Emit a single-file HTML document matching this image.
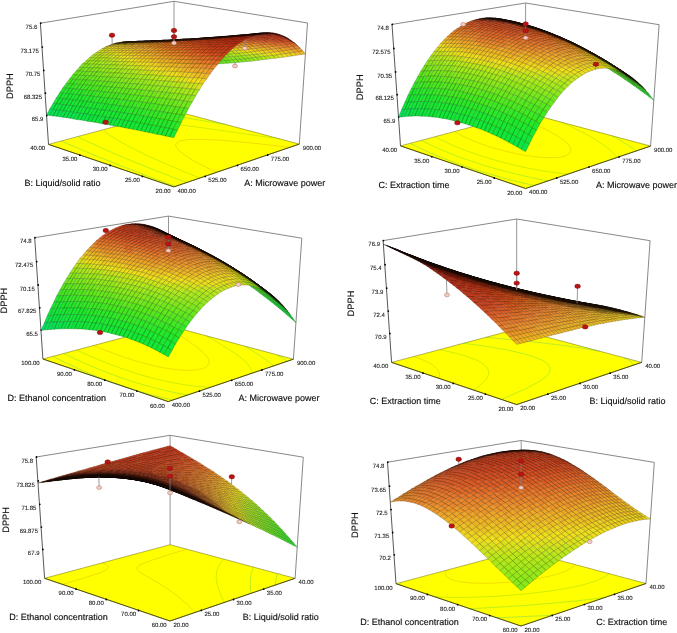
<!DOCTYPE html>
<html><head><meta charset="utf-8"><style>
html,body{margin:0;padding:0;background:#fff;width:677px;height:633px;overflow:hidden}
svg{display:block;filter:blur(0.3px)}
text{text-rendering:geometricPrecision}
.t{font:6px "Liberation Sans",sans-serif;fill:#1a1a1a;stroke:#1a1a1a;stroke-width:.1px}
.a{font:9px "Liberation Sans",sans-serif;fill:#111;stroke:#111;stroke-width:.15px}
.d{font:9.3px "Liberation Sans",sans-serif;fill:#111;stroke:#111;stroke-width:.15px}
.aa{fill:#26e82b;stroke:#116813}.ab{fill:#2de828;stroke:#146812}.ac{fill:#35e826;stroke:#176811}.ad{fill:#3de824;stroke:#1b6810}.ae{fill:#44e821;stroke:#1e680e}.af{fill:#4ce81f;stroke:#22680d}.ag{fill:#55e81e;stroke:#26680d}.ah{fill:#5fe81d;stroke:#2a680d}.ai{fill:#69e81d;stroke:#2f680d}.aj{fill:#73e81d;stroke:#33680d}.ak{fill:#7de81c;stroke:#38680c}.al{fill:#88e81c;stroke:#3d680c}.am{fill:#93e81c;stroke:#42680c}.an{fill:#9ee81c;stroke:#47680c}.ao{fill:#a9e81c;stroke:#4c680c}.ap{fill:#b8e71c;stroke:#52670c}.aq{fill:#cae41c;stroke:#5a660c}.ar{fill:#dce11c;stroke:#63650c}.as{fill:#eede1c;stroke:#6b630c}.at{fill:#eed01f;stroke:#6b5d0d}.au{fill:#eec122;stroke:#6b560f}.av{fill:#eeb325;stroke:#6b5010}.aw{fill:#eea528;stroke:#6b4a12}.ax{fill:#ec9629;stroke:#6a4312}.ay{fill:#e9872a;stroke:#683c12}.az{fill:#e67929;stroke:#673612}.aA{fill:#e26a26;stroke:#652f11}.aB{fill:#de5c24;stroke:#632910}.aC{fill:#d64f20;stroke:#60230e}.aD{fill:#cf441d;stroke:#5d1e0d}.aE{fill:#ca3d1a;stroke:#5a1b0b}.aF{fill:#c63818;stroke:#59190a}.aG{fill:#c23316;stroke:#571609}.aH{fill:#bd2f14;stroke:#551509}.aI{fill:#8fb415;stroke:#405109}.aJ{fill:#9db115;stroke:#464f09}.aK{fill:#abaf15;stroke:#4c4e09}.aL{fill:#b9ad15;stroke:#534d09}.aM{fill:#b9a218;stroke:#53480a}.aN{fill:#b9961a;stroke:#53430b}.aO{fill:#b98b1c;stroke:#533e0c}.aP{fill:#b92a12;stroke:#531208}.aQ{fill:#717f0f;stroke:#323906}.aR{fill:#7b7e0f;stroke:#373806}.aS{fill:#857c0f;stroke:#3b3706}.aT{fill:#857411;stroke:#3b3407}.aU{fill:#b9801f;stroke:#53390d}.aV{fill:#b8751f;stroke:#52340d}.aW{fill:#b56920;stroke:#512f0e}.aX{fill:#b35e1f;stroke:#502a0d}.aY{fill:#b0521d;stroke:#4f240d}.aZ{fill:#ad471c;stroke:#4d1f0c}.a0{fill:#a63d18;stroke:#4a1b0a}.a1{fill:#a13516;stroke:#481709}.a2{fill:#9d2f14;stroke:#461509}.a3{fill:#9a2b12;stroke:#451308}.a4{fill:#972711;stroke:#431107}.a5{fill:#93240f;stroke:#421006}.a6{fill:#90200e;stroke:#400e06}.a7{fill:#856c13;stroke:#3b3008}.a8{fill:#856414;stroke:#3b2d09}.a9{fill:#855c16;stroke:#3b2909}.ba{fill:#845416;stroke:#3b2509}.bb{fill:#824b17;stroke:#3a210a}.bc{fill:#804316;stroke:#391e09}.bd{fill:#7e3b15;stroke:#381a09}.be{fill:#7c3314;stroke:#371609}.bf{fill:#772c11;stroke:#351307}.bg{fill:#732610;stroke:#331107}.bh{fill:#71220e;stroke:#320f06}.bi{fill:#6e1f0d;stroke:#310d05}.bj{fill:#6c1c0c;stroke:#300c05}.bk{fill:#691a0b;stroke:#2f0b04}.bl{fill:#67170a;stroke:#2e0a04}.bm{fill:#631509;stroke:#2c0904}.bn{fill:#504b09;stroke:#242104}.bo{fill:#50460a;stroke:#241f04}.bp{fill:#50410b;stroke:#241d04}.bq{fill:#503c0c;stroke:#241b05}.br{fill:#50380d;stroke:#241905}.bs{fill:#50320d;stroke:#241605}.bt{fill:#4f2d0e;stroke:#231406}.bu{fill:#4e290d;stroke:#231205}.bv{fill:#4c240c;stroke:#221005}.bw{fill:#4b1f0c;stroke:#210d05}.bx{fill:#481a0a;stroke:#200b04}.by{fill:#461709;stroke:#1f0a04}.bz{fill:#441408;stroke:#1e0903}.bA{fill:#431308;stroke:#1e0803}.bB{fill:#411107;stroke:#1d0703}.bC{fill:#400f06;stroke:#1c0602}.bD{fill:#3e0e06;stroke:#1b0602}.bE{fill:#150402;stroke:#090100}.bF{fill:#1c1a03;stroke:#0c0b01}.bG{fill:#1c1803;stroke:#0c0a01}.bH{fill:#1c1704;stroke:#0c0a01}.bI{fill:#1c1504;stroke:#0c0901}.bJ{fill:#1c1304;stroke:#0c0801}.bK{fill:#1c1204;stroke:#0c0801}.bL{fill:#1b1005;stroke:#0c0702}.bM{fill:#1b0e04;stroke:#0c0601}.bN{fill:#1b0c04;stroke:#0c0501}.bO{fill:#1a0b04;stroke:#0b0401}.bP{fill:#190903;stroke:#0b0401}.bQ{fill:#180803;stroke:#0a0301}.bR{fill:#180703;stroke:#0a0301}.bS{fill:#170602;stroke:#0a0200}.bT{fill:#170602;stroke:#0a0200}.bU{fill:#160502;stroke:#090200}.bV{fill:#160502;stroke:#090200}.bW{fill:#3c0d05;stroke:#1b0502}.bX{fill:#3a0c05;stroke:#1a0502}.bY{fill:#8a1e0d;stroke:#3e0d05}.bZ{fill:#b22711;stroke:#501107}.b0{fill:#1ee82d;stroke:#0d6814}.b1{fill:#19e732;stroke:#0b6716}.b2{fill:#1be830;stroke:#0c6815}.b3{fill:#14e737;stroke:#096718}.b4{fill:#16e735;stroke:#096717}.b5{fill:#0de543;stroke:#05671e}.b6{fill:#0fe63c;stroke:#06671b}.b7{fill:#12e639;stroke:#086719}.b8{fill:#07e257;stroke:#036527}.b9{fill:#09e350;stroke:#046624}.ca{fill:#0be449;stroke:#046620}.cb{fill:#83b415;stroke:#3a5109}.cc{fill:#7bb415;stroke:#375109}.cd{fill:#72b415;stroke:#335109}.ce{fill:#6ab415;stroke:#2f5109}.cf{fill:#61b415;stroke:#2b5109}.cg{fill:#59b416;stroke:#285109}.ch{fill:#51b416;stroke:#245109}.ci{fill:#4ab416;stroke:#215109}.cj{fill:#42b417;stroke:#1d510a}.ck{fill:#3bb418;stroke:#1a510a}.cl{fill:#35b419;stroke:#17510b}.cm{fill:#2fb41c;stroke:#15510c}.cn{fill:#67810f;stroke:#2e3a06}.co{fill:#5e810f;stroke:#2a3a06}.cp{fill:#58810f;stroke:#273a06}.cq{fill:#52810f;stroke:#243a06}.cr{fill:#4c810f;stroke:#223a06}.cs{fill:#46810f;stroke:#1f3a06}.ct{fill:#408110;stroke:#1c3a07}.cu{fill:#3a8110;stroke:#1a3a07}.cv{fill:#358110;stroke:#173a07}.cw{fill:#2f8110;stroke:#153a07}.cx{fill:#2a8111;stroke:#123a07}.cy{fill:#4a4c09;stroke:#212204}.cz{fill:#444d09;stroke:#1e2204}.cA{fill:#3e4e09;stroke:#1b2304}.cB{fill:#394e09;stroke:#192304}.cC{fill:#354e09;stroke:#172304}.cD{fill:#314e09;stroke:#162304}.cE{fill:#2e4e09;stroke:#142304}.cF{fill:#2a4e09;stroke:#122304}.cG{fill:#274e09;stroke:#112304}.cH{fill:#234e09;stroke:#0f2304}.cI{fill:#1a1b03;stroke:#0b0c01}.cJ{fill:#181b03;stroke:#0a0c01}.cK{fill:#161b03;stroke:#090c01}.cL{fill:#141b03;stroke:#090c01}.cM{fill:#121b03;stroke:#080c01}.cN{fill:#111b03;stroke:#070c01}.cO{fill:#101b03;stroke:#070c01}.cP{fill:#0f1b03;stroke:#060c01}.cQ{fill:#29b41d;stroke:#12510d}.cR{fill:#23b41f;stroke:#0f510d}.cS{fill:#17b423;stroke:#0a510f}.cT{fill:#15b425;stroke:#095110}.cU{fill:#228114;stroke:#0f3a09}.cV{fill:#198116;stroke:#0b3a09}.cW{fill:#158118;stroke:#093a0a}.cX{fill:#268112;stroke:#113a08}.cY{fill:#1d8115;stroke:#0d3a09}.cZ{fill:#204e09;stroke:#0e2304}.c0{fill:#1c4e0a;stroke:#0c2304}.c1{fill:#194e0a;stroke:#0b2304}.c2{fill:#174e0b;stroke:#0a2304}.c3{fill:#0d1b03;stroke:#050c01}.c4{fill:#0c1b03;stroke:#050c01}.c5{fill:#0b1b03;stroke:#040c01}.c6{fill:#0a1b03;stroke:#040c01}.c7{fill:#03e064;stroke:#01642d}.c8{fill:#05e15d;stroke:#026529}.c9{fill:#5f1408;stroke:#2a0903}.da{fill:#140401;stroke:#090100}.db{fill:#5b1307;stroke:#280803}.dc{fill:#370b04;stroke:#180401}.dd{fill:#130401;stroke:#080100}.de{fill:#350a04;stroke:#170401}.df{fill:#120301;stroke:#080100}.dg{fill:#851c0c;stroke:#3b0c05}.dh{fill:#320904;stroke:#160401}.di{fill:#120301;stroke:#080100}.dj{fill:#571107;stroke:#270703}.dk{fill:#7f1a0a;stroke:#390b04}.dl{fill:#ab2510;stroke:#4c1007}.dm{fill:#300803;stroke:#150301}.dn{fill:#110301;stroke:#070100}.do{fill:#7a180a;stroke:#360a04}.dp{fill:#a4220e;stroke:#490f06}.dq{fill:#2e0803;stroke:#140301}.dr{fill:#100201;stroke:#070000}.ds{fill:#541006;stroke:#250702}.dt{fill:#9d200d;stroke:#460e05}
</style></head><body>
<svg width="677" height="633" viewBox="0 0 677 633">
<rect width="677" height="633" fill="#fff"/>
<path d="M40.4 23.2L174 1.3" stroke="#7a7a7a" stroke-width="0.9"/>
<path d="M174 1.3L307.5 23" stroke="#7a7a7a" stroke-width="0.9"/>
<path d="M174 1.3L174 110.7" stroke="#8a8a8a" stroke-width="0.9"/>
<path d="M307.5 23L299.3 144.1" stroke="#7a7a7a" stroke-width="0.9"/>
<path d="M40.4 23.2L48.5 144.4" stroke="#444" stroke-width="0.9"/>
<circle cx="40.7" cy="23.2" r="0.9"/>
<text x="37.3" y="28.8" text-anchor="end" class="t">75.6</text>
<circle cx="42.3" cy="47.1" r="0.9"/>
<text x="38.9" y="52.7" text-anchor="end" class="t">73.175</text>
<circle cx="43.8" cy="70.4" r="0.9"/>
<text x="40.4" y="76" text-anchor="end" class="t">70.75</text>
<circle cx="45.4" cy="93.2" r="0.9"/>
<text x="42" y="98.8" text-anchor="end" class="t">68.325</text>
<circle cx="46.8" cy="115.5" r="0.9"/>
<text x="43.4" y="121.1" text-anchor="end" class="t">65.9</text>
<path d="M48.5 144.4L173.9 186.9 299.3 144.1 174 110.7Z" fill="#ffff00" stroke="#6a6a00" stroke-width="0.5"/>
<g fill="none" stroke-width="0.55" stroke-opacity="0.5"><path d="M175.3 186.4 171.9 185.1 168.6 183.9 165.3 182.7 162 181.4 158.7 180.2 155.4 179 152.2 177.8 149 176.6 145.9 175.4 142.7 174.2 139.6 173 136.6 171.8 133.5 170.6 130.5 169.4 127.5 168.3 124.6 167.1 121.6 166 118.7 164.8 115.8 163.7 113 162.5 110.1 161.4 107.3 160.3 104.5 159.2 101.8 158.1 99 157 96.4 155.9 93.7 154.8 91 153.7 88.4 152.6 85.8 151.5 83.2 150.4 80.7 149.3 78.1 148.3 75.6 147.2 73.2 146.2 70.7 145.1 68.3 144.1 65.9 143 63.5 142 61.2 140.9" stroke="#00b6a2"/><path d="M186.6 182.5 183.3 181.3 180.1 180 176.8 178.8 173.6 177.6 170.5 176.3 167.3 175.1 164.2 173.9 161.1 172.7 158 171.5 155 170.3 152 169.1 149 167.9 146.1 166.7 143.2 165.5 140.3 164.3 137.9 163.4 134.6 162 131.8 160.9 129 159.7 126.3 158.6 123.5 157.4 120.9 156.3 118.2 155.2 115.5 154 112.9 152.9 110.4 151.8 107.8 150.7 105.3 149.6 102.8 148.5 100.3 147.4 97.9 146.3 95.5 145.2 93.1 144.1 90.8 143 88.5 142 86.2 140.9 83.9 139.8 79.5 137.7 77.3 136.6M225.6 124.5 219.7 123.5 216 122.9 212.3 122.3 208.6 121.7 204.9 121 201.3 120.4 197.7 119.8 194.6 119.3 190.5 118.6 186.9 118 183.3 117.4 179.8 116.8 176.3 116.2 172.7 115.6 169.2 115 165.8 114.4 162.3 113.8" stroke="#12c65f"/><path d="M199.8 178.1 196.6 176.8 193.5 175.5 190.4 174.3 187.3 173 184.3 171.7 181.3 170.5 178.4 169.2 175.5 168 172.6 166.8 169.7 165.6 166.9 164.3 164.1 163.1 161.4 161.9 158.7 160.7 156 159.5 153.3 158.3 150.7 157.1 148.1 155.9 145.6 154.7 143.1 153.5 140.6 152.3 138.2 151.1 135.8 150 133.5 148.8 131.2 147.6 128.9 146.4 126.6 145.3 122.4 142.9 118.3 140.6 114.4 138.2 112.1 136.8 109 134.6 105.9 132.2 103.9 130.5 103.1 129.7M279.9 139 274 138.1 269.8 137.5 266.4 137 261.4 136.3 257.2 135.7 253.1 135.1 248.9 134.5 244.8 133.9 240.7 133.3 236.6 132.7 232.5 132.1 228.4 131.5 224.4 130.9 220.3 130.3 216.3 129.8 212.2 129.2 208.2 128.6 204.2 128.1 200.2 127.5 196.1 126.9 192.2 126.4 188.1 125.9 184.1 125.3 180.1 124.8 176.1 124.3 172 123.8 168.3 123.3 163.9 122.8 159.9 122.3 155.7 121.8 151.6 121.4 148.8 121.1 143.1 120.5 140.1 120.2 138.8 120.1" stroke="#5abe00"/><path d="M216.5 172.4 213.7 171 210.9 169.7 208.1 168.3 205.5 167 202.8 165.6 200.2 164.3 197.7 163 195.3 161.6 192.9 160.3 190.6 158.9 188.4 157.5 186.2 156.1 182.3 153.3 178.9 150.4 176.3 147.3 175.6 144.7 178.1 141.8 180.9 140.7 184.5 140 189.1 139.5 194.4 139.3 200.6 139.3 207.4 139.5 213.5 139.8 218.6 140.1 223.1 140.4 228.6 140.8 231.9 141.1 238.2 141.7 241.2 142 247.7 142.6 251 143 257.1 143.6 261.2 144 266.5 144.7 271.2 145.2 275.8 145.7 280.5 146.3 285.2 146.8 289.8 147.4" stroke="#c88c00"/></g>
<path d="M48.5 144.4L173.9 186.9 299.3 144.1" fill="none" stroke="#3a3a00" stroke-width="0.8"/>
<text x="45.2" y="150.4" text-anchor="end" class="t">40.00</text>
<circle cx="79.9" cy="155.2" r="0.9"/>
<text x="77.4" y="161" text-anchor="end" class="t">35.00</text>
<circle cx="110.2" cy="165.5" r="0.9"/>
<text x="107.7" y="171.3" text-anchor="end" class="t">30.00</text>
<circle cx="142.4" cy="176.4" r="0.9"/>
<text x="139.9" y="182.2" text-anchor="end" class="t">25.00</text>
<text x="170.6" y="192.9" text-anchor="end" class="t">20.00</text>
<text x="177.4" y="192.7" class="t">400.00</text>
<circle cx="205.2" cy="176.4" r="0.9"/>
<text x="208.3" y="182.2" class="t">525.00</text>
<circle cx="237.5" cy="165.4" r="0.9"/>
<text x="240.6" y="171.2" class="t">650.00</text>
<circle cx="267.7" cy="155" r="0.9"/>
<text x="270.8" y="160.8" class="t">775.00</text>
<text x="302.8" y="149.9" class="t">900.00</text>
<text x="62.4" y="186" class="a" text-anchor="middle">B: Liquid/solid ratio</text>
<text x="284.7" y="186" class="a" text-anchor="middle">A: Microwave power</text>
<text transform="translate(13.1 99) rotate(-90)" class="d">DPPH</text>
<g transform="scale(.25)" stroke-width="1.2"><path class=aa d="M698 250l12 12 -14 0 -11-11z"/><path class=ab d="M712 250l11 12 -13 0 -12-12zm13 0l12 12 -14 0 -11-12z"/><path class=ac d="M739 250l12 11 -14 1 -12-12zm14-1l12 12 -14 0 -12-11z"/><path class=ad d="M767 249l12 12 -14 0 -12-12zm15-1l11 12 -14 1 -12-12z"/><path class=ae d="M796 247l11 12 -14 1 -11-12zm14 0l12 12 -15 0 -11-12z"/><path class=af d="M825 246l11 12 -14 1 -12-12zm14-1l12 12 -15 1 -11-12z"/><path class=ag d="M854 244l11 12 -14 1 -12-12zm15-1l11 12 -15 1 -11-12z"/><path class=ah d="M884 242l11 12 -15 1 -11-12z"/><path class=ai d="M899 241l11 12 -15 1 -11-12zm15-1l11 12 -15 1 -11-12z"/><path class=aj d="M930 238l11 13 -16 1 -11-12z"/><path class=ak d="M945 237l11 12 -15 2 -11-13zm16-1l11 12 -16 1 -11-12z"/><path class=al d="M976 234l11 12 -15 2 -11-12zm16-2l11 13 -16 1 -11-12z"/><path class=am d="M1008 231l11 12 -16 2 -11-13z"/><path class=an d="M1024 229l11 12 -16 2 -11-12zm16-2l11 12 -16 2 -11-12z"/><path class=ao d="M1057 225l11 12 -17 2 -11-12z"/><path class=ap d="M1073 223l11 12 -16 2 -11-12z"/><path class=aq d="M1090 221l11 12 -17 2 -11-12zm17-2l11 12 -17 2 -11-12z"/><path class=ar d="M1124 216l11 13 -17 2 -11-12z"/><path class=as d="M1141 214l11 12 -17 3 -11-13z"/><path class=at d="M1158 211l11 13 -17 2 -11-12zm18-2l10 12 -17 3 -11-13z"/><path class=au d="M1193 206l11 12 -18 3 -10-12z"/><path class=av d="M1211 203l11 13 -18 2 -11-12z"/><path class=ac d="M686 239l12 11 -13 1 -12-11z"/><path class=ad d="M700 239l12 11 -14 0 -12-11zm14 0l11 11 -13 0 -12-11z"/><path class=ae d="M728 238l11 12 -14 0 -11-11zm14 0l11 11 -14 1 -11-12z"/><path class=af d="M756 237l11 12 -14 0 -11-11zm14 0l12 11 -15 1 -11-12z"/><path class=ag d="M784 236l12 11 -14 1 -12-11zm15-1l11 12 -14 0 -12-11z"/><path class=ah d="M813 235l12 11 -15 1 -11-12zm15-1l11 11 -14 1 -12-11z"/><path class=ai d="M843 233l11 11 -15 1 -11-11z"/><path class=aj d="M858 232l11 11 -15 1 -11-11zm15-1l11 11 -15 1 -11-11z"/><path class=ak d="M888 230l11 11 -15 1 -11-11zm15-2l11 12 -15 1 -11-11z"/><path class=al d="M918 227l12 11 -16 2 -11-12z"/><path class=am d="M934 226l11 11 -15 1 -12-11zm15-2l12 12 -16 1 -11-11z"/><path class=an d="M965 223l11 11 -15 2 -12-12zm16-2l11 11 -16 2 -11-11z"/><path class=ao d="M997 219l11 12 -16 1 -11-11z"/><path class=ap d="M1013 218l11 11 -16 2 -11-12zm16-2l11 11 -16 2 -11-11z"/><path class=aq d="M1046 214l11 11 -17 2 -11-11z"/><path class=ar d="M1062 212l11 11 -16 2 -11-11z"/><path class=as d="M1079 210l11 11 -17 2 -11-11zm17-3l11 12 -17 2 -11-11z"/><path class=at d="M1113 205l11 11 -17 3 -11-12z"/><path class=au d="M1130 203l11 11 -17 2 -11-11zm17-3l11 11 -17 3 -11-11z"/><path class=av d="M1165 198l11 11 -18 2 -11-11z"/><path class=aw d="M1183 195l10 11 -17 3 -11-11z"/><path class=ax d="M1200 192l11 11 -18 3 -10-11z"/><path class=ae d="M675 229l11 10 -13 1 -12-11z"/><path class=af d="M688 229l12 10 -14 0 -11-10zm14-1l12 11 -14 0 -12-10z"/><path class=ag d="M716 228l12 10 -14 1 -12-11zm14-1l12 11 -14 0 -12-10z"/><path class=ah d="M744 227l12 10 -14 1 -12-11zm14-1l12 11 -14 0 -12-10z"/><path class=ai d="M773 226l11 10 -14 1 -12-11zm14-1l12 10 -15 1 -11-10z"/><path class=aj d="M802 224l11 11 -14 0 -12-10zm14-1l12 11 -15 1 -11-11z"/><path class=ak d="M831 222l12 11 -15 1 -12-11zm15-1l12 11 -15 1 -12-11z"/><path class=al d="M861 220l12 11 -15 1 -12-11z"/><path class=am d="M876 219l12 11 -15 1 -12-11zm16-1l11 10 -15 2 -12-11z"/><path class=an d="M907 216l11 11 -15 1 -11-10zm15-1l12 11 -16 1 -11-11z"/><path class=ao d="M938 213l11 11 -15 2 -12-11z"/><path class=ap d="M954 212l11 11 -16 1 -11-11zm16-2l11 11 -16 2 -11-11z"/><path class=aq d="M986 209l11 10 -16 2 -11-11z"/><path class=ar d="M1002 207l11 11 -16 1 -11-10zm16-2l11 11 -16 2 -11-11z"/><path class=as d="M1035 203l11 11 -17 2 -11-11z"/><path class=at d="M1051 201l11 11 -16 2 -11-11zm17-2l11 11 -17 2 -11-11z"/><path class=au d="M1085 197l11 10 -17 3 -11-11z"/><path class=av d="M1102 194l11 11 -17 2 -11-10z"/><path class=aw d="M1119 192l11 11 -17 2 -11-11zm17-2l11 10 -17 3 -11-11z"/><path class=ax d="M1154 187l11 11 -18 2 -11-10z"/><path class=ay d="M1172 184l11 11 -18 3 -11-11zm17-2l11 10 -17 3 -11-11z"/><path class=ag d="M663 219l12 10 -14 0 -12-9z"/><path class=ah d="M677 219l11 10 -13 0 -12-10zm13 0l12 9 -14 1 -11-10zm14-1l12 10 -14 0 -12-9z"/><path class=ai d="M718 218l12 9 -14 1 -12-10zm15-1l11 10 -14 0 -12-9z"/><path class=aj d="M747 216l11 10 -14 1 -11-10z"/><path class=ak d="M761 216l12 10 -15 0 -11-10zm15-1l11 10 -14 1 -12-10z"/><path class=al d="M790 214l12 10 -15 1 -11-10zm15-1l11 10 -14 1 -12-10z"/><path class=am d="M820 212l11 10 -15 1 -11-10zm15-1l11 10 -15 1 -11-10z"/><path class=an d="M850 210l11 10 -15 1 -11-10zm15-1l11 10 -15 1 -11-10z"/><path class=ao d="M880 208l12 10 -16 1 -11-10z"/><path class=ap d="M895 206l12 10 -15 2 -12-10zm16-1l11 10 -15 1 -12-10z"/><path class=aq d="M927 204l11 9 -16 2 -11-10zm15-2l12 10 -16 1 -11-9z"/><path class=ar d="M958 200l12 10 -16 2 -12-10z"/><path class=as d="M974 199l12 10 -16 1 -12-10zm17-2l11 10 -16 2 -12-10z"/><path class=at d="M1007 195l11 10 -16 2 -11-10z"/><path class=au d="M1023 193l12 10 -17 2 -11-10zm17-2l11 10 -16 2 -12-10z"/><path class=av d="M1057 189l11 10 -17 2 -11-10z"/><path class=aw d="M1074 187l11 10 -17 2 -11-10zm17-2l11 9 -17 3 -11-10z"/><path class=ax d="M1108 182l11 10 -17 2 -11-9z"/><path class=ay d="M1125 180l11 10 -17 2 -11-10z"/><path class=az d="M1143 177l11 10 -18 3 -11-10zm18-2l11 9 -18 3 -11-10z"/><path class=aA d="M1178 172l11 10 -17 2 -11-9z"/><path class=ai d="M651 210l12 9 -14 1 -12-9zm14 0l12 9 -14 0 -12-9z"/><path class=aj d="M679 210l11 9 -13 0 -12-9zm14-1l11 9 -14 1 -11-9z"/><path class=ak d="M707 209l11 9 -14 0 -11-9zm14-1l12 9 -15 1 -11-9z"/><path class=al d="M735 207l12 9 -14 1 -12-9zm14 0l12 9 -14 0 -12-9z"/><path class=am d="M764 206l12 9 -15 1 -12-9zm14-1l12 9 -14 1 -12-9z"/><path class=an d="M793 204l12 9 -15 1 -12-9zm15-1l12 9 -15 1 -12-9z"/><path class=ao d="M823 202l12 9 -15 1 -12-9z"/><path class=ap d="M838 201l12 9 -15 1 -12-9zm15-1l12 9 -15 1 -12-9z"/><path class=aq d="M868 199l12 9 -15 1 -12-9zm16-2l11 9 -15 2 -12-9z"/><path class=ar d="M899 196l12 9 -16 1 -11-9zm16-1l12 9 -16 1 -12-9z"/><path class=as d="M931 193l11 9 -15 2 -12-9z"/><path class=at d="M947 191l11 9 -16 2 -11-9zm16-1l11 9 -16 1 -11-9z"/><path class=au d="M979 188l12 9 -17 2 -11-9z"/><path class=av d="M995 186l12 9 -16 2 -12-9zm17-2l11 9 -16 2 -12-9z"/><path class=aw d="M1029 182l11 9 -17 2 -11-9z"/><path class=ax d="M1045 180l12 9 -17 2 -11-9zm17-2l12 9 -17 2 -12-9z"/><path class=ay d="M1079 176l12 9 -17 2 -12-9z"/><path class=az d="M1097 174l11 8 -17 3 -12-9zm17-3l11 9 -17 2 -11-8z"/><path class=aA d="M1132 169l11 8 -18 3 -11-9z"/><path class=aB d="M1149 166l12 9 -18 2 -11-8z"/><path class=aC d="M1167 164l11 8 -17 3 -12-9z"/><path class=aj d="M639 202l12 8 -14 1 -12-8z"/><path class=ak d="M653 202l12 8 -14 0 -12-8zm14-1l12 9 -14 0 -12-8z"/><path class=al d="M681 201l12 8 -14 1 -12-9zm14-1l12 9 -14 0 -12-8z"/><path class=am d="M709 200l12 8 -14 1 -12-9zm14-1l12 8 -14 1 -12-8z"/><path class=an d="M737 198l12 9 -14 0 -12-8zm15 0l12 8 -15 1 -12-9z"/><path class=ao d="M767 197l11 8 -14 1 -12-8zm14-1l12 8 -15 1 -11-8z"/><path class=ap d="M796 195l12 8 -15 1 -12-8zm15-1l12 8 -15 1 -12-8z"/><path class=aq d="M826 193l12 8 -15 1 -12-8z"/><path class=ar d="M841 192l12 8 -15 1 -12-8zm16-2l11 9 -15 1 -12-8z"/><path class=as d="M872 189l12 8 -16 2 -11-9zm16-1l11 8 -15 1 -12-8z"/><path class=at d="M903 186l12 9 -16 1 -11-8z"/><path class=au d="M919 185l12 8 -16 2 -12-9zm16-2l12 8 -16 2 -12-8z"/><path class=av d="M951 182l12 8 -16 1 -12-8zm16-2l12 8 -16 2 -12-8z"/><path class=aw d="M984 178l11 8 -16 2 -12-8z"/><path class=ax d="M1000 176l12 8 -17 2 -11-8zm17-2l12 8 -17 2 -12-8z"/><path class=ay d="M1034 172l11 8 -16 2 -12-8z"/><path class=az d="M1051 170l11 8 -17 2 -11-8zm17-2l11 8 -17 2 -11-8z"/><path class=aA d="M1085 166l12 8 -18 2 -11-8z"/><path class=aB d="M1103 163l11 8 -17 3 -12-8z"/><path class=aC d="M1120 161l12 8 -18 2 -11-8zm18-2l11 7 -17 3 -12-8z"/><path class=aD d="M1156 156l11 8 -18 2 -11-7z"/><path class=al d="M627 195l12 7 -14 1 -12-8zm14 0l12 7 -14 0 -12-7z"/><path class=am d="M655 194l12 7 -14 1 -12-7zm14 0l12 7 -14 0 -12-7z"/><path class=an d="M683 193l12 7 -14 1 -12-7zm14-1l12 8 -14 0 -12-7z"/><path class=ao d="M711 192l12 7 -14 1 -12-8zm14-1l12 7 -14 1 -12-7z"/><path class=ap d="M740 190l12 8 -15 0 -12-7zm15-1l12 8 -15 1 -12-8z"/><path class=aq d="M769 188l12 8 -14 1 -12-8zm15 0l12 7 -15 1 -12-8z"/><path class=ar d="M799 186l12 8 -15 1 -12-7zm15-1l12 8 -15 1 -12-8z"/><path class=as d="M829 184l12 8 -15 1 -12-8z"/><path class=at d="M845 183l12 7 -16 2 -12-8zm15-1l12 7 -15 1 -12-7z"/><path class=au d="M876 180l12 8 -16 1 -12-7zm15-1l12 7 -15 2 -12-8z"/><path class=av d="M907 178l12 7 -16 1 -12-7z"/><path class=aw d="M923 176l12 7 -16 2 -12-7zm16-2l12 8 -16 1 -12-7z"/><path class=ax d="M956 173l11 7 -16 2 -12-8zm16-2l12 7 -17 2 -11-7z"/><path class=ay d="M989 169l11 7 -16 2 -12-7z"/><path class=az d="M1005 167l12 7 -17 2 -11-7zm17-2l12 7 -17 2 -12-7z"/><path class=aA d="M1039 163l12 7 -17 2 -12-7z"/><path class=aB d="M1056 161l12 7 -17 2 -12-7zm18-2l11 7 -17 2 -12-7z"/><path class=aC d="M1091 157l12 6 -18 3 -11-7z"/><path class=aD d="M1109 154l11 7 -17 2 -12-6zm17-2l12 7 -18 2 -11-7z"/><path class=aE d="M1144 149l12 7 -18 3 -12-7z"/><path class=am d="M615 188l12 7 -14 0 -12-6z"/><path class=an d="M629 188l12 7 -14 0 -12-7zm13 0l13 6 -14 1 -12-7z"/><path class=ao d="M656 187l13 7 -14 0 -13-6zm14-1l13 7 -14 1 -13-7z"/><path class=ap d="M685 186l12 6 -14 1 -13-7zm14-1l12 7 -14 0 -12-6z"/><path class=aq d="M713 184l12 7 -14 1 -12-7zm15 0l12 6 -15 1 -12-7z"/><path class=ar d="M742 183l13 6 -15 1 -12-6zm15-1l12 6 -14 1 -13-6z"/><path class=as d="M772 181l12 7 -15 0 -12-6zm15-1l12 6 -15 2 -12-7z"/><path class=at d="M802 179l12 6 -15 1 -12-6zm15-1l12 6 -15 1 -12-6z"/><path class=au d="M833 177l12 6 -16 1 -12-6zm15-2l12 7 -15 1 -12-6z"/><path class=av d="M864 174l12 6 -16 2 -12-7z"/><path class=aw d="M879 173l12 6 -15 1 -12-6zm16-2l12 7 -16 1 -12-6z"/><path class=ax d="M911 170l12 6 -16 2 -12-7zm16-2l12 6 -16 2 -12-6z"/><path class=ay d="M944 166l12 7 -17 1 -12-6z"/><path class=az d="M960 165l12 6 -16 2 -12-7zm17-2l12 6 -17 2 -12-6z"/><path class=aA d="M993 161l12 6 -16 2 -12-6z"/><path class=aB d="M1010 159l12 6 -17 2 -12-6zm17-2l12 6 -17 2 -12-6z"/><path class=aC d="M1044 155l12 6 -17 2 -12-6z"/><path class=aD d="M1062 153l12 6 -18 2 -12-6zm17-2l12 6 -17 2 -12-6z"/><path class=aE d="M1097 148l12 6 -18 3 -12-6z"/><path class=aF d="M1115 146l11 6 -17 2 -12-6zm18-2l11 5 -18 3 -11-6z"/><path class=an d="M602 183l13 5 -14 1 -12-6z"/><path class=ao d="M616 182l13 6 -14 0 -13-5zm14 0l12 6 -13 0 -13-6z"/><path class=ap d="M644 181l12 6 -14 1 -12-6zm14 0l12 5 -14 1 -12-6z"/><path class=aq d="M672 180l13 6 -15 0 -12-5zm15-1l12 6 -14 1 -13-6z"/><path class=ar d="M701 179l12 5 -14 1 -12-6zm15-1l12 6 -15 0 -12-5z"/><path class=as d="M730 177l12 6 -14 1 -12-6zm15-1l12 6 -15 1 -12-6z"/><path class=at d="M760 175l12 6 -15 1 -12-6zm15-1l12 6 -15 1 -12-6z"/><path class=au d="M790 173l12 6 -15 1 -12-6zm15-1l12 6 -15 1 -12-6z"/><path class=av d="M821 171l12 6 -16 1 -12-6z"/><path class=aw d="M836 170l12 5 -15 2 -12-6zm16-2l12 6 -16 1 -12-5z"/><path class=ax d="M867 167l12 6 -15 1 -12-6zm16-1l12 5 -16 2 -12-6z"/><path class=ay d="M899 164l12 6 -16 1 -12-5z"/><path class=az d="M915 163l12 5 -16 2 -12-6zm17-2l12 5 -17 2 -12-5z"/><path class=aA d="M948 159l12 6 -16 1 -12-5zm17-1l12 5 -17 2 -12-6z"/><path class=aB d="M981 156l12 5 -16 2 -12-5z"/><path class=aC d="M998 154l12 5 -17 2 -12-5zm17-2l12 5 -17 2 -12-5z"/><path class=aD d="M1032 150l12 5 -17 2 -12-5z"/><path class=aE d="M1050 148l12 5 -18 2 -12-5zm17-2l12 5 -17 2 -12-5z"/><path class=aF d="M1085 144l12 4 -18 3 -12-5z"/><path class=aG d="M1103 141l12 5 -18 2 -12-4zm18-2l12 5 -18 2 -12-5z"/><path class=ao d="M590 178l12 5 -13 0 -13-5z"/><path class=ap d="M604 177l12 5 -14 1 -12-5zm14 0l12 5 -14 0 -12-5z"/><path class=aq d="M632 176l12 5 -14 1 -12-5zm14 0l12 5 -14 0 -12-5z"/><path class=ar d="M660 175l12 5 -14 1 -12-5zm14-1l13 5 -15 1 -12-5z"/><path class=as d="M689 174l12 5 -14 0 -13-5zm14-1l13 5 -15 1 -12-5z"/><path class=at d="M718 172l12 5 -14 1 -13-5zm15-1l12 5 -15 1 -12-5z"/><path class=au d="M748 170l12 5 -15 1 -12-5zm15-1l12 5 -15 1 -12-5z"/><path class=av d="M778 168l12 5 -15 1 -12-5z"/><path class=aw d="M793 167l12 5 -15 1 -12-5zm15-1l13 5 -16 1 -12-5z"/><path class=ax d="M824 165l12 5 -15 1 -13-5zm15-1l13 4 -16 2 -12-5z"/><path class=ay d="M855 162l12 5 -15 1 -13-4zm16-1l12 5 -16 1 -12-5z"/><path class=az d="M887 160l12 4 -16 2 -12-5z"/><path class=aA d="M903 158l12 5 -16 1 -12-4zm17-1l12 4 -17 2 -12-5z"/><path class=aB d="M936 155l12 4 -16 2 -12-4zm17-2l12 5 -17 1 -12-4z"/><path class=aC d="M969 152l12 4 -16 2 -12-5z"/><path class=aD d="M986 150l12 4 -17 2 -12-4zm17-2l12 4 -17 2 -12-4z"/><path class=aE d="M1020 146l12 4 -17 2 -12-4zm18-2l12 4 -18 2 -12-4z"/><path class=aF d="M1055 142l12 4 -17 2 -12-4z"/><path class=aG d="M1073 140l12 4 -18 2 -12-4zm18-3l12 4 -18 3 -12-4z"/><path class=aH d="M1109 135l12 4 -18 2 -12-4z"/><path class=aI d="M578 174l12 4 -14 0 -12-4z"/><path class=aJ d="M591 173l13 4 -14 1 -12-4zm14 0l13 4 -14 0 -13-4z"/><path class=aK d="M619 172l13 4 -14 1 -13-4zm14 0l13 4 -14 0 -13-4z"/><path class=aL d="M648 171l12 4 -14 1 -13-4zm14-1l12 4 -14 1 -12-4z"/><path class=aM d="M676 170l13 4 -15 0 -12-4zm15-1l12 4 -14 1 -13-4z"/><path class=aN d="M706 168l12 4 -15 1 -12-4zm14-1l13 4 -15 1 -12-4z"/><path class=aO d="M735 166l13 4 -15 1 -13-4zm15-1l13 4 -15 1 -13-4z"/><path class=aw d="M765 164l13 4 -15 1 -13-4zm16-1l12 4 -15 1 -13-4z"/><path class=ax d="M796 162l12 4 -15 1 -12-4z"/><path class=ay d="M811 161l13 4 -16 1 -12-4zm16-1l12 4 -15 1 -13-4z"/><path class=az d="M843 159l12 3 -16 2 -12-4zm16-2l12 4 -16 1 -12-3z"/><path class=aA d="M875 156l12 4 -16 1 -12-4zm16-1l12 3 -16 2 -12-4z"/><path class=aB d="M907 153l13 4 -17 1 -12-3z"/><path class=aC d="M924 152l12 3 -16 2 -13-4zm16-2l13 3 -17 2 -12-3z"/><path class=aD d="M957 148l12 4 -16 1 -13-3zm17-1l12 3 -17 2 -12-4z"/><path class=aE d="M991 145l12 3 -17 2 -12-3z"/><path class=aF d="M1008 143l12 3 -17 2 -12-3zm17-2l13 3 -18 2 -12-3z"/><path class=aG d="M1043 139l12 3 -17 2 -13-3z"/><path class=aH d="M1061 137l12 3 -18 2 -12-3zm17-2l13 2 -18 3 -12-3z"/><path class=aP d="M1096 132l13 3 -18 2 -13-2z"/><path class=aQ d="M565 170l13 4 -14 0 -13-3z"/><path class=aR d="M579 170l12 3 -13 1 -13-4zm14 0l12 3 -14 0 -12-3z"/><path class=aS d="M607 169l12 3 -14 1 -12-3zm14-1l12 4 -14 0 -12-3z"/><path class=aT d="M635 168l13 3 -15 1 -12-4zm14-1l13 3 -14 1 -13-3z"/><path class=aN d="M664 167l12 3 -14 0 -13-3zm14-1l13 3 -15 1 -12-3z"/><path class=aO d="M693 165l13 3 -15 1 -13-3zm15-1l12 3 -14 1 -13-3z"/><path class=aU d="M723 163l12 3 -15 1 -12-3zm15-1l12 3 -15 1 -12-3z"/><path class=aV d="M753 162l12 2 -15 1 -12-3zm15-1l13 2 -16 1 -12-2z"/><path class=aW d="M784 159l12 3 -15 1 -13-2zm15-1l12 3 -15 1 -12-3z"/><path class=aX d="M815 157l12 3 -16 1 -12-3zm15-1l13 3 -16 1 -12-3z"/><path class=aY d="M846 155l13 2 -16 2 -13-3z"/><path class=aZ d="M862 153l13 3 -16 1 -13-2zm17-1l12 3 -16 1 -13-3z"/><path class=a0 d="M895 151l12 2 -16 2 -12-3zm16-2l13 3 -17 1 -12-2z"/><path class=a1 d="M928 148l12 2 -16 2 -13-3zm17-2l12 2 -17 2 -12-2z"/><path class=a2 d="M962 144l12 3 -17 1 -12-2z"/><path class=a3 d="M979 143l12 2 -17 2 -12-3zm17-2l12 2 -17 2 -12-2z"/><path class=a4 d="M1013 139l12 2 -17 2 -12-2z"/><path class=a5 d="M1031 137l12 2 -18 2 -12-2zm17-2l13 2 -18 2 -12-2z"/><path class=a6 d="M1066 133l12 2 -17 2 -13-2zm18-2l12 1 -18 3 -12-2z"/><path class=aR d="M553 168l12 2 -14 1 -12-3z"/><path class=aS d="M566 168l13 2 -14 0 -12-2zm14-1l13 3 -14 0 -13-2zm14 0l13 2 -14 1 -13-3z"/><path class=aT d="M608 166l13 2 -14 1 -13-2zm15 0l12 2 -14 0 -13-2z"/><path class=a7 d="M637 165l12 2 -14 1 -12-2zm14-1l13 3 -15 0 -12-2z"/><path class=a8 d="M666 164l12 2 -14 1 -13-3zm14-1l13 2 -15 1 -12-2z"/><path class=a9 d="M695 162l13 2 -15 1 -13-2zm15-1l13 2 -15 1 -13-2z"/><path class=ba d="M725 160l13 2 -15 1 -13-2zm15-1l13 3 -15 0 -13-2z"/><path class=bb d="M756 159l12 2 -15 1 -13-3zm15-2l13 2 -16 2 -12-2z"/><path class=bc d="M786 156l13 2 -15 1 -13-2z"/><path class=bd d="M802 155l13 2 -16 1 -13-2zm16-1l12 2 -15 1 -13-2z"/><path class=be d="M834 153l12 2 -16 1 -12-2zm16-1l12 1 -16 2 -12-2z"/><path class=bf d="M866 150l13 2 -17 1 -12-1zm16-1l13 2 -16 1 -13-2z"/><path class=bg d="M899 148l12 1 -16 2 -13-2zm16-2l13 2 -17 1 -12-1z"/><path class=bh d="M932 145l13 1 -17 2 -13-2z"/><path class=bi d="M949 143l13 1 -17 2 -13-1zm17-2l13 2 -17 1 -13-1z"/><path class=bj d="M983 140l13 1 -17 2 -13-2zm18-2l12 1 -17 2 -13-1z"/><path class=bk d="M1018 136l13 1 -18 2 -12-1z"/><path class=bl d="M1036 134l12 1 -17 2 -13-1zm18-2l12 1 -18 2 -12-1z"/><path class=bm d="M1072 130l12 1 -18 2 -12-1z"/><path class=bn d="M540 167l13 1 -14 0 -13-1zm14-1l12 2 -13 0 -13-1z"/><path class=bo d="M568 166l12 1 -14 1 -12-2zm14-1l12 2 -14 0 -12-1z"/><path class=bp d="M596 165l12 1 -14 1 -12-2zm14-1l13 2 -15 0 -12-1zm14 0l13 1 -14 1 -13-2z"/><path class=bq d="M639 163l12 1 -14 1 -13-1zm14-1l13 2 -15 0 -12-1z"/><path class=br d="M668 162l12 1 -14 1 -13-2zm15-1l12 1 -15 1 -12-1z"/><path class=bs d="M697 160l13 1 -15 1 -12-1zm15-1l13 1 -15 1 -13-1z"/><path class=bt d="M728 158l12 1 -15 1 -13-1zm15-1l13 2 -16 0 -12-1z"/><path class=bu d="M758 157l13 0 -15 2 -13-2z"/><path class=bv d="M774 155l12 1 -15 1 -13 0zm15-1l13 1 -16 1 -12-1z"/><path class=bw d="M805 153l13 1 -16 1 -13-1zm16-1l13 1 -16 1 -13-1z"/><path class=bx d="M837 151l13 1 -16 1 -13-1zm16-1l13 0 -16 2 -13-1z"/><path class=by d="M870 148l12 1 -16 1 -13 0zm16-1l13 1 -17 1 -12-1z"/><path class=bz d="M903 146l12 0 -16 2 -13-1zm17-2l12 1 -17 1 -12 0z"/><path class=bA d="M936 143l13 0 -17 2 -12-1z"/><path class=bB d="M953 141l13 0 -17 2 -13 0zm18-1l12 0 -17 1 -13 0z"/><path class=bC d="M988 138l13 0 -18 2 -12 0zm18-2l12 0 -17 2 -13 0z"/><path class=bD d="M1023 135l13-1 -18 2 -12 0z"/><path class=bE d="M1041 133l13-1 -18 2 -13 1zm18-2l13-1 -18 2 -13 1z"/><path class=bF d="M527 166l13 1 -14 0 -13-1z"/><path class=bG d="M541 166l13 0 -14 1 -13-1zm14-1l13 1 -14 0 -13 0z"/><path class=bH d="M569 165l13 0 -14 1 -13-1zm14-1l13 1 -14 0 -13 0zm14 0l13 0 -14 1 -13-1z"/><path class=bI d="M611 163l13 1 -14 0 -13 0zm15 0l13 0 -15 1 -13-1z"/><path class=bJ d="M640 162l13 0 -14 1 -13 0zm15-1l13 1 -15 0 -13 0z"/><path class=bK d="M670 161l13 0 -15 1 -13-1zm15-1l12 0 -14 1 -13 0z"/><path class=bL d="M700 159l12 0 -15 1 -12 0zm15-1l13 0 -16 1 -12 0z"/><path class=bM d="M730 157l13 0 -15 1 -13 0zm16-1l12 1 -15 0 -13 0z"/><path class=bN d="M761 156l13-1 -16 2 -12-1zm16-1l12-1 -15 1 -13 1z"/><path class=bO d="M792 154l13-1 -16 1 -12 1z"/><path class=bP d="M808 152l13 0 -16 1 -13 1zm16-1l13 0 -16 1 -13 0z"/><path class=bQ d="M841 150l12 0 -16 1 -13 0zm16-1l13-1 -17 2 -12 0z"/><path class=bR d="M873 148l13-1 -16 1 -13 1zm17-2l13 0 -17 1 -13 1z"/><path class=bS d="M907 145l13-1 -17 2 -13 0zm17-1l12-1 -16 1 -13 1z"/><path class=bT d="M941 142l12-1 -17 2 -12 1z"/><path class=bU d="M958 141l13-1 -18 1 -12 1zm17-2l13-1 -17 2 -13 1z"/><path class=bV d="M993 138l13-2 -18 2 -13 1zm17-2l13-1 -17 1 -13 2z"/><path class=bE d="M1028 134l13-1 -18 2 -13 1zm18-2l13-1 -18 2 -13 1z"/><path class=bG d="M514 166l13 0 -14 0 -12 1zm14 0l13 0 -14 0 -13 0zm14 0l13-1 -14 1 -13 0z"/><path class=bH d="M556 165l13 0 -14 0 -13 1zm14 0l13-1 -14 1 -13 0z"/><path class=bI d="M584 164l13 0 -14 0 -13 1zm15 0l12-1 -14 1 -13 0z"/><path class=bJ d="M613 163l13 0 -15 0 -12 1zm15 0l12-1 -14 1 -13 0z"/><path class=bK d="M642 162l13-1 -15 1 -12 1zm15-1l13 0 -15 0 -13 1z"/><path class=bL d="M672 161l13-1 -15 1 -13 0zm15-1l13-1 -15 1 -13 1z"/><path class=bM d="M702 159l13-1 -15 1 -13 1zm15-1l13-1 -15 1 -13 1z"/><path class=bN d="M733 157l13-1 -16 1 -13 1zm15 0l13-1 -15 0 -13 1z"/><path class=bO d="M764 156l13-1 -16 1 -13 1zm16-1l12-1 -15 1 -13 1z"/><path class=bP d="M796 154l12-2 -16 2 -12 1zm16-1l12-2 -16 1 -12 2z"/><path class=bQ d="M828 152l13-2 -17 1 -12 2zm16-2l13-1 -16 1 -13 2z"/><path class=bR d="M861 149l12-1 -16 1 -13 1zm16-1l13-2 -17 2 -12 1z"/><path class=bS d="M894 147l13-2 -17 1 -13 2z"/><path class=bT d="M911 146l13-2 -17 1 -13 2zm17-2l13-2 -17 2 -13 2z"/><path class=bU d="M945 143l13-2 -17 1 -13 2zm17-2l13-2 -17 2 -13 2z"/><path class=bD d="M980 140l13-2 -18 1 -13 2zm18-2l12-2 -17 2 -13 2z"/><path class=bW d="M1015 137l13-3 -18 2 -12 2z"/><path class=bX d="M1033 135l13-3 -18 2 -13 3z"/><path class=bG d="M501 167l13-1 -13 1 -13 1zm14 0l13-1 -14 0 -13 1z"/><path class=bH d="M529 167l13-1 -14 0 -13 1zm14-1l13-1 -14 1 -13 1z"/><path class=bI d="M557 166l13-1 -14 0 -13 1zm14 0l13-2 -14 1 -13 1zm15-1l13-1 -15 0 -13 2z"/><path class=bJ d="M600 165l13-2 -14 1 -13 1zm15-1l13-1 -15 0 -13 2z"/><path class=bK d="M629 163l13-1 -14 1 -13 1zm15 0l13-2 -15 1 -13 1z"/><path class=bL d="M659 162l13-1 -15 0 -13 2zm15 0l13-2 -15 1 -13 1z"/><path class=bM d="M689 161l13-2 -15 1 -13 2zm15-1l13-2 -15 1 -13 2z"/><path class=bv d="M720 159l13-2 -16 1 -13 2zm15 0l13-2 -15 0 -13 2z"/><path class=bw d="M751 158l13-2 -16 1 -13 2zm16-1l13-2 -16 1 -13 2z"/><path class=bx d="M783 156l13-2 -16 1 -13 2zm16-1l13-2 -16 1 -13 2z"/><path class=by d="M815 154l13-2 -16 1 -13 2zm16-1l13-3 -16 2 -13 2z"/><path class=bz d="M848 152l13-3 -17 1 -13 3zm16-1l13-3 -16 1 -13 3z"/><path class=bA d="M881 150l13-3 -17 1 -13 3z"/><path class=bB d="M898 149l13-3 -17 1 -13 3zm17-2l13-3 -17 2 -13 3z"/><path class=bk d="M932 146l13-3 -17 1 -13 3zm17-1l13-4 -17 2 -13 3z"/><path class=bl d="M967 143l13-3 -18 1 -13 4zm18-1l13-4 -18 2 -13 3z"/><path class=bm d="M1002 141l13-4 -17 1 -13 4zm18-2l13-4 -18 2 -13 4z"/><path class=bo d="M489 170l12-3 -13 1 -13 2zm13-1l13-2 -14 0 -12 3z"/><path class=bp d="M516 169l13-2 -14 0 -13 2zm14 0l13-3 -14 1 -13 2z"/><path class=bq d="M544 168l13-2 -14 0 -13 3zm14 0l13-2 -14 0 -13 2z"/><path class=br d="M573 167l13-2 -15 1 -13 2zm14 0l13-2 -14 0 -13 2z"/><path class=bs d="M602 166l13-2 -15 1 -13 2zm14 0l13-3 -14 1 -13 2zm15-1l13-2 -15 0 -13 3z"/><path class=bt d="M646 165l13-3 -15 1 -13 2zm15-1l13-2 -15 0 -13 3z"/><path class=bu d="M676 164l13-3 -15 1 -13 2zm15-1l13-3 -15 1 -13 3z"/><path class=bv d="M707 162l13-3 -16 1 -13 3z"/><path class=bd d="M722 162l13-3 -15 0 -13 3z"/><path class=be d="M738 161l13-3 -16 1 -13 3zm16-1l13-3 -16 1 -13 3z"/><path class=bf d="M770 159l13-3 -16 1 -13 3zm16-1l13-3 -16 1 -13 3z"/><path class=bg d="M802 158l13-4 -16 1 -13 3zm16-1l13-4 -16 1 -13 4z"/><path class=bh d="M834 156l14-4 -17 1 -13 4zm17-1l13-4 -16 1 -14 4z"/><path class=bi d="M868 154l13-4 -17 1 -13 4zm17-1l13-4 -17 1 -13 4z"/><path class=a4 d="M902 151l13-4 -17 2 -13 4z"/><path class=a5 d="M919 150l13-4 -17 1 -13 4zm17-1l13-4 -17 1 -13 4z"/><path class=a6 d="M954 148l13-5 -18 2 -13 4zm17-1l14-5 -18 1 -13 5z"/><path class=bY d="M989 145l13-4 -17 1 -14 5zm18-1l13-5 -18 2 -13 4z"/><path class=aT d="M476 173l13-3 -14 0 -13 3zm13-1l13-3 -13 1 -13 3z"/><path class=a7 d="M503 172l13-3 -14 0 -13 3zm14 0l13-3 -14 0 -13 3z"/><path class=a8 d="M531 171l13-3 -14 1 -13 3zm14 0l13-3 -14 0 -13 3z"/><path class=a9 d="M560 171l13-4 -15 1 -13 3zm14-1l13-3 -14 0 -13 4zm15 0l13-4 -15 1 -13 3z"/><path class=ba d="M603 169l13-3 -14 0 -13 4zm15 0l13-4 -15 1 -13 3z"/><path class=bb d="M633 169l13-4 -15 0 -13 4zm15-1l13-4 -15 1 -13 4z"/><path class=bc d="M663 167l13-3 -15 0 -13 4zm15 0l13-4 -15 1 -13 3z"/><path class=bd d="M694 166l13-4 -16 1 -13 4zm15 0l13-4 -15 0 -13 4z"/><path class=aZ d="M725 165l13-4 -16 1 -13 4zm15-1l14-4 -16 1 -13 4z"/><path class=a0 d="M756 164l14-5 -16 1 -14 4zm16-1l14-5 -16 1 -14 5z"/><path class=a1 d="M789 162l13-4 -16 0 -14 5zm16-1l13-4 -16 1 -13 4z"/><path class=a2 d="M821 160l13-4 -16 1 -13 4zm17 0l13-5 -17 1 -13 4z"/><path class=a3 d="M855 159l13-5 -17 1 -13 5z"/><path class=aF d="M871 158l14-5 -17 1 -13 5z"/><path class=aG d="M889 157l13-6 -17 2 -14 5zm17-1l13-6 -17 1 -13 6z"/><path class=aH d="M923 155l13-6 -17 1 -13 6zm18-1l13-6 -18 1 -13 6z"/><path class=aP d="M958 152l13-5 -17 1 -13 6zm18-1l13-6 -18 2 -13 5z"/><path class=bZ d="M994 150l13-6 -18 1 -13 6z"/><path class=aT d="M463 177l13-4 -14 0 -13 4zm13-1l13-4 -13 1 -13 4z"/><path class=a7 d="M490 176l13-4 -14 0 -13 4zm14 0l13-4 -14 0 -13 4z"/><path class=aN d="M518 176l13-5 -14 1 -13 4z"/><path class=aO d="M532 175l13-4 -14 0 -13 5zm15 0l13-4 -15 0 -13 4z"/><path class=aU d="M561 175l13-5 -14 1 -13 4zm15-1l13-4 -15 0 -13 5z"/><path class=aV d="M590 174l13-5 -14 1 -13 4zm15 0l13-5 -15 0 -13 5z"/><path class=aW d="M620 173l13-4 -15 0 -13 5zm15 0l13-5 -15 1 -13 4z"/><path class=aX d="M650 172l13-5 -15 1 -13 5zm15 0l13-5 -15 0 -13 5z"/><path class=aY d="M680 171l14-5 -16 1 -13 5zm16 0l13-5 -15 0 -14 5z"/><path class=aA d="M712 170l13-5 -16 1 -13 5z"/><path class=aB d="M727 170l13-6 -15 1 -13 5zm16-1l13-5 -16 0 -13 6z"/><path class=aC d="M759 168l13-5 -16 1 -13 5zm16 0l14-6 -17 1 -13 5z"/><path class=aD d="M792 167l13-6 -16 1 -14 6zm16-1l13-6 -16 1 -13 6z"/><path class=aE d="M825 165l13-5 -17 0 -13 6zm16 0l14-6 -17 1 -13 5z"/><path class=aF d="M858 164l13-6 -16 1 -14 6zm17-1l14-6 -18 1 -13 6z"/><path class=aG d="M892 162l14-6 -17 1 -14 6zm18-1l13-6 -17 1 -14 6z"/><path class=aH d="M927 160l14-6 -18 1 -13 6zm18-1l13-7 -17 2 -14 6z"/><path class=aP d="M963 158l13-7 -18 1 -13 7z"/><path class=bZ d="M981 157l13-7 -18 1 -13 7z"/><path class=aL d="M450 182l13-5 -14 0 -13 5z"/><path class=aM d="M463 181l13-5 -13 1 -13 5zm14 0l13-5 -14 0 -13 5z"/><path class=aN d="M491 181l13-5 -14 0 -13 5zm14 0l13-5 -14 0 -13 5z"/><path class=aO d="M519 181l13-6 -14 1 -13 5zm14-1l14-5 -15 0 -13 6z"/><path class=aw d="M548 180l13-5 -14 0 -14 5zm14 0l14-6 -15 1 -13 5zm15-1l13-5 -14 0 -14 6z"/><path class=ax d="M592 179l13-5 -15 0 -13 5zm15 0l13-6 -15 1 -13 5z"/><path class=ay d="M622 178l13-5 -15 0 -13 6zm15 0l13-6 -15 1 -13 5z"/><path class=az d="M652 178l13-6 -15 0 -13 6zm15-1l13-6 -15 1 -13 6z"/><path class=aA d="M683 177l13-6 -16 0 -13 6zm15-1l14-6 -16 1 -13 6z"/><path class=aB d="M714 176l13-6 -15 0 -14 6zm16-1l13-6 -16 1 -13 6z"/><path class=aC d="M746 175l13-7 -16 1 -13 6zm16-1l13-6 -16 0 -13 7zm16 0l14-7 -17 1 -13 6z"/><path class=aD d="M795 173l13-7 -16 1 -14 7zm16 0l14-8 -17 1 -13 7z"/><path class=aE d="M828 172l13-7 -16 0 -14 8zm17-1l13-7 -17 1 -13 7z"/><path class=aF d="M862 171l13-8 -17 1 -13 7zm17-1l13-8 -17 1 -13 8z"/><path class=aG d="M896 169l14-8 -18 1 -13 8zm18-1l13-8 -17 1 -14 8z"/><path class=aH d="M931 167l14-8 -18 1 -13 8zm18 0l14-9 -18 1 -14 8z"/><path class=aP d="M967 166l14-9 -18 1 -14 9z"/><path class=as d="M436 187l14-5 -14 0 -13 6z"/><path class=at d="M450 187l13-6 -13 1 -14 5zm14 0l13-6 -14 0 -13 6zm14 0l13-6 -14 0 -13 6z"/><path class=au d="M492 187l13-6 -14 0 -13 6zm14 0l13-6 -14 0 -13 6z"/><path class=av d="M520 187l13-7 -14 1 -13 6zm15-1l13-6 -15 0 -13 7z"/><path class=aw d="M549 186l13-6 -14 0 -13 6zm15 0l13-7 -15 1 -13 6zm14 0l14-7 -15 0 -13 7z"/><path class=ax d="M593 186l14-7 -15 0 -14 7zm15-1l14-7 -15 1 -14 7z"/><path class=ay d="M623 185l14-7 -15 0 -14 7zm16 0l13-7 -15 0 -14 7z"/><path class=az d="M654 184l13-7 -15 1 -13 7zm15 0l14-7 -16 0 -13 7z"/><path class=aA d="M685 184l13-8 -15 1 -14 7zm16-1l13-7 -16 0 -13 8z"/><path class=aB d="M716 183l14-8 -16 1 -13 7zm16 0l14-8 -16 0 -14 8zm17-1l13-8 -16 1 -14 8z"/><path class=aC d="M765 182l13-8 -16 0 -13 8zm16-1l14-8 -17 1 -13 8z"/><path class=aD d="M798 181l13-8 -16 0 -14 8zm16-1l14-8 -17 1 -13 8z"/><path class=aE d="M831 180l14-9 -17 1 -14 8zm17-1l14-8 -17 0 -14 9z"/><path class=aF d="M865 179l14-9 -17 1 -14 8zm18-1l13-9 -17 1 -14 9z"/><path class=aG d="M900 177l14-9 -18 1 -13 9zm18 0l13-10 -17 1 -14 9z"/><path class=aH d="M935 176l14-9 -18 0 -13 10zm18-1l14-9 -18 1 -14 9z"/><path class=as d="M423 194l13-7 -13 1 -13 6zm14 0l13-7 -14 0 -13 7zm14 0l13-7 -14 0 -13 7z"/><path class=at d="M465 194l13-7 -14 0 -13 7zm14 0l13-7 -14 0 -13 7z"/><path class=au d="M493 194l13-7 -14 0 -13 7zm14 0l13-7 -14 0 -13 7z"/><path class=av d="M521 194l14-8 -15 1 -13 7zm15 0l13-8 -14 0 -14 8zm14-1l14-7 -15 0 -13 8z"/><path class=aw d="M565 193l13-7 -14 0 -14 7zm15 0l13-7 -15 0 -13 7z"/><path class=ax d="M595 193l13-8 -15 1 -13 7zm15 0l13-8 -15 0 -13 8z"/><path class=ay d="M625 193l14-8 -16 0 -13 8zm15-1l14-8 -15 1 -14 8z"/><path class=az d="M656 192l13-8 -15 0 -14 8zm15 0l14-8 -16 0 -13 8zm16 0l14-9 -16 1 -14 8z"/><path class=aA d="M703 191l13-8 -15 0 -14 9zm16 0l13-8 -16 0 -13 8z"/><path class=aB d="M735 191l14-9 -17 1 -13 8zm16 0l14-9 -16 0 -14 9z"/><path class=aC d="M768 190l13-9 -16 1 -14 9zm16 0l14-9 -17 0 -13 9z"/><path class=aD d="M801 190l13-10 -16 1 -14 9zm17-1l13-9 -17 0 -13 10z"/><path class=aE d="M835 189l13-10 -17 1 -13 9zm17-1l13-9 -17 0 -13 10zm17 0l14-10 -18 1 -13 9z"/><path class=aF d="M886 188l14-11 -17 1 -14 10zm18-1l14-10 -18 0 -14 11z"/><path class=aG d="M922 187l13-11 -17 1 -14 10zm18-1l13-11 -18 1 -13 11z"/><path class=ar d="M410 202l13-8 -13 0 -13 8zm14 0l13-8 -14 0 -13 8z"/><path class=as d="M438 202l13-8 -14 0 -13 8zm13 0l14-8 -14 0 -13 8z"/><path class=at d="M465 202l14-8 -14 0 -14 8zm15 0l13-8 -14 0 -14 8zm14 0l13-8 -14 0 -13 8z"/><path class=au d="M508 202l13-8 -14 0 -13 8zm15 0l13-8 -15 0 -13 8z"/><path class=av d="M537 202l13-9 -14 1 -13 8zm15 0l13-9 -15 0 -13 9z"/><path class=aw d="M567 202l13-9 -15 0 -13 9zm15 0l13-9 -15 0 -13 9zm15 0l13-9 -15 0 -13 9z"/><path class=ax d="M612 202l13-9 -15 0 -13 9zm15 0l13-10 -15 1 -13 9z"/><path class=ay d="M642 202l14-10 -16 0 -13 10zm16-1l13-9 -15 0 -14 10z"/><path class=az d="M674 201l13-9 -16 0 -13 9zm15 0l14-10 -16 1 -13 9z"/><path class=aA d="M705 201l14-10 -16 0 -14 10zm17 0l13-10 -16 0 -14 10zm16 0l13-10 -16 0 -13 10z"/><path class=aB d="M754 201l14-11 -17 1 -13 10zm17-1l13-10 -16 0 -14 11z"/><path class=aC d="M787 200l14-10 -17 0 -13 10zm17 0l14-11 -17 1 -14 10z"/><path class=aD d="M821 200l14-11 -17 0 -14 11zm17-1l14-11 -17 1 -14 11z"/><path class=aE d="M855 199l14-11 -17 0 -14 11zm18 0l13-11 -17 0 -14 11zm17 0l14-12 -18 1 -13 11z"/><path class=aF d="M908 198l14-11 -18 0 -14 12zm18 0l14-12 -18 1 -14 11z"/><path class=aq d="M397 211l13-9 -13 0 -14 9z"/><path class=ar d="M411 211l13-9 -14 0 -13 9zm13 0l14-9 -14 0 -13 9zm14 0l13-9 -13 0 -14 9z"/><path class=as d="M452 211l13-9 -14 0 -13 9zm14 0l14-9 -15 0 -13 9z"/><path class=at d="M480 211l14-9 -14 0 -14 9zm15 0l13-9 -14 0 -14 9zm14 1l14-10 -15 0 -13 9z"/><path class=au d="M524 212l13-10 -14 0 -14 10zm14 0l14-10 -15 0 -13 10z"/><path class=av d="M553 212l14-10 -15 0 -14 10zm15 0l14-10 -15 0 -14 10z"/><path class=aw d="M583 212l14-10 -15 0 -14 10zm15 0l14-10 -15 0 -14 10zm16 0l13-10 -15 0 -14 10z"/><path class=ax d="M629 212l13-10 -15 0 -13 10zm15 0l14-11 -16 1 -13 10z"/><path class=ay d="M660 212l14-11 -16 0 -14 11zm16 0l13-11 -15 0 -14 11z"/><path class=az d="M692 212l13-11 -16 0 -13 11zm16 0l14-11 -17 0 -13 11zm16 0l14-11 -16 0 -14 11z"/><path class=aA d="M740 212l14-11 -16 0 -14 11zm17 0l14-12 -17 1 -14 11z"/><path class=aB d="M774 212l13-12 -16 0 -14 12zm16 0l14-12 -17 0 -13 12z"/><path class=aC d="M807 212l14-12 -17 0 -14 12zm17 0l14-13 -17 1 -14 12z"/><path class=aD d="M841 212l14-13 -17 0 -14 13zm18-1l14-12 -18 0 -14 13zm17 0l14-12 -17 0 -14 12z"/><path class=aE d="M894 211l14-13 -18 1 -14 12zm18 0l14-13 -18 0 -14 13z"/><path class=ap d="M384 221l13-10 -14 0 -13 9z"/><path class=aq d="M397 221l14-10 -14 0 -13 10zm14 0l13-10 -13 0 -14 10z"/><path class=ar d="M425 221l13-10 -14 0 -13 10zm14 0l13-10 -14 0 -13 10zm14 0l13-10 -14 0 -13 10z"/><path class=as d="M467 222l13-11 -14 0 -13 10zm14 0l14-11 -15 0 -13 11z"/><path class=at d="M496 222l13-10 -14-1 -14 11zm14 0l14-10 -15 0 -13 10zm15 0l13-10 -14 0 -14 10z"/><path class=au d="M540 222l13-10 -15 0 -13 10zm15 1l13-11 -15 0 -13 10z"/><path class=av d="M570 223l13-11 -15 0 -13 11zm15 0l13-11 -15 0 -13 11zm15 0l14-11 -16 0 -13 11z"/><path class=aw d="M615 223l14-11 -15 0 -14 11zm16 0l13-11 -15 0 -14 11z"/><path class=ax d="M646 224l14-12 -16 0 -13 11zm16 0l14-12 -16 0 -14 12z"/><path class=ay d="M678 224l14-12 -16 0 -14 12zm16 0l14-12 -16 0 -14 12zm16 0l14-12 -16 0 -14 12z"/><path class=az d="M727 224l13-12 -16 0 -14 12zm16 0l14-12 -17 0 -13 12z"/><path class=aA d="M760 225l14-13 -17 0 -14 12zm16 0l14-13 -16 0 -14 13zm17 0l14-13 -17 0 -14 13z"/><path class=aB d="M810 225l14-13 -17 0 -14 13zm18 0l13-13 -17 0 -14 13z"/><path class=aC d="M845 225l14-14 -18 1 -13 13zm17 0l14-14 -17 0 -14 14z"/><path class=aD d="M880 225l14-14 -18 0 -14 14zm18 0l14-14 -18 0 -14 14z"/><path class=ao d="M370 231l14-10 -14-1 -13 11z"/><path class=ap d="M384 232l13-11 -13 0 -14 10zm14 0l13-11 -14 0 -13 11zm14 0l13-11 -14 0 -13 11z"/><path class=aq d="M426 232l13-11 -14 0 -13 11zm14 1l13-12 -14 0 -13 11z"/><path class=ar d="M454 233l13-11 -14-1 -13 12zm14 0l13-11 -14 0 -13 11zm14 1l14-12 -15 0 -13 11z"/><path class=as d="M497 234l13-12 -14 0 -14 12zm14 0l14-12 -15 0 -13 12z"/><path class=at d="M526 234l14-12 -15 0 -14 12zm15 1l14-12 -15-1 -14 12z"/><path class=au d="M556 235l14-12 -15 0 -14 12zm15 0l14-12 -15 0 -14 12zm15 1l14-13 -15 0 -14 12z"/><path class=av d="M602 236l13-13 -15 0 -14 13zm15 0l14-13 -16 0 -13 13z"/><path class=aw d="M633 236l13-12 -15-1 -14 13zm16 1l13-13 -16 0 -13 12zm15 0l14-13 -16 0 -13 13z"/><path class=ax d="M680 237l14-13 -16 0 -14 13zm17 1l13-14 -16 0 -14 13z"/><path class=ay d="M713 238l14-14 -17 0 -13 14zm16 0l14-14 -16 0 -14 14zm17 1l14-14 -17-1 -14 14z"/><path class=az d="M763 239l13-14 -16 0 -14 14zm16 0l14-14 -17 0 -13 14z"/><path class=aA d="M796 239l14-14 -17 0 -14 14zm18 1l14-15 -18 0 -14 14zm17 0l14-15 -17 0 -14 15z"/><path class=aB d="M848 240l14-15 -17 0 -14 15zm18 1l14-16 -18 0 -14 15z"/><path class=aC d="M884 241l14-16 -18 0 -14 16z"/><path class=an d="M357 243l13-12 -13 0 -13 12z"/><path class=ao d="M371 243l13-11 -14-1 -13 12zm13 1l14-12 -14 0 -13 11zm14 0l14-12 -14 0 -14 12z"/><path class=ap d="M412 245l14-13 -14 0 -14 12zm14 0l14-12 -14-1 -14 13zm14 0l14-12 -14 0 -14 12z"/><path class=aq d="M455 246l13-13 -14 0 -14 12zm14 0l13-12 -14-1 -13 13z"/><path class=ar d="M483 246l14-12 -15 0 -13 12zm15 1l13-13 -14 0 -14 12zm15 0l13-13 -15 0 -13 13z"/><path class=as d="M528 248l13-13 -15-1 -13 13zm14 0l14-13 -15 0 -13 13z"/><path class=at d="M558 249l13-14 -15 0 -14 13zm15 0l13-13 -15-1 -13 14zm15 0l14-13 -16 0 -13 13z"/><path class=au d="M604 250l13-14 -15 0 -14 13zm15 0l14-14 -16 0 -13 14z"/><path class=av d="M635 251l14-14 -16-1 -14 14zm16 0l13-14 -15 0 -14 14zm16 1l13-15 -16 0 -13 14z"/><path class=aw d="M683 252l14-14 -17-1 -13 15zm16 1l14-15 -16 0 -14 14z"/><path class=ax d="M715 253l14-15 -16 0 -14 15zm17 1l14-15 -17-1 -14 15zm17 0l14-15 -17 0 -14 15z"/><path class=ay d="M765 255l14-16 -16 0 -14 15zm17 0l14-16 -17 0 -14 16z"/><path class=az d="M800 256l14-16 -18-1 -14 16zm17 0l14-16 -17 0 -14 16zm17 1l14-17 -17 0 -14 16z"/><path class=aA d="M852 257l14-16 -18-1 -14 17zm18 1l14-17 -18 0 -14 16z"/><path class=am d="M344 256l13-13 -13 0 -14 12zm13 0l14-13 -14 0 -13 13z"/><path class=an d="M371 257l13-13 -13-1 -14 13zm14 0l13-13 -14 0 -13 13zm14 1l13-13 -14-1 -13 13z"/><path class=ao d="M413 258l13-13 -14 0 -13 13zm14 1l13-14 -14 0 -13 13z"/><path class=ap d="M441 259l14-13 -15-1 -13 14zm14 1l14-14 -14 0 -14 13zm15 0l13-14 -14 0 -14 14z"/><path class=aq d="M484 261l14-14 -15-1 -13 14zm15 0l14-14 -15 0 -14 14zm15 1l14-14 -15-1 -14 14z"/><path class=ar d="M529 262l13-14 -14 0 -14 14zm15 1l14-14 -16-1 -13 14z"/><path class=as d="M559 263l14-14 -15 0 -14 14zm15 1l14-15 -15 0 -14 14zm16 1l14-15 -16-1 -14 15z"/><path class=at d="M605 265l14-15 -15 0 -14 15zm16 1l14-15 -16-1 -14 15z"/><path class=au d="M637 267l14-16 -16 0 -14 15zm16 0l14-15 -16-1 -14 16zm16 1l14-16 -16 0 -14 15z"/><path class=av d="M685 268l14-15 -16-1 -14 16zm17 1l13-16 -16 0 -14 15zm16 1l14-16 -17-1 -13 16z"/><path class=aw d="M735 270l14-16 -17 0 -14 16zm16 1l14-16 -16-1 -14 16z"/><path class=ax d="M768 272l14-17 -17 0 -14 16zm17 1l15-17 -18-1 -14 17zm18 0l14-17 -17 0 -15 17z"/><path class=ay d="M820 274l14-17 -17-1 -14 17zm18 1l14-18 -18 0 -14 17zm17 1l15-18 -18-1 -14 18z"/><path class=ak d="M331 270l13-14 -14-1 -13 14z"/><path class=al d="M344 270l13-14 -13 0 -13 14zm14 1l13-14 -14-1 -13 14z"/><path class=am d="M372 271l13-14 -14 0 -13 14zm13 1l14-14 -14-1 -13 14zm14 0l14-14 -14 0 -14 14z"/><path class=an d="M413 273l14-14 -14-1 -14 14zm15 1l13-15 -14 0 -14 14zm14 0l13-14 -14-1 -13 15z"/><path class=ao d="M456 275l14-15 -15 0 -13 14zm15 1l13-15 -14-1 -14 15z"/><path class=ap d="M486 276l13-15 -15 0 -13 15zm14 1l14-15 -15-1 -13 15zm15 1l14-16 -15 0 -14 15z"/><path class=aq d="M530 278l14-15 -15-1 -14 16zm15 1l14-16 -15 0 -14 15zm16 1l13-16 -15-1 -14 16z"/><path class=ar d="M576 281l14-16 -16-1 -13 16zm16 0l13-16 -15 0 -14 16z"/><path class=as d="M607 282l14-16 -16-1 -13 16zm16 1l14-16 -16-1 -14 16zm16 1l14-17 -16 0 -14 16z"/><path class=at d="M655 285l14-17 -16-1 -14 17zm16 0l14-17 -16 0 -14 17zm17 1l14-17 -17-1 -14 17z"/><path class=au d="M704 287l14-17 -16-1 -14 17zm17 1l14-18 -17 0 -14 17z"/><path class=av d="M737 289l14-18 -16-1 -14 18zm17 1l14-18 -17-1 -14 18zm17 1l14-18 -17-1 -14 18z"/><path class=aw d="M789 292l14-19 -18 0 -14 18zm17 1l14-19 -17-1 -14 19zm17 1l15-19 -18-1 -14 19z"/><path class=ax d="M841 295l14-19 -17-1 -15 19z"/><path class=aj d="M317 284l14-14 -14-1 -13 15zm14 1l13-15 -13 0 -14 14z"/><path class=ak d="M345 286l13-15 -14-1 -13 15zm13 0l14-15 -14 0 -13 15zm14 1l13-15 -13-1 -14 15z"/><path class=al d="M386 288l13-16 -14 0 -13 15zm14 0l13-15 -14-1 -13 16z"/><path class=am d="M414 289l14-15 -15-1 -13 15zm14 1l14-16 -14 0 -14 15zm15 1l13-16 -14-1 -14 16z"/><path class=an d="M457 292l14-16 -15-1 -13 16zm15 0l14-16 -15 0 -14 16zm15 1l13-16 -14-1 -14 16z"/><path class=ao d="M502 294l13-16 -15-1 -13 16zm15 1l13-17 -15 0 -13 16zm15 1l13-17 -15-1 -13 17z"/><path class=ap d="M547 297l14-17 -16-1 -13 17zm15 1l14-17 -15-1 -14 17z"/><path class=aq d="M578 299l14-18 -16 0 -14 17zm15 1l14-18 -15-1 -14 18zm16 0l14-17 -16-1 -14 18z"/><path class=ar d="M625 301l14-17 -16-1 -14 17zm16 2l14-18 -16-1 -14 17zm16 1l14-19 -16 0 -14 18z"/><path class=as d="M674 305l14-19 -17-1 -14 19zm16 1l14-19 -16-1 -14 19zm17 1l14-19 -17-1 -14 19z"/><path class=at d="M723 308l14-19 -16-1 -14 19zm17 1l14-19 -17-1 -14 19zm17 1l14-19 -17-1 -14 19z"/><path class=au d="M774 311l15-19 -18-1 -14 19zm18 1l14-19 -17-1 -15 19zm17 2l14-20 -17-1 -14 19z"/><path class=av d="M827 315l14-20 -18-1 -14 20z"/><path class=ah d="M304 300l13-16 -13 0 -13 15z"/><path class=ai d="M318 301l13-16 -14-1 -13 16zm13 1l14-16 -14-1 -13 16zm14 0l13-16 -13 0 -14 16z"/><path class=aj d="M359 303l13-16 -14-1 -13 16zm14 1l13-16 -14-1 -13 16zm14 1l13-17 -14 0 -13 16z"/><path class=ak d="M401 306l13-17 -14-1 -13 17zm14 1l13-17 -14-1 -13 17z"/><path class=al d="M429 308l14-17 -15-1 -13 17zm15 1l13-17 -14-1 -14 17zm14 0l14-17 -15 0 -13 17z"/><path class=am d="M473 310l14-17 -15-1 -14 17zm15 1l14-17 -15-1 -14 17zm15 2l14-18 -15-1 -14 17z"/><path class=an d="M518 314l14-18 -15-1 -14 18zm15 1l14-18 -15-1 -14 18zm15 1l14-18 -15-1 -14 18z"/><path class=ao d="M564 317l14-18 -16-1 -14 18zm16 1l13-18 -15-1 -14 18zm15 1l14-19 -16 0 -13 18z"/><path class=ap d="M611 320l14-19 -16-1 -14 19zm16 2l14-19 -16-2 -14 19zm16 1l14-19 -16-1 -14 19z"/><path class=aq d="M659 324l15-19 -17-1 -14 19zm17 1l14-19 -16-1 -15 19zm16 2l15-20 -17-1 -14 19z"/><path class=ar d="M709 328l14-20 -16-1 -15 20zm17 1l14-20 -17-1 -14 20zm17 2l14-21 -17-1 -14 20z"/><path class=as d="M760 332l14-21 -17-1 -14 21zm17 1l15-21 -18-1 -14 21zm18 2l14-21 -17-2 -15 21z"/><path class=at d="M812 336l15-21 -18-1 -14 21z"/><path class=af d="M291 317l13-17 -13-1 -13 17z"/><path class=ag d="M304 318l14-17 -14-1 -13 17zm14 1l13-17 -13-1 -14 17z"/><path class=ah d="M332 319l13-17 -14 0 -13 17zm13 1l14-17 -14-1 -13 17zm14 1l14-17 -14-1 -14 17z"/><path class=ai d="M373 322l14-17 -14-1 -14 17zm14 1l14-17 -14-1 -14 17zm14 1l14-17 -14-1 -14 17z"/><path class=aj d="M416 325l13-17 -14-1 -14 17zm14 2l14-18 -15-1 -13 17zm15 1l13-19 -14 0 -14 18z"/><path class=ak d="M459 329l14-19 -15-1 -13 19zm15 1l14-19 -15-1 -14 19zm15 1l14-18 -15-2 -14 19z"/><path class=al d="M504 332l14-18 -15-1 -14 18zm15 2l14-19 -15-1 -14 18zm16 1l13-19 -15-1 -14 19z"/><path class=am d="M550 336l14-19 -16-1 -13 19zm16 2l14-20 -16-1 -14 19zm15 1l14-20 -15-1 -14 20z"/><path class=an d="M597 340l14-20 -16-1 -14 20zm16 2l14-20 -16-2 -14 20zm16 1l14-20 -16-1 -14 20z"/><path class=ao d="M645 345l14-21 -16-1 -14 20zm17 1l14-21 -17-1 -14 21zm16 2l14-21 -16-2 -14 21z"/><path class=ap d="M695 349l14-21 -17-1 -14 21zm17 2l14-22 -17-1 -14 21zm17 1l14-21 -17-2 -14 22z"/><path class=aq d="M746 354l14-22 -17-1 -14 21zm17 2l14-23 -17-1 -14 22zm17 1l15-22 -18-2 -14 23z"/><path class=ar d="M798 359l14-23 -17-1 -15 22z"/><path class=ae d="M278 335l13-18 -13-1 -14 18zm13 1l13-18 -13-1 -13 18zm14 1l13-18 -14-1 -13 18z"/><path class=af d="M318 338l14-19 -14 0 -13 18zm14 1l13-19 -13-1 -14 19zm14 1l13-19 -14-1 -13 19z"/><path class=ag d="M360 341l13-19 -14-1 -13 19zm14 1l13-19 -14-1 -13 19zm14 1l13-19 -14-1 -13 19z"/><path class=ah d="M402 344l14-19 -15-1 -13 19zm15 2l13-19 -14-2 -14 19zm14 1l14-19 -15-1 -13 19z"/><path class=ai d="M446 348l13-19 -14-1 -14 19zm15 2l13-20 -15-1 -13 19zm14 1l14-20 -15-1 -13 20z"/><path class=aj d="M490 352l14-20 -15-1 -14 20zm16 2l13-20 -15-2 -14 20zm15 1l14-20 -16-1 -13 20z"/><path class=ak d="M536 357l14-21 -15-1 -14 20zm16 1l14-20 -16-2 -14 21zm15 2l14-21 -15-1 -14 20z"/><path class=al d="M583 361l14-21 -16-1 -14 21zm16 2l14-21 -16-2 -14 21zm16 2l14-22 -16-1 -14 21z"/><path class=am d="M631 366l14-21 -16-2 -14 22zm17 2l14-22 -17-1 -14 21zm16 2l14-22 -16-2 -14 22zm17 2l14-23 -17-1 -14 22z"/><path class=an d="M697 373l15-22 -17-2 -14 23zm17 2l15-23 -17-1 -15 22zm17 2l15-23 -17-2 -15 23z"/><path class=ao d="M748 379l15-23 -17-2 -15 23zm18 2l14-24 -17-1 -15 23zm17 2l15-24 -18-2 -14 24z"/><path class=ab d="M265 353l13-18 -14-1 -13 18z"/><path class=ac d="M278 354l13-18 -13-1 -13 18zm13 1l14-18 -14-1 -13 18z"/><path class=ad d="M305 357l13-19 -13-1 -14 18zm14 1l13-19 -14-1 -13 19zm13 1l14-19 -14-1 -13 19z"/><path class=ae d="M346 360l14-19 -14-1 -14 19zm14 2l14-20 -14-1 -14 19zm15 1l13-20 -14-1 -14 20z"/><path class=af d="M389 364l13-20 -14-1 -13 20zm14 2l14-20 -15-2 -13 20zm15 1l13-20 -14-1 -14 20z"/><path class=ag d="M432 369l14-21 -15-1 -13 20zm15 1l14-20 -15-2 -14 21zm15 2l13-21 -14-1 -14 20z"/><path class=ah d="M477 373l13-21 -15-1 -13 21zm15 2l14-21 -16-2 -13 21zm15 2l14-22 -15-1 -14 21zm15 1l14-21 -15-2 -14 22z"/><path class=ai d="M538 380l14-22 -16-1 -14 21zm15 2l14-22 -15-2 -14 22zm16 2l14-23 -16-1 -14 22z"/><path class=aj d="M585 385l14-22 -16-2 -14 23zm16 2l14-22 -16-2 -14 22zm16 2l14-23 -16-1 -14 22z"/><path class=ak d="M633 391l15-23 -17-2 -14 23zm17 2l14-23 -16-2 -15 23zm16 2l15-23 -17-2 -14 23zm17 2l14-24 -16-1 -15 23z"/><path class=al d="M700 399l14-24 -17-2 -14 24zm17 2l14-24 -17-2 -14 24zm17 3l14-25 -17-2 -14 24zm17 2l15-25 -18-2 -14 25z"/><path class=am d="M769 408l14-25 -17-2 -15 25z"/><path class=b0 d="M251 373l14-20 -14-1 -13 20z"/><path class=aa d="M265 374l13-20 -13-1 -14 20zm13 1l13-20 -13-1 -13 20zm14 2l13-20 -14-2 -13 20z"/><path class=ab d="M305 378l14-20 -14-1 -13 20zm14 2l13-21 -13-1 -14 20zm14 1l13-21 -14-1 -13 21z"/><path class=ac d="M347 382l13-20 -14-2 -13 21zm14 2l14-21 -15-1 -13 20zm14 1l14-21 -14-1 -14 21z"/><path class=ad d="M390 387l13-21 -14-2 -14 21zm14 2l14-22 -15-1 -13 21zm15 1l13-21 -14-2 -14 22z"/><path class=ae d="M433 392l14-22 -15-1 -13 21zm15 2l14-22 -15-2 -14 22zm15 1l14-22 -15-1 -14 22zm15 2l14-22 -15-2 -14 22z"/><path class=af d="M493 399l14-22 -15-2 -14 22zm15 2l14-23 -15-1 -14 22zm16 2l14-23 -16-2 -14 23z"/><path class=ag d="M539 405l14-23 -15-2 -14 23zm16 2l14-23 -16-2 -14 23zm16 2l14-24 -16-1 -14 23z"/><path class=ah d="M587 411l14-24 -16-2 -14 24zm16 2l14-24 -16-2 -14 24zm16 2l14-24 -16-2 -14 24zm17 3l14-25 -17-2 -14 24z"/><path class=ai d="M652 420l14-25 -16-2 -14 25zm17 2l14-25 -17-2 -14 25zm16 2l15-25 -17-2 -14 25zm17 3l15-26 -17-2 -15 25z"/><path class=aj d="M719 429l15-25 -17-3 -15 26zm18 3l14-26 -17-2 -15 25zm17 2l15-26 -18-2 -14 26z"/><path class=b1 d="M238 394l13-21 -13-1 -13 20zm14 1l13-21 -14-1 -13 21z"/><path class=b2 d="M265 396l13-21 -13-1 -13 21zm13 2l14-21 -14-2 -13 21zm14 1l13-21 -13-1 -14 21z"/><path class=b0 d="M306 401l13-21 -14-2 -13 21zm14 2l13-22 -14-1 -13 21zm14 1l13-22 -14-1 -13 22z"/><path class=aa d="M348 406l13-22 -14-2 -13 22zm14 2l13-23 -14-1 -13 22zm14 1l14-22 -15-2 -13 23z"/><path class=ab d="M390 411l14-22 -14-2 -14 22zm15 2l14-23 -15-1 -14 22zm15 2l13-23 -14-2 -14 23zm14 2l14-23 -15-2 -13 23z"/><path class=ac d="M449 419l14-24 -15-1 -14 23zm15 2l14-24 -15-2 -14 24zm15 2l14-24 -15-2 -14 24z"/><path class=ad d="M495 425l13-24 -15-2 -14 24zm15 2l14-24 -16-2 -13 24zm16 2l13-24 -15-2 -14 24zm15 2l14-24 -16-2 -13 24z"/><path class=ae d="M557 434l14-25 -16-2 -14 24zm16 2l14-25 -16-2 -14 25zm16 2l14-25 -16-2 -14 25zm16 3l14-26 -16-2 -14 25z"/><path class=af d="M621 443l15-25 -17-3 -14 26zm17 3l14-26 -16-2 -15 25zm16 2l15-26 -17-2 -14 26zm17 3l14-27 -16-2 -15 26z"/><path class=ag d="M688 453l14-26 -17-3 -14 27zm17 3l14-27 -17-2 -14 26zm17 3l15-27 -18-3 -14 27zm17 3l15-28 -17-2 -15 27z"/><path class=b3 d="M225 415l13-21 -13-2 -13 22zm13 2l14-22 -14-1 -13 21zm14 1l13-22 -13-1 -14 22z"/><path class=b4 d="M265 420l13-22 -13-2 -13 22zm14 2l13-23 -14-1 -13 22zm13 1l14-22 -14-2 -13 23z"/><path class=b1 d="M306 425l14-22 -14-2 -14 22zm14 2l14-23 -14-1 -14 22zm14 2l14-23 -14-2 -14 23zm14 2l14-23 -14-2 -14 23z"/><path class=b2 d="M363 433l13-24 -14-1 -14 23zm14 2l13-24 -14-2 -13 24zm14 2l14-24 -15-2 -13 24z"/><path class=b0 d="M406 439l14-24 -15-2 -14 24zm15 2l13-24 -14-2 -14 24zm15 2l13-24 -15-2 -13 24zm15 2l13-24 -15-2 -13 24z"/><path class=aa d="M466 447l13-24 -15-2 -13 24zm15 3l14-25 -16-2 -13 24zm15 2l14-25 -15-2 -14 25zm16 2l14-25 -16-2 -14 25z"/><path class=ab d="M527 457l14-26 -15-2 -14 25zm16 2l14-25 -16-3 -14 26zm16 3l14-26 -16-2 -14 25zm16 2l14-26 -16-2 -14 26z"/><path class=ac d="M591 467l14-26 -16-3 -14 26zm16 3l14-27 -16-2 -14 26zm16 3l15-27 -17-3 -14 27zm17 2l14-27 -16-2 -15 27z"/><path class=ad d="M657 478l14-27 -17-3 -14 27zm16 3l15-28 -17-2 -14 27zm17 3l15-28 -17-3 -15 28zm18 3l14-28 -17-3 -15 28z"/><path class=ae d="M725 490l14-28 -17-3 -14 28z"/><path class=b5 d="M212 438l13-23 -13-1 -13 22zm13 2l13-23 -13-2 -13 23z"/><path class=b6 d="M239 441l13-23 -14-1 -13 23zm13 2l13-23 -13-2 -13 23zm14 2l13-23 -14-2 -13 23z"/><path class=b7 d="M279 447l13-24 -13-1 -13 23zm14 2l13-24 -14-2 -13 24zm14 2l13-24 -14-2 -13 24zm14 2l13-24 -14-2 -13 24z"/><path class=b3 d="M335 455l13-24 -14-2 -13 24zm14 2l14-24 -15-2 -13 24zm14 2l14-24 -14-2 -14 24z"/><path class=b4 d="M378 461l13-24 -14-2 -14 24zm14 3l14-25 -15-2 -13 24zm15 2l14-25 -15-2 -14 25zm15 2l14-25 -15-2 -14 25z"/><path class=b1 d="M437 471l14-26 -15-2 -14 25zm15 2l14-26 -15-2 -14 26zm15 3l14-26 -15-3 -14 26zm15 2l14-26 -15-2 -14 26z"/><path class=b2 d="M498 481l14-27 -16-2 -14 26zm15 2l14-26 -15-3 -14 27zm16 3l14-27 -16-2 -14 26zm16 3l14-27 -16-3 -14 27z"/><path class=b0 d="M561 492l14-28 -16-2 -14 27zm16 3l14-28 -16-3 -14 28zm16 3l14-28 -16-3 -14 28zm16 3l14-28 -16-3 -14 28z"/><path class=aa d="M626 504l14-29 -17-2 -14 28zm16 3l15-29 -17-3 -14 29zm17 3l14-29 -16-3 -15 29zm17 3l14-29 -17-3 -14 29zm17 4l15-30 -18-3 -14 29z"/><path class=ab d="M710 520l15-30 -17-3 -15 30z"/><path class=b8 d="M199 462l13-24 -13-2 -13 24z"/><path class=b9 d="M212 464l13-24 -13-2 -13 24zm14 1l13-24 -14-1 -13 24zm13 2l13-24 -13-2 -13 24z"/><path class=ca d="M252 469l14-24 -14-2 -13 24zm14 2l13-24 -13-2 -14 24zm14 2l13-24 -14-2 -13 24zm14 3l13-25 -14-2 -13 24z"/><path class=b5 d="M307 478l14-25 -14-2 -13 25zm15 2l13-25 -14-2 -14 25zm14 2l13-25 -14-2 -13 25z"/><path class=b6 d="M350 485l13-26 -14-2 -13 25zm14 2l14-26 -15-2 -13 26zm15 2l13-25 -14-3 -14 26zm14 3l14-26 -15-2 -13 25z"/><path class=b7 d="M408 495l14-27 -15-2 -14 26zm15 2l14-26 -15-3 -14 27zm15 3l14-27 -15-2 -14 26zm15 3l14-27 -15-3 -14 27z"/><path class=b3 d="M468 505l14-27 -15-2 -14 27zm16 3l14-27 -16-3 -14 27zm15 3l14-28 -15-2 -14 27zm16 3l14-28 -16-3 -14 28zm16 3l14-28 -16-3 -14 28z"/><path class=b4 d="M546 520l15-28 -16-3 -14 28zm16 3l15-28 -16-3 -15 28zm17 4l14-29 -16-3 -15 28zm16 3l14-29 -16-3 -14 29zm16 3l15-29 -17-3 -14 29z"/><path class=b1 d="M628 537l14-30 -16-3 -15 29zm17 3l14-30 -17-3 -14 30zm16 4l15-31 -17-3 -14 30zm17 3l15-30 -17-4 -15 31zm17 4l15-31 -17-3 -15 30z"/></g>
<path d="M100 49.8 101 49.2 102 48.6 103 48.3 104 47.7 105 47.2 106 46.6 107 46.1 108 45.7 109 45.4 110 45 111 44.6 112 44.2 113 43.9 114 43.5 115 43.2 116 43.1 117 42.8 118 42.6 119 42.4 120 42.2 121 42 122 41.9 123 41.8 124 41.7 125 41.7 126 41.6 127 41.6 128 41.6 129 41.5 130 41.5 131 41.5 132 41.5 133 41.4 134 41.4 135 41.4 136 41.3 137 41.3 138 41.3 139 41.2 140 41.2 141 41.2 142 41.1 143 41.1 144 41.1 145 41 146 41 147 41 148 40.9 149 40.9 150 40.9 151 40.8 152 40.8 153 40.8 154 40.7 155 40.7 156 40.6 157 40.6 158 40.5 159 40.5 160 40.4 161 40.4 162 40.4 163 40.3 164 40.3 165 40.2 166 40.2 167 40.1 168 40.1 169 40 170 40 171 39.9 172 39.9 173 39.8 174 39.8 175 39.7 176 39.7 177 39.6 178 39.6 179 39.5 180 39.4 181 39.4 182 39.4 183 39.3 184 39.2 185 39.2 186 39.1 187 39.1 188 39 189 38.9 190 38.9 191 38.8 192 38.7 193 38.7 194 38.6 195 38.6 196 38.5 197 38.4 198 38.4 199 38.3 200 38.2 201 38.2 202 38.1 203 38 204 38 205 37.9 206 37.8 207 37.8 208 37.7 209 37.6 210 37.5 211 37.5 212 37.4 213 37.3 214 37.3 215 37.2 216 37.1 217 37 218 36.9 219 36.9 220 36.8 221 36.7 222 36.6 223 36.5 224 36.4 225 36.4 226 36.3 227 36.2 228 36.1 229 36 230 35.9 231 35.9 232 35.8 233 35.7 234 35.6 235 35.5 236 35.4 237 35.4 238 35.3 239 35.2 240 35.1 241 35 242 34.9 243 34.8 244 34.7 245 34.6 246 34.5 247 34.4 248 34.3 249 34.3 250 34.1 251 34.1 252 34 253 33.9 254 33.8 255 33.7 256 33.6 257 33.5 258 33.4 259 33.3 260 33.2 261 33.1 262 32.9 263 32.8 264 32.8 265 32.7 266 32.6 267 32.6 268 32.6 269 32.6 270 32.6 271 32.7 272 32.8 273 32.9 274 33 275 33.2 276 33.4 277 33.7 278 33.9 279 34.2 280 34.5 281 34.9 282 35.3 283 35.7 284 36.1 285 36.6 286 37.1 287 37.6 288 38.1 289 39 290 39.6 291 40.2 292 40.9 293 41.6 294 42.3 295 43 296 43.8 297 45 298 45.8 299 46.7 300 47.6 301 48.5 302 49.9 302 49.9 301 48.6 300 47.8 299 47 298 46.3 297 45.5 296 44.4 295 43.8 294 43.1 293 42.5 292 42 291 41.4 290 40.9 289 40.4 288 39.6 287 39.2 286 38.7 285 38.2 284 37.7 283 37.3 282 36.9 281 36.5 280 36.1 279 35.8 278 35.5 277 35.3 276 35 275 34.8 274 34.6 273 34.5 272 34.4 271 34.3 270 34.2 269 34.2 268 34.2 267 34.2 266 34.2 265 34.3 264 34.4 263 34.4 262 34.5 261 34.7 260 34.8 259 34.9 258 35 257 35.1 256 35.2 255 35.3 254 35.4 253 35.5 252 35.6 251 35.7 250 35.7 249 35.9 248 35.9 247 36 246 36.1 245 36.2 244 36.3 243 36.4 242 36.5 241 36.6 240 36.7 239 36.8 238 36.9 237 37 236 37 235 37.1 234 37.2 233 37.3 232 37.4 231 37.5 230 37.5 229 37.6 228 37.7 227 37.8 226 37.9 225 38 224 38 223 38.1 222 38.2 221 38.3 220 38.4 219 38.5 218 38.5 217 38.6 216 38.7 215 38.8 214 38.9 213 38.9 212 39 211 39.1 210 39.1 209 39.2 208 39.3 207 39.4 206 39.4 205 39.5 204 39.6 203 39.6 202 39.7 201 39.8 200 39.8 199 39.9 198 40 197 40 196 40.1 195 40.2 194 40.2 193 40.3 192 40.3 191 40.4 190 40.5 189 40.5 188 40.6 187 40.7 186 40.7 185 40.8 184 40.8 183 40.9 182 41 181 41 180 41 179 41.1 178 41.2 177 41.2 176 41.3 175 41.3 174 41.4 173 41.4 172 41.5 171 41.5 170 41.6 169 41.6 168 41.7 167 41.7 166 41.8 165 41.8 164 41.9 163 41.9 162 42 161 42 160 42 159 42.1 158 42.1 157 42.2 156 42.2 155 42.3 154 42.3 153 42.4 152 42.4 151 42.4 150 42.5 149 42.5 148 42.5 147 42.6 146 42.6 145 42.6 144 42.7 143 42.7 142 42.7 141 42.8 140 42.8 139 42.8 138 42.9 137 42.9 136 42.9 135 43 134 43 133 43 132 43.1 131 43.1 130 43.1 129 43.1 128 43.1 127 43 126 43 125 43 124 43 123 43.1 122 43.1 121 43.1 120 43.2 119 43.4 118 43.5 117 43.7 116 43.9 115 44 114 44.3 113 44.5 112 44.8 111 45.2 110 45.5 109 45.9 108 46.1 107 46.5 106 46.9 105 47.4 104 47.9 103 48.4 102 48.7 101 49.3 100 49.8Z" fill="#140804" fill-opacity="0.7"/>
<path d="M105.7 122.3L105.8 124.3" stroke="#808080" stroke-width="0.8"/><ellipse cx="105.7" cy="122.3" rx="2.8" ry="2.2" fill="#b81414" stroke="#801010" stroke-width="0.4"/><path d="M235 66L235.2 62.7" stroke="#808080" stroke-width="0.8"/><ellipse cx="235" cy="66" rx="2.5" ry="1.9" fill="#f0cfc6" stroke="#b06858" stroke-width="0.5"/><path d="M244.8 48.3L245.1 39.3" stroke="#808080" stroke-width="0.8"/><ellipse cx="244.8" cy="48.3" rx="2.5" ry="1.9" fill="#f0cfc6" stroke="#b06858" stroke-width="0.5"/><path d="M112 35.2L112.2 44.2" stroke="#808080" stroke-width="0.8"/><ellipse cx="112" cy="35.2" rx="2.8" ry="2.2" fill="#b81414" stroke="#801010" stroke-width="0.4"/><path d="M174 30.5L174 42.7" stroke="#808080" stroke-width="0.8"/><ellipse cx="174" cy="30.5" rx="2.8" ry="2.2" fill="#b81414" stroke="#801010" stroke-width="0.4"/><path d="M174 36.7L174 42.7" stroke="#808080" stroke-width="0.8"/><ellipse cx="174" cy="36.7" rx="2.8" ry="2.2" fill="#b81414" stroke="#801010" stroke-width="0.4"/><path d="M174 43L174 42.7" stroke="#808080" stroke-width="0.8"/><ellipse cx="174" cy="43" rx="2.5" ry="1.9" fill="#f0cfc6" stroke="#b06858" stroke-width="0.5"/>
<path d="M392 24.4L525.6 3" stroke="#7a7a7a" stroke-width="0.9"/>
<path d="M525.6 3L659.1 24.7" stroke="#7a7a7a" stroke-width="0.9"/>
<path d="M525.6 3L525.6 112.6" stroke="#8a8a8a" stroke-width="0.9"/>
<path d="M659.1 24.7L650.6 146.1" stroke="#7a7a7a" stroke-width="0.9"/>
<path d="M392 24.4L400.5 145.9" stroke="#444" stroke-width="0.9"/>
<circle cx="392.3" cy="24.4" r="0.9"/>
<text x="388.9" y="30" text-anchor="end" class="t">74.8</text>
<circle cx="393.9" cy="48.4" r="0.9"/>
<text x="390.5" y="54" text-anchor="end" class="t">72.575</text>
<circle cx="395.6" cy="71.9" r="0.9"/>
<text x="392.2" y="77.5" text-anchor="end" class="t">70.35</text>
<circle cx="397.2" cy="94.7" r="0.9"/>
<text x="393.8" y="100.3" text-anchor="end" class="t">68.125</text>
<circle cx="398.7" cy="117" r="0.9"/>
<text x="395.3" y="122.6" text-anchor="end" class="t">65.9</text>
<path d="M400.5 145.9L525.6 188.5 650.6 146.1 525.6 112.6Z" fill="#ffff00" stroke="#6a6a00" stroke-width="0.5"/>
<g fill="none" stroke-width="0.55" stroke-opacity="0.5"><path d="M534.3 185.6 530 184.6 525.9 183.6 521.8 182.7 517.8 181.7 513.9 180.7 510 179.7 506.2 178.7 502.4 177.6 498.7 176.6 495 175.6 491.5 174.6 487.9 173.5 484.5 172.5 481.1 171.4 477.7 170.4 474.4 169.3 471.2 168.2 468 167.2 464.8 166.1 461.7 165 458.7 164 455.7 162.9 452.8 161.8 449.9 160.7 447 159.7 444.5 158.7 441.5 157.5 438.8 156.4 436.2 155.3 433.6 154.2 431.1 153.1 428.6 152.1 426.1 151 423.7 149.9 421.3 148.8 419 147.7 416.8 146.6 412.4 144.4 410.3 143.3M650 146.3 649 145.7" stroke="#00b6a2"/><path d="M547.9 180.9 543.4 180.1 539 179.2 534.8 178.3 530.6 177.4 526.5 176.5 522.4 175.6 518.4 174.7 514.6 173.7 510.7 172.8 507 171.8 503.3 170.8 499.7 169.8 496.1 168.8 492.6 167.8 489.2 166.8 485.8 165.8 482.5 164.8 479.2 163.8 476 162.7 472.9 161.7 469.8 160.7 466.8 159.6 463.8 158.6 460.9 157.5 458.1 156.5 455.3 155.4 452.5 154.4 449.8 153.3 447.2 152.2 444.6 151.2 442 150.1 439.5 149 437.1 147.9 434.7 146.9 432.3 145.8 430.1 144.7 425.6 142.5 422.2 140.8 421.4 140.3M636.7 150.8 634.6 149.4 632.5 147.9 630.3 146.6 628.2 145.2 626 143.9 623.8 142.6 621.6 141.3 619.4 140 617.2 138.7 614.9 137.5 612.7 136.3 611.4 135.6" stroke="#12c55f"/><path d="M567.9 174.1 563.9 173.8 557.6 173 552.9 172.4 548 171.7 543.4 171 539.6 170.3 534.6 169.4 530.4 168.6 526.3 167.8 522.3 166.9 518.4 166.1 514.5 165.2 510.8 164.3 507.1 163.3 503.5 162.4 500 161.5 496.6 160.5 493.2 159.6 489.9 158.6 486.7 157.6 483.5 156.6 480.4 155.6 477.4 154.6 474.4 153.6 471.5 152.6 468.6 151.6 465.9 150.5 463.1 149.5 460.5 148.5 457.9 147.4 455.3 146.4 452.8 145.3 450.4 144.2 448 143.2 445.7 142.1 441.3 140 437.1 137.8 435 136.7M616.9 157.5 614.2 154.1 611 150.9 607.7 148 605.6 146.5 601.7 143.7 597.7 141 595.1 139.4 591.4 137.3 587.1 134.8 583.7 133 580.6 131.4 577 129.6 573.9 128.1 569.4 125.9 567.1 124.9 562.6 122.8 560.8 122.1" stroke="#59be00"/><path d="M512.1 116.2 514.7 117 517.3 117.9 519.8 118.7 522.3 119.6 524.8 120.5 527.2 121.4 529.6 122.3 532 123.3 534.4 124.3 536.7 125.2 541.2 127.3 544.1 128.6 547.8 130.5 551.2 132.3 554.1 133.9 556.9 135.5 560 137.6 563.6 140.2 566.8 143 569.4 146 570.6 148.2 570.8 151.5 568.8 154.2 565.3 156 561.9 156.9 557.4 157.5 551.8 157.7 545.2 157.6 539.9 157.2 536 156.9 530.4 156.1 526.1 155.5 521.9 154.8 518 154 514.2 153.2 510.4 152.4 506.9 151.6 503.4 150.7 500 149.8 496.8 148.9 493.6 148 490.6 147.1 487.6 146.1 484.7 145.1 481.9 144.2 479.2 143.2 476.5 142.2 474 141.1 471.5 140.1 469.1 139.1 466.8 138 463.5 136.5 460.3 134.8 456.4 132.6 454.6 131.5" stroke="#c78c00"/></g>
<path d="M400.5 145.9L525.6 188.5 650.6 146.1" fill="none" stroke="#3a3a00" stroke-width="0.8"/>
<text x="397.2" y="151.9" text-anchor="end" class="t">40.00</text>
<circle cx="431.8" cy="156.8" r="0.9"/>
<text x="429.3" y="162.6" text-anchor="end" class="t">35.00</text>
<circle cx="462" cy="167.1" r="0.9"/>
<text x="459.5" y="172.9" text-anchor="end" class="t">30.00</text>
<circle cx="494.2" cy="178" r="0.9"/>
<text x="491.7" y="183.8" text-anchor="end" class="t">25.00</text>
<text x="522.3" y="194.5" text-anchor="end" class="t">20.00</text>
<text x="529.1" y="194.3" class="t">400.00</text>
<circle cx="556.8" cy="178" r="0.9"/>
<text x="559.9" y="183.8" class="t">525.00</text>
<circle cx="589" cy="167.1" r="0.9"/>
<text x="592.1" y="172.9" class="t">650.00</text>
<circle cx="619.1" cy="156.9" r="0.9"/>
<text x="622.2" y="162.7" class="t">775.00</text>
<text x="654.1" y="151.9" class="t">900.00</text>
<text x="414.1" y="187.6" class="a" text-anchor="middle">C: Extraction time</text>
<text x="636.4" y="187.6" class="a" text-anchor="middle">A: Microwave power</text>
<text transform="translate(362.8 100.2) rotate(-90)" class="d">DPPH</text>
<g transform="scale(.25)" stroke-width="1.2"><path class=aL d="M2104 119l12 8 -14-4 -11-8zm14 4l12 9 -14-5 -12-8zm14 5l12 8 -14-4 -12-9z"/><path class=aK d="M2146 132l12 9 -14-5 -12-8zm14 5l12 9 -14-5 -12-9zm15 6l11 9 -14-6 -12-9zm14 5l11 9 -14-5 -11-9z"/><path class=aJ d="M2203 154l12 9 -15-6 -11-9zm15 5l11 10 -14-6 -12-9z"/><path class=aI d="M2232 165l12 10 -15-6 -11-10zm15 7l11 10 -14-7 -12-10z"/><path class=ao d="M2262 178l11 11 -15-7 -11-10zm14 7l12 11 -15-7 -11-11z"/><path class=an d="M2291 192l12 11 -15-7 -12-11zm15 8l11 10 -14-7 -12-11z"/><path class=am d="M2321 207l11 11 -15-8 -11-10zm15 8l12 11 -16-8 -11-11z"/><path class=al d="M2352 223l11 11 -15-8 -12-11z"/><path class=ak d="M2367 232l11 11 -15-9 -11-11zm15 8l11 12 -15-9 -11-11z"/><path class=aj d="M2398 249l11 12 -16-9 -11-12z"/><path class=ai d="M2413 258l11 12 -15-9 -11-12zm16 10l11 11 -16-9 -11-12z"/><path class=ah d="M2444 277l11 12 -15-10 -11-11z"/><path class=ag d="M2460 287l11 12 -16-10 -11-12z"/><path class=af d="M2476 297l11 12 -16-10 -11-12z"/><path class=ae d="M2492 308l10 12 -15-11 -11-12z"/><path class=ad d="M2508 318l10 13 -16-11 -10-12z"/><path class=ac d="M2524 329l10 13 -16-11 -10-13zm16 11l10 13 -16-11 -10-13z"/><path class=ab d="M2556 352l10 13 -16-12 -10-13z"/><path class=aa d="M2572 364l11 13 -17-12 -10-13z"/><path class=b0 d="M2589 375l10 14 -16-12 -11-13z"/><path class=b2 d="M2605 388l10 13 -16-12 -10-14z"/><path class=aM d="M2093 112l11 7 -13-4 -12-7zm13 4l12 7 -14-4 -11-7zm14 4l12 8 -14-5 -12-7zm15 4l11 8 -14-4 -12-8zm14 5l11 8 -14-5 -11-8z"/><path class=aL d="M2163 134l12 9 -15-6 -11-8zm14 5l12 9 -14-5 -12-9zm15 6l11 9 -14-6 -12-9z"/><path class=aK d="M2206 150l12 9 -15-5 -11-9zm15 6l11 9 -14-6 -12-9z"/><path class=aJ d="M2235 162l12 10 -15-7 -11-9zm15 7l12 9 -15-6 -12-10zm15 7l11 9 -14-7 -12-9z"/><path class=aI d="M2280 182l11 10 -15-7 -11-9zm15 8l11 10 -15-8 -11-10z"/><path class=cb d="M2310 197l11 10 -15-7 -11-10z"/><path class=cc d="M2325 205l11 10 -15-8 -11-10zm15 8l12 10 -16-8 -11-10z"/><path class=cd d="M2356 221l11 11 -15-9 -12-10z"/><path class=al d="M2371 229l11 11 -15-8 -11-11zm16 9l11 11 -16-9 -11-11z"/><path class=ak d="M2402 247l11 11 -15-9 -11-11z"/><path class=aj d="M2418 256l11 12 -16-10 -11-11zm15 10l11 11 -15-9 -11-12z"/><path class=ai d="M2449 275l11 12 -16-10 -11-11z"/><path class=ah d="M2465 285l11 12 -16-10 -11-12z"/><path class=ag d="M2481 296l11 12 -16-11 -11-12z"/><path class=af d="M2497 306l11 12 -16-10 -11-12z"/><path class=ae d="M2513 317l11 12 -16-11 -11-12z"/><path class=ad d="M2529 328l11 12 -16-11 -11-12zm17 11l10 13 -16-12 -11-12z"/><path class=ac d="M2562 351l10 13 -16-12 -10-13z"/><path class=ab d="M2578 363l11 12 -17-11 -10-13z"/><path class=aa d="M2595 375l10 13 -16-13 -11-12z"/><path class=a8 d="M2081 105l12 7 -14-4 -12-7z"/><path class=a7 d="M2095 109l11 7 -13-4 -12-7zm14 4l11 7 -14-4 -11-7zm14 4l12 7 -15-4 -11-7zm14 4l12 8 -14-5 -12-7z"/><path class=aN d="M2151 126l12 8 -14-5 -12-8z"/><path class=aM d="M2165 131l12 8 -14-5 -12-8zm15 5l12 9 -15-6 -12-8zm14 6l12 8 -14-5 -12-9z"/><path class=aL d="M2209 148l12 8 -15-6 -12-8zm15 6l11 8 -14-6 -12-8z"/><path class=aK d="M2239 160l11 9 -15-7 -11-8zm14 6l12 10 -15-7 -11-9zm15 7l12 9 -15-6 -12-10z"/><path class=aJ d="M2283 180l12 10 -15-8 -12-9zm16 7l11 10 -15-7 -12-10z"/><path class=aI d="M2314 195l11 10 -15-8 -11-10z"/><path class=cb d="M2329 203l11 10 -15-8 -11-10zm15 8l12 10 -16-8 -11-10z"/><path class=cc d="M2360 219l11 10 -15-8 -12-10z"/><path class=cd d="M2375 227l12 11 -16-9 -11-10zm16 9l11 11 -15-9 -12-11z"/><path class=ce d="M2407 245l11 11 -16-9 -11-11z"/><path class=cf d="M2422 255l11 11 -15-10 -11-11zm16 9l11 11 -16-9 -11-11z"/><path class=cg d="M2454 274l11 11 -16-10 -11-11z"/><path class=ch d="M2470 284l11 12 -16-11 -11-11z"/><path class=ci d="M2486 295l11 11 -16-10 -11-12z"/><path class=cj d="M2502 305l11 12 -16-11 -11-11z"/><path class=ck d="M2519 316l10 12 -16-11 -11-12z"/><path class=cl d="M2535 328l11 11 -17-11 -10-12z"/><path class=ad d="M2551 339l11 12 -16-12 -11-11z"/><path class=ac d="M2568 351l10 12 -16-12 -11-12z"/><path class=ab d="M2584 363l11 12 -17-12 -10-12z"/><path class=a9 d="M2069 99l12 6 -14-4 -12-6zm14 3l12 7 -14-4 -12-6z"/><path class=a8 d="M2097 106l12 7 -14-4 -12-7zm14 4l12 7 -14-4 -12-7zm14 4l12 7 -14-4 -12-7zm14 5l12 7 -14-5 -12-7zm15 5l11 7 -14-5 -12-7z"/><path class=a7 d="M2168 129l12 7 -15-5 -11-7zm15 5l11 8 -14-6 -12-7zm14 6l12 8 -15-6 -11-8z"/><path class=aT d="M2212 145l12 9 -15-6 -12-8zm15 6l12 9 -15-6 -12-9z"/><path class=aS d="M2242 158l11 8 -14-6 -12-9zm15 6l11 9 -15-7 -11-8z"/><path class=aR d="M2272 171l11 9 -15-7 -11-9z"/><path class=aK d="M2287 178l12 9 -16-7 -11-9z"/><path class=aJ d="M2302 186l12 9 -15-8 -12-9zm16 7l11 10 -15-8 -12-9z"/><path class=aI d="M2333 201l11 10 -15-8 -11-10zm15 8l12 10 -16-8 -11-10z"/><path class=cb d="M2364 218l11 9 -15-8 -12-10z"/><path class=cc d="M2380 226l11 10 -16-9 -11-9zm15 9l12 10 -16-9 -11-10z"/><path class=cd d="M2411 244l11 11 -15-10 -12-10z"/><path class=ce d="M2427 254l11 10 -16-9 -11-11z"/><path class=cf d="M2443 264l11 10 -16-10 -11-10zm16 10l11 10 -16-10 -11-10z"/><path class=cg d="M2475 284l11 11 -16-11 -11-10z"/><path class=ch d="M2491 294l11 11 -16-10 -11-11z"/><path class=ci d="M2508 305l11 11 -17-11 -11-11z"/><path class=cj d="M2524 316l11 12 -16-12 -11-11z"/><path class=ck d="M2541 328l10 11 -16-11 -11-12z"/><path class=cl d="M2557 339l11 12 -17-12 -10-11z"/><path class=cm d="M2574 351l10 12 -16-12 -11-12z"/><path class=ba d="M2057 93l12 6 -14-4 -12-5zm14 3l12 6 -14-3 -12-6zm14 4l12 6 -14-4 -12-6z"/><path class=a9 d="M2099 104l12 6 -14-4 -12-6zm14 4l12 6 -14-4 -12-6zm14 4l12 7 -14-5 -12-6zm15 5l12 7 -15-5 -12-7zm14 5l12 7 -14-5 -12-7z"/><path class=a8 d="M2171 127l12 7 -15-5 -12-7zm14 5l12 8 -14-6 -12-7zm15 6l12 7 -15-5 -12-8z"/><path class=a7 d="M2215 144l12 7 -15-6 -12-7zm15 6l12 8 -15-7 -12-7z"/><path class=aT d="M2245 156l12 8 -15-6 -12-8zm15 7l12 8 -15-7 -12-8z"/><path class=aS d="M2275 170l12 8 -15-7 -12-8zm16 7l11 9 -15-8 -12-8z"/><path class=aR d="M2306 184l12 9 -16-7 -11-9zm15 8l12 9 -15-8 -12-9z"/><path class=aQ d="M2337 200l11 9 -15-8 -12-9zm16 8l11 10 -16-9 -11-9z"/><path class=cn d="M2368 217l12 9 -16-8 -11-10z"/><path class=co d="M2384 226l11 9 -15-9 -12-9z"/><path class=cp d="M2400 235l11 9 -16-9 -11-9zm16 9l11 10 -16-10 -11-9z"/><path class=cq d="M2432 254l11 10 -16-10 -11-10z"/><path class=cr d="M2448 263l11 11 -16-10 -11-10z"/><path class=cs d="M2464 274l11 10 -16-10 -11-11zm16 10l11 10 -16-10 -11-10z"/><path class=ct d="M2497 295l11 10 -17-11 -11-10z"/><path class=cu d="M2513 306l11 10 -16-11 -11-10z"/><path class=cv d="M2530 317l11 11 -17-12 -11-10z"/><path class=cw d="M2546 329l11 10 -16-11 -11-11z"/><path class=cx d="M2563 341l11 10 -17-12 -11-10z"/><path class=bt d="M2044 88l13 5 -14-3 -12-5zm14 3l13 5 -14-3 -13-5zm15 4l12 5 -14-4 -13-5z"/><path class=bs d="M2087 98l12 6 -14-4 -12-5zm14 4l12 6 -14-4 -12-6zm14 4l12 6 -14-4 -12-6zm15 5l12 6 -15-5 -12-6zm14 4l12 7 -14-5 -12-6z"/><path class=br d="M2159 120l12 7 -15-5 -12-7zm14 5l12 7 -14-5 -12-7zm15 6l12 7 -15-6 -12-7z"/><path class=bq d="M2203 136l12 8 -15-6 -12-7z"/><path class=a8 d="M2218 142l12 8 -15-6 -12-8zm15 7l12 7 -15-6 -12-8z"/><path class=a7 d="M2248 155l12 8 -15-7 -12-7zm15 7l12 8 -15-7 -12-8z"/><path class=aT d="M2279 169l12 8 -16-7 -12-8zm15 7l12 8 -15-7 -12-8z"/><path class=aS d="M2310 184l11 8 -15-8 -12-8zm15 8l12 8 -16-8 -11-8z"/><path class=aR d="M2341 200l12 8 -16-8 -12-8z"/><path class=aQ d="M2357 208l11 9 -15-9 -12-8zm16 9l11 9 -16-9 -11-9z"/><path class=cn d="M2388 226l12 9 -16-9 -11-9z"/><path class=co d="M2404 235l12 9 -16-9 -12-9z"/><path class=cp d="M2420 244l12 10 -16-10 -12-9zm17 10l11 9 -16-9 -12-10z"/><path class=cq d="M2453 264l11 10 -16-11 -11-9z"/><path class=cr d="M2469 274l11 10 -16-10 -11-10z"/><path class=cs d="M2486 285l11 10 -17-11 -11-10z"/><path class=ct d="M2502 296l11 10 -16-11 -11-10z"/><path class=cu d="M2519 307l11 10 -17-11 -11-10zm16 12l11 10 -16-12 -11-10z"/><path class=cv d="M2552 330l11 11 -17-12 -11-10z"/><path class=bu d="M2032 84l12 4 -13-3 -13-4zm14 3l12 4 -14-3 -12-4z"/><path class=bt d="M2060 90l13 5 -15-4 -12-4zm14 3l13 5 -14-3 -13-5zm15 4l12 5 -14-4 -13-5zm14 4l12 5 -14-4 -12-5zm14 4l13 6 -15-5 -12-5zm15 5l12 5 -14-4 -13-6z"/><path class=bs d="M2147 114l12 6 -15-5 -12-5zm14 5l12 6 -14-5 -12-6zm15 6l12 6 -15-6 -12-6z"/><path class=br d="M2191 130l12 6 -15-5 -12-6zm15 6l12 6 -15-6 -12-6zm15 6l12 7 -15-7 -12-6z"/><path class=bq d="M2236 148l12 7 -15-6 -12-7zm16 7l11 7 -15-7 -12-7z"/><path class=bp d="M2267 162l12 7 -16-7 -11-7zm15 7l12 7 -15-7 -12-7z"/><path class=bo d="M2298 176l12 8 -16-8 -12-7zm15 8l12 8 -15-8 -12-8z"/><path class=bn d="M2329 192l12 8 -16-8 -12-8zm16 8l12 8 -16-8 -12-8z"/><path class=cy d="M2361 208l12 9 -16-9 -12-8z"/><path class=cz d="M2377 217l11 9 -15-9 -12-9zm16 9l11 9 -16-9 -11-9z"/><path class=cA d="M2409 236l11 8 -16-9 -11-9z"/><path class=cB d="M2425 245l12 9 -17-10 -11-8z"/><path class=cC d="M2441 255l12 9 -16-10 -12-9zm17 10l11 9 -16-10 -12-9z"/><path class=cD d="M2474 276l12 9 -17-11 -11-9z"/><path class=cE d="M2491 287l11 9 -16-11 -12-9z"/><path class=cF d="M2507 298l12 9 -17-11 -11-9z"/><path class=cG d="M2524 309l11 10 -16-12 -12-9z"/><path class=cH d="M2541 321l11 9 -17-11 -11-10z"/><path class=bM d="M2020 80l12 4 -14-3 -12-3zm14 3l12 4 -14-3 -12-4zm14 3l12 4 -14-3 -12-4zm14 3l12 4 -14-3 -12-4zm14 3l13 5 -15-4 -12-4zm15 4l12 5 -14-4 -13-5zm14 4l12 5 -14-4 -12-5zm15 5l12 5 -15-5 -12-5z"/><path class=bL d="M2134 109l13 5 -15-4 -12-5zm15 5l12 5 -14-5 -13-5z"/><path class=bt d="M2164 119l12 6 -15-6 -12-5zm15 5l12 6 -15-5 -12-6z"/><path class=bs d="M2194 130l12 6 -15-6 -12-6zm15 6l12 6 -15-6 -12-6z"/><path class=br d="M2224 142l12 6 -15-6 -12-6zm16 6l12 7 -16-7 -12-6zm15 7l12 7 -15-7 -12-7z"/><path class=bI d="M2270 162l12 7 -15-7 -12-7zm16 7l12 7 -16-7 -12-7z"/><path class=bH d="M2302 177l11 7 -15-8 -12-7z"/><path class=bG d="M2317 185l12 7 -16-8 -11-7zm16 8l12 7 -16-8 -12-7z"/><path class=bF d="M2349 201l12 7 -16-8 -12-7zm16 9l12 7 -16-9 -12-7z"/><path class=cI d="M2381 219l12 7 -16-9 -12-7z"/><path class=cJ d="M2397 228l12 8 -16-10 -12-7z"/><path class=cK d="M2414 237l11 8 -16-9 -12-8zm16 10l11 8 -16-10 -11-8z"/><path class=cL d="M2446 257l12 8 -17-10 -11-8z"/><path class=cM d="M2463 268l11 8 -16-11 -12-8z"/><path class=cN d="M2479 278l12 9 -17-11 -11-8z"/><path class=cO d="M2496 289l11 9 -16-11 -12-9zm17 12l11 8 -17-11 -11-9z"/><path class=cP d="M2530 312l11 9 -17-12 -11-8z"/><path class=bN d="M2008 77l12 3 -14-2 -12-3zm13 3l13 3 -14-3 -12-3zm15 2l12 4 -14-3 -13-3zm14 3l12 4 -14-3 -12-4zm14 4l12 3 -14-3 -12-4zm14 3l13 4 -15-4 -12-3zm15 4l12 4 -14-4 -13-4z"/><path class=bM d="M2107 100l13 5 -15-5 -12-4zm15 5l12 4 -14-4 -13-5zm15 4l12 5 -15-5 -12-4zm15 5l12 5 -15-5 -12-5z"/><path class=bL d="M2167 119l12 5 -15-5 -12-5zm15 6l12 5 -15-6 -12-5zm15 5l12 6 -15-6 -12-5z"/><path class=bK d="M2212 136l12 6 -15-6 -12-6zm15 7l13 5 -16-6 -12-6zm16 6l12 6 -15-7 -13-5z"/><path class=bJ d="M2258 156l12 6 -15-7 -12-6zm16 7l12 6 -16-7 -12-6z"/><path class=bI d="M2290 170l12 7 -16-8 -12-6zm15 8l12 7 -15-8 -12-7z"/><path class=bH d="M2321 186l12 7 -16-8 -12-7z"/><path class=bG d="M2337 194l12 7 -16-8 -12-7zm16 9l12 7 -16-9 -12-7z"/><path class=bF d="M2369 212l12 7 -16-9 -12-7z"/><path class=cI d="M2386 221l11 7 -16-9 -12-7zm16 9l12 7 -17-9 -11-7z"/><path class=cJ d="M2418 240l12 7 -16-10 -12-7z"/><path class=cK d="M2435 250l11 7 -16-10 -12-7z"/><path class=cL d="M2451 260l12 8 -17-11 -11-7zm17 11l11 7 -16-10 -12-8z"/><path class=cM d="M2485 282l11 7 -17-11 -11-7z"/><path class=cN d="M2501 293l12 8 -17-12 -11-7z"/><path class=cO d="M2518 304l12 8 -17-11 -12-8z"/><path class=bO d="M1995 75l13 2 -14-2 -13-2zm14 2l12 3 -13-3 -13-2zm14 3l13 2 -15-2 -12-3zm14 3l13 2 -14-3 -13-2zm15 3l12 3 -14-4 -13-2z"/><path class=bN d="M2066 89l12 3 -14-3 -12-3zm14 4l13 3 -15-4 -12-3zm15 4l12 3 -14-4 -13-3zm15 4l12 4 -15-5 -12-3zm14 4l13 4 -15-4 -12-4zm15 5l13 4 -15-5 -13-4z"/><path class=bM d="M2154 115l13 4 -15-5 -13-4zm15 5l13 5 -15-6 -13-4zm15 6l13 4 -15-5 -13-5z"/><path class=bL d="M2200 132l12 4 -15-6 -13-4zm15 6l12 5 -15-7 -12-4zm16 6l12 5 -16-6 -12-5z"/><path class=bK d="M2246 151l12 5 -15-7 -12-5zm16 7l12 5 -16-7 -12-5z"/><path class=bJ d="M2277 165l13 5 -16-7 -12-5zm16 7l12 6 -15-8 -13-5z"/><path class=bI d="M2309 180l12 6 -16-8 -12-6z"/><path class=bH d="M2325 188l12 6 -16-8 -12-6zm16 9l12 6 -16-9 -12-6z"/><path class=bG d="M2357 205l12 7 -16-9 -12-6zm17 9l12 7 -17-9 -12-7z"/><path class=bF d="M2390 224l12 6 -16-9 -12-7z"/><path class=cI d="M2406 233l12 7 -16-10 -12-6z"/><path class=cJ d="M2423 243l12 7 -17-10 -12-7zm16 10l12 7 -16-10 -12-7z"/><path class=cK d="M2456 264l12 7 -17-11 -12-7z"/><path class=cL d="M2473 275l12 7 -17-11 -12-7z"/><path class=cM d="M2490 286l11 7 -16-11 -12-7z"/><path class=cN d="M2507 297l11 7 -17-11 -11-7z"/><path class=bO d="M1982 73l13 2 -14-2 -12-1zm14 3l13 1 -14-2 -13-2zm15 2l12 2 -14-3 -13-1zm14 3l12 2 -14-3 -12-2zm14 3l13 2 -15-3 -12-2zm14 3l13 2 -14-3 -13-2zm15 3l12 3 -14-4 -13-2zm14 4l13 3 -15-4 -12-3zm15 4l13 3 -15-4 -13-3z"/><path class=bN d="M2112 102l12 3 -14-4 -13-3zm15 5l12 3 -15-5 -12-3zm15 5l12 3 -15-5 -12-3zm15 5l12 3 -15-5 -12-3z"/><path class=bM d="M2172 122l12 4 -15-6 -12-3zm15 6l13 4 -16-6 -12-4zm16 6l12 4 -15-6 -13-4z"/><path class=bL d="M2218 140l13 4 -16-6 -12-4zm16 6l12 5 -15-7 -13-4z"/><path class=bK d="M2249 153l13 5 -16-7 -12-5zm16 7l12 5 -15-7 -13-5zm16 8l12 4 -16-7 -12-5z"/><path class=bJ d="M2297 175l12 5 -16-8 -12-4z"/><path class=bI d="M2313 183l12 5 -16-8 -12-5zm16 9l12 5 -16-9 -12-5z"/><path class=bp d="M2345 200l12 5 -16-8 -12-5zm17 9l12 5 -17-9 -12-5z"/><path class=bo d="M2378 218l12 6 -16-10 -12-5z"/><path class=bn d="M2394 228l12 5 -16-9 -12-6z"/><path class=cy d="M2411 237l12 6 -17-10 -12-5zm17 10l11 6 -16-10 -12-6z"/><path class=cz d="M2444 258l12 6 -17-11 -11-6z"/><path class=cA d="M2461 268l12 7 -17-11 -12-6z"/><path class=cB d="M2478 279l12 7 -17-11 -12-7z"/><path class=cC d="M2495 291l12 6 -17-11 -12-7z"/><path class=bO d="M1970 73l12 0 -13-1 -13-1z"/><path class=bP d="M1984 75l12 1 -14-3 -12 0zm14 2l13 1 -15-2 -12-1zm14 2l13 2 -14-3 -13-1zm14 3l13 2 -14-3 -13-2zm15 3l12 2 -14-3 -13-2z"/><path class=bO d="M2055 88l13 2 -15-3 -12-2z"/><path class=bw d="M2070 92l12 2 -14-4 -13-2zm15 4l12 2 -15-4 -12-2zm14 4l13 2 -15-4 -12-2zm15 4l13 3 -15-5 -13-2zm15 5l13 3 -15-5 -13-3z"/><path class=bv d="M2144 114l13 3 -15-5 -13-3zm16 5l12 3 -15-5 -13-3zm15 6l12 3 -15-6 -12-3z"/><path class=bu d="M2190 130l13 4 -16-6 -12-3zm16 6l12 4 -15-6 -13-4zm15 7l13 3 -16-6 -12-4z"/><path class=bt d="M2237 149l12 4 -15-7 -13-3zm16 7l12 4 -16-7 -12-4z"/><path class=bs d="M2269 164l12 4 -16-8 -12-4zm16 7l12 4 -16-7 -12-4z"/><path class=br d="M2301 179l12 4 -16-8 -12-4zm16 8l12 5 -16-9 -12-4z"/><path class=bq d="M2333 196l12 4 -16-8 -12-5z"/><path class=bp d="M2349 204l13 5 -17-9 -12-4zm17 9l12 5 -16-9 -13-5z"/><path class=bo d="M2382 223l12 5 -16-10 -12-5z"/><path class=aS d="M2399 232l12 5 -17-9 -12-5zm17 10l12 5 -17-10 -12-5z"/><path class=aR d="M2432 253l12 5 -16-11 -12-5z"/><path class=aQ d="M2449 263l12 5 -17-10 -12-5z"/><path class=cn d="M2466 274l12 5 -17-11 -12-5z"/><path class=co d="M2483 285l12 6 -17-12 -12-5z"/><path class=bx d="M1957 73l13 0 -14-2 -13 0zm14 2l13 0 -14-2 -13 0zm14 2l13 0 -14-2 -13 0zm14 2l13 0 -14-2 -13 0zm15 3l12 0 -14-3 -13 0zm14 2l13 1 -15-3 -12 0zm15 4l12 0 -14-3 -13-1zm14 3l13 1 -15-4 -12 0zm15 4l13 1 -15-4 -13-1zm15 3l12 2 -14-4 -13-1z"/><path class=bw d="M2102 103l12 1 -15-4 -12-2zm15 4l12 2 -15-5 -12-1zm15 5l12 2 -15-5 -12-2zm15 5l13 2 -16-5 -12-2z"/><path class=bv d="M2162 122l13 3 -15-6 -13-2z"/><path class=bd d="M2178 128l12 2 -15-5 -13-3zm15 6l13 2 -16-6 -12-2z"/><path class=bc d="M2209 140l12 3 -15-7 -13-2zm15 7l13 2 -16-6 -12-3zm16 6l13 3 -16-7 -13-2z"/><path class=bb d="M2256 161l13 3 -16-8 -13-3zm16 7l13 3 -16-7 -13-3z"/><path class=ba d="M2288 176l13 3 -16-8 -13-3z"/><path class=a9 d="M2304 184l13 3 -16-8 -13-3zm17 8l12 4 -16-9 -13-3z"/><path class=a8 d="M2337 201l12 3 -16-8 -12-4zm16 9l13 3 -17-9 -12-3z"/><path class=a7 d="M2370 219l12 4 -16-10 -13-3z"/><path class=aT d="M2387 228l12 4 -17-9 -12-4z"/><path class=aS d="M2403 238l13 4 -17-10 -12-4zm17 10l12 5 -16-11 -13-4z"/><path class=aK d="M2437 259l12 4 -17-10 -12-5z"/><path class=aJ d="M2454 270l12 4 -17-11 -12-4z"/><path class=aI d="M2471 281l12 4 -17-11 -12-4z"/><path class=bx d="M1944 74l13-1 -14-2 -13 2zm14 2l13-1 -14-2 -13 1zm14 1l13 0 -14-2 -13 1z"/><path class=bf d="M1987 79l12 0 -14-2 -13 0zm14 3l13 0 -15-3 -12 0zm14 3l13-1 -14-2 -13 0zm15 2l13 1 -15-4 -13 1zm14 4l13 0 -14-3 -13-1zm15 3l13 1 -15-4 -13 0zm15 4l13 0 -15-3 -13-1zm15 4l13 1 -15-5 -13 0zm15 4l13 1 -15-4 -13-1z"/><path class=be d="M2119 111l13 1 -15-5 -13-1zm15 5l13 1 -15-5 -13-1zm15 5l13 1 -15-5 -13-1zm16 5l13 2 -16-6 -13-1z"/><path class=bd d="M2180 132l13 2 -15-6 -13-2zm16 6l13 2 -16-6 -13-2zm16 7l12 2 -15-7 -13-2z"/><path class=bc d="M2228 151l12 2 -16-6 -12-2z"/><path class=aX d="M2244 158l12 3 -16-8 -12-2z"/><path class=aW d="M2260 166l12 2 -16-7 -12-3zm16 7l12 3 -16-8 -12-2z"/><path class=aV d="M2292 181l12 3 -16-8 -12-3zm16 8l13 3 -17-8 -12-3z"/><path class=aU d="M2325 198l12 3 -16-9 -13-3z"/><path class=aO d="M2341 207l12 3 -16-9 -12-3zm17 9l12 3 -17-9 -12-3z"/><path class=aN d="M2374 225l13 3 -17-9 -12-3z"/><path class=aM d="M2391 235l12 3 -16-10 -13-3z"/><path class=aL d="M2408 245l12 3 -17-10 -12-3zm17 10l12 4 -17-11 -12-3z"/><path class=ar d="M2442 266l12 4 -17-11 -12-4z"/><path class=aq d="M2459 277l12 4 -17-11 -12-4z"/><path class=bf d="M1931 76l13-2 -14-1 -12 2zm14 1l13-1 -14-2 -13 2zm15 2l12-2 -14-1 -13 1zm14 2l13-2 -15-2 -12 2zm14 2l13-1 -14-3 -13 2zm14 3l13-1 -14-3 -13 1zm15 2l13-1 -15-2 -13 1zm15 3l12 0 -14-4 -13 1zm14 4l13-1 -15-3 -12 0zm15 3l13 0 -15-4 -13 1z"/><path class=a0 d="M2076 102l13 0 -15-4 -13 0zm15 4l13 0 -15-4 -13 0zm15 5l13 0 -15-5 -13 0zm15 5l13 0 -15-5 -13 0z"/><path class=aZ d="M2137 121l12 0 -15-5 -13 0zm15 5l13 0 -16-5 -12 0zm16 6l12 0 -15-6 -13 0z"/><path class=aY d="M2183 137l13 1 -16-6 -12 0zm16 7l13 1 -16-7 -13-1zm16 6l13 1 -16-6 -13-1z"/><path class=aX d="M2231 157l13 1 -16-7 -13-1zm16 7l13 2 -16-8 -13-1z"/><path class=ay d="M2263 172l13 1 -16-7 -13-2zm16 7l13 2 -16-8 -13-1z"/><path class=ax d="M2296 188l12 1 -16-8 -13-2zm16 8l13 2 -17-9 -12-1z"/><path class=aw d="M2328 205l13 2 -16-9 -13-2z"/><path class=av d="M2345 214l13 2 -17-9 -13-2zm17 9l12 2 -16-9 -13-2z"/><path class=au d="M2379 233l12 2 -17-10 -12-2z"/><path class=at d="M2395 243l13 2 -17-10 -12-2z"/><path class=as d="M2412 253l13 2 -17-10 -13-2zm17 11l13 2 -17-11 -13-2z"/><path class=ar d="M2447 274l12 3 -17-11 -13-2z"/><path class=bf d="M1919 79l12-3 -13-1 -13 3z"/><path class=a0 d="M1933 80l12-3 -14-1 -12 3zm14 1l13-2 -15-2 -12 3zm14 2l13-2 -14-2 -13 2zm14 2l13-2 -14-2 -13 2z"/><path class=a1 d="M1989 87l13-1 -14-3 -13 2zm15 3l13-2 -15-2 -13 1zm15 3l13-2 -15-3 -13 2z"/><path class=a0 d="M2033 96l13-1 -14-4 -13 2zm15 3l13-1 -15-3 -13 1zm15 4l13-1 -15-4 -13 1zm15 4l13-1 -15-4 -13 1zm15 5l13-1 -15-5 -13 1z"/><path class=aC d="M2108 116l13 0 -15-5 -13 1zm16 5l13 0 -16-5 -13 0z"/><path class=aB d="M2139 126l13 0 -15-5 -13 0zm16 6l13 0 -16-6 -13 0zm15 6l13-1 -15-5 -13 0z"/><path class=aA d="M2186 144l13 0 -16-7 -13 1zm16 6l13 0 -16-6 -13 0zm16 7l13 0 -16-7 -13 0z"/><path class=az d="M2234 164l13 0 -16-7 -13 0zm16 7l13 1 -16-8 -13 0z"/><path class=ay d="M2266 179l13 0 -16-7 -13-1zm17 8l13 1 -17-9 -13 0z"/><path class=ax d="M2299 195l13 1 -16-8 -13-1z"/><path class=aw d="M2316 204l12 1 -16-9 -13-1zm16 9l13 1 -17-9 -12-1z"/><path class=av d="M2349 222l13 1 -17-9 -13-1z"/><path class=au d="M2366 231l13 2 -17-10 -13-1zm17 10l12 2 -16-10 -13-2z"/><path class=at d="M2400 251l12 2 -17-10 -12-2z"/><path class=as d="M2417 262l12 2 -17-11 -12-2z"/><path class=ar d="M2434 273l13 1 -18-10 -12-2z"/><path class=a0 d="M1906 82l13-3 -14-1 -13 4zm14 1l13-3 -14-1 -13 3zm14 2l13-4 -14-1 -13 3zm14 1l13-3 -14-2 -13 4zm14 2l13-3 -14-2 -13 3z"/><path class=a1 d="M1976 90l13-3 -14-2 -13 3z"/><path class=aD d="M1991 93l13-3 -15-3 -13 3zm15 2l13-2 -15-3 -13 3zm14 3l13-2 -14-3 -13 2z"/><path class=aC d="M2035 102l13-3 -15-3 -13 2zm15 3l13-2 -15-4 -13 3zm15 4l13-2 -15-4 -13 2zm15 4l13-1 -15-5 -13 2zm15 5l13-2 -15-4 -13 1zm16 5l13-2 -16-5 -13 2z"/><path class=aB d="M2126 128l13-2 -15-5 -13 2zm16 5l13-1 -16-6 -13 2zm15 6l13-1 -15-6 -13 1zm16 6l13-1 -16-6 -13 1z"/><path class=aA d="M2189 151l13-1 -16-6 -13 1zm16 6l13 0 -16-7 -13 1z"/><path class=az d="M2221 164l13 0 -16-7 -13 0zm16 8l13-1 -16-7 -13 0z"/><path class=ay d="M2254 179l12 0 -16-8 -13 1zm16 8l13 0 -17-8 -12 0z"/><path class=ax d="M2286 195l13 0 -16-8 -13 0zm17 9l13 0 -17-9 -13 0z"/><path class=aw d="M2320 212l12 1 -16-9 -13 0z"/><path class=av d="M2336 222l13 0 -17-9 -12-1zm17 9l13 0 -17-9 -13 0z"/><path class=au d="M2370 241l13 0 -17-10 -13 0z"/><path class=at d="M2387 251l13 0 -17-10 -13 0zm17 10l13 1 -17-11 -13 0z"/><path class=as d="M2422 272l12 1 -17-11 -13-1z"/><path class=aC d="M1893 87l13-5 -14 0 -13 4zm14 1l13-5 -14-1 -13 5zm14 1l13-4 -14-2 -13 5zm14 1l13-4 -14-1 -13 4zm14 2l13-4 -14-2 -13 4zm14 2l13-4 -14-2 -13 4zm15 2l13-3 -15-3 -13 4zm15 3l13-4 -15-2 -13 3zm14 3l13-4 -14-3 -13 4zm15 3l13-3 -15-4 -13 4zm15 3l13-3 -15-3 -13 3zm15 4l13-3 -15-4 -13 3zm15 4l13-3 -15-4 -13 3zm15 4l13-2 -15-5 -13 3zm16 5l13-2 -16-5 -13 2zm15 5l13-2 -15-5 -13 2z"/><path class=aB d="M2129 135l13-2 -16-5 -13 2zm15 6l13-2 -15-6 -13 2zm16 6l13-2 -16-6 -13 2z"/><path class=aA d="M2176 153l13-2 -16-6 -13 2zm16 6l13-2 -16-6 -13 2zm16 7l13-2 -16-7 -13 2z"/><path class=az d="M2224 173l13-1 -16-8 -13 2zm17 8l13-2 -17-7 -13 1z"/><path class=ay d="M2257 188l13-1 -16-8 -13 2zm16 8l13-1 -16-8 -13 1z"/><path class=ax d="M2290 205l13-1 -17-9 -13 1z"/><path class=aw d="M2307 213l13-1 -17-8 -13 1zm17 10l12-1 -16-10 -13 1z"/><path class=av d="M2340 232l13-1 -17-9 -12 1z"/><path class=au d="M2357 242l13-1 -17-10 -13 1zm17 10l13-1 -17-10 -13 1z"/><path class=at d="M2392 262l12-1 -17-10 -13 1z"/><path class=as d="M2409 273l13-1 -18-11 -12 1z"/><path class=aB d="M1880 93l13-6 -14-1 -13 6zm14 0l13-5 -14-1 -13 6z"/><path class=aC d="M1908 94l13-5 -14-1 -13 5zm14 2l13-6 -14-1 -13 5zm14 1l13-5 -14-2 -13 6zm14 2l13-5 -14-2 -13 5zm15 2l13-5 -15-2 -13 5zm14 2l14-4 -15-3 -13 5zm15 3l13-4 -14-3 -14 4zm15 3l13-4 -15-3 -13 4zm15 3l13-4 -15-3 -13 4zm15 4l13-4 -15-4 -13 4zm15 4l13-4 -15-4 -13 4zm15 4l13-4 -15-4 -13 4zm16 5l13-4 -16-5 -13 4z"/><path class=aB d="M2100 133l13-3 -15-5 -13 4zm16 5l13-3 -16-5 -13 3zm15 6l13-3 -15-6 -13 3zm16 6l13-3 -16-6 -13 3z"/><path class=aA d="M2163 156l13-3 -16-6 -13 3zm16 6l13-3 -16-6 -13 3zm16 7l13-3 -16-7 -13 3z"/><path class=az d="M2211 176l13-3 -16-7 -13 3zm16 7l14-2 -17-8 -13 3z"/><path class=ay d="M2244 191l13-3 -16-7 -14 2zm16 8l13-3 -16-8 -13 3z"/><path class=ax d="M2277 207l13-2 -17-9 -13 3zm17 9l13-3 -17-8 -13 2z"/><path class=aw d="M2311 224l13-1 -17-10 -13 3z"/><path class=av d="M2327 234l13-2 -16-9 -13 1zm17 9l13-1 -17-10 -13 2z"/><path class=au d="M2361 253l13-1 -17-10 -13 1z"/><path class=at d="M2379 264l13-2 -18-10 -13 1z"/><path class=as d="M2396 274l13-1 -17-11 -13 2z"/><path class=aB d="M1867 99l13-6 -14-1 -13 7zm13 1l14-7 -14 0 -13 6zm14 1l14-7 -14-1 -14 7zm15 1l13-6 -14-2 -14 7z"/><path class=aC d="M1923 103l13-6 -14-1 -13 6zm14 2l13-6 -14-2 -13 6zm15 2l13-6 -15-2 -13 6zm14 2l13-6 -14-2 -13 6zm15 2l13-5 -15-3 -13 6zm15 3l13-5 -15-3 -13 5zm15 3l13-5 -15-3 -13 5zm15 4l13-5 -15-4 -13 5zm15 4l13-5 -15-4 -13 5zm15 4l13-5 -15-4 -13 5zm15 4l14-4 -16-5 -13 5z"/><path class=aB d="M2087 138l13-5 -15-4 -14 4zm15 5l14-5 -16-5 -13 5zm16 5l13-4 -15-6 -14 5zm16 6l13-4 -16-6 -13 4z"/><path class=aA d="M2150 160l13-4 -16-6 -13 4zm16 6l13-4 -16-6 -13 4zm16 6l13-3 -16-7 -13 4z"/><path class=az d="M2198 179l13-3 -16-7 -13 3zm16 7l13-3 -16-7 -13 3z"/><path class=ay d="M2231 194l13-3 -17-8 -13 3zm16 8l13-3 -16-8 -13 3z"/><path class=ax d="M2264 210l13-3 -17-8 -13 3zm17 9l13-3 -17-9 -13 3z"/><path class=aw d="M2297 228l14-4 -17-8 -13 3z"/><path class=av d="M2314 237l13-3 -16-10 -14 4zm17 9l13-3 -17-9 -13 3z"/><path class=au d="M2348 256l13-3 -17-10 -13 3z"/><path class=at d="M2366 266l13-2 -18-11 -13 3z"/><path class=as d="M2383 277l13-3 -17-10 -13 2z"/><path class=aA d="M1853 107l14-8 -14 0 -13 8zm14 0l13-7 -13-1 -14 8z"/><path class=aB d="M1881 108l13-7 -14-1 -13 7zm14 1l14-7 -15-1 -13 7zm15 1l13-7 -14-1 -14 7zm14 2l13-7 -14-2 -13 7zm14 1l14-6 -15-2 -13 7zm15 3l13-7 -14-2 -14 6z"/><path class=aC d="M1968 118l13-7 -15-2 -13 7zm14 3l14-7 -15-3 -13 7zm15 3l14-7 -15-3 -14 7zm15 3l14-6 -15-4 -14 7z"/><path class=aB d="M2027 131l14-6 -15-4 -14 6zm16 3l13-5 -15-4 -14 6zm15 5l13-6 -15-4 -13 5zm15 4l14-5 -16-5 -13 6zm16 5l13-5 -15-5 -14 5zm16 5l13-5 -16-5 -13 5z"/><path class=aA d="M2120 159l14-5 -16-6 -13 5zm16 6l14-5 -16-6 -14 5zm16 6l14-5 -16-6 -14 5z"/><path class=az d="M2168 177l14-5 -16-6 -14 5zm17 7l13-5 -16-7 -14 5zm16 7l13-5 -16-7 -13 5z"/><path class=ay d="M2217 199l14-5 -17-8 -13 5zm17 7l13-4 -16-8 -14 5z"/><path class=ax d="M2251 215l13-5 -17-8 -13 4z"/><path class=aw d="M2267 223l14-4 -17-9 -13 5zm17 9l13-4 -16-9 -14 4z"/><path class=av d="M2301 241l13-4 -17-9 -13 4zm17 9l13-4 -17-9 -13 4z"/><path class=au d="M2335 260l13-4 -17-10 -13 4z"/><path class=at d="M2352 270l14-4 -18-10 -13 4z"/><path class=as d="M2370 281l13-4 -17-11 -14 4z"/><path class=az d="M1840 115l13-8 -13 0 -13 8z"/><path class=aA d="M1854 116l13-9 -14 0 -13 8zm14 0l13-8 -14-1 -13 9zm14 1l13-8 -14-1 -13 8zm14 1l14-8 -15-1 -13 8z"/><path class=aB d="M1911 119l13-7 -14-2 -14 8zm14 2l13-8 -14-1 -13 7zm15 2l13-7 -15-3 -13 8zm14 2l14-7 -15-2 -13 7zm15 3l13-7 -14-3 -14 7zm15 3l13-7 -15-3 -13 7zm15 3l13-7 -15-3 -13 7zm15 4l13-7 -15-4 -13 7zm15 3l14-7 -16-3 -13 7zm16 4l13-6 -15-5 -14 7zm15 5l13-7 -15-4 -13 6z"/><path class=aA d="M2076 155l13-7 -16-5 -13 7zm15 5l14-7 -16-5 -13 7zm16 5l13-6 -15-6 -14 7zm16 6l13-6 -16-6 -13 6z"/><path class=az d="M2139 177l13-6 -16-6 -13 6zm16 6l13-6 -16-6 -13 6zm16 7l14-6 -17-7 -13 6z"/><path class=ay d="M2188 197l13-6 -16-7 -14 6zm16 7l13-5 -16-8 -13 6z"/><path class=ax d="M2221 212l13-6 -17-7 -13 5zm16 8l14-5 -17-9 -13 6z"/><path class=aw d="M2254 228l13-5 -16-8 -14 5zm17 9l13-5 -17-9 -13 5z"/><path class=av d="M2288 246l13-5 -17-9 -13 5z"/><path class=au d="M2305 256l13-6 -17-9 -13 5zm17 9l13-5 -17-10 -13 6z"/><path class=at d="M2339 275l13-5 -17-10 -13 5z"/><path class=as d="M2357 286l13-5 -18-11 -13 5z"/><path class=az d="M1827 125l13-10 -13 0 -14 10zm14 0l13-9 -14-1 -13 10zm14 1l13-10 -14 0 -13 9zm14 0l13-9 -14-1 -13 10z"/><path class=aA d="M1883 127l13-9 -14-1 -13 9zm14 1l14-9 -15-1 -13 9zm15 2l13-9 -14-2 -14 9zm14 2l14-9 -15-2 -13 9zm15 2l13-9 -14-2 -14 9zm15 2l13-8 -15-3 -13 9zm15 3l13-8 -15-3 -13 8zm15 3l13-8 -15-3 -13 8zm15 4l13-8 -15-4 -13 8zm15 3l13-8 -15-3 -13 8zm15 4l14-8 -16-4 -13 8zm16 5l13-8 -15-5 -14 8zm15 4l14-7 -16-5 -13 8zm16 5l13-7 -15-5 -14 7z"/><path class=az d="M2094 173l13-8 -16-5 -13 7zm16 5l13-7 -16-6 -13 8zm16 6l13-7 -16-6 -13 7zm16 6l13-7 -16-6 -13 7z"/><path class=ay d="M2158 197l13-7 -16-7 -13 7zm16 7l14-7 -17-7 -13 7z"/><path class=ax d="M2191 211l13-7 -16-7 -14 7zm16 8l14-7 -17-8 -13 7z"/><path class=aw d="M2224 227l13-7 -16-8 -14 7zm16 8l14-7 -17-8 -13 7z"/><path class=av d="M2257 244l14-7 -17-9 -14 7zm17 9l14-7 -17-9 -14 7z"/><path class=au d="M2291 262l14-6 -17-10 -14 7z"/><path class=at d="M2309 272l13-7 -17-9 -14 6zm17 10l13-7 -17-10 -13 7z"/><path class=as d="M2343 292l14-6 -18-11 -13 7z"/><path class=ay d="M1814 136l13-11 -14 0 -13 11zm14 0l13-11 -14 0 -13 11zm14 0l13-10 -14-1 -13 11z"/><path class=az d="M1856 137l13-11 -14 0 -13 10zm14 0l13-10 -14-1 -13 11zm14 2l13-11 -14-1 -13 10zm14 1l14-10 -15-2 -13 11zm15 2l13-10 -14-2 -14 10z"/><path class=aA d="M1928 144l13-10 -15-2 -13 10zm14 2l14-10 -15-2 -13 10zm15 3l14-10 -15-3 -14 10zm15 3l14-10 -15-3 -14 10zm15 3l14-9 -15-4 -14 10zm15 3l14-9 -15-3 -14 9zm16 4l13-9 -15-4 -14 9z"/><path class=az d="M2033 167l14-9 -16-5 -13 9zm16 4l13-9 -15-4 -14 9zm15 5l14-9 -16-5 -13 9zm16 5l14-8 -16-6 -14 9zm16 6l14-9 -16-5 -14 8z"/><path class=ay d="M2112 193l14-9 -16-6 -14 9zm16 6l14-9 -16-6 -14 9zm16 6l14-8 -16-7 -14 9z"/><path class=ax d="M2161 212l13-8 -16-7 -14 8zm16 7l14-8 -17-7 -13 8z"/><path class=aw d="M2194 227l13-8 -16-8 -14 8zm16 8l14-8 -17-8 -13 8z"/><path class=av d="M2227 243l13-8 -16-8 -14 8zm17 9l13-8 -17-9 -13 8z"/><path class=au d="M2261 260l13-7 -17-9 -13 8zm17 10l13-8 -17-9 -13 7z"/><path class=at d="M2295 279l14-7 -18-10 -13 8z"/><path class=as d="M2312 289l14-7 -17-10 -14 7zm18 11l13-8 -17-10 -14 7z"/><path class=ax d="M1801 148l13-12 -14 0 -13 12zm14 0l13-12 -14 0 -13 12zm13 0l14-12 -14 0 -13 12z"/><path class=ay d="M1842 148l14-11 -14-1 -14 12zm15 1l13-12 -14 0 -14 11zm14 1l13-11 -14-2 -13 12zm14 1l13-11 -14-1 -13 11zm15 2l13-11 -15-2 -13 11z"/><path class=az d="M1914 155l14-11 -15-2 -13 11zm15 2l13-11 -14-2 -14 11zm15 2l13-10 -15-3 -13 11zm15 3l13-10 -15-3 -13 10zm15 3l13-10 -15-3 -13 10zm15 4l13-11 -15-3 -13 10zm15 4l14-11 -16-4 -13 11zm16 4l13-10 -15-5 -14 11z"/><path class=ay d="M2035 181l14-10 -16-4 -13 10zm16 5l13-10 -15-5 -14 10zm15 5l14-10 -16-5 -13 10zm16 5l14-9 -16-6 -14 10zm16 6l14-9 -16-6 -14 9z"/><path class=ax d="M2114 208l14-9 -16-6 -14 9zm17 7l13-10 -16-6 -14 9zm16 6l14-9 -17-7 -13 10z"/><path class=aw d="M2163 229l14-10 -16-7 -14 9zm17 7l14-9 -17-8 -14 10z"/><path class=av d="M2197 244l13-9 -16-8 -14 9zm16 8l14-9 -17-8 -13 9z"/><path class=au d="M2230 261l14-9 -17-9 -14 9zm17 8l14-9 -17-8 -14 9z"/><path class=at d="M2264 279l14-9 -17-10 -14 9z"/><path class=as d="M2281 288l14-9 -17-9 -14 9zm18 10l13-9 -17-10 -14 9z"/><path class=ar d="M2316 309l14-9 -18-11 -13 9z"/><path class=av d="M1788 161l13-13 -14 0 -13 13z"/><path class=aw d="M1801 160l14-12 -14 0 -13 13zm14 0l13-12 -13 0 -14 12zm14 1l13-13 -14 0 -13 12z"/><path class=ax d="M1843 161l14-12 -15-1 -13 13zm14 1l14-12 -14-1 -14 12zm15 1l13-12 -14-1 -14 12zm14 2l14-12 -15-2 -13 12z"/><path class=ay d="M1901 167l13-12 -14-2 -14 12zm14 2l14-12 -15-2 -13 12zm15 2l14-12 -15-2 -14 12zm15 3l14-12 -15-3 -14 12zm15 3l14-12 -15-3 -14 12zm15 3l14-11 -15-4 -14 12zm16 4l13-11 -15-4 -14 11zm15 4l14-11 -16-4 -13 11zm15 4l14-11 -15-4 -14 11z"/><path class=ax d="M2037 197l14-11 -16-5 -14 11zm16 5l13-11 -15-5 -14 11zm16 5l13-11 -16-5 -13 11zm16 6l13-11 -16-6 -13 11z"/><path class=aw d="M2101 219l13-11 -16-6 -13 11zm16 6l14-10 -17-7 -13 11zm16 7l14-11 -16-6 -14 10z"/><path class=av d="M2150 239l13-10 -16-8 -14 11zm16 8l14-11 -17-7 -13 10zm17 7l14-10 -17-8 -14 11z"/><path class=au d="M2200 262l13-10 -16-8 -14 10zm16 9l14-10 -17-9 -13 10z"/><path class=at d="M2233 280l14-11 -17-8 -14 10z"/><path class=as d="M2250 289l14-10 -17-10 -14 11zm18 9l13-10 -17-9 -14 10z"/><path class=ar d="M2285 308l14-10 -18-10 -13 10z"/><path class=aq d="M2302 319l14-10 -17-11 -14 10z"/><path class=au d="M1774 175l14-14 -14 0 -13 14zm14-1l13-14 -13 1 -14 14z"/><path class=av d="M1802 174l13-14 -14 0 -13 14zm14 0l13-13 -14-1 -13 14zm14 1l13-14 -14 0 -13 13z"/><path class=aw d="M1844 176l13-14 -14-1 -13 14zm14 1l14-14 -15-1 -13 14zm15 1l13-13 -14-2 -14 14zm14 2l14-13 -15-2 -13 13zm15 2l13-13 -14-2 -14 13z"/><path class=ax d="M1917 184l13-13 -15-2 -13 13zm15 3l13-13 -15-3 -13 13zm15 3l13-13 -15-3 -13 13zm15 3l13-13 -15-3 -13 13zm15 4l14-13 -16-4 -13 13zm15 4l14-13 -15-4 -14 13z"/><path class=aw d="M2008 205l13-13 -15-4 -14 13zm15 4l14-12 -16-5 -13 13zm16 5l14-12 -16-5 -14 12zm16 6l14-13 -16-5 -14 12zm16 5l14-12 -16-6 -14 13z"/><path class=av d="M2087 231l14-12 -16-6 -14 12zm16 6l14-12 -16-6 -14 12zm16 7l14-12 -16-7 -14 12z"/><path class=au d="M2136 251l14-12 -17-7 -14 12zm16 7l14-11 -16-8 -14 12zm17 8l14-12 -17-7 -14 11z"/><path class=at d="M2186 274l14-12 -17-8 -14 12zm17 9l13-12 -16-9 -14 12z"/><path class=as d="M2220 291l13-11 -17-9 -13 12zm17 9l13-11 -17-9 -13 11z"/><path class=ar d="M2254 310l14-12 -18-9 -13 11z"/><path class=aq d="M2271 320l14-12 -17-10 -14 12zm17 10l14-11 -17-11 -14 12z"/><path class=as d="M1761 190l13-15 -13 0 -13 16z"/><path class=at d="M1775 190l13-16 -14 1 -13 15zm14-1l13-15 -14 0 -13 16z"/><path class=au d="M1803 189l13-15 -14 0 -13 15zm14 1l13-15 -14-1 -13 15zm14 0l13-14 -14-1 -13 15z"/><path class=av d="M1845 191l13-14 -14-1 -13 14zm14 2l14-15 -15-1 -13 14zm15 1l13-14 -14-2 -14 15zm14 2l14-14 -15-2 -13 14zm15 2l14-14 -15-2 -14 14zm15 3l14-14 -15-3 -14 14zm15 3l14-14 -15-3 -14 14zm15 3l14-14 -15-3 -14 14zm15 4l14-14 -15-4 -14 14zm16 3l13-13 -15-4 -14 14zm15 5l14-14 -16-4 -13 13zm16 4l13-14 -15-4 -14 14zm15 5l14-14 -16-5 -13 14zm16 5l14-13 -16-6 -14 14zm16 6l14-14 -16-5 -14 13z"/><path class=au d="M2073 244l14-13 -16-6 -14 14zm16 7l14-14 -16-6 -14 13zm17 6l13-13 -16-7 -14 14z"/><path class=at d="M2122 264l14-13 -17-7 -13 13zm17 7l13-13 -16-7 -14 13zm16 8l14-13 -17-8 -13 13z"/><path class=as d="M2172 287l14-13 -17-8 -14 13zm17 8l14-12 -17-9 -14 13z"/><path class=ar d="M2206 304l14-13 -17-8 -14 12zm17 9l14-13 -17-9 -14 13z"/><path class=aq d="M2240 323l14-13 -17-10 -14 13z"/><path class=ap d="M2257 333l14-13 -17-10 -14 13zm17 10l14-13 -17-10 -14 13z"/><path class=ar d="M1748 206l13-16 -13 1 -13 16zm14 0l13-16 -14 0 -13 16z"/><path class=as d="M1775 206l14-17 -14 1 -13 16zm14 0l14-17 -14 0 -14 17zm14 0l14-16 -14-1 -14 17z"/><path class=at d="M1817 206l14-16 -14 0 -14 16zm15 1l13-16 -14-1 -14 16zm14 1l13-15 -14-2 -13 16z"/><path class=au d="M1860 210l14-16 -15-1 -13 15zm15 2l13-16 -14-2 -14 16zm15 2l13-16 -15-2 -13 16zm14 2l14-15 -15-3 -13 16zm15 3l14-15 -15-3 -14 15zm15 3l14-15 -15-3 -14 15zm16 4l13-15 -15-4 -14 15zm15 3l14-15 -16-3 -13 15zm15 5l14-15 -15-5 -14 15zm16 4l14-15 -16-4 -14 15zm16 5l13-15 -15-5 -14 15zm15 5l14-15 -16-5 -13 15z"/><path class=at d="M2043 253l14-14 -16-6 -14 15zm16 6l14-15 -16-5 -14 14zm16 6l14-14 -16-7 -14 15zm17 7l14-15 -17-6 -14 14z"/><path class=as d="M2108 279l14-15 -16-7 -14 15zm17 7l14-15 -17-7 -14 15z"/><path class=ar d="M2141 293l14-14 -16-8 -14 15zm17 8l14-14 -17-8 -14 14z"/><path class=aq d="M2175 310l14-15 -17-8 -14 14zm17 8l14-14 -17-9 -14 15z"/><path class=ap d="M2209 327l14-14 -17-9 -14 14zm17 10l14-14 -17-10 -14 14z"/><path class=ao d="M2243 347l14-14 -17-10 -14 14zm17 10l14-14 -17-10 -14 14z"/><path class=ap d="M1735 224l13-18 -13 1 -13 18z"/><path class=aq d="M1749 223l13-17 -14 0 -13 18zm13 0l13-17 -13 0 -13 17zm14 0l13-17 -14 0 -13 17z"/><path class=ar d="M1790 223l13-17 -14 0 -13 17zm14 1l13-18 -14 0 -13 17zm14 0l14-17 -15-1 -13 18z"/><path class=as d="M1832 225l14-17 -14-1 -14 17zm15 2l13-17 -14-2 -14 17zm14 2l14-17 -15-2 -13 17zm15 2l14-17 -15-2 -14 17zm15 2l13-17 -14-2 -14 17zm15 3l13-17 -15-3 -13 17z"/><path class=at d="M1921 239l13-17 -15-3 -13 17zm15 3l14-16 -16-4 -13 17zm15 4l14-17 -15-3 -14 16zm16 4l13-16 -15-5 -14 17z"/><path class=as d="M1982 254l14-16 -16-4 -13 16zm16 5l14-16 -16-5 -14 16zm16 5l13-16 -15-5 -14 16zm15 5l14-16 -16-5 -13 16zm16 6l14-16 -16-6 -14 16z"/><path class=ar d="M2062 281l13-16 -16-6 -14 16zm16 7l14-16 -17-7 -13 16zm16 6l14-15 -16-7 -14 16z"/><path class=aq d="M2111 302l14-16 -17-7 -14 15zm16 7l14-16 -16-7 -14 16zm17 8l14-16 -17-8 -14 16z"/><path class=ap d="M2161 325l14-15 -17-9 -14 16zm17 9l14-16 -17-8 -14 15z"/><path class=ao d="M2195 343l14-16 -17-9 -14 16zm17 9l14-15 -17-10 -14 16z"/><path class=an d="M2229 362l14-15 -17-10 -14 15z"/><path class=am d="M2246 372l14-15 -17-10 -14 15z"/><path class=an d="M1722 243l13-19 -13 1 -13 19z"/><path class=ao d="M1735 242l14-19 -14 1 -13 19zm14 0l13-19 -13 0 -14 19z"/><path class=ap d="M1763 241l13-18 -14 0 -13 19zm14 0l13-18 -14 0 -13 18zm14 1l13-18 -14-1 -13 18z"/><path class=aq d="M1805 243l13-19 -14 0 -13 18zm14 1l13-19 -14-1 -13 19zm14 1l14-18 -15-2 -13 19zm15 2l13-18 -14-2 -14 18z"/><path class=ar d="M1863 249l13-18 -15-2 -13 18zm14 2l14-18 -15-2 -13 18zm15 3l14-18 -15-3 -14 18zm15 3l14-18 -15-3 -14 18zm15 3l14-18 -15-3 -14 18zm16 3l13-17 -15-4 -14 18zm15 4l14-17 -16-4 -13 17zm15 5l14-18 -15-4 -14 17zm16 4l14-17 -16-5 -14 18zm16 5l14-17 -16-5 -14 17z"/><path class=aq d="M2016 287l13-18 -15-5 -14 17zm16 5l13-17 -16-6 -13 18zm16 6l14-17 -17-6 -13 17zm16 7l14-17 -16-7 -14 17z"/><path class=ap d="M2080 312l14-18 -16-6 -14 17zm17 7l14-17 -17-8 -14 18zm16 7l14-17 -16-7 -14 17z"/><path class=ao d="M2130 334l14-17 -17-8 -14 17zm17 8l14-17 -17-8 -14 17z"/><path class=an d="M2163 351l15-17 -17-9 -14 17zm17 9l15-17 -17-9 -15 17z"/><path class=am d="M2198 369l14-17 -17-9 -15 17zm17 10l14-17 -17-10 -14 17z"/><path class=al d="M2232 389l14-17 -17-10 -14 17zm-523-126l13-20 -13 1 -13 20z"/><path class=am d="M1722 262l13-20 -13 1 -13 20zm14-1l13-19 -14 0 -13 20z"/><path class=an d="M1750 261l13-20 -14 1 -13 19zm13 0l14-20 -14 0 -13 20zm14 1l14-20 -14-1 -14 20z"/><path class=ao d="M1791 262l14-19 -14-1 -14 20zm15 1l13-19 -14-1 -14 19zm14 1l13-19 -14-1 -13 19z"/><path class=ap d="M1834 266l14-19 -15-2 -13 19zm15 2l14-19 -15-2 -14 19zm15 2l13-19 -14-2 -14 19zm15 3l13-19 -15-3 -13 19zm14 3l14-19 -15-3 -13 19zm16 3l13-19 -15-3 -14 19zm15 3l14-19 -16-3 -13 19zm15 4l14-19 -15-4 -14 19zm16 5l13-19 -15-5 -14 19zm15 4l14-19 -16-4 -13 19zm16 5l14-19 -16-5 -14 19zm16 5l14-18 -16-6 -14 19z"/><path class=ao d="M2018 311l14-19 -16-5 -14 18zm16 6l14-19 -16-6 -14 19zm16 6l14-18 -16-7 -14 19zm16 7l14-18 -16-7 -14 18z"/><path class=an d="M2083 337l14-18 -17-7 -14 18zm16 8l14-19 -16-7 -14 18zm17 8l14-19 -17-8 -14 19z"/><path class=am d="M2132 361l15-19 -17-8 -14 19zm17 8l14-18 -16-9 -15 19z"/><path class=al d="M2166 378l14-18 -17-9 -14 18zm17 10l15-19 -18-9 -14 18z"/><path class=ak d="M2201 397l14-18 -17-10 -15 19z"/><path class=aj d="M2218 408l14-19 -17-10 -14 18zm-522-124l13-21 -13 1 -13 21zm13-1l13-21 -13 1 -13 21z"/><path class=ak d="M1723 283l13-22 -14 1 -13 21zm13-1l14-21 -14 0 -13 22z"/><path class=al d="M1750 282l13-21 -13 0 -14 21zm14 0l13-20 -14-1 -13 21z"/><path class=am d="M1778 283l13-21 -14 0 -13 20zm14 1l14-21 -15-1 -13 21zm15 1l13-21 -14-1 -14 21z"/><path class=an d="M1821 287l13-21 -14-2 -13 21zm14 1l14-20 -15-2 -13 21zm15 3l14-21 -15-2 -14 20zm15 2l14-20 -15-3 -14 21zm15 3l13-20 -14-3 -14 20zm15 3l14-20 -16-3 -13 20zm15 4l14-21 -15-3 -14 20zm15 4l14-21 -15-4 -14 21zm16 4l14-20 -16-5 -14 21zm15 4l14-20 -15-4 -14 20zm16 5l14-20 -16-5 -14 20zm16 5l14-20 -16-5 -14 20zm16 6l14-20 -16-6 -14 20z"/><path class=am d="M2020 337l14-20 -16-6 -14 20zm16 6l14-20 -16-6 -14 20zm16 7l14-20 -16-7 -14 20zm16 7l15-20 -17-7 -14 20z"/><path class=al d="M2085 365l14-20 -16-8 -15 20zm17 7l14-19 -17-8 -14 20z"/><path class=ak d="M2118 381l14-20 -16-8 -14 19zm17 8l14-20 -17-8 -14 20z"/><path class=aj d="M2152 398l14-20 -17-9 -14 20zm17 10l14-20 -17-10 -14 20z"/><path class=ai d="M2186 417l15-20 -18-9 -14 20zm18 10l14-19 -17-11 -15 20z"/><path class=ah d="M1683 307l13-23 -13 1 -13 23zm13-1l13-23 -13 1 -13 23z"/><path class=ai d="M1710 305l13-22 -14 0 -13 23zm13-1l13-22 -13 1 -13 22z"/><path class=aj d="M1737 304l13-22 -14 0 -13 22zm14 1l13-23 -14 0 -13 22zm14 0l13-22 -14-1 -13 23z"/><path class=ak d="M1779 306l13-22 -14-1 -13 22zm14 1l14-22 -15-1 -13 22zm14 2l14-22 -14-2 -14 22z"/><path class=al d="M1822 310l13-22 -14-1 -14 22zm15 2l13-21 -15-3 -13 22zm14 3l14-22 -15-2 -13 21zm15 3l14-22 -15-3 -14 22zm15 3l14-22 -15-3 -14 22zm15 3l14-21 -15-4 -14 22zm16 4l13-21 -15-4 -14 21zm15 4l14-21 -16-4 -13 21zm15 5l14-22 -15-4 -14 21zm16 5l14-22 -16-5 -14 22zm16 5l14-22 -16-5 -14 22zm16 6l14-22 -16-6 -14 22z"/><path class=ak d="M2006 358l14-21 -16-6 -14 22zm16 7l14-22 -16-6 -14 21zm16 6l14-21 -16-7 -14 22zm16 8l14-22 -16-7 -14 21z"/><path class=aj d="M2071 386l14-21 -17-8 -14 22zm16 8l15-22 -17-7 -14 21z"/><path class=ai d="M2104 402l14-21 -16-9 -15 22zm17 9l14-22 -17-8 -14 21z"/><path class=ah d="M2138 419l14-21 -17-9 -14 22zm17 10l14-21 -17-10 -14 21z"/><path class=ag d="M2172 439l14-22 -17-9 -14 21zm17 10l15-22 -18-10 -14 22z"/><path class=ae d="M1670 330l13-23 -13 1 -13 24z"/><path class=af d="M1683 329l13-23 -13 1 -13 23zm14-1l13-23 -14 1 -13 23z"/><path class=ag d="M1710 328l13-24 -13 1 -13 23zm14 0l13-24 -14 0 -13 24z"/><path class=ah d="M1738 328l13-23 -14-1 -13 24zm14 0l13-23 -14 0 -13 23zm14 1l13-23 -14-1 -13 23z"/><path class=ai d="M1780 330l13-23 -14-1 -13 23zm14 2l13-23 -14-2 -13 23zm15 2l13-24 -15-1 -13 23zm14 2l14-24 -15-2 -13 24z"/><path class=aj d="M1838 338l13-23 -14-3 -14 24zm15 3l13-23 -15-3 -13 23zm15 3l13-23 -15-3 -13 23zm15 3l13-23 -15-3 -13 23zm15 4l14-23 -16-4 -13 23zm15 4l14-23 -15-4 -14 23zm16 5l13-23 -15-5 -14 23zm15 5l14-23 -16-5 -13 23zm16 5l14-23 -16-5 -14 23zm16 5l14-22 -16-6 -14 23z"/><path class=ai d="M1992 381l14-23 -16-5 -14 22zm16 7l14-23 -16-7 -14 23zm16 6l14-23 -16-6 -14 23zm16 7l14-22 -16-8 -14 23z"/><path class=ah d="M2057 409l14-23 -17-7 -14 22zm16 7l14-22 -16-8 -14 23z"/><path class=ag d="M2090 425l14-23 -17-8 -14 22zm17 8l14-22 -17-9 -14 23z"/><path class=af d="M2123 442l15-23 -17-8 -14 22zm17 9l15-22 -17-10 -15 23z"/><path class=ae d="M2158 461l14-22 -17-10 -15 22zm17 10l14-22 -17-10 -14 22z"/><path class=ab d="M1657 355l13-25 -13 2 -13 25z"/><path class=ac d="M1670 354l13-25 -13 1 -13 25z"/><path class=ad d="M1684 353l13-25 -14 1 -13 25zm13 0l13-25 -13 0 -13 25z"/><path class=ae d="M1711 353l13-25 -14 0 -13 25zm13 0l14-25 -14 0 -13 25z"/><path class=af d="M1738 353l14-25 -14 0 -14 25zm14 1l14-25 -14-1 -14 25zm14 1l14-25 -14-1 -14 25z"/><path class=ag d="M1781 356l13-24 -14-2 -14 25zm14 2l14-24 -15-2 -13 24zm15 2l13-24 -14-2 -14 24zm14 2l14-24 -15-2 -13 24zm15 3l14-24 -15-3 -14 24zm15 3l14-24 -15-3 -14 24z"/><path class=ah d="M1869 372l14-25 -15-3 -14 24zm15 3l14-24 -15-4 -14 25zm15 5l14-25 -15-4 -14 24zm16 4l14-24 -16-5 -14 25z"/><path class=ag d="M1930 389l14-24 -15-5 -14 24zm16 5l14-24 -16-5 -14 24zm16 6l14-25 -16-5 -14 24zm16 5l14-24 -16-6 -14 25zm16 7l14-24 -16-7 -14 24zm16 6l14-24 -16-6 -14 24z"/><path class=af d="M2026 425l14-24 -16-7 -14 24zm16 8l15-24 -17-8 -14 24zm17 8l14-25 -16-7 -15 24z"/><path class=ae d="M2076 449l14-24 -17-9 -14 25zm16 8l15-24 -17-8 -14 24z"/><path class=ad d="M2109 466l14-24 -16-9 -15 24zm17 10l14-25 -17-9 -14 24z"/><path class=ac d="M2143 485l15-24 -18-10 -14 25zm17 10l15-24 -17-10 -15 24z"/><path class=b0 d="M1644 381l13-26 -13 2 -13 26zm14-1l12-26 -13 1 -13 26z"/><path class=aa d="M1671 379l13-26 -14 1 -12 26zm13 0l13-26 -13 0 -13 26z"/><path class=ab d="M1698 379l13-26 -14 0 -13 26zm13 0l13-26 -13 0 -13 26z"/><path class=ac d="M1725 379l13-26 -14 0 -13 26zm14 1l13-26 -14-1 -13 26z"/><path class=ad d="M1753 381l13-26 -14-1 -13 26zm14 1l14-26 -15-1 -13 26zm15 2l13-26 -14-2 -14 26zm14 2l14-26 -15-2 -13 26z"/><path class=ae d="M1811 388l13-26 -14-2 -14 26zm14 3l14-26 -15-3 -13 26zm15 3l14-26 -15-3 -14 26zm15 3l14-25 -15-4 -14 26zm15 4l14-26 -15-3 -14 25zm16 4l13-25 -15-5 -14 26zm15 5l14-26 -16-4 -13 25zm15 4l14-25 -15-5 -14 26zm16 6l14-26 -16-5 -14 25zm16 5l14-25 -16-6 -14 26zm16 6l14-26 -16-5 -14 25z"/><path class=ad d="M1980 437l14-25 -16-7 -14 26zm16 7l14-26 -16-6 -14 25zm16 7l14-26 -16-7 -14 26zm16 7l14-25 -16-8 -14 26z"/><path class=ac d="M2045 466l14-25 -17-8 -14 25zm16 8l15-25 -17-8 -14 25z"/><path class=ab d="M2078 483l14-26 -16-8 -15 25zm17 9l14-26 -17-9 -14 26z"/><path class=aa d="M2112 501l14-25 -17-10 -14 26zm17 10l14-26 -17-9 -14 25z"/><path class=b0 d="M2146 521l14-26 -17-10 -14 26z"/><path class=b4 d="M1632 409l12-28 -13 2 -12 27zm13-1l13-28 -14 1 -12 28z"/><path class=b1 d="M1658 407l13-28 -13 1 -13 28z"/><path class=b2 d="M1671 406l13-27 -13 0 -13 28zm14 0l13-27 -14 0 -13 27z"/><path class=b0 d="M1698 406l13-27 -13 0 -13 27zm14 0l13-27 -14 0 -13 27zm14 1l13-27 -14-1 -13 27z"/><path class=aa d="M1740 408l13-27 -14-1 -13 27zm14 1l13-27 -14-1 -13 27zm14 2l14-27 -15-2 -13 27z"/><path class=ab d="M1783 413l13-27 -14-2 -14 27zm14 2l14-27 -15-2 -13 27zm15 3l13-27 -14-3 -14 27zm15 3l13-27 -15-3 -13 27zm15 3l13-27 -15-3 -13 27zm15 4l13-27 -15-4 -13 27zm15 4l14-27 -16-4 -13 27zm15 5l14-27 -15-5 -14 27zm16 5l13-28 -15-4 -14 27zm15 5l14-27 -16-6 -13 28zm16 5l14-27 -16-5 -14 27zm16 6l14-27 -16-6 -14 27zm16 6l14-27 -16-6 -14 27zm16 7l14-27 -16-7 -14 27z"/><path class=aa d="M1998 478l14-27 -16-7 -14 27zm16 8l14-28 -16-7 -14 27zm16 7l15-27 -17-8 -14 28z"/><path class=b0 d="M2047 501l14-27 -16-8 -15 27zm17 9l14-27 -17-9 -14 27z"/><path class=b2 d="M2080 519l15-27 -17-9 -14 27zm17 9l15-27 -17-9 -15 27z"/><path class=b1 d="M2114 538l15-27 -17-10 -15 27zm17 10l15-27 -17-10 -15 27z"/><path class=b6 d="M1619 438l13-29 -13 1 -13 29zm13-2l13-28 -13 1 -13 29z"/><path class=b7 d="M1645 435l13-28 -13 1 -13 28z"/><path class=b3 d="M1659 435l12-29 -13 1 -13 28zm13 0l13-29 -14 0 -12 29z"/><path class=b4 d="M1685 435l13-29 -13 0 -13 29zm14 0l13-29 -14 0 -13 29zm14 1l13-29 -14-1 -13 29z"/><path class=b1 d="M1727 437l13-29 -14-1 -13 29zm14 1l13-29 -14-1 -13 29z"/><path class=b2 d="M1755 440l13-29 -14-2 -13 29zm14 2l14-29 -15-2 -13 29zm15 2l13-29 -14-2 -14 29zm15 3l13-29 -15-3 -13 29zm14 3l14-29 -15-3 -13 29zm15 3l14-29 -15-3 -14 29z"/><path class=b0 d="M1843 457l14-29 -15-4 -14 29zm15 4l14-29 -15-4 -14 29zm15 4l14-28 -15-5 -14 29zm16 5l14-28 -16-5 -14 28z"/><path class=b2 d="M1904 475l14-28 -15-5 -14 28zm16 6l14-29 -16-5 -14 28zm16 6l14-29 -16-6 -14 29zm15 6l15-29 -16-6 -14 29zm16 7l15-29 -16-7 -15 29zm17 7l14-29 -16-7 -15 29z"/><path class=b1 d="M2000 514l14-28 -16-8 -14 29zm16 8l14-29 -16-7 -14 28zm17 8l14-29 -17-8 -14 29z"/><path class=b4 d="M2049 539l15-29 -17-9 -14 29zm17 9l14-29 -16-9 -15 29z"/><path class=b3 d="M2083 557l14-29 -17-9 -14 29zm17 10l14-29 -17-10 -14 29z"/><path class=b7 d="M2117 577l14-29 -17-10 -14 29z"/><path class=b8 d="M1607 468l12-30 -13 1 -12 30z"/><path class=b9 d="M1620 466l12-30 -13 2 -12 30z"/><path class=ca d="M1633 465l12-30 -13 1 -12 30zm13 0l13-30 -14 0 -12 30z"/><path class=b5 d="M1659 464l13-29 -13 0 -13 30zm14 0l12-29 -13 0 -13 29z"/><path class=b6 d="M1686 465l13-30 -14 0 -12 29zm14 0l13-29 -14-1 -13 30z"/><path class=b7 d="M1714 466l13-29 -14-1 -13 29zm14 2l13-30 -14-1 -13 29zm14 1l13-29 -14-2 -13 30z"/><path class=b3 d="M1756 471l13-29 -14-2 -13 29zm15 3l13-30 -15-2 -13 29zm14 2l14-29 -15-3 -13 30zm15 3l13-29 -14-3 -14 29zm15 4l13-30 -15-3 -13 29z"/><path class=b4 d="M1829 487l14-30 -15-4 -13 30zm16 4l13-30 -15-4 -14 30zm15 4l13-30 -15-4 -13 30zm15 5l14-30 -16-5 -13 30zm15 5l14-30 -15-5 -14 30z"/><path class=b3 d="M1906 511l14-30 -16-6 -14 30zm16 5l14-29 -16-6 -14 30zm16 7l13-30 -15-6 -14 29zm15 6l14-29 -16-7 -13 30zm17 8l14-30 -17-7 -14 29z"/><path class=b7 d="M1986 544l14-30 -16-7 -14 30zm16 8l14-30 -16-8 -14 30zm16 8l15-30 -17-8 -14 30z"/><path class=b6 d="M2035 569l14-30 -16-9 -15 30zm17 9l14-30 -17-9 -14 30z"/><path class=b5 d="M2068 587l15-30 -17-9 -14 30zm17 10l15-30 -17-10 -15 30z"/><path class=ca d="M2102 607l15-30 -17-10 -15 30z"/></g>
<path d="M470 21.4 471 21 472 20.6 473 20.2 474 20 475 19.7 476 19.4 477 19.1 478 18.9 479 18.7 480 18.5 481 18.4 482 18.2 483 18.1 484 18 485 17.9 486 17.8 487 17.8 488 17.8 489 17.8 490 17.8 491 17.8 492 17.8 493 17.9 494 18 495 18.1 496 18.3 497 18.4 498 18.6 499 18.7 500 18.9 501 19 502 19.2 503 19.4 504 19.6 505 19.7 506 19.9 507 20.1 508 20.3 509 20.5 510 20.7 511 21 512 21.2 513 21.4 514 21.6 515 21.9 516 22.1 517 22.4 518 22.6 519 22.9 520 23.1 521 23.4 522 23.7 523 23.9 524 24.1 525 24.4 526 24.7 527 25 528 25.3 529 25.6 530 25.9 531 26.2 532 26.5 533 26.9 534 27.2 535 27.4 536 27.7 537 28.1 538 28.4 539 28.8 540 29.1 541 29.5 542 29.9 543 30.2 544 30.5 545 30.8 546 31.2 547 31.6 548 32 549 32.4 550 32.8 551 33.1 552 33.5 553 33.9 554 34.3 555 34.8 556 35.2 557 35.5 558 35.9 559 36.4 560 36.8 561 37.3 562 37.7 563 38.1 564 38.5 565 39 566 39.5 567 40 568 40.4 569 40.8 570 41.3 571 41.8 572 42.3 573 42.7 574 43.2 575 43.6 576 44.2 577 44.7 578 45.2 579 45.6 580 46.1 581 46.7 582 47.2 583 47.7 584 48.2 585 48.7 586 49.3 587 49.8 588 50.3 589 50.9 590 51.4 591 52 592 52.5 593 53 594 53.6 595 54.1 596 54.7 597 55.3 598 55.9 599 56.4 600 57 601 57.6 602 58.2 603 58.8 604 59.3 605 60 606 60.6 607 61.1 608 61.8 609 62.4 610 63 611 63.6 612 64.2 613 64.9 614 65.5 615 66.1 616 66.8 617 67.4 618 68 619 68.7 620 69.3 621 70 622 70.7 623 71.3 624 72 625 72.6 626 73.3 627 74 628 74.6 629 75.4 630 76 631 76.7 632 77.5 633 78.3 634 79 635 79.8 636 80.6 637 81.4 638 82.2 639 83.4 640 84.3 641 85.1 642 86 643 86.9 644 88.3 645 89.3 646 90.2 647 91.7 648 92.7 649 93.8 650 94.8 650 94.8 649 93.9 648 93 647 92.1 646 90.8 645 89.9 644 89.1 643 87.9 642 87.1 641 86.3 640 85.6 639 84.9 638 83.8 637 83.1 636 82.4 635 81.8 634 81 633 80.3 632 79.5 631 78.7 630 78 629 77.4 628 76.6 627 76 626 75.3 625 74.6 624 74 623 73.3 622 72.7 621 72 620 71.3 619 70.7 618 70 617 69.4 616 68.8 615 68.1 614 67.5 613 66.9 612 66.2 611 65.6 610 65 609 64.4 608 63.8 607 63.1 606 62.6 605 62 604 61.3 603 60.8 602 60.2 601 59.6 600 59 599 58.4 598 57.9 597 57.3 596 56.7 595 56.1 594 55.6 593 55 592 54.5 591 54 590 53.4 589 52.9 588 52.3 587 51.8 586 51.3 585 50.7 584 50.2 583 49.7 582 49.2 581 48.7 580 48.1 579 47.6 578 47.2 577 46.7 576 46.2 575 45.6 574 45.2 573 44.7 572 44.3 571 43.8 570 43.3 569 42.8 568 42.4 567 42 566 41.5 565 41 564 40.5 563 40.1 562 39.7 561 39.3 560 38.8 559 38.4 558 37.9 557 37.5 556 37.2 555 36.8 554 36.3 553 35.9 552 35.5 551 35.1 550 34.8 549 34.4 548 34 547 33.6 546 33.2 545 32.8 544 32.5 543 32.2 542 31.9 541 31.5 540 31.1 539 30.8 538 30.4 537 30.1 536 29.7 535 29.4 534 29.2 533 28.9 532 28.5 531 28.2 530 27.9 529 27.6 528 27.3 527 27 526 26.7 525 26.4 524 26.1 523 25.9 522 25.7 521 25.4 520 25.1 519 24.9 518 24.6 517 24.4 516 24.1 515 23.9 514 23.6 513 23.4 512 23.2 511 23 510 22.7 509 22.5 508 22.3 507 22.1 506 21.9 505 21.7 504 21.6 503 21.4 502 21.2 501 21 500 20.9 499 20.7 498 20.6 497 20.4 496 20.3 495 20.1 494 20 493 19.9 492 19.8 491 19.8 490 19.8 489 19.7 488 19.6 487 19.5 486 19.4 485 19.4 484 19.4 483 19.4 482 19.4 481 19.5 480 19.5 479 19.6 478 19.7 477 19.8 476 20 475 20.2 474 20.4 473 20.5 472 20.8 471 21.1 470 21.4Z" fill="#140804" fill-opacity="0.8"/>
<path d="M457.4 122.8L457.4 122.8" stroke="#808080" stroke-width="0.8"/><ellipse cx="457.4" cy="122.8" rx="2.8" ry="2.2" fill="#b81414" stroke="#801010" stroke-width="0.4"/><path d="M595.9 64.2L595.7 69.3" stroke="#808080" stroke-width="0.8"/><ellipse cx="595.9" cy="64.2" rx="2.8" ry="2.2" fill="#b81414" stroke="#801010" stroke-width="0.4"/><path d="M463.2 24.4L463.2 24.4" stroke="#808080" stroke-width="0.8"/><ellipse cx="463.2" cy="24.4" rx="2.5" ry="1.9" fill="#f0cfc6" stroke="#b06858" stroke-width="0.5"/><path d="M525.6 23.9L525.6 35.7" stroke="#808080" stroke-width="0.8"/><ellipse cx="525.6" cy="23.9" rx="2.8" ry="2.2" fill="#b81414" stroke="#801010" stroke-width="0.4"/><path d="M525.6 30.8L525.6 35.7" stroke="#808080" stroke-width="0.8"/><ellipse cx="525.6" cy="30.8" rx="2.8" ry="2.2" fill="#b81414" stroke="#801010" stroke-width="0.4"/><path d="M525.6 37.8L525.6 35.7" stroke="#808080" stroke-width="0.8"/><ellipse cx="525.6" cy="37.8" rx="2.5" ry="1.9" fill="#f0cfc6" stroke="#b06858" stroke-width="0.5"/>
<path d="M34.7 237.7L168.5 216.1" stroke="#7a7a7a" stroke-width="0.9"/>
<path d="M168.5 216.1L301.8 238.2" stroke="#7a7a7a" stroke-width="0.9"/>
<path d="M168.5 216.1L168.4 325.6" stroke="#8a8a8a" stroke-width="0.9"/>
<path d="M301.8 238.2L293.4 359.2" stroke="#7a7a7a" stroke-width="0.9"/>
<path d="M34.7 237.7L42.9 359" stroke="#444" stroke-width="0.9"/>
<circle cx="35" cy="237.7" r="0.9"/>
<text x="31.6" y="243.3" text-anchor="end" class="t">74.8</text>
<circle cx="36.7" cy="261.7" r="0.9"/>
<text x="33.3" y="267.3" text-anchor="end" class="t">72.475</text>
<circle cx="38.2" cy="285" r="0.9"/>
<text x="34.8" y="290.6" text-anchor="end" class="t">70.15</text>
<circle cx="39.8" cy="307.8" r="0.9"/>
<text x="36.4" y="313.4" text-anchor="end" class="t">67.825</text>
<circle cx="41.3" cy="330.1" r="0.9"/>
<text x="37.9" y="335.7" text-anchor="end" class="t">65.5</text>
<path d="M42.9 359L168.2 401.6 293.4 359.2 168.4 325.6Z" fill="#ffff00" stroke="#6a6a00" stroke-width="0.5"/>
<g fill="none" stroke-width="0.55" stroke-opacity="0.5"><path d="M172.9 400 168.6 399.1 164.4 398.1 160.4 397.1 156.4 396.1 152.5 395.1 148.7 394.1 144.9 393 141.3 392 137.7 390.9 134.2 389.8 130.7 388.7 127.3 387.6 124 386.5 120.8 385.4 117.6 384.3 114.4 383.2 111.3 382.1 108.3 381 105.4 379.9 102.4 378.7 99.6 377.6 96.8 376.5 94 375.3 91.3 374.2 88.6 373.1 86 371.9 83.4 370.8 80.8 369.7 78.3 368.6 75.8 367.4 73.4 366.3 71 365.2 68.6 364.1 66.2 363 63.9 361.9 61.6 360.8 59.4 359.7 55 357.5 52.8 356.4M287.1 361.3 285 359.9 282.9 358.5 280.8 357.2 278.7 355.8 277 354.8" stroke="#00b6a2"/><path d="M187.8 395 183.2 394.2 178.7 393.4 174.4 392.5 170.1 391.6 166 390.7 162 389.7 158.1 388.8 154.3 387.8 150.5 386.8 146.9 385.8 143.3 384.8 139.8 383.7 136.4 382.7 133 381.7 129.7 380.6 126.5 379.5 123.3 378.5 120.2 377.4 117.2 376.3 114.2 375.2 111.3 374.1 108.4 373 105.6 371.9 102.8 370.9 100.1 369.8 97.4 368.7 94.7 367.6 92.2 366.5 89.6 365.4 87.1 364.3 84.6 363.2 82.1 362.1 79.7 361 77.3 359.9 75 358.8 72.7 357.7 70.4 356.7 68.1 355.6 63.8 353.5 63.7 353.5M273.7 365.9 270.6 363.3 268.2 361.3 264.3 358.5 260.3 355.7 256.2 353.1 252 350.5 249.6 349 245.7 346.8 244.3 346" stroke="#12c65f"/><path d="M210.6 387.3 207.3 387.1 204.7 386.9 199.1 386.5 194 386 189 385.4 184.3 384.7 179.8 383.9 175.4 383.2 171.2 382.4 167.1 381.5 163.2 380.6 159.3 379.7 155.5 378.8 151.9 377.9 148.3 376.9 144.8 376 141.4 375 138.1 374 134.9 373 131.7 372 128.6 370.9 125.5 369.9 122.5 368.9 119.6 367.8 116.7 366.8 113.9 365.7 111.2 364.7 108.4 363.6 105.8 362.6 103.2 361.5 100.6 360.5 98 359.4 95.5 358.4 93 357.3 90.6 356.3 88.2 355.2 85.8 354.2 83.5 353.1 81.2 352.1 78.9 351.1 76.6 350M252.3 373.1 251.6 370.5 250 367.4 247.4 364 244.8 361.3 242.7 359.4 239.2 356.5 235.5 353.8 231.7 351.2 227.8 348.6 223.8 346.1 221.3 344.6 217.8 342.6 213.8 340.3 211 338.6 207.9 336.9 205.8 335.7" stroke="#5abe00"/><path d="M166.3 326.2 169.4 328.4 172.6 330.6 176 332.8 178.7 334.6 181.2 336.2 184.7 338.5 187.1 340.1 189.9 342 193.4 344.5 196.8 347 200.1 349.6 203.2 352.4 205.9 355.3 207.8 357.9 208.8 360.2 208.9 363.7 206.6 366.7 204.3 368 201.3 369 197.4 369.8 192.5 370.2 189.3 370.3 186.2 370.3 183.2 370.2 178.2 369.8 173.2 369.2 168.7 368.6 164.5 367.9 160.6 367.2 156.7 366.4 153.1 365.6 149.5 364.7 146.2 363.9 142.7 362.9 139.5 362 136.3 361.1 133.2 360.2 130.2 359.2 127.3 358.3 124.4 357.3 121.6 356.3 118.8 355.3 116.1 354.4 113.5 353.4 110.9 352.4 108.3 351.4 105.7 350.4 103.2 349.4 100.7 348.5 98.3 347.5 95.8 346.5 93.4 345.6" stroke="#c88c00"/></g>
<path d="M42.9 359L168.2 401.6 293.4 359.2" fill="none" stroke="#3a3a00" stroke-width="0.8"/>
<text x="39.6" y="365" text-anchor="end" class="t">100.00</text>
<circle cx="74.4" cy="369.9" r="0.9"/>
<text x="71.9" y="375.7" text-anchor="end" class="t">90.00</text>
<circle cx="104.7" cy="380.2" r="0.9"/>
<text x="102.2" y="386" text-anchor="end" class="t">80.00</text>
<circle cx="136.9" cy="391.1" r="0.9"/>
<text x="134.4" y="396.9" text-anchor="end" class="t">70.00</text>
<text x="164.9" y="407.6" text-anchor="end" class="t">60.00</text>
<text x="171.7" y="407.4" class="t">400.00</text>
<circle cx="199.5" cy="391.2" r="0.9"/>
<text x="202.6" y="397" class="t">525.00</text>
<circle cx="231.7" cy="380.3" r="0.9"/>
<text x="234.8" y="386.1" class="t">650.00</text>
<circle cx="261.9" cy="370" r="0.9"/>
<text x="265" y="375.8" class="t">775.00</text>
<text x="296.9" y="365" class="t">900.00</text>
<text x="56.7" y="400.7" class="a" text-anchor="middle">D: Ethanol concentration</text>
<text x="279" y="400.7" class="a" text-anchor="middle">A: Microwave power</text>
<text transform="translate(7.4 313.5) rotate(-90)" class="d">DPPH</text>
<g transform="scale(.25)" stroke-width="1.2"><path class=br d="M676 941l12 8 -14-8 -12-8z"/><path class=bq d="M690 948l12 9 -14-8 -12-8zm14 8l12 9 -14-8 -12-9z"/><path class=bp d="M718 964l12 9 -14-8 -12-9z"/><path class=bo d="M732 972l12 9 -14-8 -12-9z"/><path class=aS d="M746 980l12 9 -14-8 -12-9zm15 8l11 10 -14-9 -12-9z"/><path class=aR d="M775 996l12 10 -15-8 -11-10z"/><path class=aQ d="M790 1004l11 11 -14-9 -12-10z"/><path class=cn d="M804 1013l12 10 -15-8 -11-11z"/><path class=aI d="M819 1021l11 11 -14-9 -12-10z"/><path class=cb d="M833 1030l12 11 -15-9 -11-11z"/><path class=cc d="M848 1039l11 11 -14-9 -12-11z"/><path class=cd d="M863 1048l11 11 -15-9 -11-11z"/><path class=ce d="M878 1057l11 12 -15-10 -11-11zm15 9l11 12 -15-9 -11-12z"/><path class=ak d="M908 1076l11 12 -15-10 -11-12z"/><path class=aj d="M923 1086l11 12 -15-10 -11-12z"/><path class=ai d="M938 1096l11 12 -15-10 -11-12z"/><path class=ah d="M953 1106l11 12 -15-10 -11-12z"/><path class=ag d="M969 1116l11 13 -16-11 -11-12z"/><path class=af d="M984 1127l11 13 -15-11 -11-13z"/><path class=ae d="M1000 1138l10 13 -15-11 -11-13z"/><path class=ad d="M1015 1149l11 13 -16-11 -10-13z"/><path class=ac d="M1031 1160l10 14 -15-12 -11-13z"/><path class=ab d="M1046 1172l11 14 -16-12 -10-14z"/><path class=aa d="M1062 1184l11 14 -16-12 -11-14z"/><path class=b0 d="M1078 1196l10 14 -15-12 -11-14z"/><path class=b2 d="M1094 1208l10 15 -16-13 -10-14z"/><path class=b4 d="M1110 1221l10 15 -16-13 -10-15z"/><path class=b3 d="M1126 1235l10 14 -16-13 -10-15z"/><path class=b7 d="M1142 1248l10 15 -16-14 -10-14z"/><path class=b6 d="M1158 1262l10 15 -16-14 -10-15z"/><path class=ca d="M1174 1276l10 15 -16-14 -10-15z"/><path class=bK d="M664 933l12 8 -14-8 -12-7zm14 8l12 7 -14-7 -12-8z"/><path class=br d="M692 948l12 8 -14-8 -12-7z"/><path class=bq d="M706 956l12 8 -14-8 -12-8zm14 7l12 9 -14-8 -12-8z"/><path class=bp d="M735 971l11 9 -14-8 -12-9z"/><path class=bo d="M749 979l12 9 -15-8 -11-9z"/><path class=aT d="M763 987l12 9 -14-8 -12-9z"/><path class=aS d="M778 995l12 9 -15-8 -12-9z"/><path class=aR d="M792 1003l12 10 -14-9 -12-9z"/><path class=aQ d="M807 1011l12 10 -15-8 -12-10zm15 9l11 10 -14-9 -12-10z"/><path class=aI d="M837 1028l11 11 -15-9 -11-10z"/><path class=cb d="M852 1037l11 11 -15-9 -11-11z"/><path class=cc d="M866 1046l12 11 -15-9 -11-11z"/><path class=cd d="M881 1055l12 11 -15-9 -12-11zm16 9l11 12 -15-10 -12-11z"/><path class=ce d="M912 1074l11 12 -15-10 -11-12z"/><path class=cf d="M927 1084l11 12 -15-10 -11-12z"/><path class=aj d="M942 1094l11 12 -15-10 -11-12z"/><path class=ai d="M958 1104l11 12 -16-10 -11-12z"/><path class=ah d="M973 1114l11 13 -15-11 -11-12z"/><path class=ag d="M989 1125l11 13 -16-11 -11-13z"/><path class=af d="M1004 1136l11 13 -15-11 -11-13z"/><path class=ae d="M1020 1147l11 13 -16-11 -11-13z"/><path class=ad d="M1036 1158l10 14 -15-12 -11-13z"/><path class=ac d="M1051 1170l11 14 -16-12 -10-14z"/><path class=ab d="M1067 1182l11 14 -16-12 -11-14z"/><path class=aa d="M1083 1195l11 13 -16-12 -11-14z"/><path class=b0 d="M1099 1208l11 13 -16-13 -11-13z"/><path class=b2 d="M1115 1221l11 14 -16-14 -11-13z"/><path class=b4 d="M1131 1234l11 14 -16-13 -11-14z"/><path class=b3 d="M1148 1248l10 14 -16-14 -11-14z"/><path class=b7 d="M1164 1262l10 14 -16-14 -10-14z"/><path class=bM d="M652 926l12 7 -14-7 -12-7z"/><path class=bL d="M666 934l12 7 -14-8 -12-7z"/><path class=bK d="M680 941l12 7 -14-7 -12-7zm14 7l12 8 -14-8 -12-7z"/><path class=br d="M709 955l11 8 -14-7 -12-8z"/><path class=bq d="M723 963l12 8 -15-8 -11-8zm14 7l12 9 -14-8 -12-8z"/><path class=bp d="M752 978l11 9 -14-8 -12-9z"/><path class=bo d="M766 986l12 9 -15-8 -11-9z"/><path class=aT d="M781 994l11 9 -14-8 -12-9z"/><path class=aS d="M795 1002l12 9 -15-8 -11-9z"/><path class=aR d="M810 1010l12 10 -15-9 -12-9z"/><path class=aQ d="M825 1018l12 10 -15-8 -12-10zm15 9l12 10 -15-9 -12-10z"/><path class=cn d="M855 1036l11 10 -14-9 -12-10z"/><path class=cb d="M870 1045l11 10 -15-9 -11-10z"/><path class=cc d="M885 1054l12 10 -16-9 -11-10zm15 9l12 11 -15-10 -12-10z"/><path class=cd d="M916 1072l11 12 -15-10 -12-11z"/><path class=ce d="M931 1082l11 12 -15-10 -11-12z"/><path class=cf d="M947 1092l11 12 -16-10 -11-12z"/><path class=cg d="M962 1102l11 12 -15-10 -11-12z"/><path class=ch d="M978 1113l11 12 -16-11 -11-12z"/><path class=ci d="M993 1124l11 12 -15-11 -11-12z"/><path class=cj d="M1009 1135l11 12 -16-11 -11-12z"/><path class=af d="M1025 1146l11 12 -16-11 -11-12z"/><path class=ae d="M1041 1158l10 12 -15-12 -11-12z"/><path class=ad d="M1057 1169l10 13 -16-12 -10-12z"/><path class=ac d="M1073 1182l10 13 -16-13 -10-13z"/><path class=ab d="M1089 1194l10 14 -16-13 -10-13z"/><path class=aa d="M1105 1207l10 14 -16-13 -10-14z"/><path class=b2 d="M1121 1220l10 14 -16-13 -10-14z"/><path class=b1 d="M1137 1234l11 14 -17-14 -10-14z"/><path class=b4 d="M1153 1248l11 14 -16-14 -11-14z"/><path class=bN d="M640 920l12 6 -14-7 -12-6z"/><path class=bM d="M654 927l12 7 -14-8 -12-6z"/><path class=bL d="M668 934l12 7 -14-7 -12-7zm14 7l12 7 -14-7 -12-7z"/><path class=bK d="M697 948l12 7 -15-7 -12-7zm14 7l12 8 -14-8 -12-7z"/><path class=br d="M725 963l12 7 -14-7 -12-8z"/><path class=bq d="M740 970l12 8 -15-8 -12-7zm14 8l12 8 -14-8 -12-8z"/><path class=bp d="M769 985l12 9 -15-8 -12-8z"/><path class=bo d="M784 993l11 9 -14-8 -12-9zm15 8l11 9 -15-8 -11-9z"/><path class=aS d="M813 1009l12 9 -15-8 -11-9z"/><path class=aR d="M828 1018l12 9 -15-9 -12-9zm15 8l12 10 -15-9 -12-9z"/><path class=aQ d="M858 1035l12 10 -15-9 -12-10z"/><path class=cn d="M874 1044l11 10 -15-9 -12-10z"/><path class=co d="M889 1053l11 10 -15-9 -11-10zm15 9l12 10 -16-9 -11-10z"/><path class=cc d="M920 1071l11 11 -15-10 -12-10z"/><path class=cd d="M935 1081l12 11 -16-10 -11-11z"/><path class=ce d="M951 1091l11 11 -15-10 -12-11z"/><path class=cf d="M966 1102l12 11 -16-11 -11-11z"/><path class=cg d="M982 1112l11 12 -15-11 -12-11z"/><path class=ch d="M998 1123l11 12 -16-11 -11-12z"/><path class=ci d="M1014 1134l11 12 -16-11 -11-12z"/><path class=cj d="M1030 1146l11 12 -16-12 -11-12z"/><path class=ck d="M1046 1157l11 12 -16-11 -11-12z"/><path class=cl d="M1062 1169l11 13 -16-13 -11-12z"/><path class=cm d="M1078 1182l11 12 -16-12 -11-13z"/><path class=cQ d="M1094 1195l11 12 -16-13 -11-12z"/><path class=cR d="M1110 1208l11 12 -16-13 -11-12z"/><path class=cS d="M1127 1221l10 13 -16-14 -11-12z"/><path class=cT d="M1143 1235l10 13 -16-14 -10-13z"/><path class=bO d="M628 915l12 5 -14-7 -12-5z"/><path class=bN d="M642 922l12 5 -14-7 -12-5zm14 6l12 6 -14-7 -12-5z"/><path class=bM d="M670 935l12 6 -14-7 -12-6z"/><path class=bL d="M685 942l12 6 -15-7 -12-6zm14 7l12 6 -14-7 -12-6z"/><path class=bK d="M713 956l12 7 -14-8 -12-6zm15 7l12 7 -15-7 -12-7z"/><path class=br d="M742 970l12 8 -14-8 -12-7z"/><path class=bq d="M757 978l12 7 -15-7 -12-8zm15 7l12 8 -15-8 -12-7z"/><path class=bp d="M787 993l12 8 -15-8 -12-8zm15 8l11 8 -14-8 -12-8z"/><path class=bo d="M817 1009l11 9 -15-9 -11-8z"/><path class=bn d="M832 1017l11 9 -15-8 -11-9z"/><path class=aR d="M847 1026l11 9 -15-9 -11-9zm15 8l12 10 -16-9 -11-9z"/><path class=aQ d="M877 1043l12 10 -15-9 -12-10z"/><path class=cn d="M893 1052l11 10 -15-9 -12-10z"/><path class=co d="M908 1061l12 10 -16-9 -11-10zm16 10l11 10 -15-10 -12-10z"/><path class=cp d="M939 1081l12 10 -16-10 -11-10z"/><path class=cq d="M955 1091l11 11 -15-11 -12-10z"/><path class=cr d="M971 1101l11 11 -16-10 -11-11z"/><path class=cs d="M987 1112l11 11 -16-11 -11-11z"/><path class=ct d="M1003 1123l11 11 -16-11 -11-11z"/><path class=cu d="M1019 1134l11 12 -16-12 -11-11z"/><path class=cv d="M1035 1146l11 11 -16-11 -11-12z"/><path class=cw d="M1051 1158l11 11 -16-12 -11-11z"/><path class=cx d="M1067 1170l11 12 -16-13 -11-11z"/><path class=cl d="M1083 1183l11 12 -16-13 -11-12z"/><path class=cU d="M1099 1196l11 12 -16-13 -11-12z"/><path class=cV d="M1116 1209l11 12 -17-13 -11-12z"/><path class=cW d="M1132 1223l11 12 -16-14 -11-12z"/><path class=bP d="M616 910l12 5 -14-7 -12-4z"/><path class=bO d="M630 917l12 5 -14-7 -12-5zm14 6l12 5 -14-6 -12-5z"/><path class=bN d="M658 930l12 5 -14-7 -12-5zm14 6l13 6 -15-7 -12-5z"/><path class=bM d="M687 943l12 6 -14-7 -13-6z"/><path class=bL d="M701 950l12 6 -14-7 -12-6zm15 7l12 6 -15-7 -12-6z"/><path class=bK d="M730 964l12 6 -14-7 -12-6zm15 7l12 7 -15-8 -12-6z"/><path class=bJ d="M760 978l12 7 -15-7 -12-7z"/><path class=bI d="M775 985l12 8 -15-8 -12-7z"/><path class=bq d="M790 993l12 8 -15-8 -12-8z"/><path class=bp d="M805 1001l12 8 -15-8 -12-8zm15 8l12 8 -15-8 -12-8z"/><path class=bo d="M835 1017l12 9 -15-9 -12-8z"/><path class=bn d="M850 1026l12 8 -15-8 -12-9z"/><path class=cy d="M866 1034l11 9 -15-9 -12-8zm15 9l12 9 -16-9 -11-9z"/><path class=cz d="M897 1052l11 9 -15-9 -12-9z"/><path class=cA d="M912 1062l12 9 -16-10 -11-9z"/><path class=co d="M928 1071l11 10 -15-10 -12-9z"/><path class=cp d="M944 1081l11 10 -16-10 -11-10zm15 10l12 10 -16-10 -11-10z"/><path class=cq d="M975 1102l12 10 -16-11 -12-10z"/><path class=cr d="M991 1113l12 10 -16-11 -12-10z"/><path class=cs d="M1007 1124l12 10 -16-11 -12-10z"/><path class=ct d="M1023 1135l12 11 -16-12 -12-10z"/><path class=cu d="M1040 1147l11 11 -16-12 -12-11z"/><path class=cv d="M1056 1159l11 11 -16-12 -11-11z"/><path class=cw d="M1072 1171l11 12 -16-13 -11-11z"/><path class=cX d="M1088 1184l11 12 -16-13 -11-12z"/><path class=cU d="M1105 1198l11 11 -17-13 -11-12z"/><path class=cY d="M1121 1211l11 12 -16-14 -11-11z"/><path class=bx d="M603 907l13 3 -14-6 -13-3zm15 6l12 4 -14-7 -13-3z"/><path class=bO d="M632 919l12 4 -14-6 -12-4zm14 6l12 5 -14-7 -12-4z"/><path class=bN d="M660 931l12 5 -14-6 -12-5zm15 7l12 5 -15-7 -12-5z"/><path class=bM d="M689 944l12 6 -14-7 -12-5zm15 7l12 6 -15-7 -12-6z"/><path class=bL d="M718 958l12 6 -14-7 -12-6zm15 7l12 6 -15-7 -12-6z"/><path class=bK d="M748 972l12 6 -15-7 -12-6zm15 7l12 6 -15-7 -12-6z"/><path class=bJ d="M778 986l12 7 -15-8 -12-6z"/><path class=bI d="M793 994l12 7 -15-8 -12-7zm15 8l12 7 -15-8 -12-7z"/><path class=bH d="M823 1010l12 7 -15-8 -12-7z"/><path class=bp d="M838 1018l12 8 -15-9 -12-7z"/><path class=bo d="M854 1026l12 8 -16-8 -12-8z"/><path class=bn d="M869 1035l12 8 -15-9 -12-8z"/><path class=cy d="M885 1044l12 8 -16-9 -12-8zm15 9l12 9 -15-10 -12-8z"/><path class=cz d="M916 1062l12 9 -16-9 -12-9z"/><path class=cA d="M932 1072l12 9 -16-10 -12-9z"/><path class=cB d="M948 1082l11 9 -15-10 -12-9z"/><path class=cC d="M964 1092l11 10 -16-11 -11-9z"/><path class=cD d="M980 1103l11 10 -16-11 -11-10z"/><path class=cE d="M996 1114l11 10 -16-11 -11-10z"/><path class=cF d="M1012 1125l11 10 -16-11 -11-10z"/><path class=cG d="M1028 1137l12 10 -17-12 -11-10z"/><path class=cH d="M1045 1149l11 10 -16-12 -12-10z"/><path class=cZ d="M1061 1161l11 10 -16-12 -11-10z"/><path class=c0 d="M1077 1174l11 10 -16-13 -11-10z"/><path class=c1 d="M1094 1187l11 11 -17-14 -11-10z"/><path class=c2 d="M1110 1200l11 11 -16-13 -11-11z"/><path class=by d="M591 904l12 3 -14-6 -12-3zm14 5l13 4 -15-6 -12-3z"/><path class=bx d="M619 915l13 4 -14-6 -13-4zm15 6l12 4 -14-6 -13-4z"/><path class=bw d="M648 927l12 4 -14-6 -12-4z"/><path class=bO d="M662 933l13 5 -15-7 -12-4z"/><path class=bN d="M677 940l12 4 -14-6 -13-5zm14 6l13 5 -15-7 -12-4z"/><path class=bM d="M706 952l12 6 -14-7 -13-5zm15 7l12 6 -15-7 -12-6z"/><path class=bL d="M736 966l12 6 -15-7 -12-6zm14 7l13 6 -15-7 -12-6z"/><path class=bK d="M765 980l13 6 -15-7 -13-6zm16 7l12 7 -15-8 -13-6z"/><path class=bJ d="M796 995l12 7 -15-8 -12-7z"/><path class=bI d="M811 1003l12 7 -15-8 -12-7zm15 8l12 7 -15-8 -12-7z"/><path class=bH d="M842 1019l12 7 -16-8 -12-7z"/><path class=bG d="M857 1027l12 8 -15-9 -12-7zm16 9l12 8 -16-9 -12-8z"/><path class=bF d="M889 1045l11 8 -15-9 -12-8z"/><path class=cI d="M904 1054l12 8 -16-9 -11-8z"/><path class=cJ d="M920 1064l12 8 -16-10 -12-8zm16 10l12 8 -16-10 -12-8z"/><path class=cK d="M952 1084l12 8 -16-10 -12-8z"/><path class=cL d="M968 1094l12 9 -16-11 -12-8z"/><path class=cM d="M984 1105l12 9 -16-11 -12-9z"/><path class=cN d="M1001 1116l11 9 -16-11 -12-9z"/><path class=cO d="M1017 1128l11 9 -16-12 -11-9z"/><path class=cP d="M1033 1139l12 10 -17-12 -11-9z"/><path class=c3 d="M1050 1152l11 9 -16-12 -12-10z"/><path class=c4 d="M1066 1164l11 10 -16-13 -11-9z"/><path class=c5 d="M1083 1177l11 10 -17-13 -11-10z"/><path class=c6 d="M1099 1190l11 10 -16-13 -11-10z"/><path class=bh d="M579 901l12 3 -14-6 -12-2z"/><path class=bg d="M593 907l12 2 -14-5 -12-3z"/><path class=by d="M607 912l12 3 -14-6 -12-2z"/><path class=bx d="M621 918l13 3 -15-6 -12-3zm14 6l13 3 -14-6 -13-3zm15 6l12 3 -14-6 -13-3z"/><path class=bw d="M664 936l13 4 -15-7 -12-3zm15 6l12 4 -14-6 -13-4z"/><path class=bN d="M694 948l12 4 -15-6 -12-4zm14 7l13 4 -15-7 -12-4z"/><path class=bM d="M723 961l13 5 -15-7 -13-4zm15 7l12 5 -14-7 -13-5z"/><path class=bL d="M753 975l12 5 -15-7 -12-5zm15 7l13 5 -16-7 -12-5z"/><path class=bK d="M784 989l12 6 -15-8 -13-5zm15 8l12 6 -15-8 -12-6z"/><path class=bJ d="M814 1005l12 6 -15-8 -12-6z"/><path class=bI d="M830 1013l12 6 -16-8 -12-6zm15 8l12 6 -15-8 -12-6z"/><path class=bH d="M861 1029l12 7 -16-9 -12-6z"/><path class=bG d="M877 1038l12 7 -16-9 -12-7zm15 9l12 7 -15-9 -12-7z"/><path class=bF d="M908 1056l12 8 -16-10 -12-7z"/><path class=cI d="M924 1066l12 8 -16-10 -12-8z"/><path class=cJ d="M940 1076l12 8 -16-10 -12-8z"/><path class=cK d="M956 1086l12 8 -16-10 -12-8z"/><path class=cL d="M973 1097l11 8 -16-11 -12-8z"/><path class=cM d="M989 1108l12 8 -17-11 -11-8z"/><path class=cN d="M1005 1119l12 9 -16-12 -12-8z"/><path class=cO d="M1022 1131l11 8 -16-11 -12-9z"/><path class=cP d="M1038 1143l12 9 -17-13 -11-8z"/><path class=c3 d="M1055 1155l11 9 -16-12 -12-9z"/><path class=c4 d="M1071 1168l12 9 -17-13 -11-9z"/><path class=c5 d="M1088 1181l11 9 -16-13 -12-9z"/><path class=bh d="M566 900l13 1 -14-5 -13-1zm14 5l13 2 -14-6 -13-1z"/><path class=bg d="M594 911l13 1 -14-5 -13-2zm15 5l12 2 -14-6 -13-1zm14 5l12 3 -14-6 -12-2z"/><path class=bx d="M637 927l13 3 -15-6 -12-3zm15 6l12 3 -14-6 -13-3z"/><path class=bw d="M666 939l13 3 -15-6 -12-3zm15 6l13 3 -15-6 -13-3zm15 6l12 4 -14-7 -13-3z"/><path class=bv d="M711 957l12 4 -15-6 -12-4zm15 7l12 4 -15-7 -12-4z"/><path class=bu d="M741 970l12 5 -15-7 -12-4z"/><path class=bM d="M756 977l12 5 -15-7 -12-5z"/><path class=bL d="M771 984l13 5 -16-7 -12-5zm16 8l12 5 -15-8 -13-5z"/><path class=bK d="M802 999l12 6 -15-8 -12-5z"/><path class=bJ d="M817 1007l13 6 -16-8 -12-6zm16 8l12 6 -15-8 -13-6z"/><path class=bI d="M849 1023l12 6 -16-8 -12-6z"/><path class=bH d="M864 1032l13 6 -16-9 -12-6zm16 9l12 6 -15-9 -13-6z"/><path class=bG d="M896 1050l12 6 -16-9 -12-6z"/><path class=bF d="M912 1059l12 7 -16-10 -12-6z"/><path class=cI d="M928 1069l12 7 -16-10 -12-7zm16 10l12 7 -16-10 -12-7z"/><path class=cJ d="M961 1090l12 7 -17-11 -12-7z"/><path class=cK d="M977 1100l12 8 -16-11 -12-7z"/><path class=cL d="M993 1111l12 8 -16-11 -12-8z"/><path class=cM d="M1010 1123l12 8 -17-12 -12-8z"/><path class=cN d="M1026 1135l12 8 -16-12 -12-8z"/><path class=cO d="M1043 1147l12 8 -17-12 -12-8z"/><path class=cP d="M1060 1160l11 8 -16-13 -12-8z"/><path class=c3 d="M1076 1173l12 8 -17-13 -11-8z"/><path class=a3 d="M553 899l13 1 -14-5 -13 0z"/><path class=a2 d="M568 904l12 1 -14-5 -13-1z"/><path class=bh d="M582 909l12 2 -14-6 -12-1zm14 6l13 1 -15-5 -12-2z"/><path class=bg d="M610 920l13 1 -14-5 -13-1zm15 5l12 2 -14-6 -13-1z"/><path class=bf d="M639 931l13 2 -15-6 -12-2zm15 5l12 3 -14-6 -13-2zm15 6l12 3 -15-6 -12-3z"/><path class=bw d="M683 948l13 3 -15-6 -12-3zm15 6l13 3 -15-6 -13-3z"/><path class=bv d="M713 960l13 4 -15-7 -13-3zm15 7l13 3 -15-6 -13-4z"/><path class=bu d="M744 973l12 4 -15-7 -13-3zm15 7l12 4 -15-7 -12-4z"/><path class=bt d="M774 987l13 5 -16-8 -12-4zm16 8l12 4 -15-7 -13-5z"/><path class=bs d="M805 1002l12 5 -15-8 -12-4zm16 8l12 5 -16-8 -12-5z"/><path class=br d="M836 1018l13 5 -16-8 -12-5z"/><path class=bq d="M852 1027l12 5 -15-9 -13-5zm16 8l12 6 -16-9 -12-5z"/><path class=bp d="M884 1044l12 6 -16-9 -12-6z"/><path class=bo d="M900 1053l12 6 -16-9 -12-6zm16 10l12 6 -16-10 -12-6z"/><path class=bn d="M932 1073l12 6 -16-10 -12-6z"/><path class=cy d="M949 1083l12 7 -17-11 -12-6z"/><path class=cz d="M965 1094l12 6 -16-10 -12-7z"/><path class=cA d="M982 1105l11 6 -16-11 -12-6z"/><path class=cB d="M998 1116l12 7 -17-12 -11-6z"/><path class=cC d="M1015 1128l11 7 -16-12 -12-7z"/><path class=cD d="M1031 1140l12 7 -17-12 -11-7z"/><path class=cE d="M1048 1152l12 8 -17-13 -12-7z"/><path class=cF d="M1065 1165l11 8 -16-13 -12-8z"/><path class=a3 d="M541 900l12-1 -14-4 -12 0zm14 4l13 0 -15-5 -12 1z"/><path class=a2 d="M569 909l13 0 -14-5 -13 0zm14 5l13 1 -14-6 -13 0zm15 5l12 1 -14-5 -13-1z"/><path class=a1 d="M612 924l13 1 -15-5 -12-1z"/><path class=bg d="M627 929l12 2 -14-6 -13-1zm14 6l13 1 -15-5 -12-2z"/><path class=bf d="M656 940l13 2 -15-6 -13-1zm15 6l12 2 -14-6 -13-2z"/><path class=be d="M686 952l12 2 -15-6 -12-2zm15 6l12 2 -15-6 -12-2zm15 6l12 3 -15-7 -12-2z"/><path class=bd d="M731 971l13 2 -16-6 -12-3zm15 6l13 3 -15-7 -13-2z"/><path class=bc d="M762 984l12 3 -15-7 -13-3zm15 7l13 4 -16-8 -12-3z"/><path class=bt d="M793 998l12 4 -15-7 -13-4zm15 8l13 4 -16-8 -12-4z"/><path class=bs d="M824 1014l12 4 -15-8 -13-4z"/><path class=br d="M840 1022l12 5 -16-9 -12-4zm16 9l12 4 -16-8 -12-5z"/><path class=bq d="M872 1039l12 5 -16-9 -12-4z"/><path class=bp d="M888 1048l12 5 -16-9 -12-5zm16 10l12 5 -16-10 -12-5z"/><path class=bo d="M920 1067l12 6 -16-10 -12-5z"/><path class=bn d="M937 1078l12 5 -17-10 -12-6z"/><path class=cy d="M953 1088l12 6 -16-11 -12-5z"/><path class=aQ d="M970 1099l12 6 -17-11 -12-6z"/><path class=cn d="M986 1110l12 6 -16-11 -12-6z"/><path class=co d="M1003 1122l12 6 -17-12 -12-6z"/><path class=cp d="M1019 1134l12 6 -16-12 -12-6z"/><path class=cq d="M1036 1146l12 6 -17-12 -12-6z"/><path class=cr d="M1053 1159l12 6 -17-13 -12-6z"/><path class=aF d="M528 901l13-1 -14-5 -13 2zm14 4l13-1 -14-4 -13 1z"/><path class=a2 d="M556 910l13-1 -14-5 -13 1zm15 5l12-1 -14-5 -13 1zm14 4l13 0 -15-5 -12 1zm14 5l13 0 -14-5 -13 0z"/><path class=a1 d="M614 929l13 0 -15-5 -13 0zm15 5l12 1 -14-6 -13 0zm14 6l13 0 -15-5 -12-1z"/><path class=a0 d="M658 945l13 1 -15-6 -13 0zm15 6l13 1 -15-6 -13-1z"/><path class=bf d="M688 956l13 2 -15-6 -13-1z"/><path class=be d="M703 962l13 2 -15-6 -13-2zm15 7l13 2 -15-7 -13-2z"/><path class=bd d="M734 975l12 2 -15-6 -13-2zm15 7l13 2 -16-7 -12-2z"/><path class=bc d="M765 988l12 3 -15-7 -13-2zm15 8l13 2 -16-7 -12-3z"/><path class=bb d="M796 1003l12 3 -15-8 -13-2zm16 8l12 3 -16-8 -12-3z"/><path class=ba d="M827 1019l13 3 -16-8 -12-3zm16 8l13 4 -16-9 -13-3z"/><path class=a9 d="M859 1035l13 4 -16-8 -13-4z"/><path class=a8 d="M875 1044l13 4 -16-9 -13-4z"/><path class=a7 d="M892 1053l12 5 -16-10 -13-4zm16 10l12 4 -16-9 -12-5z"/><path class=aT d="M924 1073l13 5 -17-11 -12-4z"/><path class=aS d="M941 1083l12 5 -16-10 -13-5z"/><path class=aR d="M957 1094l13 5 -17-11 -12-5z"/><path class=aQ d="M974 1105l12 5 -16-11 -13-5z"/><path class=aI d="M991 1116l12 6 -17-12 -12-5z"/><path class=cb d="M1007 1128l12 6 -16-12 -12-6z"/><path class=cc d="M1024 1141l12 5 -17-12 -12-6z"/><path class=cd d="M1041 1153l12 6 -17-13 -12-5z"/><path class=aF d="M515 903l13-2 -14-4 -13 2zm14 4l13-2 -14-4 -13 2zm14 5l13-2 -14-5 -13 2z"/><path class=aE d="M558 916l13-1 -15-5 -13 2zm14 4l13-1 -14-4 -13 1zm15 5l12-1 -14-5 -13 1zm14 5l13-1 -15-5 -12 1z"/><path class=a1 d="M616 935l13-1 -15-5 -13 1zm14 5l13 0 -14-6 -13 1zm15 5l13 0 -15-5 -13 0z"/><path class=a0 d="M660 950l13 1 -15-6 -13 0zm15 6l13 0 -15-5 -13-1zm15 5l13 1 -15-6 -13 0z"/><path class=aZ d="M706 967l12 2 -15-7 -13-1zm15 7l13 1 -16-6 -12-2z"/><path class=aY d="M736 980l13 2 -15-7 -13-1zm16 7l13 1 -16-6 -13-2z"/><path class=aX d="M767 994l13 2 -15-8 -13-1zm16 7l13 2 -16-7 -13-2z"/><path class=aW d="M799 1008l13 3 -16-8 -13-2zm16 8l12 3 -15-8 -13-3z"/><path class=aV d="M831 1024l12 3 -16-8 -12-3zm16 8l12 3 -16-8 -12-3z"/><path class=aU d="M863 1041l12 3 -16-9 -12-3z"/><path class=aO d="M879 1050l13 3 -17-9 -12-3z"/><path class=aN d="M896 1060l12 3 -16-10 -13-3zm16 9l12 4 -16-10 -12-3z"/><path class=aM d="M928 1079l13 4 -17-10 -12-4z"/><path class=aL d="M945 1090l12 4 -16-11 -13-4z"/><path class=aK d="M962 1101l12 4 -17-11 -12-4z"/><path class=aJ d="M978 1112l13 4 -17-11 -12-4z"/><path class=aI d="M995 1124l12 4 -16-12 -13-4z"/><path class=ao d="M1012 1136l12 5 -17-13 -12-4z"/><path class=an d="M1029 1149l12 4 -17-12 -12-5z"/><path class=aF d="M502 906l13-3 -14-4 -13 3zm14 4l13-3 -14-4 -13 3zm15 4l12-2 -14-5 -13 3z"/><path class=aE d="M545 918l13-2 -15-4 -12 2zm14 4l13-2 -14-4 -13 2zm15 5l13-2 -15-5 -13 2zm14 4l13-1 -14-5 -13 2z"/><path class=aD d="M603 936l13-1 -15-5 -13 1zm15 5l12-1 -14-5 -13 1zm14 5l13-1 -15-5 -12 1zm15 5l13-1 -15-5 -13 1z"/><path class=aC d="M662 956l13 0 -15-6 -13 1zm16 6l12-1 -15-5 -13 0zm15 5l13 0 -16-6 -12 1z"/><path class=aB d="M708 973l13 1 -15-7 -13 0zm16 6l12 1 -15-6 -13-1z"/><path class=aA d="M739 986l13 1 -16-7 -12-1zm16 7l12 1 -15-7 -13-1z"/><path class=az d="M770 1000l13 1 -16-7 -12-1zm16 7l13 1 -16-7 -13-1z"/><path class=ay d="M802 1014l13 2 -16-8 -13-1zm16 8l13 2 -16-8 -13-2z"/><path class=ax d="M834 1030l13 2 -16-8 -13-2zm16 9l13 2 -16-9 -13-2z"/><path class=aw d="M867 1048l12 2 -16-9 -13-2z"/><path class=av d="M883 1057l13 3 -17-10 -12-2z"/><path class=au d="M899 1067l13 2 -16-9 -13-3zm17 10l12 2 -16-10 -13-2z"/><path class=at d="M933 1087l12 3 -17-11 -12-2z"/><path class=as d="M949 1098l13 3 -17-11 -12-3z"/><path class=ar d="M966 1109l12 3 -16-11 -13-3z"/><path class=aq d="M983 1120l12 4 -17-12 -12-3z"/><path class=ap d="M1000 1132l12 4 -17-12 -12-4z"/><path class=ao d="M1017 1145l12 4 -17-13 -12-4z"/><path class=aF d="M489 910l13-4 -14-4 -13 5zm14 4l13-4 -14-4 -13 4z"/><path class=aE d="M518 918l13-4 -15-4 -13 4zm14 3l13-3 -14-4 -13 4zm14 4l13-3 -14-4 -13 3zm15 4l13-2 -15-5 -13 3zm14 5l13-3 -14-4 -13 2zm15 4l13-2 -15-5 -13 3z"/><path class=aD d="M605 943l13-2 -15-5 -13 2zm14 4l13-1 -14-5 -13 2zm15 5l13-1 -15-5 -13 1z"/><path class=aC d="M649 957l13-1 -15-5 -13 1zm16 6l13-1 -16-6 -13 1zm15 5l13-1 -15-5 -13 1z"/><path class=aB d="M695 974l13-1 -15-6 -13 1zm16 6l13-1 -16-6 -13 1zm15 6l13 0 -15-7 -13 1z"/><path class=aA d="M742 993l13 0 -16-7 -13 0zm16 6l12 1 -15-7 -13 0z"/><path class=az d="M773 1006l13 1 -16-7 -12-1zm16 8l13 0 -16-7 -13-1z"/><path class=ay d="M805 1021l13 1 -16-8 -13 0zm16 8l13 1 -16-8 -13-1z"/><path class=ax d="M838 1038l12 1 -16-9 -13-1z"/><path class=aw d="M854 1046l13 2 -17-9 -12-1zm16 9l13 2 -16-9 -13-2z"/><path class=av d="M887 1065l12 2 -16-10 -13-2z"/><path class=au d="M903 1075l13 2 -17-10 -12-2z"/><path class=at d="M920 1085l13 2 -17-10 -13-2zm17 10l12 3 -16-11 -13-2z"/><path class=as d="M953 1106l13 3 -17-11 -12-3z"/><path class=ar d="M970 1118l13 2 -17-11 -13-3z"/><path class=aq d="M987 1130l13 2 -17-12 -13-2z"/><path class=ap d="M1004 1142l13 3 -17-13 -13-2z"/><path class=aE d="M476 915l13-5 -14-3 -13 5zm15 4l12-5 -14-4 -13 5zm14 3l13-4 -15-4 -12 5zm14 4l13-5 -14-3 -13 4zm14 3l13-4 -14-4 -13 5zm15 4l13-4 -15-4 -13 4zm14 4l13-3 -14-5 -13 4z"/><path class=aD d="M577 941l13-3 -15-4 -13 3zm15 5l13-3 -15-5 -13 3zm14 4l13-3 -14-4 -13 3zm15 5l13-3 -15-5 -13 3zm15 5l13-3 -15-5 -13 3z"/><path class=aC d="M652 965l13-2 -16-6 -13 3zm15 5l13-2 -15-5 -13 2zm15 5l13-1 -15-6 -13 2z"/><path class=aB d="M698 981l13-1 -16-6 -13 1zm15 6l13-1 -15-6 -13 1zm16 7l13-1 -16-7 -13 1z"/><path class=aA d="M745 1000l13-1 -16-6 -13 1zm15 7l13-1 -15-7 -13 1z"/><path class=az d="M776 1014l13 0 -16-8 -13 1zm16 8l13-1 -16-7 -13 0z"/><path class=ay d="M808 1029l13 0 -16-8 -13 1z"/><path class=ax d="M825 1038l13 0 -17-9 -13 0zm16 8l13 0 -16-8 -13 0z"/><path class=aw d="M857 1055l13 0 -16-9 -13 0zm17 9l13 1 -17-10 -13 0z"/><path class=av d="M891 1074l12 1 -16-10 -13-1z"/><path class=au d="M907 1084l13 1 -17-10 -12-1z"/><path class=at d="M924 1094l13 1 -17-10 -13-1z"/><path class=as d="M941 1105l12 1 -16-11 -13-1z"/><path class=ar d="M958 1116l12 2 -17-12 -12-1z"/><path class=aq d="M975 1128l12 2 -17-12 -12-2z"/><path class=ap d="M992 1140l12 2 -17-12 -12-2z"/><path class=aE d="M463 921l13-6 -14-3 -12 6zm14 3l14-5 -15-4 -13 6zm15 4l13-6 -14-3 -14 5zm14 3l13-5 -14-4 -13 6zm14 3l13-5 -14-3 -13 5zm15 4l13-5 -15-4 -13 5z"/><path class=aD d="M549 942l13-5 -14-4 -13 5zm15 3l13-4 -15-4 -13 5zm15 5l13-4 -15-5 -13 4zm14 4l13-4 -14-4 -13 4zm15 4l13-3 -15-5 -13 4z"/><path class=aC d="M623 963l13-3 -15-5 -13 3zm15 5l14-3 -16-5 -13 3zm16 5l13-3 -15-5 -14 3zm15 5l13-3 -15-5 -13 3z"/><path class=aB d="M685 984l13-3 -16-6 -13 3zm15 5l13-2 -15-6 -13 3zm16 7l13-2 -16-7 -13 2z"/><path class=aA d="M731 1002l14-2 -16-6 -13 2zm16 7l13-2 -15-7 -14 2z"/><path class=az d="M763 1016l13-2 -16-7 -13 2zm16 7l13-1 -16-8 -13 2z"/><path class=ay d="M795 1030l13-1 -16-7 -13 1zm17 8l13 0 -17-9 -13 1z"/><path class=ax d="M828 1047l13-1 -16-8 -13 0zm17 8l12 0 -16-9 -13 1z"/><path class=aw d="M861 1065l13-1 -17-9 -12 0z"/><path class=av d="M878 1074l13 0 -17-10 -13 1z"/><path class=au d="M894 1084l13 0 -16-10 -13 0zm17 10l13 0 -17-10 -13 0z"/><path class=at d="M928 1105l13 0 -17-11 -13 0z"/><path class=as d="M945 1116l13 0 -17-11 -13 0z"/><path class=ar d="M962 1128l13 0 -17-12 -13 0z"/><path class=aq d="M979 1140l13 0 -17-12 -13 0z"/><path class=aD d="M450 928l13-7 -13-3 -14 7zm14 3l13-7 -14-3 -13 7zm15 3l13-6 -15-4 -13 7zm14 3l13-6 -14-3 -13 6zm14 3l13-6 -14-3 -13 6zm14 4l14-6 -15-4 -13 6zm15 3l13-5 -14-4 -14 6zm15 4l13-6 -15-3 -13 5zm14 3l14-4 -15-5 -13 6zm15 4l13-4 -14-4 -14 4z"/><path class=aC d="M595 963l13-5 -15-4 -13 4zm15 4l13-4 -15-5 -13 5zm15 5l13-4 -15-5 -13 4zm16 5l13-4 -16-5 -13 4zm15 5l13-4 -15-5 -13 4z"/><path class=aB d="M671 987l14-3 -16-6 -13 4zm16 6l13-4 -15-5 -14 3zm16 6l13-3 -16-7 -13 4z"/><path class=aA d="M718 1005l13-3 -15-6 -13 3zm16 6l13-2 -16-7 -13 3z"/><path class=az d="M750 1018l13-2 -16-7 -13 2zm16 7l13-2 -16-7 -13 2z"/><path class=ay d="M782 1033l13-3 -16-7 -13 2zm17 7l13-2 -17-8 -13 3z"/><path class=ax d="M815 1048l13-1 -16-9 -13 2zm16 9l14-2 -17-8 -13 1z"/><path class=aw d="M848 1066l13-1 -16-10 -14 2z"/><path class=av d="M865 1075l13-1 -17-9 -13 1zm16 10l13-1 -16-10 -13 1z"/><path class=au d="M898 1095l13-1 -17-10 -13 1z"/><path class=at d="M915 1106l13-1 -17-11 -13 1z"/><path class=as d="M932 1117l13-1 -17-11 -13 1z"/><path class=ar d="M949 1128l13 0 -17-12 -13 1z"/><path class=aq d="M966 1140l13 0 -17-12 -13 0z"/><path class=aD d="M437 936l13-8 -14-3 -13 9zm14 3l13-8 -14-3 -13 8zm14 2l14-7 -15-3 -13 8zm15 3l13-7 -14-3 -14 7zm14 3l13-7 -14-3 -13 7zm14 3l13-6 -14-4 -13 7zm15 3l13-6 -15-3 -13 6z"/><path class=aC d="M537 957l14-6 -15-4 -13 6zm15 3l13-6 -14-3 -14 6zm15 4l13-6 -15-4 -13 6zm15 4l13-5 -15-5 -13 6zm15 4l13-5 -15-4 -13 5zm15 5l13-5 -15-5 -13 5zm15 4l14-4 -16-5 -13 5z"/><path class=aB d="M643 986l13-4 -15-5 -14 4zm15 5l13-4 -15-5 -13 4zm16 6l13-4 -16-6 -13 4z"/><path class=aA d="M689 1003l14-4 -16-6 -13 4zm16 6l13-4 -15-6 -14 4zm16 6l13-4 -16-6 -13 4z"/><path class=az d="M737 1021l13-3 -16-7 -13 4zm16 7l13-3 -16-7 -13 3z"/><path class=ay d="M769 1036l13-3 -16-8 -13 3zm16 7l14-3 -17-7 -13 3z"/><path class=ax d="M802 1051l13-3 -16-8 -14 3zm16 9l13-3 -16-9 -13 3z"/><path class=aw d="M835 1068l13-2 -17-9 -13 3zm17 10l13-3 -17-9 -13 2z"/><path class=av d="M868 1087l13-2 -16-10 -13 3z"/><path class=au d="M885 1097l13-2 -17-10 -13 2z"/><path class=at d="M902 1108l13-2 -17-11 -13 2z"/><path class=as d="M919 1119l13-2 -17-11 -13 2zm17 11l13-2 -17-11 -13 2z"/><path class=ar d="M953 1142l13-2 -17-12 -13 2z"/><path class=aC d="M424 945l13-9 -14-2 -13 9zm14 2l13-8 -14-3 -13 9zm14 3l13-9 -14-2 -13 8zm14 2l14-8 -15-3 -13 9zm15 3l13-8 -14-3 -14 8zm14 3l13-8 -14-3 -13 8zm15 3l13-8 -15-3 -13 8zm14 3l13-7 -14-4 -13 8zm15 4l13-8 -15-3 -13 7zm15 3l13-7 -15-4 -13 8zm15 4l13-7 -15-4 -13 7zm15 4l13-7 -15-4 -13 7z"/><path class=aB d="M599 983l13-6 -15-5 -13 7zm15 4l13-6 -15-4 -13 6zm15 5l14-6 -16-5 -13 6zm16 5l13-6 -15-5 -14 6zm15 5l14-5 -16-6 -13 6z"/><path class=aA d="M676 1008l13-5 -15-6 -14 5zm16 6l13-5 -16-6 -13 5zm16 6l13-5 -16-6 -13 5z"/><path class=az d="M724 1026l13-5 -16-6 -13 5zm16 7l13-5 -16-7 -13 5z"/><path class=ay d="M756 1040l13-4 -16-8 -13 5zm16 7l13-4 -16-7 -13 4z"/><path class=ax d="M789 1055l13-4 -17-8 -13 4zm16 8l13-3 -16-9 -13 4z"/><path class=aw d="M822 1072l13-4 -17-8 -13 3zm16 9l14-3 -17-10 -13 4z"/><path class=av d="M855 1090l13-3 -16-9 -14 3z"/><path class=au d="M872 1100l13-3 -17-10 -13 3z"/><path class=at d="M889 1111l13-3 -17-11 -13 3zm17 10l13-2 -17-11 -13 3z"/><path class=as d="M923 1133l13-3 -17-11 -13 2z"/><path class=ar d="M940 1144l13-2 -17-12 -13 3z"/><path class=aB d="M411 955l13-10 -14-2 -13 10zm14 2l13-10 -14-2 -13 10zm14 2l13-9 -14-3 -13 10zm14 3l13-10 -14-2 -13 9zm14 2l14-9 -15-3 -13 10zm15 3l13-9 -14-3 -14 9zm14 3l14-9 -15-3 -13 9zm15 2l13-8 -14-3 -14 9zm15 4l13-8 -15-4 -13 8zm14 3l14-8 -15-3 -13 8zm15 4l14-8 -15-4 -14 8zm15 3l14-7 -15-4 -14 8zm15 4l14-7 -15-4 -14 7zm16 4l13-7 -15-4 -14 7zm15 5l13-7 -15-5 -13 7z"/><path class=aA d="M631 1004l14-7 -16-5 -13 7zm16 5l13-7 -15-5 -14 7zm16 5l13-6 -16-6 -13 7zm15 6l14-6 -16-6 -13 6z"/><path class=az d="M694 1025l14-5 -16-6 -14 6zm16 7l14-6 -16-6 -14 5z"/><path class=ay d="M726 1038l14-5 -16-7 -14 6zm16 7l14-5 -16-7 -14 5zm17 8l13-6 -16-7 -14 5z"/><path class=ax d="M775 1060l14-5 -17-8 -13 6zm17 8l13-5 -16-8 -14 5z"/><path class=aw d="M808 1077l14-5 -17-9 -13 5z"/><path class=av d="M825 1086l13-5 -16-9 -14 5zm17 9l13-5 -17-9 -13 5z"/><path class=au d="M859 1105l13-5 -17-10 -13 5z"/><path class=at d="M876 1115l13-4 -17-11 -13 5z"/><path class=as d="M893 1125l13-4 -17-10 -13 4zm17 12l13-4 -17-12 -13 4z"/><path class=ar d="M927 1148l13-4 -17-11 -13 4z"/><path class=aA d="M398 966l13-11 -14-2 -13 11zm14 2l13-11 -14-2 -13 11zm14 2l13-11 -14-2 -13 11zm14 2l13-10 -14-3 -13 11zm14 2l13-10 -14-2 -13 10zm15 3l13-10 -15-3 -13 10zm14 2l13-9 -14-3 -13 10zm15 3l13-10 -15-2 -13 9zm14 3l14-9 -15-4 -13 10zm15 3l13-9 -14-3 -14 9zm15 3l13-8 -15-4 -13 9zm15 4l13-9 -15-3 -13 8zm15 4l13-9 -15-4 -13 9zm15 4l14-9 -16-4 -13 9zm15 4l14-8 -15-5 -14 9zm16 4l13-7 -15-5 -14 8zm15 5l14-7 -16-5 -13 7z"/><path class=az d="M649 1021l14-7 -16-5 -14 7zm16 6l13-7 -15-6 -14 7zm16 5l13-7 -16-5 -13 7z"/><path class=ay d="M697 1039l13-7 -16-7 -13 7zm16 6l13-7 -16-6 -13 7zm16 7l13-7 -16-7 -13 7z"/><path class=ax d="M745 1059l14-6 -17-8 -13 7zm17 7l13-6 -16-7 -14 6z"/><path class=aw d="M778 1074l14-6 -17-8 -13 6zm17 9l13-6 -16-9 -14 6z"/><path class=av d="M811 1091l14-5 -17-9 -13 6z"/><path class=au d="M828 1100l14-5 -17-9 -14 5zm17 10l14-5 -17-10 -14 5z"/><path class=at d="M862 1120l14-5 -17-10 -14 5z"/><path class=as d="M879 1131l14-6 -17-10 -14 5z"/><path class=ar d="M896 1142l14-5 -17-12 -14 6zm18 11l13-5 -17-11 -14 5z"/><path class=az d="M385 978l13-12 -14-2 -13 13zm14 2l13-12 -14-2 -13 12zm14 1l13-11 -14-2 -13 12zm14 2l13-11 -14-2 -13 11zm14 2l13-11 -14-2 -13 11zm14 3l14-11 -15-3 -13 11zm15 2l13-11 -14-2 -14 11zm14 2l14-10 -15-3 -13 11z"/><path class=aA d="M499 995l13-10 -14-3 -14 10zm15 3l13-10 -15-3 -13 10zm14 3l14-10 -15-3 -13 10z"/><path class=az d="M543 1004l14-9 -15-4 -14 10zm15 4l14-9 -15-4 -14 9zm16 4l13-9 -15-4 -14 9zm15 4l13-9 -15-4 -13 9zm15 4l14-9 -16-4 -13 9zm16 5l13-9 -15-5 -14 9zm16 5l13-9 -16-5 -13 9z"/><path class=ay d="M651 1035l14-8 -16-6 -13 9zm16 6l14-9 -16-5 -14 8zm16 5l14-7 -16-7 -14 9zm16 7l14-8 -16-6 -14 7z"/><path class=ax d="M715 1059l14-7 -16-7 -14 8zm17 7l13-7 -16-7 -14 7z"/><path class=aw d="M748 1074l14-8 -17-7 -13 7zm17 7l13-7 -16-8 -14 8z"/><path class=av d="M781 1089l14-6 -17-9 -13 7zm17 9l13-7 -16-8 -14 6z"/><path class=au d="M815 1107l13-7 -17-9 -13 7z"/><path class=at d="M832 1117l13-7 -17-10 -13 7zm17 9l13-6 -17-10 -13 7z"/><path class=as d="M866 1137l13-6 -17-11 -13 6z"/><path class=ar d="M883 1148l13-6 -17-11 -13 6z"/><path class=aq d="M900 1159l14-6 -18-11 -13 6z"/><path class=ax d="M372 991l13-13 -14-1 -13 13z"/><path class=ay d="M385 993l14-13 -14-2 -13 13zm14 1l14-13 -14-1 -14 13zm14 2l14-13 -14-2 -14 13zm15 2l13-13 -14-2 -14 13zm14 2l13-12 -14-3 -13 13zm14 2l14-12 -15-2 -13 12zm15 2l13-12 -14-2 -14 12zm14 2l14-11 -15-3 -13 12z"/><path class=az d="M500 1009l14-11 -15-3 -14 11zm15 3l13-11 -14-3 -14 11zm15 3l13-11 -15-3 -13 11z"/><path class=ay d="M545 1019l13-11 -15-4 -13 11zm15 3l14-10 -16-4 -13 11zm15 4l14-10 -15-4 -14 10zm16 4l13-10 -15-4 -14 10zm15 5l14-10 -16-5 -13 10zm16 4l14-9 -16-5 -14 10zm16 5l13-9 -15-5 -14 9z"/><path class=ax d="M654 1050l13-9 -16-6 -13 9zm16 6l13-10 -16-5 -13 9zm16 6l13-9 -16-7 -13 10zm16 6l13-9 -16-6 -13 9z"/><path class=aw d="M718 1075l14-9 -17-7 -13 9zm16 7l14-8 -16-8 -14 9z"/><path class=av d="M751 1090l14-9 -17-7 -14 8zm17 8l13-9 -16-8 -14 9z"/><path class=au d="M784 1106l14-8 -17-9 -13 9zm17 9l14-8 -17-9 -14 8z"/><path class=at d="M818 1124l14-7 -17-10 -14 8z"/><path class=as d="M835 1134l14-8 -17-9 -14 7zm17 10l14-7 -17-11 -14 8z"/><path class=ar d="M869 1155l14-7 -17-11 -14 7z"/><path class=aq d="M887 1166l13-7 -17-11 -14 7z"/><path class=aw d="M358 1005l14-14 -14-1 -13 14zm14 2l13-14 -13-2 -14 14zm14 1l13-14 -14-1 -13 14z"/><path class=ax d="M400 1009l13-13 -14-2 -13 14zm14 2l14-13 -15-2 -13 13zm15 2l13-13 -14-2 -14 13zm14 2l13-13 -14-2 -13 13zm14 2l14-13 -15-2 -13 13zm15 2l13-13 -14-2 -14 13zm15 2l13-12 -15-3 -13 13zm14 3l14-12 -15-3 -13 12zm15 3l14-12 -15-3 -14 12zm15 3l14-11 -15-4 -14 12zm16 4l13-12 -15-3 -14 11zm15 3l13-11 -15-4 -13 12zm15 4l14-11 -16-4 -13 11zm16 5l13-11 -15-5 -14 11zm15 4l14-11 -16-4 -13 11zm16 5l14-11 -16-5 -14 11zm16 5l14-10 -16-6 -14 11z"/><path class=aw d="M656 1066l14-10 -16-6 -14 10zm16 6l14-10 -16-6 -14 10zm16 6l14-10 -16-6 -14 10z"/><path class=av d="M704 1085l14-10 -16-7 -14 10zm17 7l13-10 -16-7 -14 10zm16 7l14-9 -17-8 -13 10z"/><path class=au d="M754 1107l14-9 -17-8 -14 9zm17 8l13-9 -16-8 -14 9z"/><path class=at d="M787 1124l14-9 -17-9 -13 9z"/><path class=as d="M804 1133l14-9 -17-9 -14 9zm17 10l14-9 -17-10 -14 9z"/><path class=ar d="M838 1153l14-9 -17-10 -14 9z"/><path class=aq d="M856 1164l13-9 -17-11 -14 9z"/><path class=ap d="M873 1175l14-9 -18-11 -13 9z"/><path class=au d="M345 1021l13-16 -13-1 -13 16z"/><path class=av d="M359 1022l13-15 -14-2 -13 16zm14 1l13-15 -14-1 -13 15zm14 1l13-15 -14-1 -13 15zm14 1l13-14 -14-2 -13 15z"/><path class=aw d="M415 1027l14-14 -15-2 -13 14zm14 2l14-14 -14-2 -14 14zm15 1l13-13 -14-2 -14 14zm14 2l14-13 -15-2 -13 13zm15 3l14-14 -15-2 -14 13zm15 2l13-13 -14-3 -14 14zm15 3l13-13 -15-3 -13 13zm15 3l13-13 -15-3 -13 13zm15 3l14-12 -16-4 -13 13zm15 4l14-13 -15-3 -14 12zm16 4l13-13 -15-4 -14 13zm15 4l14-12 -16-5 -13 13zm16 4l13-12 -15-4 -14 12zm15 5l14-12 -16-5 -13 12zm16 5l14-12 -16-5 -14 12z"/><path class=av d="M642 1077l14-11 -16-6 -14 12zm16 6l14-11 -16-6 -14 11zm16 6l14-11 -16-6 -14 11zm17 7l13-11 -16-7 -14 11z"/><path class=au d="M707 1103l14-11 -17-7 -13 11zm16 7l14-11 -16-7 -14 11z"/><path class=at d="M740 1118l14-11 -17-8 -14 11zm17 8l14-11 -17-8 -14 11z"/><path class=as d="M774 1134l13-10 -16-9 -14 11zm17 9l13-10 -17-9 -13 10z"/><path class=ar d="M808 1153l13-10 -17-10 -13 10z"/><path class=aq d="M825 1163l13-10 -17-10 -13 10z"/><path class=ap d="M842 1174l14-10 -18-11 -13 10zm17 11l14-10 -17-11 -14 10z"/><path class=at d="M332 1037l13-16 -13-1 -14 16zm14 1l13-16 -14-1 -13 16zm14 1l13-16 -14-1 -13 16z"/><path class=au d="M374 1040l13-16 -14-1 -13 16zm14 1l13-16 -14-1 -13 16zm14 1l13-15 -14-2 -13 16zm14 2l13-15 -14-2 -13 15zm14 1l14-15 -15-1 -13 15z"/><path class=av d="M445 1047l13-15 -14-2 -14 15zm15 2l13-14 -15-3 -13 15zm14 3l14-15 -15-2 -13 14zm15 2l14-14 -15-3 -14 15zm15 3l14-14 -15-3 -14 14zm15 3l14-14 -15-3 -14 14zm16 3l13-13 -15-4 -14 14zm15 4l14-13 -16-4 -13 13zm15 4l14-13 -15-4 -14 13zm16 4l14-13 -16-4 -14 13zm16 5l13-13 -15-5 -14 13zm15 5l14-13 -16-5 -13 13z"/><path class=au d="M628 1090l14-13 -16-5 -14 13zm16 5l14-12 -16-6 -14 13zm16 6l14-12 -16-6 -14 12z"/><path class=at d="M677 1108l14-12 -17-7 -14 12zm16 7l14-12 -16-7 -14 12zm17 7l13-12 -16-7 -14 12z"/><path class=as d="M726 1129l14-11 -17-8 -13 12zm17 8l14-11 -17-8 -14 11z"/><path class=ar d="M760 1146l14-12 -17-8 -14 11zm17 9l14-12 -17-9 -14 12z"/><path class=aq d="M794 1164l14-11 -17-10 -14 12z"/><path class=ap d="M811 1174l14-11 -17-10 -14 11zm17 11l14-11 -17-11 -14 11z"/><path class=ao d="M845 1196l14-11 -17-11 -14 11z"/><path class=ar d="M319 1054l13-17 -14-1 -13 18zm14 1l13-17 -14-1 -13 17z"/><path class=as d="M346 1056l14-17 -14-1 -13 17zm14 0l14-16 -14-1 -14 17zm14 1l14-16 -14-1 -14 16zm14 2l14-17 -14-1 -14 16z"/><path class=at d="M403 1060l13-16 -14-2 -14 17zm14 1l13-16 -14-1 -13 16zm14 2l14-16 -15-2 -13 16zm15 2l14-16 -15-2 -14 16zm15 2l13-15 -14-3 -14 16zm15 3l13-16 -15-2 -13 15zm15 2l13-15 -15-3 -13 16z"/><path class=au d="M506 1075l13-15 -15-3 -13 15zm15 3l14-15 -16-3 -13 15zm15 4l14-15 -15-4 -14 15zm16 3l13-14 -15-4 -14 15z"/><path class=at d="M567 1089l14-14 -16-4 -13 14zm16 5l14-14 -16-5 -14 14zm16 5l13-14 -15-5 -14 14zm15 5l14-14 -16-5 -13 14zm16 5l14-14 -16-5 -14 14zm17 6l13-14 -16-6 -14 14z"/><path class=as d="M663 1121l14-13 -17-7 -13 14zm16 7l14-13 -16-7 -14 13zm17 7l14-13 -17-7 -14 13z"/><path class=ar d="M712 1142l14-13 -16-7 -14 13zm17 8l14-13 -17-8 -14 13z"/><path class=aq d="M746 1159l14-13 -17-9 -14 13zm17 8l14-12 -17-9 -14 13z"/><path class=ap d="M780 1177l14-13 -17-9 -14 12z"/><path class=ao d="M797 1187l14-13 -17-10 -14 13zm17 10l14-12 -17-11 -14 13z"/><path class=an d="M831 1208l14-12 -17-11 -14 12z"/><path class=ap d="M306 1073l13-19 -14 0 -13 19zm13 0l14-18 -14-1 -13 19z"/><path class=aq d="M333 1074l13-18 -13-1 -14 18zm14 0l13-18 -14 0 -13 18zm14 1l13-18 -14-1 -13 18z"/><path class=ar d="M375 1076l13-17 -14-2 -13 18zm14 1l14-17 -15-1 -13 17zm15 2l13-18 -14-1 -14 17zm14 1l13-17 -14-2 -13 18zm15 2l13-17 -15-2 -13 17z"/><path class=as d="M447 1084l14-17 -15-2 -13 17zm15 2l14-16 -15-3 -14 17zm15 2l14-16 -15-2 -14 16zm15 3l14-16 -15-3 -14 16zm15 3l14-16 -15-3 -14 16zm15 3l14-15 -15-4 -14 16zm16 4l14-16 -16-3 -14 15zm15 4l14-16 -15-4 -14 16zm16 4l14-15 -16-5 -14 16zm16 5l14-15 -16-5 -14 15zm16 5l13-15 -15-5 -14 15zm16 5l13-15 -16-5 -13 15z"/><path class=ar d="M633 1130l14-15 -17-6 -13 15zm16 6l14-15 -16-6 -14 15zm16 6l14-14 -16-7 -14 15z"/><path class=aq d="M682 1149l14-14 -17-7 -14 14zm16 8l14-15 -16-7 -14 14zm17 7l14-14 -17-8 -14 15z"/><path class=ap d="M732 1173l14-14 -17-9 -14 14z"/><path class=ao d="M749 1181l14-14 -17-8 -14 14zm17 10l14-14 -17-10 -14 14z"/><path class=an d="M783 1200l14-13 -17-10 -14 14zm17 11l14-14 -17-10 -14 13z"/><path class=am d="M817 1221l14-13 -17-11 -14 14z"/><path class=an d="M293 1093l13-20 -14 0 -13 20zm13 0l13-20 -13 0 -13 20z"/><path class=ao d="M320 1093l13-19 -14-1 -13 20zm14 1l13-20 -14 0 -13 19zm14 0l13-19 -14-1 -13 20z"/><path class=ap d="M362 1095l13-19 -14-1 -13 19zm14 1l13-19 -14-1 -13 19zm14 1l14-18 -15-2 -13 19zm14 1l14-18 -14-1 -14 18z"/><path class=aq d="M419 1100l14-18 -15-2 -14 18zm15 2l13-18 -14-2 -14 18zm14 2l14-18 -15-2 -13 18zm15 2l14-18 -15-2 -14 18zm15 3l14-18 -15-3 -14 18zm15 2l14-17 -15-3 -14 18zm16 4l13-18 -15-3 -14 17zm15 3l14-17 -16-4 -13 18zm15 4l14-17 -15-4 -14 17zm16 4l14-17 -16-4 -14 17zm16 4l14-16 -16-5 -14 17zm16 5l14-16 -16-5 -14 16zm16 5l14-16 -16-5 -14 16zm16 6l14-16 -16-6 -14 16zm16 6l14-16 -16-6 -14 16z"/><path class=ap d="M651 1158l14-16 -16-6 -14 16zm17 7l14-16 -17-7 -14 16zm16 7l14-15 -16-8 -14 16z"/><path class=ao d="M701 1180l14-16 -17-7 -14 15zm17 8l14-15 -17-9 -14 16z"/><path class=an d="M734 1197l15-16 -17-8 -14 15zm17 9l15-15 -17-10 -15 16z"/><path class=am d="M769 1215l14-15 -17-9 -15 15z"/><path class=al d="M786 1225l14-14 -17-11 -14 15zm17 11l14-15 -17-10 -14 14zm-523-122l13-21 -14 0 -13 21zm13-1l13-20 -13 0 -13 21zm14 1l13-21 -14 0 -13 20z"/><path class=am d="M320 1114l14-20 -14-1 -13 21zm14 0l14-20 -14 0 -14 20z"/><path class=an d="M348 1115l14-20 -14-1 -14 20zm14 1l14-20 -14-1 -14 20zm15 0l13-19 -14-1 -14 20zm14 2l13-20 -14-1 -13 19z"/><path class=ao d="M405 1119l14-19 -15-2 -13 20zm15 2l14-19 -15-2 -14 19zm15 2l13-19 -14-2 -14 19zm15 2l13-19 -15-2 -13 19zm15 2l13-18 -15-3 -13 19z"/><path class=ap d="M480 1130l13-19 -15-2 -13 18zm15 3l14-18 -16-4 -13 19zm15 3l14-18 -15-3 -14 18zm16 4l13-18 -15-4 -14 18zm15 4l14-18 -16-4 -13 18zm16 4l14-18 -16-4 -14 18zm16 5l14-18 -16-5 -14 18z"/><path class=ao d="M589 1158l14-18 -16-5 -14 18zm16 5l14-17 -16-6 -14 18zm16 6l14-17 -16-6 -14 17zm16 6l14-17 -16-6 -14 17z"/><path class=an d="M654 1182l14-17 -17-7 -14 17zm16 7l14-17 -16-7 -14 17zm17 7l14-16 -17-8 -14 17z"/><path class=am d="M703 1204l15-16 -17-8 -14 16zm17 9l14-16 -16-9 -15 16z"/><path class=al d="M737 1222l14-16 -17-9 -14 16zm17 10l15-17 -18-9 -14 16z"/><path class=ak d="M772 1242l14-17 -17-10 -15 17z"/><path class=aj d="M789 1252l14-16 -17-11 -14 17z"/><path class=ai d="M267 1135l13-21 -14 0 -13 22z"/><path class=aj d="M280 1135l13-22 -13 1 -13 21zm14 0l13-21 -14-1 -13 22z"/><path class=ak d="M307 1135l13-21 -13 0 -13 21zm14 0l13-21 -14 0 -13 21zm14 1l13-21 -14-1 -13 21z"/><path class=al d="M349 1136l13-20 -14-1 -13 21zm14 1l14-21 -15 0 -13 20zm15 1l13-20 -14-2 -14 21z"/><path class=am d="M392 1139l13-20 -14-1 -13 20zm14 2l14-20 -15-2 -13 20zm15 2l14-20 -15-2 -14 20zm15 2l14-20 -15-2 -14 20zm15 2l14-20 -15-2 -14 20z"/><path class=an d="M466 1149l14-19 -15-3 -14 20zm15 3l14-19 -15-3 -14 19zm15 3l14-19 -15-3 -14 19zm16 4l14-19 -16-4 -14 19zm15 4l14-19 -15-4 -14 19zm16 4l14-19 -16-4 -14 19zm16 4l14-18 -16-5 -14 19zm16 5l14-18 -16-5 -14 18z"/><path class=am d="M591 1181l14-18 -16-5 -14 18zm16 6l14-18 -16-6 -14 18zm16 6l14-18 -16-6 -14 18zm16 7l15-18 -17-7 -14 18z"/><path class=al d="M656 1207l14-18 -16-7 -15 18zm16 7l15-18 -17-7 -14 18zm17 8l14-18 -16-8 -15 18z"/><path class=ak d="M706 1231l14-18 -17-9 -14 18zm17 9l14-18 -17-9 -14 18z"/><path class=aj d="M740 1249l14-17 -17-10 -14 18z"/><path class=ai d="M757 1259l15-17 -18-10 -14 17zm17 11l15-18 -17-10 -15 17z"/><path class=ag d="M254 1158l13-23 -14 1 -13 23zm13 0l13-23 -13 0 -13 23z"/><path class=ah d="M280 1158l14-23 -14 0 -13 23zm14 0l13-23 -13 0 -14 23z"/><path class=ai d="M308 1158l13-23 -14 0 -13 23zm14 0l13-22 -14-1 -13 23zm14 0l13-22 -14 0 -13 22z"/><path class=aj d="M350 1159l13-22 -14-1 -13 22zm14 1l14-22 -15-1 -13 22zm14 1l14-22 -14-1 -14 22z"/><path class=ak d="M393 1162l13-21 -14-2 -14 22zm15 2l13-21 -15-2 -13 21zm14 2l14-21 -15-2 -13 21zm15 2l14-21 -15-2 -14 21z"/><path class=al d="M452 1170l14-21 -15-2 -14 21zm15 3l14-21 -15-3 -14 21zm15 3l14-21 -15-3 -14 21zm16 3l14-20 -16-4 -14 21zm15 4l14-20 -15-4 -14 20zm16 4l14-20 -16-4 -14 20zm16 4l14-20 -16-4 -14 20zm16 5l14-20 -16-5 -14 20zm16 5l14-20 -16-5 -14 20z"/><path class=ak d="M593 1207l14-20 -16-6 -14 20zm16 6l14-20 -16-6 -14 20zm16 6l14-19 -16-7 -14 20zm17 7l14-19 -17-7 -14 19z"/><path class=aj d="M658 1234l14-20 -16-7 -14 19zm17 7l14-19 -17-8 -14 20z"/><path class=ai d="M692 1250l14-19 -17-9 -14 19zm17 9l14-19 -17-9 -14 19z"/><path class=ah d="M726 1268l14-19 -17-9 -14 19zm17 10l14-19 -17-10 -14 19z"/><path class=ag d="M760 1288l14-18 -17-11 -14 19z"/><path class=ad d="M241 1183l13-25 -14 1 -13 24z"/><path class=ae d="M254 1182l13-24 -13 0 -13 25zm13 0l13-24 -13 0 -13 24z"/><path class=af d="M281 1181l13-23 -14 0 -13 24zm14 0l13-23 -14 0 -13 23zm13 0l14-23 -14 0 -13 23z"/><path class=ag d="M322 1182l14-24 -14 0 -14 23zm14 0l14-23 -14-1 -14 24z"/><path class=ah d="M351 1183l13-23 -14-1 -14 23zm14 1l13-23 -14-1 -13 23zm14 1l14-23 -15-1 -13 23z"/><path class=ai d="M394 1186l14-22 -15-2 -14 23zm15 2l13-22 -14-2 -14 22zm14 2l14-22 -15-2 -13 22zm15 2l14-22 -15-2 -14 22zm15 3l14-22 -15-3 -14 22z"/><path class=aj d="M469 1198l13-22 -15-3 -14 22zm15 3l14-22 -16-3 -13 22zm15 3l14-21 -15-4 -14 22zm16 4l14-21 -16-4 -14 21zm16 5l14-22 -16-4 -14 21zm15 4l15-21 -16-5 -14 22zm16 5l15-21 -16-5 -15 21z"/><path class=ai d="M578 1228l15-21 -16-6 -15 21zm17 6l14-21 -16-6 -15 21zm16 6l14-21 -16-6 -14 21zm16 7l15-21 -17-7 -14 21z"/><path class=ah d="M644 1254l14-20 -16-8 -15 21zm17 8l14-21 -17-7 -14 20zm16 8l15-20 -17-9 -14 21z"/><path class=ag d="M694 1279l15-20 -17-9 -15 20zm17 9l15-20 -17-9 -15 20z"/><path class=af d="M728 1298l15-20 -17-10 -15 20z"/><path class=ae d="M746 1308l14-20 -17-10 -15 20z"/><path class=aa d="M228 1208l13-25 -14 0 -12 26z"/><path class=ab d="M241 1207l13-25 -13 1 -13 25zm13 0l13-25 -13 0 -13 25z"/><path class=ac d="M268 1206l13-25 -14 1 -13 25zm14 0l13-25 -14 0 -13 25z"/><path class=ad d="M295 1206l13-25 -13 0 -13 25zm14 0l13-24 -14-1 -13 25z"/><path class=ae d="M323 1206l13-24 -14 0 -13 24zm14 1l14-24 -15-1 -13 24zm15 1l13-24 -14-1 -14 24z"/><path class=af d="M366 1209l13-24 -14-1 -13 24zm14 1l14-24 -15-1 -13 24zm15 1l14-23 -15-2 -14 24z"/><path class=ag d="M410 1213l13-23 -14-2 -14 23zm15 2l13-23 -15-2 -13 23zm15 3l13-23 -15-3 -13 23zm15 3l14-23 -16-3 -13 23zm15 3l14-23 -15-3 -14 23zm15 3l14-23 -15-3 -14 23z"/><path class=ah d="M501 1231l14-23 -16-4 -14 23zm16 4l14-22 -16-5 -14 23z"/><path class=ag d="M532 1240l14-23 -15-4 -14 22zm16 5l14-23 -16-5 -14 23zm16 5l14-22 -16-6 -14 23zm17 6l14-22 -17-6 -14 22zm16 6l14-22 -16-6 -14 22zm16 7l14-22 -16-7 -14 22z"/><path class=af d="M630 1276l14-22 -17-7 -14 22zm16 8l15-22 -17-8 -14 22zm17 8l14-22 -16-8 -15 22z"/><path class=ae d="M680 1300l14-21 -17-9 -14 22zm17 10l14-22 -17-9 -14 21z"/><path class=ad d="M714 1319l14-21 -17-10 -14 22z"/><path class=ac d="M731 1330l15-22 -18-10 -14 21z"/><path class=b1 d="M215 1234l13-26 -13 1 -13 26z"/><path class=b2 d="M228 1233l13-26 -13 1 -13 26zm13 0l13-26 -13 0 -13 26z"/><path class=b0 d="M255 1232l13-26 -14 1 -13 26zm13 0l14-26 -14 0 -13 26z"/><path class=aa d="M282 1231l13-25 -13 0 -14 26zm14 0l13-25 -14 0 -13 25z"/><path class=ab d="M310 1232l13-26 -14 0 -13 25zm14 0l13-25 -14-1 -13 26z"/><path class=ac d="M338 1233l14-25 -15-1 -13 25zm14 1l14-25 -14-1 -14 25z"/><path class=ad d="M367 1235l13-25 -14-1 -14 25zm14 1l14-25 -15-1 -13 25zm15 2l14-25 -15-2 -14 25zm15 2l14-25 -15-2 -14 25z"/><path class=ae d="M426 1242l14-24 -15-3 -14 25zm15 3l14-24 -15-3 -14 24zm15 3l14-24 -15-3 -14 24zm16 3l13-24 -15-3 -14 24zm15 4l14-24 -16-4 -13 24zm16 4l14-24 -16-4 -14 24zm15 4l14-23 -15-5 -14 24zm16 5l14-23 -16-5 -14 23zm16 5l14-23 -16-5 -14 23zm16 6l15-23 -17-6 -14 23zm17 6l14-23 -16-6 -15 23z"/><path class=ad d="M599 1292l14-23 -16-7 -14 23zm16 7l15-23 -17-7 -14 23zm17 8l14-23 -16-8 -15 23z"/><path class=ac d="M649 1315l14-23 -17-8 -14 23zm17 8l14-23 -17-8 -14 23z"/><path class=ab d="M682 1332l15-22 -17-10 -14 23zm18 10l14-23 -17-9 -15 22z"/><path class=aa d="M717 1352l14-22 -17-11 -14 23z"/><path class=b7 d="M202 1262l13-28 -13 1 -13 28z"/><path class=b3 d="M215 1261l13-28 -13 1 -13 28zm14-1l12-27 -13 0 -13 28z"/><path class=b4 d="M242 1259l13-27 -14 1 -12 27z"/><path class=b1 d="M255 1259l13-27 -13 0 -13 27zm14-1l13-27 -14 1 -13 27z"/><path class=b2 d="M283 1258l13-27 -14 0 -13 27zm14 0l13-26 -14-1 -13 27z"/><path class=b0 d="M311 1258l13-26 -14 0 -13 26zm14 1l13-26 -14-1 -13 26zm14 1l13-26 -14-1 -13 26z"/><path class=aa d="M353 1261l14-26 -15-1 -13 26zm15 1l13-26 -14-1 -14 26zm15 2l13-26 -15-2 -13 26z"/><path class=ab d="M397 1265l14-25 -15-2 -13 26zm15 3l14-26 -15-2 -14 25zm15 2l14-25 -15-3 -14 26zm15 3l14-25 -15-3 -14 25zm16 3l14-25 -16-3 -14 25z"/><path class=ac d="M473 1280l14-25 -15-4 -14 25zm16 4l14-25 -16-4 -14 25zm15 4l14-25 -15-4 -14 25zm16 5l14-25 -16-5 -14 25zm16 5l14-25 -16-5 -14 25z"/><path class=ab d="M552 1304l14-25 -16-6 -14 25zm16 6l15-25 -17-6 -14 25zm17 6l14-24 -16-7 -15 25zm16 7l14-24 -16-7 -14 24z"/><path class=aa d="M618 1331l14-24 -17-8 -14 24zm16 8l15-24 -17-8 -14 24zm17 8l15-24 -17-8 -15 24z"/><path class=b0 d="M668 1357l14-25 -16-9 -15 24zm17 9l15-24 -18-10 -14 25z"/><path class=b2 d="M702 1376l15-24 -17-10 -15 24z"/><path class=ca d="M189 1290l13-28 -13 1 -12 29z"/><path class=b5 d="M203 1289l12-28 -13 1 -13 28zm13-1l13-28 -14 1 -12 28z"/><path class=b6 d="M229 1287l13-28 -13 1 -13 28zm13 0l13-28 -13 0 -13 28z"/><path class=b7 d="M256 1286l13-28 -14 1 -13 28z"/><path class=b3 d="M270 1286l13-28 -14 0 -13 28zm13 0l14-28 -14 0 -13 28z"/><path class=b4 d="M297 1286l14-28 -14 0 -14 28zm14 0l14-27 -14-1 -14 28zm15 1l13-27 -14-1 -14 27z"/><path class=b1 d="M340 1288l13-27 -14-1 -13 27zm14 1l14-27 -15-1 -13 27z"/><path class=b2 d="M369 1291l14-27 -15-2 -14 27zm15 1l13-27 -14-1 -14 27zm15 2l13-26 -15-3 -13 27zm14 3l14-27 -15-2 -13 26z"/><path class=b0 d="M429 1300l13-27 -15-3 -14 27zm15 3l14-27 -16-3 -13 27zm15 3l14-26 -15-4 -14 27zm16 4l14-26 -16-4 -14 26zm15 4l14-26 -15-4 -14 26zm16 5l14-26 -16-5 -14 26zm16 5l14-26 -16-5 -14 26zm16 6l14-26 -16-6 -14 26zm16 6l14-26 -16-6 -14 26z"/><path class=b2 d="M570 1342l15-26 -17-6 -14 26zm17 7l14-26 -16-7 -15 26zm16 8l15-26 -17-8 -14 26zm17 7l14-25 -16-8 -15 26z"/><path class=b1 d="M637 1373l14-26 -17-8 -14 25zm17 9l14-25 -17-10 -14 26z"/><path class=b4 d="M671 1392l14-26 -17-9 -14 25zm17 10l14-26 -17-10 -14 26z"/><path class=c7 d="M177 1320l12-30 -12 2 -13 29z"/><path class=c8 d="M190 1319l13-30 -14 1 -12 30z"/><path class=b8 d="M203 1318l13-30 -13 1 -13 30z"/><path class=b9 d="M216 1317l13-30 -13 1 -13 30zm14-1l12-29 -13 0 -13 30z"/><path class=ca d="M243 1315l13-29 -14 1 -12 29zm14 0l13-29 -14 0 -13 29z"/><path class=b5 d="M270 1315l13-29 -13 0 -13 29zm14 0l13-29 -14 0 -13 29z"/><path class=b6 d="M298 1315l13-29 -14 0 -13 29zm14 1l14-29 -15-1 -13 29z"/><path class=b7 d="M327 1316l13-28 -14-1 -14 29zm14 1l13-28 -14-1 -13 28z"/><path class=b3 d="M355 1319l14-28 -15-2 -13 28zm15 1l14-28 -15-1 -14 28zm15 2l14-28 -15-2 -14 28z"/><path class=b4 d="M400 1325l13-28 -14-3 -14 28zm15 2l14-27 -16-3 -13 28zm15 3l14-27 -15-3 -14 27zm15 4l14-28 -15-3 -14 27zm16 4l14-28 -16-4 -14 28zm15 4l14-28 -15-4 -14 28zm16 4l14-27 -16-5 -14 28zm16 5l14-27 -16-5 -14 27zm16 6l14-27 -16-6 -14 27zm16 6l14-27 -16-6 -14 27zm16 6l14-27 -16-6 -14 27zm16 7l15-27 -17-7 -14 27z"/><path class=b3 d="M589 1384l14-27 -16-8 -15 27zm16 7l15-27 -17-7 -14 27zm17 9l15-27 -17-9 -15 27z"/><path class=b7 d="M639 1409l15-27 -17-9 -15 27zm17 9l15-26 -17-10 -15 27z"/><path class=b6 d="M673 1428l15-26 -17-10 -15 26z"/></g>
<path d="M120 226.1 121 226 122 225.6 123 225.3 124 225 125 224.8 126 224.6 127 224.4 128 224.3 129 224.1 130 224 131 223.8 132 223.8 133 223.7 134 223.7 135 223.6 136 223.6 137 223.7 138 223.7 139 223.7 140 223.8 141 223.9 142 224 143 224.2 144 224.4 145 224.6 146 224.8 147 225 148 225.3 149 225.6 150 225.9 151 226.2 152 226.5 153 226.9 154 227.1 155 227.5 156 227.9 157 228.4 158 228.8 159 229.3 160 229.8 161 230.3 162 230.8 163 231.3 164 231.8 165 232.4 166 232.9 167 233.5 168 233.9 169 234.4 170 234.9 171 235.2 172 235.6 173 236.1 174 236.6 175 237.1 176 237.5 177 238 178 238.5 179 239 180 239.5 181 240 182 240.5 183 240.9 184 241.3 185 241.7 186 242.2 187 242.7 188 243.2 189 243.8 190 244.3 191 244.7 192 245.1 193 245.6 194 246.1 195 246.6 196 247.1 197 247.7 198 248.1 199 248.6 200 249 201 249.6 202 250.1 203 250.7 204 251.1 205 251.6 206 252.1 207 252.7 208 253.3 209 253.7 210 254.2 211 254.8 212 255.3 213 255.9 214 256.4 215 256.9 216 257.5 217 258.1 218 258.6 219 259.2 220 259.7 221 260.3 222 260.9 223 261.5 224 262 225 262.6 226 263.2 227 263.8 228 264.4 229 265 230 265.6 231 266.2 232 266.8 233 267.4 234 268 235 268.7 236 269.3 237 269.9 238 270.6 239 271.2 240 271.8 241 272.5 242 273.2 243 273.8 244 274.5 245 275.1 246 275.8 247 276.5 248 277.1 249 277.9 250 278.5 251 279.2 252 280 253 280.6 254 281.3 255 282.1 256 282.8 257 283.5 258 284.2 259 285 260 285.7 261 286.5 262 287.2 263 288 264 288.7 265 289.5 266 290.2 267 291 268 291.7 269 292.6 270 293.3 271 294.2 272 294.9 273 295.8 274 296.6 275 297.4 276 298.3 277 299.2 278 300.1 279 301 280 302.3 281 303.2 282 304.2 283 305.2 284 306.2 285 307.7 286 308.8 287 309.8 288 311.5 289 312.6 290 313.7 291 314.9 292 316.6 292 316.6 291 315 290 314 289 313 288 312 287 310.5 286 309.6 285 308.7 284 307.3 283 306.4 282 305.5 281 304.7 280 303.9 279 302.7 278 302 277 301.2 276 300.3 275 299.4 274 298.6 273 297.8 272 296.9 271 296.2 270 295.3 269 294.6 268 293.7 267 293 266 292.2 265 291.5 264 290.7 263 290 262 289.2 261 288.5 260 287.7 259 287 258 286.2 257 285.5 256 284.8 255 284.1 254 283.3 253 282.6 252 282 251 281.2 250 280.5 249 279.9 248 279.1 247 278.5 246 277.8 245 277.1 244 276.5 243 275.8 242 275.2 241 274.5 240 273.8 239 273.2 238 272.6 237 271.9 236 271.3 235 270.7 234 270 233 269.4 232 268.8 231 268.2 230 267.6 229 267 228 266.4 227 265.8 226 265.2 225 264.6 224 264 223 263.5 222 262.9 221 262.3 220 261.7 219 261.2 218 260.6 217 260.1 216 259.5 215 258.9 214 258.4 213 257.9 212 257.3 211 256.8 210 256.2 209 255.7 208 255.3 207 254.7 206 254.1 205 253.6 204 253.1 203 252.7 202 252.1 201 251.6 200 251 199 250.6 198 250.1 197 249.7 196 249.1 195 248.6 194 248.1 193 247.6 192 247.1 191 246.7 190 246.3 189 245.8 188 245.2 187 244.7 186 244.2 185 243.7 184 243.3 183 242.9 182 242.5 181 242 180 241.5 179 241 178 240.5 177 240 176 239.5 175 239.1 174 238.6 173 238.1 172 237.6 171 237.2 170 236.9 169 236.4 168 235.9 167 235.5 166 234.9 165 234.4 164 233.8 163 233.3 162 232.8 161 232.3 160 231.8 159 231.3 158 230.8 157 230.4 156 229.9 155 229.5 154 229.1 153 228.9 152 228.5 151 228.2 150 227.9 149 227.6 148 227.3 147 227 146 226.8 145 226.6 144 226.3 143 226 142 225.8 141 225.6 140 225.4 139 225.3 138 225.1 137 225 136 224.9 135 224.8 134 224.8 133 224.7 132 224.7 131 224.7 130 224.8 129 224.8 128 224.9 127 224.9 126 225 125 225.2 124 225.4 123 225.6 122 225.8 121 226 120 226.1Z" fill="#140804" fill-opacity="0.8"/>
<path d="M100 332.5L100 332.5" stroke="#808080" stroke-width="0.8"/><ellipse cx="100" cy="332.5" rx="2.8" ry="2.2" fill="#b81414" stroke="#801010" stroke-width="0.4"/><path d="M238.4 284.5L238.4 284.5" stroke="#808080" stroke-width="0.8"/><ellipse cx="238.4" cy="284.5" rx="2.5" ry="1.9" fill="#f0cfc6" stroke="#b06858" stroke-width="0.5"/><path d="M105.8 230.5L105.9 233.4" stroke="#808080" stroke-width="0.8"/><ellipse cx="105.8" cy="230.5" rx="2.8" ry="2.2" fill="#b81414" stroke="#801010" stroke-width="0.4"/><path d="M168.4 237.3L168.4 249.2" stroke="#808080" stroke-width="0.8"/><ellipse cx="168.4" cy="237.3" rx="2.8" ry="2.2" fill="#b81414" stroke="#801010" stroke-width="0.4"/><path d="M168.4 243.9L168.4 249.2" stroke="#808080" stroke-width="0.8"/><ellipse cx="168.4" cy="243.9" rx="2.8" ry="2.2" fill="#b81414" stroke="#801010" stroke-width="0.4"/><path d="M168.4 250.6L168.4 249.2" stroke="#808080" stroke-width="0.8"/><ellipse cx="168.4" cy="250.6" rx="2.5" ry="1.9" fill="#f0cfc6" stroke="#b06858" stroke-width="0.5"/>
<path d="M383.1 240.6L516.7 219" stroke="#7a7a7a" stroke-width="0.9"/>
<path d="M516.7 219L650.1 240.7" stroke="#7a7a7a" stroke-width="0.9"/>
<path d="M516.7 219L516.7 329.1" stroke="#8a8a8a" stroke-width="0.9"/>
<path d="M650.1 240.7L641.7 362.4" stroke="#7a7a7a" stroke-width="0.9"/>
<path d="M383.1 240.6L391.6 362.4" stroke="#444" stroke-width="0.9"/>
<circle cx="383.4" cy="240.6" r="0.9"/>
<text x="380" y="246.2" text-anchor="end" class="t">76.9</text>
<circle cx="385.1" cy="264.7" r="0.9"/>
<text x="381.7" y="270.3" text-anchor="end" class="t">75.4</text>
<circle cx="386.7" cy="288.2" r="0.9"/>
<text x="383.3" y="293.8" text-anchor="end" class="t">73.9</text>
<circle cx="388.3" cy="311.1" r="0.9"/>
<text x="384.9" y="316.7" text-anchor="end" class="t">72.4</text>
<circle cx="389.9" cy="333.4" r="0.9"/>
<text x="386.5" y="339" text-anchor="end" class="t">70.9</text>
<path d="M391.6 362.4L516.7 404.6 641.7 362.4 516.7 329.1Z" fill="#ffff00" stroke="#6a6a00" stroke-width="0.5"/>
<g fill="none" stroke-width="0.55" stroke-opacity="0.5"><path d="M599.9 351.3 593.9 350.1 590.1 349.5 586.3 348.8 582.6 348.2 578.4 347.6 574.4 347 570.3 346.4 566.3 345.9 562.2 345.3 558.1 344.8 553.9 344.3 549.8 343.8 545.6 343.3 541.4 342.8 537.3 342.4 533 341.9 528.7 341.5 524.5 341 520.2 340.6 515.9 340.2 511.7 339.7 507.4 339.3 503.1 338.9 498.8 338.5 494.5 338.1 490.1 337.7 485.8 337.3M633.2 365.3 631.2 361.7 627 359 624.4 357.8 624 357.7" stroke="#00b6a2"/><path d="M463.7 343.2 467.6 343.7 471.5 344.3 475.3 344.8 479.3 345.4 483.1 346 486.9 346.5 490.7 347.1 494.4 347.8 498.1 348.4 501.7 349 505.3 349.7 508.9 350.4 512.4 351.1 515.8 351.9 519.1 352.7 522.4 353.5 525.6 354.3 528.7 355.2 531.8 356.1 534.6 357.1 537.4 358.1 539.9 359.2 542.3 360.3 544.5 361.5 547.9 364.2 549.6 366.5 550.2 369.6 549.4 372.1 547.9 374.4 545.5 376.8 541.7 379.7 539.7 381.1 537.4 382.4 535.1 383.8 532.7 385.1 530.2 386.4 527.6 387.7 524.9 389.1 522.1 390.4 519.3 391.6 516.5 392.9 513.5 394.2 510.5 395.5 507.5 396.8 504.5 398.1 501.3 399.4" stroke="#12c55f"/><path d="M439.6 349.6 443 350.3 446.4 351 449.6 351.8 452.9 352.6 455.6 353.2 459.1 354.2 462.1 355 465 355.9 467.9 356.8 470.6 357.8 473.2 358.8 475.7 359.8 478.1 360.9 482.3 363.3 485.7 366 488 369 488.9 372.6 488.4 375.3 486.5 378.9 483.6 382.1 480.1 385.3 477.9 387 475.7 388.5 473.4 390" stroke="#59be00"/><path d="M413.7 356.5 416.4 357.4 419.1 358.4 421.6 359.4 424 360.4 426.3 361.5 430.6 363.7 433.9 366 437.1 369 438.9 371.8 439.8 375.6 439.4 378.5" stroke="#c78c00"/></g>
<path d="M391.6 362.4L516.7 404.6 641.7 362.4" fill="none" stroke="#3a3a00" stroke-width="0.8"/>
<text x="388.3" y="368.4" text-anchor="end" class="t">40.00</text>
<circle cx="423" cy="373.2" r="0.9"/>
<text x="420.5" y="379" text-anchor="end" class="t">35.00</text>
<circle cx="453.2" cy="383.4" r="0.9"/>
<text x="450.7" y="389.2" text-anchor="end" class="t">30.00</text>
<circle cx="485.4" cy="394.2" r="0.9"/>
<text x="482.9" y="400" text-anchor="end" class="t">25.00</text>
<text x="513.4" y="410.6" text-anchor="end" class="t">20.00</text>
<text x="520.2" y="410.4" class="t">20.00</text>
<circle cx="547.9" cy="394.2" r="0.9"/>
<text x="551" y="400" class="t">25.00</text>
<circle cx="580" cy="383.4" r="0.9"/>
<text x="583.1" y="389.2" class="t">30.00</text>
<circle cx="610.2" cy="373.2" r="0.9"/>
<text x="613.3" y="379" class="t">35.00</text>
<text x="645.2" y="368.2" class="t">40.00</text>
<text x="405.2" y="403.7" class="a" text-anchor="middle">C: Extraction time</text>
<text x="627.5" y="403.7" class="a" text-anchor="middle">B: Liquid/solid ratio</text>
<text transform="translate(353.9 316.4) rotate(-90)" class="d">DPPH</text>
<g transform="scale(.25)" stroke-width="1.2"><path class=ak d="M2067 1238l11 7 -11 3 -11-7zm11-4l12 7 -12 4 -11-7z"/><path class=al d="M2090 1231l11 7 -11 3 -12-7z"/><path class=am d="M2101 1228l12 6 -12 4 -11-7zm12-3l11 6 -11 3 -12-6z"/><path class=an d="M2125 1223l11 6 -12 2 -11-6zm12-3l11 6 -12 3 -11-6z"/><path class=ao d="M2148 1218l12 6 -12 2 -11-6zm12-2l12 6 -12 2 -12-6zm12-2l12 6 -12 2 -12-6z"/><path class=ap d="M2185 1213l11 5 -12 2 -12-6zm12-1l11 5 -12 1 -11-5z"/><path class=aq d="M2209 1211l11 4 -12 2 -11-5z"/><path class=aJ d="M2221 1210l12 4 -13 1 -11-4zm13-1l11 5 -12 0 -12-4z"/><path class=aK d="M2246 1209l12 4 -13 1 -11-5zm13 0l11 4 -12 0 -12-4z"/><path class=aR d="M2272 1209l11 4 -13 0 -11-4zm12 0l12 4 -13 0 -11-4z"/><path class=aS d="M2297 1210l11 3 -12 0 -12-4z"/><path class=bn d="M2310 1211l11 3 -13-1 -11-3zm13 1l11 3 -13-1 -11-3zm13 1l11 3 -13-1 -11-3zm13 1l11 3 -13-1 -11-3z"/><path class=bF d="M2362 1216l11 3 -13-2 -11-3z"/><path class=bG d="M2375 1218l12 2 -14-1 -11-3zm14 2l11 2 -13-2 -12-2zm13 3l11 1 -13-2 -11-2zm14 2l11 2 -14-3 -11-1zm13 3l11 2 -13-3 -11-2zm14 3l11 2 -14-3 -11-2z"/><path class=bo d="M2456 1235l12 1 -14-3 -11-2zm14 3l11 1 -13-3 -12-1zm14 4l11 1 -14-4 -11-1z"/><path class=aT d="M2498 1246l11 1 -14-4 -11-1zm14 5l11 0 -14-4 -11-1z"/><path class=aS d="M2526 1255l11 0 -14-4 -11 0z"/><path class=aL d="M2540 1260l11-1 -14-4 -11 0zm14 5l11-1 -14-5 -11 1zm14 5l11-1 -14-5 -11 1z"/><path class=al d="M2055 1231l12 7 -11 3 -12-7zm12-3l11 6 -11 4 -12-7z"/><path class=am d="M2078 1225l12 6 -12 3 -11-6zm12-3l11 6 -11 3 -12-6z"/><path class=an d="M2102 1219l11 6 -12 3 -11-6zm11-2l12 6 -12 2 -11-6z"/><path class=ao d="M2125 1214l12 6 -12 3 -12-6zm12-2l11 6 -11 2 -12-6z"/><path class=ap d="M2149 1211l11 5 -12 2 -11-6zm12-2l11 5 -12 2 -11-5z"/><path class=aq d="M2173 1208l12 5 -13 1 -11-5zm12-1l12 5 -12 1 -12-5z"/><path class=aJ d="M2198 1206l11 5 -12 1 -12-5z"/><path class=aK d="M2210 1205l11 5 -12 1 -11-5zm12 0l12 4 -13 1 -11-5zm13 0l11 4 -12 0 -12-4z"/><path class=aR d="M2248 1205l11 4 -13 0 -11-4z"/><path class=aS d="M2260 1205l12 4 -13 0 -11-4zm13 1l11 3 -12 0 -12-4z"/><path class=bn d="M2286 1206l11 4 -13-1 -11-3zm13 1l11 4 -13-1 -11-4z"/><path class=bo d="M2312 1209l11 3 -13-1 -11-4zm13 1l11 3 -13-1 -11-3z"/><path class=bG d="M2338 1212l11 2 -13-1 -11-3zm13 2l11 2 -13-2 -11-2zm13 2l11 2 -13-2 -11-2zm14 2l11 2 -14-2 -11-2zm13 3l11 2 -13-3 -11-2zm13 3l12 1 -14-2 -11-2zm14 3l11 1 -13-3 -12-1z"/><path class=bo d="M2431 1230l12 1 -14-3 -11-1zm14 4l11 1 -13-4 -12-1zm14 4l11 0 -14-3 -11-1z"/><path class=aT d="M2473 1242l11 0 -14-4 -11 0zm14 4l11 0 -14-4 -11 0zm14 5l11 0 -14-5 -11 0z"/><path class=aM d="M2515 1256l11-1 -14-4 -11 0zm14 5l11-1 -14-5 -11 1z"/><path class=aL d="M2543 1266l11-1 -14-5 -11 1z"/><path class=as d="M2557 1271l11-1 -14-5 -11 1z"/><path class=am d="M2044 1224l11 7 -11 3 -11-6zm11-3l12 7 -12 3 -11-7z"/><path class=an d="M2067 1218l11 7 -11 3 -12-7zm11-3l12 7 -12 3 -11-7z"/><path class=ao d="M2090 1213l12 6 -12 3 -12-7zm12-2l11 6 -11 2 -12-6z"/><path class=ap d="M2114 1209l11 5 -12 3 -11-6zm12-2l11 5 -12 2 -11-5z"/><path class=aq d="M2138 1205l11 6 -12 1 -11-5zm12-1l11 5 -12 2 -11-6zm12-1l11 5 -12 1 -11-5z"/><path class=aK d="M2174 1202l11 5 -12 1 -11-5zm12-1l12 5 -13 1 -11-5zm13 0l11 4 -12 1 -12-5z"/><path class=aL d="M2211 1201l11 4 -12 0 -11-4z"/><path class=aS d="M2224 1201l11 4 -13 0 -11-4zm12 0l12 4 -13 0 -11-4zm13 1l11 3 -12 0 -12-4z"/><path class=aT d="M2262 1202l11 4 -13-1 -11-3z"/><path class=bo d="M2274 1203l12 3 -13 0 -11-4zm13 1l12 3 -13-1 -12-3zm13 2l12 3 -13-2 -12-3z"/><path class=bG d="M2313 1208l12 2 -13-1 -12-3zm13 2l12 2 -13-2 -12-2zm14 2l11 2 -13-2 -12-2zm13 2l11 2 -13-2 -11-2zm13 3l12 1 -14-2 -11-2z"/><path class=bH d="M2380 1220l11 1 -13-3 -12-1zm13 3l11 1 -13-3 -11-1z"/><path class=bp d="M2407 1226l11 1 -14-3 -11-1zm13 4l11 0 -13-3 -11-1z"/><path class=bo d="M2434 1233l11 1 -14-4 -11 0z"/><path class=aT d="M2448 1237l11 1 -14-4 -11-1zm13 5l12 0 -14-4 -11-1zm14 4l12 0 -14-4 -12 0z"/><path class=aM d="M2489 1251l12 0 -14-5 -12 0zm14 5l12 0 -14-5 -12 0zm14 5l12 0 -14-5 -12 0z"/><path class=at d="M2531 1267l12-1 -14-5 -12 0z"/><path class=as d="M2546 1272l11-1 -14-5 -12 1z"/><path class=am d="M2032 1217l12 7 -11 4 -12-7z"/><path class=an d="M2044 1214l11 7 -11 3 -12-7z"/><path class=ao d="M2055 1212l12 6 -12 3 -11-7zm12-3l11 6 -11 3 -12-6z"/><path class=ap d="M2079 1207l11 6 -12 2 -11-6zm11-2l12 6 -12 2 -11-6zm12-2l12 6 -12 2 -12-6z"/><path class=aq d="M2114 1201l12 6 -12 2 -12-6zm12-1l12 5 -12 2 -12-6z"/><path class=ar d="M2138 1199l12 5 -12 1 -12-5zm12-1l12 5 -12 1 -12-5z"/><path class=aK d="M2162 1197l12 5 -12 1 -12-5z"/><path class=aL d="M2175 1197l11 4 -12 1 -12-5zm12 0l12 4 -13 0 -11-4zm13 0l11 4 -12 0 -12-4z"/><path class=aS d="M2212 1197l12 4 -13 0 -11-4z"/><path class=aT d="M2225 1197l11 4 -12 0 -12-4zm12 1l12 4 -13-1 -11-4z"/><path class=bo d="M2250 1199l12 3 -13 0 -12-4zm13 1l11 3 -12-1 -12-3zm13 2l11 2 -13-1 -11-3z"/><path class=bp d="M2289 1203l11 3 -13-2 -11-2z"/><path class=bH d="M2302 1205l11 3 -13-2 -11-3zm13 2l11 3 -13-2 -11-3zm13 3l12 2 -14-2 -11-3zm13 2l12 2 -13-2 -12-2zm14 3l11 2 -13-3 -12-2zm13 3l12 2 -14-3 -11-2z"/><path class=bp d="M2382 1221l11 2 -13-3 -12-2zm13 4l12 1 -14-3 -11-2zm14 4l11 1 -13-4 -12-1zm13 4l12 0 -14-3 -11-1z"/><path class=a7 d="M2436 1237l12 0 -14-4 -12 0zm14 5l11 0 -13-5 -12 0zm14 4l11 0 -14-4 -11 0z"/><path class=aM d="M2478 1251l11 0 -14-5 -11 0zm14 6l11-1 -14-5 -11 0zm14 5l11-1 -14-5 -11 1z"/><path class=at d="M2520 1268l11-1 -14-6 -11 1zm14 6l12-2 -15-5 -11 1z"/><path class=an d="M2021 1211l11 6 -11 4 -12-7z"/><path class=ao d="M2032 1208l12 6 -12 3 -11-6zm12-3l11 7 -11 2 -12-6z"/><path class=ap d="M2055 1203l12 6 -12 3 -11-7zm12-2l12 6 -12 2 -12-6z"/><path class=aq d="M2079 1199l11 6 -11 2 -12-6zm11-2l12 6 -12 2 -11-6z"/><path class=ar d="M2102 1196l12 5 -12 2 -12-6zm12-1l12 5 -12 1 -12-5zm12-1l12 5 -12 1 -12-5z"/><path class=aL d="M2139 1193l11 5 -12 1 -12-5zm12 0l11 4 -12 1 -11-5zm12-1l12 5 -13 0 -11-4z"/><path class=aM d="M2175 1192l12 5 -12 0 -12-5z"/><path class=aT d="M2188 1192l12 5 -13 0 -12-5zm12 1l12 4 -12 0 -12-5zm13 1l12 3 -13 0 -12-4z"/><path class=bo d="M2226 1194l11 4 -12-1 -12-3z"/><path class=bp d="M2238 1196l12 3 -13-1 -11-4zm13 1l12 3 -13-1 -12-3zm13 2l12 3 -13-2 -12-3z"/><path class=bH d="M2277 1201l12 2 -13-1 -12-3zm13 2l12 2 -13-2 -12-2zm13 2l12 2 -13-2 -12-2zm14 3l11 2 -13-3 -12-2zm13 2l11 2 -13-2 -11-2zm13 3l12 2 -14-3 -11-2zm14 4l11 1 -13-3 -12-2z"/><path class=bp d="M2370 1220l12 1 -14-3 -11-1zm14 4l11 1 -13-4 -12-1zm13 4l12 1 -14-4 -11-1z"/><path class=a7 d="M2411 1232l11 1 -13-4 -12-1zm14 5l11 0 -14-4 -11-1zm13 5l12 0 -14-5 -11 0z"/><path class=aN d="M2452 1247l12-1 -14-4 -12 0zm14 5l12-1 -14-5 -12 1z"/><path class=aM d="M2480 1257l12 0 -14-6 -12 1z"/><path class=at d="M2494 1263l12-1 -14-5 -12 0zm15 6l11-1 -14-6 -12 1zm14 6l11-1 -14-6 -11 1z"/><path class=ao d="M2009 1204l12 7 -12 3 -12-7z"/><path class=ap d="M2020 1201l12 7 -11 3 -12-7zm12-2l12 6 -12 3 -12-7z"/><path class=aq d="M2043 1197l12 6 -11 2 -12-6zm12-2l12 6 -12 2 -12-6z"/><path class=ar d="M2067 1193l12 6 -12 2 -12-6zm12-1l11 5 -11 2 -12-6zm12-1l11 5 -12 1 -11-5z"/><path class=as d="M2103 1190l11 5 -12 1 -11-5zm12-1l11 5 -12 1 -11-5z"/><path class=aL d="M2127 1188l12 5 -13 1 -11-5z"/><path class=aM d="M2139 1188l12 5 -12 0 -12-5zm12 0l12 4 -12 1 -12-5z"/><path class=aT d="M2164 1188l11 4 -12 0 -12-4zm12 0l12 4 -13 0 -11-4z"/><path class=a7 d="M2189 1189l11 4 -12-1 -12-4zm12 1l12 4 -13-1 -11-4z"/><path class=bp d="M2214 1191l12 3 -13 0 -12-4zm13 1l11 4 -12-2 -12-3zm13 2l11 3 -13-1 -11-4z"/><path class=bH d="M2253 1196l11 3 -13-2 -11-3z"/><path class=bI d="M2266 1198l11 3 -13-2 -11-3zm13 2l11 3 -13-2 -11-3zm13 3l11 2 -13-2 -11-3zm13 3l12 2 -14-3 -11-2zm13 3l12 1 -13-2 -12-2zm14 3l11 1 -13-3 -12-1z"/><path class=bq d="M2345 1216l12 1 -14-4 -11-1zm13 3l12 1 -13-3 -12-1zm14 4l12 1 -14-4 -12-1z"/><path class=a7 d="M2386 1228l11 0 -13-4 -12-1zm13 4l12 0 -14-4 -11 0zm14 5l12 0 -14-5 -12 0z"/><path class=aN d="M2427 1242l11 0 -13-5 -12 0zm14 5l11 0 -14-5 -11 0zm14 5l11 0 -14-5 -11 0z"/><path class=au d="M2469 1258l11-1 -14-5 -11 0z"/><path class=at d="M2483 1264l11-1 -14-6 -11 1zm14 6l12-1 -15-6 -11 1zm14 7l12-2 -14-6 -12 1z"/><path class=ap d="M1997 1197l12 7 -12 3 -11-7z"/><path class=aq d="M2008 1195l12 6 -11 3 -12-7zm12-2l12 6 -12 2 -12-6z"/><path class=ar d="M2032 1191l11 6 -11 2 -12-6zm11-2l12 6 -12 2 -11-6zm12-1l12 5 -12 2 -12-6z"/><path class=as d="M2067 1186l12 6 -12 1 -12-5zm12-1l12 6 -12 1 -12-6zm12-1l12 6 -12 1 -12-6z"/><path class=aM d="M2103 1184l12 5 -12 1 -12-6zm12-1l12 5 -12 1 -12-5zm12 0l12 5 -12 0 -12-5z"/><path class=aN d="M2140 1183l11 5 -12 0 -12-5z"/><path class=a7 d="M2152 1184l12 4 -13 0 -11-5zm12 0l12 4 -12 0 -12-4zm13 1l12 4 -13-1 -12-4z"/><path class=bp d="M2190 1186l11 4 -12-1 -12-4z"/><path class=bq d="M2202 1188l12 3 -13-1 -11-4zm13 1l12 3 -13-1 -12-3zm13 2l12 3 -13-2 -12-3z"/><path class=bI d="M2241 1193l12 3 -13-2 -12-3zm13 2l12 3 -13-2 -12-3zm13 3l12 2 -13-2 -12-3zm13 3l12 2 -13-3 -12-2zm13 3l12 2 -13-3 -12-2zm14 3l11 2 -13-3 -12-2z"/><path class=bq d="M2320 1211l12 1 -14-3 -11-2zm13 3l12 2 -13-4 -12-1zm14 4l11 1 -13-3 -12-2z"/><path class=a8 d="M2360 1223l12 0 -14-4 -11-1zm14 4l12 1 -14-5 -12 0zm14 5l11 0 -13-4 -12-1z"/><path class=aO d="M2401 1237l12 0 -14-5 -11 0z"/><path class=aN d="M2415 1242l12 0 -14-5 -12 0zm14 5l12 0 -14-5 -12 0z"/><path class=au d="M2443 1253l12-1 -14-5 -12 0zm14 6l12-1 -14-6 -12 1zm14 6l12-1 -14-6 -12 1z"/><path class=at d="M2485 1272l12-2 -14-6 -12 1zm15 6l11-1 -14-7 -12 2z"/><path class=aq d="M1985 1191l12 6 -11 3 -12-7zm11-2l12 6 -11 2 -12-6z"/><path class=ar d="M2008 1187l12 6 -12 2 -12-6zm12-2l12 6 -12 2 -12-6z"/><path class=as d="M2031 1183l12 6 -11 2 -12-6zm12-1l12 6 -12 1 -12-6zm12-1l12 5 -12 2 -12-6z"/><path class=at d="M2067 1180l12 5 -12 1 -12-5z"/><path class=aM d="M2079 1179l12 5 -12 1 -12-5zm12 0l12 5 -12 0 -12-5z"/><path class=aN d="M2103 1179l12 4 -12 1 -12-5zm12 0l12 4 -12 0 -12-4z"/><path class=a7 d="M2128 1179l12 4 -13 0 -12-4zm12 1l12 4 -12-1 -12-4z"/><path class=a8 d="M2153 1181l11 3 -12 0 -12-4zm12 1l12 3 -13-1 -11-3z"/><path class=bq d="M2178 1183l12 3 -13-1 -12-3zm12 1l12 4 -12-2 -12-3zm13 2l12 3 -13-1 -12-4z"/><path class=bI d="M2216 1188l12 3 -13-2 -12-3zm13 3l12 2 -13-2 -12-3zm13 2l12 2 -13-2 -12-2z"/><path class=bJ d="M2255 1196l12 2 -13-3 -12-2zm13 3l12 2 -13-3 -12-2zm13 3l12 2 -13-3 -12-2z"/><path class=bI d="M2295 1206l12 1 -14-3 -12-2z"/><path class=bq d="M2308 1209l12 2 -13-4 -12-1zm13 4l12 1 -13-3 -12-2zm14 4l12 1 -14-4 -12-1z"/><path class=a8 d="M2349 1222l11 1 -13-5 -12-1zm13 5l12 0 -14-4 -11-1zm14 5l12 0 -14-5 -12 0z"/><path class=aO d="M2390 1237l11 0 -13-5 -12 0zm13 5l12 0 -14-5 -11 0z"/><path class=aN d="M2417 1248l12-1 -14-5 -12 0z"/><path class=au d="M2431 1254l12-1 -14-6 -12 1zm14 6l12-1 -14-6 -12 1zm14 6l12-1 -14-6 -12 1zm15 7l11-1 -14-7 -12 1z"/><path class=at d="M2488 1280l12-2 -15-6 -11 1z"/><path class=ar d="M1973 1184l12 7 -11 2 -12-6zm11-2l12 7 -11 2 -12-7z"/><path class=as d="M1996 1180l12 7 -12 2 -12-7zm12-1l12 6 -12 2 -12-7z"/><path class=at d="M2019 1177l12 6 -11 2 -12-6zm12-1l12 6 -12 1 -12-6zm12-1l12 6 -12 1 -12-6z"/><path class=au d="M2055 1175l12 5 -12 1 -12-6z"/><path class=aN d="M2067 1174l12 5 -12 1 -12-5zm12 0l12 5 -12 0 -12-5zm12 0l12 5 -12 0 -12-5z"/><path class=a8 d="M2103 1174l12 5 -12 0 -12-5zm13 1l12 4 -13 0 -12-5zm12 1l12 4 -12-1 -12-4zm13 1l12 4 -13-1 -12-4z"/><path class=bq d="M2153 1178l12 4 -12-1 -12-4z"/><path class=br d="M2166 1180l12 3 -13-1 -12-4zm12 1l12 3 -12-1 -12-3z"/><path class=bJ d="M2191 1183l12 3 -13-2 -12-3zm13 3l12 2 -13-2 -12-3zm13 2l12 3 -13-3 -12-2zm13 3l12 2 -13-2 -12-3zm13 3l12 2 -13-3 -12-2zm13 3l12 2 -13-3 -12-2zm14 3l11 2 -13-3 -12-2z"/><path class=br d="M2283 1204l12 2 -14-4 -11-2zm13 4l12 1 -13-3 -12-2zm14 4l11 1 -13-4 -12-1z"/><path class=a9 d="M2323 1217l12 0 -14-4 -11-1zm14 4l12 1 -14-5 -12 0z"/><path class=a8 d="M2350 1226l12 1 -13-5 -12-1z"/><path class=aO d="M2364 1232l12 0 -14-5 -12-1zm14 5l12 0 -14-5 -12 0zm14 6l11-1 -13-5 -12 0z"/><path class=av d="M2406 1249l11-1 -14-6 -11 1zm14 6l11-1 -14-6 -11 1z"/><path class=au d="M2434 1261l11-1 -14-6 -11 1zm14 7l11-2 -14-6 -11 1zm14 7l12-2 -15-7 -11 2z"/><path class=at d="M2476 1282l12-2 -14-7 -12 2z"/><path class=as d="M1961 1178l12 6 -11 3 -13-7zm11-2l12 6 -11 2 -12-6z"/><path class=at d="M1984 1174l12 6 -12 2 -12-6zm11-1l13 6 -12 1 -12-6zm12-1l12 5 -11 2 -13-6z"/><path class=au d="M2019 1171l12 5 -12 1 -12-5zm12-1l12 5 -12 1 -12-5z"/><path class=aN d="M2043 1169l12 6 -12 0 -12-5z"/><path class=aO d="M2055 1169l12 5 -12 1 -12-6zm12 0l12 5 -12 0 -12-5zm12 1l12 4 -12 0 -12-5z"/><path class=a8 d="M2091 1170l12 4 -12 0 -12-4zm13 1l12 4 -13-1 -12-4z"/><path class=a9 d="M2116 1172l12 4 -12-1 -12-4z"/><path class=br d="M2129 1173l12 4 -13-1 -12-4zm12 1l12 4 -12-1 -12-4zm13 2l12 4 -13-2 -12-4zm12 2l12 3 -12-1 -12-4z"/><path class=bJ d="M2179 1180l12 3 -13-2 -12-3zm13 3l12 3 -13-3 -12-3zm13 2l12 3 -13-2 -12-3zm13 3l12 3 -13-3 -12-3zm13 4l12 2 -13-3 -12-3zm13 3l12 2 -13-3 -12-2z"/><path class=br d="M2258 1199l12 1 -14-3 -12-2zm13 4l12 1 -13-4 -12-1zm13 4l12 1 -13-4 -12-1z"/><path class=a9 d="M2298 1211l12 1 -14-4 -12-1zm13 5l12 1 -13-5 -12-1zm14 5l12 0 -14-4 -12-1z"/><path class=aU d="M2338 1226l12 0 -13-5 -12 0zm14 6l12 0 -14-6 -12 0z"/><path class=aO d="M2366 1237l12 0 -14-5 -12 0z"/><path class=av d="M2380 1243l12 0 -14-6 -12 0zm14 6l12 0 -14-6 -12 0zm14 7l12-1 -14-6 -12 0z"/><path class=au d="M2422 1262l12-1 -14-6 -12 1zm14 7l12-1 -14-7 -12 1zm14 7l12-1 -14-7 -12 1zm14 8l12-2 -14-7 -12 1z"/><path class=at d="M1948 1171l13 7 -12 2 -12-7zm12-1l12 6 -11 2 -13-7zm11-2l13 6 -12 2 -12-6z"/><path class=au d="M1983 1167l12 6 -11 1 -13-6zm12-1l12 6 -12 1 -12-6zm12-1l12 6 -12 1 -12-6z"/><path class=av d="M2019 1165l12 5 -12 1 -12-6z"/><path class=aO d="M2030 1164l13 5 -12 1 -12-5zm13 0l12 5 -12 0 -13-5zm12 0l12 5 -12 0 -12-5z"/><path class=a9 d="M2067 1165l12 5 -12-1 -12-5zm12 1l12 4 -12 0 -12-5zm12 1l13 4 -13-1 -12-4zm13 1l12 4 -12-1 -13-4z"/><path class=br d="M2116 1169l13 4 -13-1 -12-4z"/><path class=bs d="M2129 1171l12 3 -12-1 -13-4zm13 2l12 3 -13-2 -12-3z"/><path class=bK d="M2154 1175l12 3 -12-2 -12-3zm13 2l12 3 -13-2 -12-3zm13 3l12 3 -13-3 -12-3zm13 3l12 2 -13-2 -12-3zm13 3l12 2 -13-3 -12-2zm13 4l12 2 -13-4 -12-2z"/><path class=bs d="M2232 1193l12 2 -13-3 -12-2zm13 4l13 2 -14-4 -12-2zm14 4l12 2 -13-4 -13-2z"/><path class=ba d="M2272 1206l12 1 -13-4 -12-2z"/><path class=a9 d="M2286 1211l12 0 -14-4 -12-1zm13 4l12 1 -13-5 -12 0z"/><path class=aU d="M2313 1221l12 0 -14-5 -12-1zm13 5l12 0 -13-5 -12 0zm14 6l12 0 -14-6 -12 0z"/><path class=aw d="M2354 1238l12-1 -14-5 -12 0z"/><path class=av d="M2368 1244l12-1 -14-6 -12 1zm14 6l12-1 -14-6 -12 1zm14 7l12-1 -14-7 -12 1zm14 7l12-2 -14-6 -12 1z"/><path class=au d="M2424 1271l12-2 -14-7 -12 2zm14 7l12-2 -14-7 -12 2zm14 8l12-2 -14-8 -12 2z"/><path class=at d="M1936 1165l12 6 -11 2 -12-6z"/><path class=au d="M1948 1163l12 7 -12 1 -12-6zm11-1l12 6 -11 2 -12-7zm12-1l12 6 -12 1 -12-6z"/><path class=av d="M1982 1160l13 6 -12 1 -12-6zm12 0l13 5 -12 1 -13-6z"/><path class=aO d="M2006 1159l13 6 -12 0 -13-5z"/><path class=aU d="M2018 1159l12 5 -11 1 -13-6zm12 0l13 5 -13 0 -12-5zm12 1l13 4 -12 0 -13-5z"/><path class=a9 d="M2055 1160l12 5 -12-1 -13-4z"/><path class=ba d="M2067 1161l12 5 -12-1 -12-5zm12 1l12 5 -12-1 -12-5z"/><path class=bs d="M2092 1164l12 4 -13-1 -12-5zm12 2l12 3 -12-1 -12-4zm13 1l12 4 -13-2 -12-3z"/><path class=bK d="M2129 1170l13 3 -13-2 -12-4zm13 2l12 3 -12-2 -13-3zm13 3l12 2 -13-2 -12-3zm13 3l12 2 -13-3 -12-2zm13 3l12 2 -13-3 -12-2zm13 3l12 2 -13-3 -12-2zm13 4l12 2 -13-4 -12-2z"/><path class=bs d="M2220 1192l12 1 -13-3 -12-2zm13 4l12 1 -13-4 -12-1zm14 4l12 1 -14-4 -12-1z"/><path class=ba d="M2260 1205l12 1 -13-5 -12-1zm13 5l13 1 -14-5 -12-1zm14 5l12 0 -13-4 -13-1z"/><path class=aU d="M2301 1220l12 1 -14-6 -12 0zm13 6l12 0 -13-5 -12-1zm14 6l12 0 -14-6 -12 0z"/><path class=aw d="M2342 1238l12 0 -14-6 -12 0zm14 6l12 0 -14-6 -12 0z"/><path class=av d="M2370 1251l12-1 -14-6 -12 0zm14 7l12-1 -14-7 -12 1zm14 7l12-1 -14-7 -12 1z"/><path class=au d="M2412 1272l12-1 -14-7 -12 1zm14 8l12-2 -14-7 -12 1zm14 8l12-2 -14-8 -12 2zm-516-130l12 7 -11 2 -13-7z"/><path class=av d="M1935 1157l13 6 -12 2 -12-7zm12-1l12 6 -11 1 -13-6zm11-1l13 6 -12 1 -12-6z"/><path class=aw d="M1970 1154l12 6 -11 1 -13-6zm12 0l12 6 -12 0 -12-6z"/><path class=aU d="M1994 1154l12 5 -12 1 -12-6zm12 0l12 5 -12 0 -12-5z"/><path class=aV d="M2018 1154l12 5 -12 0 -12-5z"/><path class=ba d="M2030 1155l12 5 -12-1 -12-5zm12 1l13 4 -13 0 -12-5zm12 1l13 4 -12-1 -13-4z"/><path class=bs d="M2067 1158l12 4 -12-1 -13-4zm12 2l13 4 -13-2 -12-4z"/><path class=bt d="M2092 1162l12 4 -12-2 -13-4zm12 2l13 3 -13-1 -12-4z"/><path class=bL d="M2117 1166l12 4 -12-3 -13-3zm13 3l12 3 -13-2 -12-4zm13 3l12 3 -13-3 -12-3zm12 3l13 3 -13-3 -12-3zm13 3l13 3 -13-3 -13-3zm14 4l12 2 -13-3 -13-3z"/><path class=bt d="M2195 1186l12 2 -13-4 -12-2zm13 4l12 2 -13-4 -12-2z"/><path class=bs d="M2221 1194l12 2 -13-4 -12-2z"/><path class=ba d="M2234 1199l13 1 -14-4 -12-2zm14 5l12 1 -13-5 -13-1zm13 5l12 1 -13-5 -12-1z"/><path class=aV d="M2275 1214l12 1 -14-5 -12-1zm13 6l13 0 -14-5 -12-1zm14 6l12 0 -13-6 -13 0z"/><path class=aw d="M2316 1232l12 0 -14-6 -12 0zm14 7l12-1 -14-6 -12 0zm13 6l13-1 -14-6 -12 1zm14 7l13-1 -14-7 -13 1z"/><path class=av d="M2371 1259l13-1 -14-7 -13 1zm14 8l13-2 -14-7 -13 1zm15 7l12-2 -14-7 -13 2z"/><path class=au d="M2414 1282l12-2 -14-8 -12 2zm14 8l12-2 -14-8 -12 2z"/><path class=av d="M1911 1152l13 6 -12 2 -12-7zm12-1l12 6 -11 1 -13-6z"/><path class=aw d="M1934 1150l13 6 -12 1 -12-6zm12-1l12 6 -11 1 -13-6zm12 0l12 5 -12 1 -12-6z"/><path class=aV d="M1969 1149l13 5 -12 0 -12-5zm12 0l13 5 -12 0 -13-5zm12 0l13 5 -12 0 -13-5zm12 1l13 4 -12 0 -13-5z"/><path class=ba d="M2017 1150l13 5 -12-1 -13-4z"/><path class=bb d="M2030 1152l12 4 -12-1 -13-5zm12 1l12 4 -12-1 -12-4z"/><path class=bt d="M2054 1154l13 4 -13-1 -12-4zm13 2l12 4 -12-2 -13-4zm12 2l13 4 -13-2 -12-4z"/><path class=bL d="M2092 1161l12 3 -12-2 -13-4zm13 2l12 3 -13-2 -12-3zm12 3l13 3 -13-3 -12-3zm13 3l13 3 -13-3 -13-3zm13 4l12 2 -12-3 -13-3zm13 3l12 2 -13-3 -12-2z"/><path class=bt d="M2169 1180l13 2 -14-4 -12-2zm13 4l13 2 -13-4 -13-2zm13 4l13 2 -13-4 -13-2z"/><path class=bb d="M2209 1193l12 1 -13-4 -13-2zm13 5l12 1 -13-5 -12-1zm13 5l13 1 -14-5 -12-1z"/><path class=aV d="M2249 1208l12 1 -13-5 -13-1zm13 6l13 0 -14-5 -12-1zm14 6l12 0 -13-6 -13 0z"/><path class=ax d="M2290 1226l12 0 -14-6 -12 0zm14 6l12 0 -14-6 -12 0z"/><path class=aw d="M2317 1239l13 0 -14-7 -12 0zm14 7l12-1 -13-6 -13 0zm14 7l12-1 -14-7 -12 1z"/><path class=av d="M2359 1261l12-2 -14-7 -12 1zm14 7l12-1 -14-8 -12 2zm14 8l13-2 -15-7 -12 1z"/><path class=au d="M2402 1284l12-2 -14-8 -13 2zm14 9l12-3 -14-8 -12 2z"/><path class=aw d="M1898 1146l13 6 -11 1 -13-6zm12-1l13 6 -12 1 -13-6zm11-1l13 6 -11 1 -13-6z"/><path class=ax d="M1933 1143l13 6 -12 1 -13-6zm12 0l13 6 -12 0 -13-6z"/><path class=aV d="M1957 1143l12 6 -11 0 -13-6z"/><path class=aW d="M1969 1143l12 6 -12 0 -12-6zm12 1l12 5 -12 0 -12-6z"/><path class=bb d="M1993 1145l12 5 -12-1 -12-5zm12 1l12 4 -12 0 -12-5zm12 1l13 5 -13-2 -12-4z"/><path class=bt d="M2029 1149l13 4 -12-1 -13-5zm13 1l12 4 -12-1 -13-4z"/><path class=bu d="M2054 1153l13 3 -13-2 -12-4z"/><path class=bM d="M2067 1155l12 3 -12-2 -13-3zm12 2l13 4 -13-3 -12-3zm13 3l13 3 -13-2 -13-4zm13 3l12 3 -12-3 -13-3zm13 4l12 2 -13-3 -12-3zm13 3l12 3 -13-4 -12-2zm13 4l12 2 -13-3 -12-3z"/><path class=bu d="M2157 1178l12 2 -13-4 -12-2z"/><path class=bt d="M2170 1182l12 2 -13-4 -12-2zm13 5l12 1 -13-4 -12-2z"/><path class=bb d="M2196 1192l13 1 -14-5 -12-1zm14 5l12 1 -13-5 -13-1zm13 5l12 1 -13-5 -12-1z"/><path class=aW d="M2237 1208l12 0 -14-5 -12-1zm13 6l12 0 -13-6 -12 0z"/><path class=ax d="M2264 1220l12 0 -14-6 -12 0zm13 6l13 0 -14-6 -12 0zm14 7l13-1 -14-6 -13 0zm14 7l12-1 -13-7 -13 1z"/><path class=aw d="M2319 1247l12-1 -14-7 -12 1zm14 7l12-1 -14-7 -12 1zm14 8l12-1 -14-8 -12 1z"/><path class=av d="M2361 1270l12-2 -14-7 -12 1zm14 8l12-2 -14-8 -12 2zm14 8l13-2 -15-8 -12 2z"/><path class=au d="M2404 1295l12-2 -14-9 -13 2z"/><path class=ax d="M1886 1139l12 7 -11 1 -13-7zm11-1l13 7 -12 1 -12-7zm12 0l12 6 -11 1 -13-7z"/><path class=ay d="M1920 1138l13 5 -12 1 -12-6z"/><path class=aW d="M1932 1138l13 5 -12 0 -13-5zm12 0l13 5 -12 0 -13-5zm12 0l13 5 -12 0 -13-5z"/><path class=bb d="M1968 1139l13 5 -12-1 -13-5z"/><path class=bc d="M1980 1140l13 5 -12-1 -13-5zm12 1l13 5 -12-1 -13-5zm12 2l13 4 -12-1 -13-5z"/><path class=bu d="M2017 1145l12 4 -12-2 -13-4zm12 2l13 3 -13-1 -12-4zm13 2l12 4 -12-3 -13-3z"/><path class=bM d="M2054 1151l13 4 -13-2 -12-4zm13 3l12 3 -12-2 -13-4zm12 3l13 3 -13-3 -12-3zm13 3l13 3 -13-3 -13-3zm13 4l13 3 -13-4 -13-3zm13 4l13 2 -13-3 -13-3z"/><path class=bu d="M2131 1172l13 2 -13-4 -13-2zm13 4l13 2 -13-4 -13-2zm13 5l13 1 -13-4 -13-2z"/><path class=bc d="M2170 1186l13 1 -13-5 -13-1zm14 5l12 1 -13-5 -13-1z"/><path class=bb d="M2197 1196l13 1 -14-5 -12-1z"/><path class=aW d="M2211 1202l12 0 -13-5 -13-1zm13 5l13 1 -14-6 -12 0zm14 7l12 0 -13-6 -13-1z"/><path class=ay d="M2251 1220l13 0 -14-6 -12 0z"/><path class=ax d="M2265 1227l12-1 -13-6 -13 0zm14 6l12 0 -14-7 -12 1zm14 8l12-1 -14-7 -12 0z"/><path class=aw d="M2306 1248l13-1 -14-7 -12 1zm14 8l13-2 -14-7 -13 1zm14 7l13-1 -14-8 -13 2z"/><path class=av d="M2348 1272l13-2 -14-8 -13 1zm15 8l12-2 -14-8 -13 2zm14 9l12-3 -14-8 -12 2z"/><path class=au d="M2391 1297l13-2 -15-9 -12 3z"/><path class=ax d="M1873 1133l13 6 -12 1 -13-6z"/><path class=ay d="M1884 1132l13 6 -11 1 -13-6zm12 0l13 6 -12 0 -13-6z"/><path class=aW d="M1908 1132l12 6 -11 0 -13-6zm11 0l13 6 -12 0 -12-6z"/><path class=aX d="M1931 1132l13 6 -12 0 -13-6zm12 1l13 5 -12 0 -13-6z"/><path class=bc d="M1955 1134l13 5 -12-1 -13-5zm12 1l13 5 -12-1 -13-5zm12 2l13 4 -12-1 -13-5z"/><path class=bu d="M1992 1138l12 5 -12-2 -13-4z"/><path class=bv d="M2004 1140l13 5 -13-2 -12-5zm12 3l13 4 -12-2 -13-5z"/><path class=bN d="M2029 1145l13 4 -13-2 -13-4zm12 3l13 3 -12-2 -13-4zm13 3l13 3 -13-3 -13-3zm13 3l12 3 -12-3 -13-3zm13 4l12 2 -13-3 -12-3zm12 3l13 3 -13-4 -12-2zm13 4l13 3 -13-4 -13-3z"/><path class=bu d="M2118 1170l13 2 -13-4 -13-3zm13 4l13 2 -13-4 -13-2z"/><path class=bc d="M2145 1179l12 2 -13-5 -13-2zm13 5l12 2 -13-5 -12-2zm13 6l13 1 -14-5 -12-2z"/><path class=aX d="M2184 1195l13 1 -13-5 -13-1zm14 6l13 1 -14-6 -13-1z"/><path class=aW d="M2211 1207l13 0 -13-5 -13-1z"/><path class=ay d="M2225 1213l13 1 -14-7 -13 0zm14 7l12 0 -13-6 -13-1zm13 7l13 0 -14-7 -12 0z"/><path class=ax d="M2266 1234l13-1 -14-6 -13 0zm14 7l13 0 -14-8 -13 1zm14 8l12-1 -13-7 -13 0z"/><path class=aw d="M2308 1257l12-1 -14-8 -12 1zm14 8l12-2 -14-7 -12 1zm14 8l12-1 -14-9 -12 2z"/><path class=av d="M2350 1282l13-2 -15-8 -12 1zm14 9l13-2 -14-9 -13 2z"/><path class=au d="M2379 1300l12-3 -14-8 -13 2z"/><path class=ay d="M1860 1126l13 7 -12 1 -13-7zm11 0l13 6 -11 1 -13-7z"/><path class=az d="M1883 1126l13 6 -12 0 -13-6z"/><path class=aX d="M1895 1126l13 6 -12 0 -13-6zm11 0l13 6 -11 0 -13-6zm12 1l13 5 -12 0 -13-6z"/><path class=bd d="M1930 1128l13 5 -12-1 -13-5zm12 1l13 5 -12-1 -13-5zm12 2l13 4 -12-1 -13-5zm13 1l12 5 -12-2 -13-4z"/><path class=bv d="M1979 1134l13 4 -13-1 -12-5zm12 2l13 4 -12-2 -13-4zm13 3l12 4 -12-3 -13-4z"/><path class=bN d="M2016 1141l13 4 -13-2 -12-4zm13 3l12 4 -12-3 -13-4zm12 4l13 3 -13-3 -12-4zm13 3l13 3 -13-3 -13-3zm13 4l13 3 -13-4 -13-3zm13 4l12 2 -12-3 -13-3z"/><path class=bv d="M2093 1163l12 2 -13-4 -12-2zm13 5l12 2 -13-5 -12-2zm13 5l12 1 -13-4 -12-2z"/><path class=bd d="M2132 1178l13 1 -14-5 -12-1z"/><path class=bc d="M2145 1183l13 1 -13-5 -13-1zm13 5l13 2 -13-6 -13-1z"/><path class=aX d="M2172 1194l12 1 -13-5 -13-2zm13 6l13 1 -14-6 -12-1z"/><path class=az d="M2199 1207l12 0 -13-6 -13-1z"/><path class=ay d="M2212 1213l13 0 -14-6 -12 0zm14 7l13 0 -14-7 -13 0zm14 7l12 0 -13-7 -13 0z"/><path class=ax d="M2253 1235l13-1 -14-7 -12 0zm14 7l13-1 -14-7 -13 1zm14 8l13-1 -14-8 -13 1z"/><path class=aw d="M2295 1258l13-1 -14-8 -13 1zm14 9l13-2 -14-8 -13 1zm14 8l13-2 -14-8 -13 2z"/><path class=av d="M2338 1284l12-2 -14-9 -13 2zm14 9l12-2 -14-9 -12 2z"/><path class=au d="M2366 1303l13-3 -15-9 -12 2z"/><path class=az d="M1847 1120l13 6 -12 1 -13-7zm11 0l13 6 -11 0 -13-6z"/><path class=aY d="M1870 1120l13 6 -12 0 -13-6zm12 0l13 6 -12 0 -13-6zm11 1l13 5 -11 0 -13-6zm12 1l13 5 -12-1 -13-5z"/><path class=bd d="M1917 1123l13 5 -12-1 -13-5zm12 1l13 5 -12-1 -13-5z"/><path class=be d="M1941 1126l13 5 -12-2 -13-5z"/><path class=bw d="M1954 1128l13 4 -13-1 -13-5zm12 2l13 4 -12-2 -13-4zm12 2l13 4 -12-2 -13-4z"/><path class=bO d="M1991 1135l13 4 -13-3 -13-4zm12 3l13 3 -12-2 -13-4zm13 3l13 3 -13-3 -13-3zm12 4l13 3 -12-4 -13-3zm13 3l13 3 -13-3 -13-3zm13 4l13 3 -13-4 -13-3z"/><path class=bw d="M2067 1156l13 3 -13-4 -13-3z"/><path class=bv d="M2080 1161l13 2 -13-4 -13-3zm13 5l13 2 -13-5 -13-2z"/><path class=bd d="M2106 1171l13 2 -13-5 -13-2zm13 5l13 2 -13-5 -13-2zm13 6l13 1 -13-5 -13-2z"/><path class=aY d="M2146 1187l12 1 -13-5 -13-1z"/><path class=aX d="M2159 1193l13 1 -14-6 -12-1zm13 7l13 0 -13-6 -13-1z"/><path class=az d="M2186 1206l13 1 -14-7 -13 0zm14 7l12 0 -13-6 -13-1z"/><path class=ay d="M2213 1220l13 0 -14-7 -12 0zm14 8l13-1 -14-7 -13 0zm14 7l12 0 -13-8 -13 1z"/><path class=ax d="M2255 1243l12-1 -14-7 -12 0zm14 8l12-1 -14-8 -12 1zm14 9l12-2 -14-8 -12 1z"/><path class=aw d="M2297 1268l12-1 -14-9 -12 2zm14 9l12-2 -14-8 -12 1z"/><path class=av d="M2325 1287l13-3 -15-9 -12 2zm14 9l13-3 -14-9 -13 3z"/><path class=au d="M2353 1306l13-3 -14-10 -13 3z"/><path class=aA d="M1833 1114l14 6 -12 0 -13-6zm12 0l13 6 -11 0 -14-6z"/><path class=aY d="M1857 1114l13 6 -12 0 -13-6zm11 0l14 6 -12 0 -13-6z"/><path class=aZ d="M1880 1115l13 6 -11-1 -14-6z"/><path class=be d="M1892 1116l13 6 -12-1 -13-6zm12 2l13 5 -12-1 -13-6zm12 1l13 5 -12-1 -13-5z"/><path class=bw d="M1928 1121l13 5 -12-2 -13-5zm12 2l14 5 -13-2 -13-5zm13 3l13 4 -12-2 -14-5z"/><path class=bO d="M1965 1128l13 4 -12-2 -13-4zm13 3l13 4 -13-3 -13-4zm12 3l13 4 -12-3 -13-4zm13 4l13 3 -13-3 -13-4zm12 3l13 4 -12-4 -13-3zm13 4l13 3 -13-3 -13-4zm13 5l13 2 -13-4 -13-3z"/><path class=bw d="M2054 1154l13 2 -13-4 -13-2zm13 5l13 2 -13-5 -13-2z"/><path class=be d="M2080 1164l13 2 -13-5 -13-2zm13 5l13 2 -13-5 -13-2z"/><path class=bd d="M2106 1175l13 1 -13-5 -13-2z"/><path class=aY d="M2119 1180l13 2 -13-6 -13-1zm14 6l13 1 -14-5 -13-2zm13 7l13 0 -13-6 -13-1z"/><path class=az d="M2160 1199l12 1 -13-7 -13 0zm13 7l13 0 -14-6 -12-1zm14 7l13 0 -14-7 -13 0zm13 8l13-1 -13-7 -13 0z"/><path class=ay d="M2214 1228l13 0 -14-8 -13 1zm14 8l13-1 -14-7 -13 0zm14 8l13-1 -14-8 -13 1z"/><path class=ax d="M2256 1253l13-2 -14-8 -13 1zm14 8l13-1 -14-9 -13 2z"/><path class=aw d="M2284 1270l13-2 -14-8 -13 1zm14 9l13-2 -14-9 -13 2z"/><path class=av d="M2312 1289l13-2 -14-10 -13 2zm14 10l13-3 -14-9 -13 2zm15 9l12-2 -14-10 -13 3z"/><path class=aB d="M1820 1107l13 7 -11 0 -13-7z"/><path class=aZ d="M1832 1107l13 7 -12 0 -13-7zm11 1l14 6 -12 0 -13-7zm12 1l13 5 -11 0 -14-6zm12 1l13 5 -12-1 -13-5z"/><path class=be d="M1879 1111l13 5 -12-1 -13-5z"/><path class=bf d="M1891 1113l13 5 -12-2 -13-5zm12 1l13 5 -12-1 -13-5z"/><path class=bx d="M1915 1116l13 5 -12-2 -13-5zm12 3l13 4 -12-2 -13-5zm13 2l13 5 -13-3 -13-4z"/><path class=bP d="M1952 1124l13 4 -12-2 -13-5zm12 3l14 4 -13-3 -13-4zm13 4l13 3 -12-3 -14-4zm13 3l13 4 -13-4 -13-3zm12 4l13 3 -12-3 -13-4zm13 5l13 2 -13-4 -13-3z"/><path class=bx d="M2028 1147l13 3 -13-5 -13-2z"/><path class=bw d="M2041 1152l13 2 -13-4 -13-3zm13 5l13 2 -13-5 -13-2z"/><path class=be d="M2067 1162l13 2 -13-5 -13-2zm13 5l13 2 -13-5 -13-2zm13 6l13 2 -13-6 -13-2z"/><path class=aZ d="M2106 1179l13 1 -13-5 -13-2z"/><path class=aY d="M2120 1186l13 0 -14-6 -13-1z"/><path class=aA d="M2133 1192l13 1 -13-7 -13 0zm14 7l13 0 -14-6 -13-1z"/><path class=az d="M2160 1206l13 0 -13-7 -13 0zm14 7l13 0 -14-7 -13 0zm13 8l13 0 -13-8 -13 0z"/><path class=ay d="M2201 1229l13-1 -14-7 -13 0zm14 8l13-1 -14-8 -13 1zm14 8l13-1 -14-8 -13 1z"/><path class=ax d="M2243 1254l13-1 -14-9 -13 1zm14 9l13-2 -14-8 -13 1z"/><path class=aw d="M2271 1272l13-2 -14-9 -13 2zm14 10l13-3 -14-9 -13 2zm14 9l13-2 -14-10 -13 3z"/><path class=av d="M2314 1301l12-2 -14-10 -13 2zm14 10l13-3 -15-9 -12 2z"/><path class=aB d="M1807 1101l13 6 -11 0 -14-6z"/><path class=a0 d="M1818 1101l14 6 -12 0 -13-6zm12 1l13 6 -11-1 -14-6zm12 1l13 6 -12-1 -13-6z"/><path class=bf d="M1854 1104l13 6 -12-1 -13-6zm11 2l14 5 -12-1 -13-6zm12 1l14 6 -12-2 -14-5z"/><path class=bx d="M1890 1109l13 5 -12-1 -14-6zm12 3l13 4 -12-2 -13-5zm12 2l13 5 -12-3 -13-4z"/><path class=bP d="M1926 1117l14 4 -13-2 -13-5zm13 3l13 4 -12-3 -14-4zm12 4l13 3 -12-3 -13-4zm13 3l13 4 -13-4 -13-3zm12 4l14 3 -13-3 -13-4zm13 4l13 3 -12-4 -14-3z"/><path class=bx d="M2002 1140l13 3 -13-5 -13-3zm13 4l13 3 -13-4 -13-3zm13 5l13 3 -13-5 -13-3z"/><path class=bf d="M2041 1155l13 2 -13-5 -13-3zm13 5l13 2 -13-5 -13-2z"/><path class=be d="M2067 1166l13 1 -13-5 -13-2z"/><path class=aZ d="M2080 1172l13 1 -13-6 -13-1zm13 6l13 1 -13-6 -13-1zm14 7l13 1 -14-7 -13-1z"/><path class=aA d="M2120 1191l13 1 -13-6 -13-1zm14 8l13 0 -14-7 -13-1zm13 7l13 0 -13-7 -13 0z"/><path class=az d="M2161 1214l13-1 -14-7 -13 0zm13 7l13 0 -13-8 -13 1zm14 9l13-1 -14-8 -13 0z"/><path class=ay d="M2202 1238l13-1 -14-8 -13 1zm14 9l13-2 -14-8 -13 1zm14 8l13-1 -14-9 -13 2z"/><path class=ax d="M2244 1265l13-2 -14-9 -13 1zm14 9l13-2 -14-9 -13 2z"/><path class=aw d="M2272 1284l13-2 -14-10 -13 2zm14 10l13-3 -14-9 -13 2z"/><path class=av d="M2301 1304l13-3 -15-10 -13 3zm14 10l13-3 -14-10 -13 3z"/><path class=a0 d="M1793 1094l14 7 -12 0 -13-7zm12 1l13 6 -11 0 -14-7zm12 1l13 6 -12-1 -13-6z"/><path class=a1 d="M1828 1097l14 6 -12-1 -13-6z"/><path class=bg d="M1840 1099l14 5 -12-1 -14-6zm12 1l13 6 -11-2 -14-5zm12 2l13 5 -12-1 -13-6z"/><path class=by d="M1876 1105l14 4 -13-2 -13-5zm12 2l14 5 -12-3 -14-4zm13 3l13 4 -12-2 -14-5z"/><path class=bQ d="M1913 1113l13 4 -12-3 -13-4zm12 3l14 4 -13-3 -13-4zm13 4l13 4 -12-4 -14-4zm12 4l14 3 -13-3 -13-4zm13 4l13 3 -12-4 -14-3zm13 4l13 3 -13-4 -13-3z"/><path class=by d="M1988 1137l14 3 -13-5 -13-3z"/><path class=bx d="M2001 1142l14 2 -13-4 -14-3zm13 5l14 2 -13-5 -14-2z"/><path class=bf d="M2027 1152l14 3 -13-6 -14-2zm13 6l14 2 -13-5 -14-3z"/><path class=a0 d="M2054 1164l13 2 -13-6 -14-2z"/><path class=aZ d="M2067 1170l13 2 -13-6 -13-2zm13 7l13 1 -13-6 -13-2z"/><path class=aB d="M2093 1184l14 1 -14-7 -13-1zm14 7l13 0 -13-6 -14-1z"/><path class=aA d="M2120 1198l14 1 -14-8 -13 0zm14 8l13 0 -13-7 -14-1zm14 8l13 0 -14-8 -13 0z"/><path class=az d="M2161 1222l13-1 -13-7 -13 0zm14 8l13 0 -14-9 -13 1zm14 9l13-1 -14-8 -13 0z"/><path class=ay d="M2203 1248l13-1 -14-9 -13 1zm14 9l13-2 -14-8 -13 1z"/><path class=ax d="M2231 1266l13-1 -14-10 -13 2zm14 10l13-2 -14-9 -13 1z"/><path class=aw d="M2259 1286l13-2 -14-10 -13 2zm14 10l13-2 -14-10 -13 2z"/><path class=av d="M2288 1307l13-3 -15-10 -13 2zm14 10l13-3 -14-10 -13 3z"/><path class=a1 d="M1780 1088l13 6 -11 0 -14-7zm11 1l14 6 -12-1 -13-6zm12 1l14 6 -12-1 -14-6z"/><path class=bg d="M1815 1091l13 6 -11-1 -14-6zm12 2l13 6 -12-2 -13-6z"/><path class=bh d="M1838 1095l14 5 -12-1 -13-6z"/><path class=bz d="M1850 1097l14 5 -12-2 -14-5zm13 3l13 5 -12-3 -14-5zm12 2l13 5 -12-2 -13-5z"/><path class=bR d="M1887 1105l14 5 -13-3 -13-5zm12 4l14 4 -12-3 -14-5zm13 3l13 4 -12-3 -14-4zm12 4l14 4 -13-4 -13-4z"/><path class=bQ d="M1937 1120l13 4 -12-4 -14-4zm13 5l13 3 -13-4 -13-4z"/><path class=by d="M1962 1129l14 3 -13-4 -13-3zm13 5l13 3 -12-5 -14-3zm13 5l13 3 -13-5 -13-3z"/><path class=bg d="M2001 1145l13 2 -13-5 -13-3zm13 5l13 2 -13-5 -13-2z"/><path class=bf d="M2027 1156l13 2 -13-6 -13-2z"/><path class=a0 d="M2040 1163l14 1 -14-6 -13-2zm13 6l14 1 -13-6 -14-1z"/><path class=aC d="M2067 1176l13 1 -13-7 -14-1z"/><path class=aB d="M2080 1183l13 1 -13-7 -13-1zm14 7l13 1 -14-7 -13-1zm13 8l13 0 -13-7 -13-1z"/><path class=aA d="M2121 1206l13 0 -14-8 -13 0zm13 8l14 0 -14-8 -13 0zm14 8l13 0 -13-8 -14 0z"/><path class=az d="M2162 1231l13-1 -14-8 -13 0zm14 9l13-1 -14-9 -13 1z"/><path class=ay d="M2190 1249l13-1 -14-9 -13 1zm14 10l13-2 -14-9 -13 1z"/><path class=ax d="M2218 1268l13-2 -14-9 -13 2zm14 10l13-2 -14-10 -13 2z"/><path class=aw d="M2246 1288l13-2 -14-10 -13 2zm14 11l13-3 -14-10 -13 2z"/><path class=av d="M2274 1310l14-3 -15-11 -13 3zm15 11l13-4 -14-10 -14 3z"/><path class=a2 d="M1766 1082l14 6 -12-1 -14-6zm11 1l14 6 -11-1 -14-6zm12 1l14 6 -12-1 -14-6z"/><path class=bh d="M1801 1086l14 5 -12-1 -14-6zm12 2l14 5 -12-2 -14-5zm12 2l13 5 -11-2 -14-5z"/><path class=bz d="M1837 1092l13 5 -12-2 -13-5zm12 3l14 5 -13-3 -13-5zm12 3l14 4 -12-2 -14-5z"/><path class=bR d="M1873 1101l14 4 -12-3 -14-4zm13 4l13 4 -12-4 -14-4zm12 3l14 4 -13-3 -13-4zm13 4l13 4 -12-4 -14-4zm12 5l14 3 -13-4 -13-4zm13 4l14 4 -13-5 -14-3z"/><path class=bz d="M1949 1126l13 3 -12-4 -14-4zm13 5l13 3 -13-5 -13-3z"/><path class=bg d="M1974 1137l14 2 -13-5 -13-3zm13 5l14 3 -13-6 -14-2zm13 6l14 2 -13-5 -14-3z"/><path class=a1 d="M2014 1155l13 1 -13-6 -14-2z"/><path class=a0 d="M2027 1161l13 2 -13-7 -13-1zm13 7l13 1 -13-6 -13-2z"/><path class=aC d="M2053 1175l14 1 -14-7 -13-1zm14 7l13 1 -13-7 -14-1z"/><path class=aB d="M2080 1190l14 0 -14-7 -13-1zm14 8l13 0 -13-8 -14 0zm13 8l14 0 -14-8 -13 0z"/><path class=aA d="M2121 1214l13 0 -13-8 -14 0zm14 9l13-1 -14-8 -13 0z"/><path class=az d="M2149 1232l13-1 -14-9 -13 1zm13 9l14-1 -14-9 -13 1z"/><path class=ay d="M2176 1250l14-1 -14-9 -14 1zm14 10l14-1 -14-10 -14 1zm14 10l14-2 -14-9 -14 1z"/><path class=ax d="M2219 1280l13-2 -14-10 -14 2z"/><path class=aw d="M2233 1291l13-3 -14-10 -13 2zm14 11l13-3 -14-11 -13 3z"/><path class=av d="M2261 1313l13-3 -14-11 -13 3zm15 11l13-3 -15-11 -13 3z"/><path class=a2 d="M1752 1075l14 7 -12-1 -14-7z"/><path class=a3 d="M1764 1076l13 7 -11-1 -14-7z"/><path class=bi d="M1775 1078l14 6 -12-1 -13-7zm12 2l14 6 -12-2 -14-6zm12 2l14 6 -12-2 -14-6z"/><path class=bA d="M1811 1084l14 6 -12-2 -14-6zm12 3l14 5 -12-2 -14-6zm12 3l14 5 -12-3 -14-5z"/><path class=bS d="M1847 1093l14 5 -12-3 -14-5zm13 4l13 4 -12-3 -14-5zm12 3l14 5 -13-4 -13-4zm13 4l13 4 -12-3 -14-5zm12 5l14 3 -13-4 -13-4z"/><path class=bR d="M1910 1113l13 4 -12-5 -14-3z"/><path class=bz d="M1922 1118l14 3 -13-4 -13-4zm13 5l14 3 -13-5 -14-3zm13 6l14 2 -13-5 -14-3z"/><path class=bh d="M1961 1134l13 3 -12-6 -14-2zm13 6l13 2 -13-5 -13-3z"/><path class=a1 d="M1987 1146l13 2 -13-6 -13-2zm13 7l14 2 -14-7 -13-2zm13 7l14 1 -13-6 -14-2z"/><path class=aD d="M2026 1167l14 1 -13-7 -14-1z"/><path class=aC d="M2040 1174l13 1 -13-7 -14-1zm13 8l14 0 -14-7 -13-1zm14 7l13 1 -13-8 -14 0z"/><path class=aB d="M2080 1198l14 0 -14-8 -13-1zm14 8l13 0 -13-8 -14 0z"/><path class=aA d="M2108 1215l13-1 -14-8 -13 0zm13 8l14 0 -14-9 -13 1zm14 10l14-1 -14-9 -14 0z"/><path class=az d="M2149 1242l13-1 -13-9 -14 1zm14 10l13-2 -14-9 -13 1z"/><path class=ay d="M2177 1262l13-2 -14-10 -13 2zm14 10l13-2 -14-10 -13 2z"/><path class=ax d="M2205 1283l14-3 -15-10 -13 2zm14 10l14-2 -14-11 -14 3z"/><path class=aw d="M2234 1304l13-2 -14-11 -14 2z"/><path class=av d="M2248 1316l13-3 -14-11 -13 2zm14 11l14-3 -15-11 -13 3z"/><path class=a3 d="M1738 1069l14 6 -12-1 -14-7zm12 1l14 6 -12-1 -14-6z"/><path class=bi d="M1761 1072l14 6 -11-2 -14-6zm12 2l14 6 -12-2 -14-6z"/><path class=bj d="M1785 1076l14 6 -12-2 -14-6z"/><path class=bB d="M1797 1079l14 5 -12-2 -14-6zm12 3l14 5 -12-3 -14-5z"/><path class=bT d="M1821 1085l14 5 -12-3 -14-5z"/><path class=bS d="M1834 1089l13 4 -12-3 -14-5zm12 3l14 5 -13-4 -13-4zm12 4l14 4 -12-3 -14-5zm13 4l14 4 -13-4 -14-4zm12 5l14 4 -12-5 -14-4z"/><path class=bA d="M1896 1110l14 3 -13-4 -14-4zm13 5l13 3 -12-5 -14-3zm12 5l14 3 -13-5 -13-3z"/><path class=bh d="M1934 1126l14 3 -13-6 -14-3zm13 6l14 2 -13-5 -14-3zm13 6l14 2 -13-6 -14-2z"/><path class=a2 d="M1973 1144l14 2 -13-6 -14-2z"/><path class=a1 d="M1986 1151l14 2 -13-7 -14-2z"/><path class=aD d="M2000 1158l13 2 -13-7 -14-2zm13 8l13 1 -13-7 -13-2zm13 7l14 1 -14-7 -13-1z"/><path class=aC d="M2040 1181l13 1 -13-8 -14-1zm13 8l14 0 -14-7 -13-1z"/><path class=aB d="M2067 1197l13 1 -13-9 -14 0zm13 9l14 0 -14-8 -13-1zm14 9l14 0 -14-9 -14 0z"/><path class=aA d="M2108 1224l13-1 -13-8 -14 0zm14 10l13-1 -14-10 -13 1z"/><path class=az d="M2136 1243l13-1 -14-9 -13 1zm14 10l13-1 -14-10 -13 1z"/><path class=ay d="M2164 1264l13-2 -14-10 -13 1zm14 10l13-2 -14-10 -13 2z"/><path class=ax d="M2192 1285l13-2 -14-11 -13 2zm14 11l13-3 -14-10 -13 2z"/><path class=aw d="M2220 1307l14-3 -15-11 -13 3zm15 12l13-3 -14-12 -14 3z"/><path class=av d="M2249 1331l13-4 -14-11 -13 3z"/><path class=a4 d="M1724 1062l14 7 -12-2 -14-6z"/><path class=bj d="M1736 1064l14 6 -12-1 -14-7zm11 2l14 6 -11-2 -14-6zm12 2l14 6 -12-2 -14-6z"/><path class=bB d="M1771 1071l14 5 -12-2 -14-6zm12 3l14 5 -12-3 -14-5zm12 3l14 5 -12-3 -14-5z"/><path class=bT d="M1807 1080l14 5 -12-3 -14-5zm13 4l14 5 -13-4 -14-5zm12 4l14 4 -12-3 -14-5zm12 4l14 4 -12-4 -14-4zm13 5l14 3 -13-4 -14-4zm12 4l14 4 -12-5 -14-3z"/><path class=bB d="M1882 1106l14 4 -13-5 -14-4z"/><path class=bA d="M1895 1112l14 3 -13-5 -14-4z"/><path class=bi d="M1908 1117l13 3 -12-5 -14-3zm12 6l14 3 -13-6 -13-3zm13 6l14 3 -13-6 -14-3z"/><path class=a2 d="M1946 1136l14 2 -13-6 -14-3zm13 7l14 1 -13-6 -14-2zm14 7l13 1 -13-7 -14-1z"/><path class=aE d="M1986 1157l14 1 -14-7 -13-1z"/><path class=aD d="M1999 1164l14 2 -13-8 -14-1zm14 8l13 1 -13-7 -14-2zm13 8l14 1 -14-8 -13-1z"/><path class=aC d="M2039 1189l14 0 -13-8 -14-1zm14 8l14 0 -14-8 -14 0z"/><path class=aB d="M2067 1206l13 0 -13-9 -14 0zm13 9l14 0 -14-9 -13 0z"/><path class=aA d="M2094 1225l14-1 -14-9 -14 0zm14 10l14-1 -14-10 -14 1z"/><path class=az d="M2122 1244l14-1 -14-9 -14 1zm14 11l14-2 -14-10 -14 1z"/><path class=ay d="M2150 1265l14-1 -14-11 -14 2zm14 11l14-2 -14-10 -14 1z"/><path class=ax d="M2178 1287l14-2 -14-11 -14 2zm15 11l13-2 -14-11 -14 2z"/><path class=aw d="M2207 1310l13-3 -14-11 -13 2zm14 12l14-3 -15-12 -13 3z"/><path class=av d="M2236 1334l13-3 -14-12 -14 3z"/><path class=a5 d="M1710 1056l14 6 -12-1 -14-7z"/><path class=bk d="M1721 1058l15 6 -12-2 -14-6zm12 2l14 6 -11-2 -15-6zm12 2l14 6 -12-2 -14-6z"/><path class=bC d="M1757 1065l14 6 -12-3 -14-6zm12 3l14 6 -12-3 -14-6z"/><path class=bU d="M1781 1072l14 5 -12-3 -14-6zm12 3l14 5 -12-3 -14-5zm13 4l14 5 -13-4 -14-5zm12 4l14 5 -12-4 -14-5z"/><path class=bT d="M1830 1088l14 4 -12-4 -14-5zm13 5l14 4 -13-5 -14-4z"/><path class=bB d="M1855 1098l14 3 -12-4 -14-4zm13 5l14 3 -13-5 -14-3zm13 6l14 3 -13-6 -14-3z"/><path class=bj d="M1894 1114l14 3 -13-5 -14-3z"/><path class=bi d="M1906 1121l14 2 -12-6 -14-3z"/><path class=a3 d="M1919 1127l14 2 -13-6 -14-2zm13 7l14 2 -13-7 -14-2zm14 7l13 2 -13-7 -14-2z"/><path class=aE d="M1959 1148l14 2 -14-7 -13-2zm13 7l14 2 -13-7 -14-2zm13 8l14 1 -13-7 -14-2z"/><path class=aD d="M1999 1171l14 1 -14-8 -14-1zm13 9l14 0 -13-8 -14-1z"/><path class=aC d="M2026 1188l13 1 -13-9 -14 0zm13 9l14 0 -14-8 -13-1zm14 9l14 0 -14-9 -14 0z"/><path class=aB d="M2067 1216l13-1 -13-9 -14 0zm14 9l13 0 -14-10 -13 1z"/><path class=aA d="M2094 1235l14 0 -14-10 -13 0zm14 11l14-2 -14-9 -14 0z"/><path class=az d="M2122 1256l14-1 -14-11 -14 2zm14 11l14-2 -14-10 -14 1z"/><path class=ay d="M2150 1278l14-2 -14-11 -14 2z"/><path class=ax d="M2165 1289l13-2 -14-11 -14 2zm14 12l14-3 -15-11 -13 2z"/><path class=aw d="M2193 1313l14-3 -14-12 -14 3zm15 12l13-3 -14-12 -14 3z"/><path class=av d="M2222 1337l14-3 -15-12 -13 3z"/><path class=bk d="M1695 1049l15 7 -12-2 -14-7z"/><path class=bl d="M1707 1051l14 7 -11-2 -15-7zm12 3l14 6 -12-2 -14-7z"/><path class=bD d="M1731 1057l14 5 -12-2 -14-6zm12 3l14 5 -12-3 -14-5zm12 3l14 5 -12-3 -14-5z"/><path class=bU d="M1767 1067l14 5 -12-4 -14-5zm12 3l14 5 -12-3 -14-5zm12 5l15 4 -13-4 -14-5zm13 4l14 4 -12-4 -15-4zm12 5l14 4 -12-5 -14-4zm13 5l14 4 -13-5 -14-4z"/><path class=bC d="M1841 1094l14 4 -12-5 -14-4zm13 5l14 4 -13-5 -14-4z"/><path class=bj d="M1867 1105l14 4 -13-6 -14-4zm13 6l14 3 -13-5 -14-4zm12 7l14 3 -12-7 -14-3z"/><path class=a4 d="M1905 1125l14 2 -13-6 -14-3z"/><path class=a3 d="M1918 1131l14 3 -13-7 -14-2z"/><path class=aF d="M1932 1139l14 2 -14-7 -14-3zm13 7l14 2 -13-7 -14-2z"/><path class=aE d="M1958 1154l14 1 -13-7 -14-2zm13 8l14 1 -13-8 -14-1zm14 8l14 1 -14-8 -14-1z"/><path class=aD d="M1998 1179l14 1 -13-9 -14-1zm14 9l14 0 -14-8 -14-1z"/><path class=aC d="M2025 1197l14 0 -13-9 -14 0zm14 10l14-1 -14-9 -14 0z"/><path class=aB d="M2053 1216l14 0 -14-10 -14 1zm14 10l14-1 -14-9 -14 0z"/><path class=aA d="M2081 1237l13-2 -13-10 -14 1zm14 10l13-1 -14-11 -13 2z"/><path class=az d="M2109 1258l13-2 -14-10 -13 1zm14 11l13-2 -14-11 -13 2z"/><path class=ay d="M2137 1280l13-2 -14-11 -13 2zm14 12l14-3 -15-11 -13 2z"/><path class=ax d="M2165 1304l14-3 -14-12 -14 3z"/><path class=aw d="M2180 1316l13-3 -14-12 -14 3zm14 12l14-3 -15-12 -13 3z"/><path class=av d="M2208 1341l14-4 -14-12 -14 3z"/><path class=bl d="M1681 1043l14 6 -11-2 -15-7zm12 2l14 6 -12-2 -14-6zm11 3l15 6 -12-3 -14-6z"/><path class=bD d="M1716 1051l15 6 -12-3 -15-6zm12 3l15 6 -12-3 -15-6z"/><path class=bV d="M1740 1058l15 5 -12-3 -15-6zm13 3l14 6 -12-4 -15-5zm12 4l14 5 -12-3 -14-6zm12 5l14 5 -12-5 -14-5zm12 5l15 4 -13-4 -14-5zm13 4l14 5 -12-5 -15-4z"/><path class=bC d="M1814 1085l15 4 -13-5 -14-5zm13 5l14 4 -12-5 -15-4zm13 6l14 3 -13-5 -14-4z"/><path class=bk d="M1852 1102l15 3 -13-6 -14-3zm13 7l15 2 -13-6 -15-3z"/><path class=a4 d="M1878 1115l14 3 -12-7 -15-2zm13 7l14 3 -13-7 -14-3zm13 7l14 2 -13-6 -14-3z"/><path class=aF d="M1917 1137l15 2 -14-8 -14-2zm14 8l14 1 -13-7 -15-2zm13 8l14 1 -13-8 -14-1z"/><path class=aE d="M1957 1161l14 1 -13-8 -14-1zm14 9l14 0 -14-8 -14-1z"/><path class=aD d="M1984 1178l14 1 -13-9 -14 0zm14 10l14 0 -14-9 -14-1zm13 9l14 0 -13-9 -14 0z"/><path class=aC d="M2025 1207l14 0 -14-10 -14 0zm14 10l14-1 -14-9 -14 0z"/><path class=aB d="M2053 1227l14-1 -14-10 -14 1zm14 11l14-1 -14-11 -14 1z"/><path class=aA d="M2081 1248l14-1 -14-10 -14 1z"/><path class=az d="M2095 1259l14-1 -14-11 -14 1zm14 12l14-2 -14-11 -14 1z"/><path class=ay d="M2123 1282l14-2 -14-11 -14 2zm14 12l14-2 -14-12 -14 2z"/><path class=ax d="M2151 1306l14-2 -14-12 -14 2z"/><path class=aw d="M2166 1319l14-3 -15-12 -14 2zm14 13l14-4 -14-12 -14 3z"/><path class=av d="M2195 1344l13-3 -14-13 -14 4z"/><path class=bm d="M1666 1036l15 7 -12-3 -14-6zm12 3l15 6 -12-2 -15-7z"/><path class=bW d="M1690 1042l14 6 -11-3 -15-6zm12 3l14 6 -12-3 -14-6zm12 3l14 6 -12-3 -14-6z"/><path class=bE d="M1726 1052l14 6 -12-4 -14-6zm12 4l15 5 -13-3 -14-6zm12 5l15 4 -12-4 -15-5z"/><path class=bV d="M1763 1065l14 5 -12-5 -15-4zm12 5l14 5 -12-5 -14-5z"/><path class=bD d="M1787 1075l15 4 -13-4 -14-5zm13 6l14 4 -12-6 -15-4zm13 6l14 3 -13-5 -14-4z"/><path class=bl d="M1825 1093l15 3 -13-6 -14-3z"/><path class=bk d="M1838 1099l14 3 -12-6 -15-3zm13 7l14 3 -13-7 -14-3z"/><path class=a5 d="M1864 1112l14 3 -13-6 -14-3z"/><path class=a4 d="M1877 1120l14 2 -13-7 -14-3z"/><path class=aG d="M1890 1127l14 2 -13-7 -14-2zm13 8l14 2 -13-8 -14-2z"/><path class=aF d="M1917 1143l14 2 -14-8 -14-2zm13 8l14 2 -13-8 -14-2zm13 9l14 1 -13-8 -14-2z"/><path class=aE d="M1957 1169l14 1 -14-9 -14-1zm13 9l14 0 -13-8 -14-1z"/><path class=aD d="M1984 1187l14 1 -14-10 -14 0zm13 10l14 0 -13-9 -14-1z"/><path class=aC d="M2011 1207l14 0 -14-10 -14 0zm14 10l14 0 -14-10 -14 0z"/><path class=aB d="M2039 1228l14-1 -14-10 -14 0zm14 11l14-1 -14-11 -14 1z"/><path class=aA d="M2067 1250l14-2 -14-10 -14 1zm14 11l14-2 -14-11 -14 2z"/><path class=az d="M2095 1273l14-2 -14-12 -14 2z"/><path class=ay d="M2109 1285l14-3 -14-11 -14 2zm14 12l14-3 -14-12 -14 3z"/><path class=ax d="M2138 1309l13-3 -14-12 -14 3z"/><path class=aw d="M2152 1322l14-3 -15-13 -13 3zm14 13l14-3 -14-13 -14 3z"/><path class=av d="M2181 1348l14-4 -15-12 -14 3z"/><path class=c9 d="M1652 1029l14 7 -11-2 -15-7zm11 3l15 7 -12-3 -14-7z"/><path class=bX d="M1675 1035l15 7 -12-3 -15-7zm12 4l15 6 -12-3 -15-7z"/><path class=da d="M1699 1043l15 5 -12-3 -15-6z"/><path class=bE d="M1711 1047l15 5 -12-4 -15-5zm12 4l15 5 -12-4 -15-5zm13 5l14 5 -12-5 -15-5zm12 4l15 5 -13-4 -14-5zm13 6l14 4 -12-5 -15-5z"/><path class=bW d="M1773 1071l14 4 -12-5 -14-4zm13 6l14 4 -13-6 -14-4z"/><path class=bl d="M1798 1083l15 4 -13-6 -14-4zm13 6l14 4 -12-6 -15-4zm13 7l14 3 -13-6 -14-4z"/><path class=a5 d="M1837 1103l14 3 -13-7 -14-3zm13 7l14 2 -13-6 -14-3z"/><path class=aH d="M1863 1117l14 3 -13-8 -14-2z"/><path class=aG d="M1876 1125l14 2 -13-7 -14-3zm13 8l14 2 -13-8 -14-2zm13 8l15 2 -14-8 -14-2z"/><path class=aF d="M1916 1150l14 1 -13-8 -15-2zm13 9l14 1 -13-9 -14-1z"/><path class=aE d="M1942 1168l15 1 -14-9 -14-1zm14 9l14 1 -13-9 -15-1zm14 10l14 0 -14-9 -14-1z"/><path class=aD d="M1983 1197l14 0 -13-10 -14 0zm14 10l14 0 -14-10 -14 0z"/><path class=aC d="M2011 1218l14-1 -14-10 -14 0z"/><path class=aB d="M2025 1229l14-1 -14-11 -14 1zm14 11l14-1 -14-11 -14 1z"/><path class=aA d="M2053 1251l14-1 -14-11 -14 1zm14 12l14-2 -14-11 -14 1z"/><path class=az d="M2081 1275l14-2 -14-12 -14 2zm14 12l14-2 -14-12 -14 2z"/><path class=ay d="M2109 1299l14-2 -14-12 -14 2z"/><path class=ax d="M2124 1312l14-3 -15-12 -14 2zm14 13l14-3 -14-13 -14 3z"/><path class=aw d="M2152 1338l14-3 -14-13 -14 3z"/><path class=av d="M2167 1352l14-4 -15-13 -14 3z"/><path class=c9 d="M1637 1023l15 6 -12-2 -15-7z"/><path class=bX d="M1649 1026l14 6 -11-3 -15-6zm12 3l14 6 -12-3 -14-6zm11 4l15 6 -12-4 -14-6z"/><path class=da d="M1684 1037l15 6 -12-4 -15-6zm13 4l14 6 -12-4 -15-6zm12 5l14 5 -12-4 -14-6zm12 5l15 5 -13-5 -14-5zm12 5l15 4 -12-4 -15-5z"/><path class=bW d="M1746 1061l15 5 -13-6 -15-4zm12 6l15 4 -12-5 -15-5zm13 6l15 4 -13-6 -15-4z"/><path class=bm d="M1784 1079l14 4 -12-6 -15-4zm12 7l15 3 -13-6 -14-4z"/><path class=a6 d="M1809 1093l15 3 -13-7 -15-3zm13 7l15 3 -13-7 -15-3zm13 7l15 3 -13-7 -15-3z"/><path class=aH d="M1848 1115l15 2 -13-7 -15-3zm13 8l15 2 -13-8 -15-2zm14 8l14 2 -13-8 -15-2z"/><path class=aG d="M1888 1140l14 1 -13-8 -14-2zm13 9l15 1 -14-9 -14-1z"/><path class=aF d="M1915 1158l14 1 -13-9 -15-1zm13 9l14 1 -13-9 -14-1z"/><path class=aE d="M1942 1177l14 0 -14-9 -14-1zm13 10l15 0 -14-10 -14 0z"/><path class=aD d="M1969 1197l14 0 -13-10 -15 0zm14 11l14-1 -14-10 -14 0z"/><path class=aC d="M1997 1218l14 0 -14-11 -14 1zm13 12l15-1 -14-11 -14 0z"/><path class=aB d="M2024 1241l15-1 -14-11 -15 1zm14 12l15-2 -14-11 -15 1z"/><path class=aA d="M2053 1264l14-1 -14-12 -15 2z"/><path class=az d="M2067 1277l14-2 -14-12 -14 1zm14 12l14-2 -14-12 -14 2z"/><path class=ay d="M2095 1302l14-3 -14-12 -14 2z"/><path class=ax d="M2110 1315l14-3 -15-13 -14 3zm14 13l14-3 -14-13 -14 3z"/><path class=aw d="M2138 1342l14-4 -14-13 -14 3z"/><path class=av d="M2153 1355l14-3 -15-14 -14 4z"/><path class=db d="M1622 1016l15 7 -12-3 -15-7z"/><path class=dc d="M1634 1019l15 7 -12-3 -15-7zm12 4l15 6 -12-3 -15-7z"/><path class=dd d="M1658 1027l14 6 -11-4 -15-6zm12 4l14 6 -12-4 -14-6zm12 5l15 5 -13-4 -14-6zm12 4l15 6 -12-5 -15-5z"/><path class=da d="M1706 1046l15 5 -12-5 -15-6zm13 5l14 5 -12-5 -15-5z"/><path class=bX d="M1731 1057l15 4 -13-5 -14-5zm13 6l14 4 -12-6 -15-4z"/><path class=c9 d="M1756 1069l15 4 -13-6 -14-4z"/><path class=bm d="M1769 1075l15 4 -13-6 -15-4zm13 7l14 4 -12-7 -15-4z"/><path class=bY d="M1795 1089l14 4 -13-7 -14-4z"/><path class=a6 d="M1808 1097l14 3 -13-7 -14-4z"/><path class=aP d="M1821 1104l14 3 -13-7 -14-3zm13 8l14 3 -13-8 -14-3z"/><path class=aH d="M1847 1121l14 2 -13-8 -14-3zm13 8l15 2 -14-8 -14-2z"/><path class=aG d="M1873 1138l15 2 -13-9 -15-2zm14 9l14 2 -13-9 -15-2zm13 10l15 1 -14-9 -14-2z"/><path class=aF d="M1914 1166l14 1 -13-9 -15-1zm13 10l15 1 -14-10 -14-1z"/><path class=aE d="M1941 1187l14 0 -13-10 -15-1zm14 10l14 0 -14-10 -14 0z"/><path class=aD d="M1968 1208l15 0 -14-11 -14 0z"/><path class=aC d="M1982 1219l15-1 -14-10 -15 0zm14 11l14 0 -13-12 -15 1z"/><path class=aB d="M2010 1242l14-1 -14-11 -14 0zm14 12l14-1 -14-12 -14 1z"/><path class=aA d="M2038 1266l15-2 -15-11 -14 1z"/><path class=az d="M2052 1279l15-2 -14-13 -15 2zm15 12l14-2 -14-12 -15 2z"/><path class=ay d="M2081 1304l14-2 -14-13 -14 2z"/><path class=ax d="M2095 1318l15-3 -15-13 -14 2zm15 13l14-3 -14-13 -15 3z"/><path class=aw d="M2124 1345l14-3 -14-14 -14 3z"/><path class=av d="M2139 1359l14-4 -15-13 -14 3z"/><path class=de d="M1607 1009l15 7 -12-3 -15-7zm12 4l15 6 -12-3 -15-7zm12 4l15 6 -12-4 -15-6z"/><path class=df d="M1643 1021l15 6 -12-4 -15-6zm12 4l15 6 -12-4 -15-6z"/><path class=dd d="M1667 1030l15 6 -12-5 -15-6zm12 5l15 5 -12-4 -15-6zm12 5l15 6 -12-6 -15-5z"/><path class=dc d="M1704 1046l15 5 -13-5 -15-6zm12 6l15 5 -12-6 -15-5z"/><path class=bX d="M1729 1058l15 5 -13-6 -15-5z"/><path class=c9 d="M1741 1065l15 4 -12-6 -15-5zm13 7l15 3 -13-6 -15-4z"/><path class=dg d="M1767 1079l15 3 -13-7 -15-3z"/><path class=bY d="M1780 1086l15 3 -13-7 -15-3zm13 8l15 3 -13-8 -15-3z"/><path class=aP d="M1806 1102l15 2 -13-7 -15-3zm13 8l15 2 -13-8 -15-2zm13 8l15 3 -13-9 -15-2z"/><path class=aH d="M1845 1127l15 2 -13-8 -15-3zm14 9l14 2 -13-9 -15-2z"/><path class=aG d="M1872 1146l15 1 -14-9 -14-2zm14 10l14 1 -13-10 -15-1z"/><path class=aF d="M1899 1165l15 1 -14-9 -14-1zm14 11l14 0 -13-10 -15-1z"/><path class=aE d="M1926 1186l15 1 -14-11 -14 0zm14 11l15 0 -14-10 -15-1z"/><path class=aD d="M1954 1208l14 0 -13-11 -15 0zm14 12l14-1 -14-11 -14 0z"/><path class=aC d="M1982 1231l14-1 -14-11 -14 1z"/><path class=aB d="M1996 1243l14-1 -14-12 -14 1zm14 12l14-1 -14-12 -14 1z"/><path class=aA d="M2024 1268l14-2 -14-12 -14 1zm14 13l14-2 -14-13 -14 2z"/><path class=az d="M2052 1294l15-3 -15-12 -14 2z"/><path class=ay d="M2067 1307l14-3 -14-13 -15 3z"/><path class=ax d="M2081 1321l14-3 -14-14 -14 3zm15 13l14-3 -15-13 -14 3z"/><path class=aw d="M2110 1349l14-4 -14-14 -14 3z"/><path class=av d="M2125 1363l14-4 -15-14 -14 4z"/><path class=dh d="M1592 1002l15 7 -12-3 -15-7zm12 4l15 7 -12-4 -15-7z"/><path class=di d="M1615 1010l16 7 -12-4 -15-7z"/><path class=df d="M1627 1015l16 6 -12-4 -16-7zm13 4l15 6 -12-4 -16-6zm12 5l15 6 -12-5 -15-6zm12 6l15 5 -12-5 -15-6zm12 5l15 5 -12-5 -15-5z"/><path class=dc d="M1689 1041l15 5 -13-6 -15-5zm12 6l15 5 -12-6 -15-5z"/><path class=db d="M1714 1054l15 4 -13-6 -15-5zm12 7l15 4 -12-7 -15-4z"/><path class=c9 d="M1739 1068l15 4 -13-7 -15-4z"/><path class=dg d="M1752 1075l15 4 -13-7 -15-4zm13 8l15 3 -13-7 -15-4z"/><path class=bZ d="M1778 1091l15 3 -13-8 -15-3zm13 8l15 3 -13-8 -15-3zm13 8l15 3 -13-8 -15-3z"/><path class=aP d="M1817 1116l15 2 -13-8 -15-3zm14 9l14 2 -13-9 -15-2z"/><path class=aH d="M1844 1135l15 1 -14-9 -14-2zm13 9l15 2 -13-10 -15-1z"/><path class=aG d="M1871 1154l15 2 -14-10 -15-2zm13 11l15 0 -13-9 -15-2z"/><path class=aF d="M1898 1175l15 1 -14-11 -15 0zm14 11l14 0 -13-10 -15-1z"/><path class=aE d="M1925 1197l15 0 -14-11 -14 0zm14 12l15-1 -14-11 -15 0z"/><path class=aD d="M1953 1220l15 0 -14-12 -15 1z"/><path class=aC d="M1967 1232l15-1 -14-11 -15 0zm14 12l15-1 -14-12 -15 1z"/><path class=aB d="M1995 1257l15-2 -14-12 -15 1z"/><path class=aA d="M2009 1270l15-2 -14-13 -15 2zm15 13l14-2 -14-13 -15 2z"/><path class=az d="M2038 1296l14-2 -14-13 -14 2z"/><path class=ay d="M2052 1310l15-3 -15-13 -14 2zm15 14l14-3 -14-14 -15 3z"/><path class=ax d="M2081 1338l15-4 -15-13 -14 3z"/><path class=aw d="M2096 1352l14-3 -14-15 -15 4z"/><path class=av d="M2110 1367l15-4 -15-14 -14 3z"/><path class=dh d="M1576 995l16 7 -12-3 -15-7zm12 4l16 7 -12-4 -16-7z"/><path class=di d="M1600 1004l15 6 -11-4 -16-7zm12 5l15 6 -12-5 -15-6zm12 5l16 5 -13-4 -15-6zm12 5l16 5 -12-5 -16-5zm13 5l15 6 -12-6 -16-5z"/><path class=de d="M1661 1030l15 5 -12-5 -15-6zm13 6l15 5 -13-6 -15-5z"/><path class=dj d="M1686 1043l15 4 -12-6 -15-5zm13 7l15 4 -13-7 -15-4z"/><path class=db d="M1711 1057l15 4 -12-7 -15-4z"/><path class=dk d="M1724 1064l15 4 -13-7 -15-4zm13 8l15 3 -13-7 -15-4z"/><path class=dl d="M1750 1079l15 4 -13-8 -15-3zm13 9l15 3 -13-8 -15-4z"/><path class=bZ d="M1776 1096l15 3 -13-8 -15-3zm13 9l15 2 -13-8 -15-3zm13 9l15 2 -13-9 -15-2z"/><path class=aP d="M1816 1123l15 2 -14-9 -15-2zm13 10l15 2 -13-10 -15-2z"/><path class=aH d="M1842 1143l15 1 -13-9 -15-2zm14 10l15 1 -14-10 -15-1z"/><path class=aG d="M1870 1164l14 1 -13-11 -15-1zm13 11l15 0 -14-10 -14-1z"/><path class=aF d="M1897 1186l15 0 -14-11 -15 0z"/><path class=aE d="M1911 1197l14 0 -13-11 -15 0zm14 12l14 0 -14-12 -14 0z"/><path class=aD d="M1939 1221l14-1 -14-11 -14 0zm14 12l14-1 -14-12 -14 1z"/><path class=aC d="M1967 1246l14-2 -14-12 -14 1z"/><path class=aB d="M1981 1258l14-1 -14-13 -14 2z"/><path class=aA d="M1995 1271l14-1 -14-13 -14 1zm14 14l15-2 -15-13 -14 1z"/><path class=az d="M2023 1298l15-2 -14-13 -15 2z"/><path class=ay d="M2038 1312l14-2 -14-14 -15 2zm14 14l15-2 -15-14 -14 2z"/><path class=ax d="M2067 1341l14-3 -14-14 -15 2z"/><path class=aw d="M2081 1356l15-4 -15-14 -14 3z"/><path class=av d="M2096 1371l14-4 -14-15 -15 4z"/><path class=dm d="M1561 988l15 7 -11-3 -16-8z"/><path class=dn d="M1573 993l15 6 -12-4 -15-7zm12 4l15 7 -12-5 -15-6zm12 5l15 7 -12-5 -15-7zm12 6l15 6 -12-5 -15-7z"/><path class=di d="M1621 1013l15 6 -12-5 -15-6z"/><path class=dh d="M1633 1019l16 5 -13-5 -15-6zm13 6l15 5 -12-6 -16-5zm12 6l16 5 -13-6 -15-5z"/><path class=dj d="M1671 1038l15 5 -12-7 -16-5zm12 7l16 5 -13-7 -15-5z"/><path class=do d="M1696 1052l15 5 -12-7 -16-5z"/><path class=dk d="M1709 1060l15 4 -13-7 -15-5zm13 8l15 4 -13-8 -15-4z"/><path class=dp d="M1735 1076l15 3 -13-7 -15-4z"/><path class=dl d="M1748 1085l15 3 -13-9 -15-3zm13 8l15 3 -13-8 -15-3z"/><path class=bZ d="M1774 1102l15 3 -13-9 -15-3zm13 10l15 2 -13-9 -15-3z"/><path class=aP d="M1801 1121l15 2 -14-9 -15-2zm13 10l15 2 -13-10 -15-2z"/><path class=aH d="M1828 1142l14 1 -13-10 -15-2zm13 10l15 1 -14-10 -14-1z"/><path class=aG d="M1855 1163l15 1 -14-11 -15-1zm13 11l15 1 -13-11 -15-1z"/><path class=aF d="M1882 1186l15 0 -14-11 -15-1zm14 11l15 0 -14-11 -15 0z"/><path class=aE d="M1910 1209l15 0 -14-12 -15 0z"/><path class=aD d="M1924 1221l15 0 -14-12 -15 0zm14 13l15-1 -14-12 -15 0z"/><path class=aC d="M1952 1247l15-1 -14-13 -15 1z"/><path class=aB d="M1966 1260l15-2 -14-12 -15 1zm14 13l15-2 -14-13 -15 2z"/><path class=aA d="M1994 1287l15-2 -14-14 -15 2z"/><path class=az d="M2009 1301l14-3 -14-13 -15 2z"/><path class=ay d="M2023 1315l15-3 -15-14 -14 3zm15 14l14-3 -14-14 -15 3z"/><path class=ax d="M2052 1344l15-3 -15-15 -14 3z"/><path class=aw d="M2067 1359l14-3 -14-15 -15 3z"/><path class=av d="M2081 1374l15-3 -15-15 -14 3z"/><path class=dq d="M1545 981l16 7 -12-4 -16-7z"/><path class=dr d="M1557 986l16 7 -12-5 -16-7zm12 5l16 6 -12-4 -16-7z"/><path class=dn d="M1581 996l16 6 -12-5 -16-6zm12 6l16 6 -12-6 -16-6zm13 5l15 6 -12-5 -16-6z"/><path class=dm d="M1618 1013l15 6 -12-6 -15-6zm12 7l16 5 -13-6 -15-6z"/><path class=ds d="M1643 1026l15 5 -12-6 -16-5zm12 7l16 5 -13-7 -15-5zm13 8l15 4 -12-7 -16-5z"/><path class=do d="M1681 1048l15 4 -13-7 -15-4zm13 8l15 4 -13-8 -15-4z"/><path class=dt d="M1707 1064l15 4 -13-8 -15-4z"/><path class=dp d="M1720 1073l15 3 -13-8 -15-4zm13 9l15 3 -13-9 -15-3z"/><path class=dl d="M1746 1091l15 2 -13-8 -15-3zm13 9l15 2 -13-9 -15-2z"/><path class=bZ d="M1772 1110l15 2 -13-10 -15-2zm14 10l15 1 -14-9 -15-2z"/><path class=aP d="M1799 1130l15 1 -13-10 -15-1zm13 10l16 2 -14-11 -15-1z"/><path class=aH d="M1826 1151l15 1 -13-10 -16-2zm14 11l15 1 -14-11 -15-1z"/><path class=aG d="M1853 1174l15 0 -13-11 -15-1z"/><path class=aF d="M1867 1185l15 1 -14-12 -15 0zm14 12l15 0 -14-11 -15-1z"/><path class=aE d="M1895 1210l15-1 -14-12 -15 0zm14 12l15-1 -14-12 -15 1z"/><path class=aD d="M1923 1235l15-1 -14-13 -15 1z"/><path class=aC d="M1937 1248l15-1 -14-13 -15 1zm14 13l15-1 -14-13 -15 1z"/><path class=aB d="M1965 1275l15-2 -14-13 -15 1z"/><path class=aA d="M1980 1289l14-2 -14-14 -15 2z"/><path class=az d="M1994 1303l15-2 -15-14 -14 2zm14 15l15-3 -14-14 -15 2z"/><path class=ay d="M2023 1332l15-3 -15-14 -15 3z"/><path class=ax d="M2037 1347l15-3 -14-15 -15 3z"/><path class=aw d="M2052 1363l15-4 -15-15 -15 3z"/><path class=av d="M2067 1378l14-4 -14-15 -15 4z"/></g>
<path d="M386 245.2 387 245.5 388 245.9 389 246.3 390 246.7 391 247.1 392 247.5 393 247.9 394 248.3 395 248.7 396 249.1 397 249.5 398 249.9 399 250.3 400 250.7 401 251.2 402 251.5 403 251.9 404 252.3 405 252.7 406 253.2 407 253.6 408 254 409 254.4 410 254.7 411 255.1 412 255.5 413 255.9 414 256.3 415 256.7 416 257 417 257.4 418 257.8 419 258.2 420 258.6 421 258.9 422 259.3 423 259.7 424 260.1 425 260.4 426 260.8 427 261.2 428 261.5 429 261.9 430 262.3 431 262.6 432 263 433 263.3 434 263.7 435 264 436 264.4 437 264.8 438 265.1 439 265.5 440 265.8 441 266.2 442 266.5 443 266.8 444 267.2 445 267.5 446 267.9 447 268.2 448 268.5 449 268.8 450 269.2 451 269.5 452 269.9 453 270.2 454 270.5 455 270.9 456 271.2 457 271.5 458 271.8 459 272.1 460 272.5 461 272.8 462 273.1 463 273.4 464 273.7 465 274.1 466 274.4 467 274.6 468 274.9 469 275.3 470 275.6 471 275.9 472 276.2 473 276.5 474 276.8 475 277.1 476 277.4 477 277.7 478 278 479 278.2 480 278.5 481 278.9 482 279.2 483 279.5 484 279.7 485 280 486 280.3 487 280.6 488 280.9 489 281.2 490 281.4 491 281.7 492 281.9 493 282.2 494 282.5 495 282.8 496 283.1 497 283.3 498 283.6 499 283.9 500 284.1 501 284.4 502 284.7 503 285 504 285.3 505 285.4 506 285.7 507 286 508 286.2 509 286.5 510 286.8 511 287 512 287.3 513 287.6 514 287.7 515 288 516 288.2 517 288.5 518 288.8 519 289 520 289.3 521 289.5 522 289.8 523 289.9 524 290.2 525 290.4 526 290.7 527 290.9 528 291.2 529 291.4 530 291.6 531 291.9 532 292.1 533 292.3 534 292.5 535 292.7 536 293 537 293.2 538 293.4 539 293.7 540 293.9 541 294.1 542 294.4 543 294.5 544 294.7 545 294.9 546 295.1 547 295.4 548 295.6 549 295.8 550 296 551 296.2 552 296.5 553 296.7 554 296.9 555 297.1 556 297.3 557 297.5 558 297.7 559 297.9 560 298.1 561 298.3 562 298.5 563 298.7 564 298.9 565 299.1 566 299.3 567 299.5 568 299.7 569 299.9 570 300.1 571 300.3 572 300.5 573 300.7 574 300.9 575 301 576 301.2 577 301.4 578 301.6 579 301.8 580 302 581 302.1 582 302.3 583 302.5 584 302.7 585 302.9 586 303 587 303.2 588 303.4 589 303.6 590 303.7 591 303.9 592 304.1 593 304.3 594 304.5 595 304.6 596 304.8 597 305 598 305.1 599 305.3 600 305.5 601 305.7 602 305.8 603 306 604 306.2 605 306.4 606 306.5 607 306.7 608 307 609 307.2 610 307.3 611 307.5 612 307.8 613 308 614 308.2 615 308.4 616 308.7 617 308.9 618 309.2 619 309.3 620 309.6 621 309.9 622 310.2 623 310.4 624 310.7 625 311 626 311.1 627 311.5 628 311.8 629 312.1 630 312.3 631 312.7 632 313 633 313.4 634 313.5 635 313.9 636 314.3 637 314.5 638 314.9 639 315.3 640 315.7 641 315.9 642 316.3 643 316.7 644 316.9 645 317.3 645 317.3 644 317.1 643 317 642 316.8 641 316.6 640 316.5 639 316.3 638 316.1 637 315.9 636 315.9 635 315.7 634 315.5 633 315.5 632 315.3 631 315.1 630 314.9 629 314.9 628 314.8 627 314.6 626 314.5 625 314.5 624 314.3 623 314.2 622 314.2 621 314.1 620 314 619 313.9 618 313.9 617 313.8 616 313.7 615 313.6 614 313.6 613 313.6 612 313.5 611 313.5 610 313.4 609 313.5 608 313.4 607 313.4 606 313.3 605 313.4 604 313.2 603 313 602 312.8 601 312.7 600 312.5 599 312.3 598 312.1 597 312 596 311.8 595 311.6 594 311.5 593 311.3 592 311.1 591 310.9 590 310.7 589 310.6 588 310.4 587 310.2 586 310 585 309.9 584 309.7 583 309.5 582 309.3 581 309.1 580 309 579 308.8 578 308.6 577 308.4 576 308.2 575 308 574 307.9 573 307.7 572 307.5 571 307.3 570 307.1 569 306.9 568 306.7 567 306.5 566 306.3 565 306.1 564 305.9 563 305.7 562 305.5 561 305.3 560 305.1 559 304.9 558 304.7 557 304.5 556 304.3 555 304.1 554 303.9 553 303.7 552 303.5 551 303.2 550 303 549 302.8 548 302.6 547 302.4 546 302.1 545 301.9 544 301.7 543 301.5 542 301.4 541 301.1 540 300.9 539 300.7 538 300.4 537 300.2 536 300 535 299.7 534 299.5 533 299.3 532 299.1 531 298.9 530 298.6 529 298.4 528 298.2 527 297.9 526 297.7 525 297.4 524 297.2 523 296.9 522 296.8 521 296.5 520 296.3 519 296 518 295.8 517 295.5 516 295.2 515 295 514 294.7 513 294.6 512 294.3 511 294 510 293.8 509 293.5 508 293.2 507 293 506 292.7 505 292.4 504 292.3 503 292 502 291.7 501 291.4 500 291.1 499 290.9 498 290.6 497 290.3 496 290.1 495 289.8 494 289.5 493 289.2 492 288.9 491 288.7 490 288.4 489 288.2 488 287.9 487 287.6 486 287.3 485 287 484 286.7 483 286.5 482 286.2 481 285.9 480 285.5 479 285.2 478 285 477 284.7 476 284.4 475 284.1 474 283.8 473 283.5 472 283.2 471 282.9 470 282.6 469 282.3 468 281.9 467 281.6 466 281.4 465 281.1 464 280.7 463 280.4 462 280.1 461 279.8 460 279.5 459 279.1 458 278.8 457 278.5 456 278.2 455 277.9 454 277.5 453 277.2 452 276.9 451 276.5 450 276.2 449 275.8 448 275.5 447 275.2 446 274.9 445 274.4 444 274 443 273.5 442 273 441 272.6 440 272.1 439 271.6 438 271.2 437 270.7 436 270.2 435 269.8 434 269.3 433 268.8 432 268.4 431 267.9 430 267.4 429 266.9 428 266.4 427 265.9 426 265.5 425 265 424 264.5 423 264 422 263.5 421 263 420 262.5 419 262 418 261.5 417 261 416 260.5 415 260.1 414 259.5 413 259 412 258.5 411 258 410 257.5 409 257 408 256.5 407 256 406 255.5 405 255 404 254.4 403 253.9 402 253.4 401 252.9 400 252.4 399 251.8 398 251.3 397 250.8 396 250.2 395 249.7 394 249.2 393 248.7 392 248.2 391 247.6 390 247.1 389 246.7 388 246.1 387 245.7 386 245.2Z" fill="#140804" fill-opacity="0.3"/><path d="M386 245.2 387 245.5 388 245.9 389 246.3 390 246.7 391 247.1 392 247.5 393 247.9 394 248.3 395 248.7 396 249.1 397 249.5 398 249.9 399 250.3 400 250.7 401 251.2 402 251.5 403 251.9 404 252.3 405 252.7 406 253.2 407 253.6 408 254 409 254.4 410 254.7 411 255.1 412 255.5 413 255.9 414 256.3 415 256.7 416 257 417 257.4 418 257.8 419 258.2 420 258.6 421 258.9 422 259.3 423 259.7 424 260.1 425 260.4 426 260.8 427 261.2 428 261.5 429 261.9 430 262.3 431 262.6 432 263 433 263.3 434 263.7 435 264 436 264.4 437 264.8 438 265.1 439 265.5 440 265.8 441 266.2 442 266.5 443 266.8 444 267.2 445 267.5 446 267.9 447 268.2 448 268.5 449 268.8 450 269.2 451 269.5 452 269.9 453 270.2 454 270.5 455 270.9 456 271.2 457 271.5 458 271.8 459 272.1 460 272.5 461 272.8 462 273.1 463 273.4 464 273.7 465 274.1 466 274.4 467 274.6 468 274.9 469 275.3 470 275.6 471 275.9 472 276.2 473 276.5 474 276.8 475 277.1 476 277.4 477 277.7 478 278 479 278.2 480 278.5 481 278.9 482 279.2 483 279.5 484 279.7 485 280 486 280.3 487 280.6 488 280.9 489 281.2 490 281.4 491 281.7 492 281.9 493 282.2 494 282.5 495 282.8 496 283.1 497 283.3 498 283.6 499 283.9 500 284.1 501 284.4 502 284.7 503 285 504 285.3 505 285.4 506 285.7 507 286 508 286.2 509 286.5 510 286.8 511 287 512 287.3 513 287.6 514 287.7 515 288 516 288.2 517 288.5 518 288.8 519 289 520 289.3 521 289.5 522 289.8 523 289.9 524 290.2 525 290.4 526 290.7 527 290.9 528 291.2 529 291.4 530 291.6 531 291.9 532 292.1 533 292.3 534 292.5 535 292.7 536 293 537 293.2 538 293.4 539 293.7 540 293.9 541 294.1 542 294.4 543 294.5 544 294.7 545 294.9 546 295.1 547 295.4 548 295.6 549 295.8 550 296 551 296.2 552 296.5 553 296.7 554 296.9 555 297.1 556 297.3 557 297.5 558 297.7 559 297.9 560 298.1 561 298.3 562 298.5 563 298.7 564 298.9 565 299.1 566 299.3 567 299.5 568 299.7 569 299.9 570 300.1 571 300.3 572 300.5 573 300.7 574 300.9 575 301 576 301.2 577 301.4 578 301.6 579 301.8 580 302 581 302.1 582 302.3 583 302.5 584 302.7 585 302.9 586 303 587 303.2 588 303.4 589 303.6 590 303.7 591 303.9 592 304.1 593 304.3 594 304.5 595 304.6 596 304.8 597 305 598 305.1 599 305.3 600 305.5 601 305.7 602 305.8 603 306 604 306.2 605 306.4 606 306.5 607 306.7 608 307 609 307.2 610 307.3 611 307.5 612 307.8 613 308 614 308.2 615 308.4 616 308.7 617 308.9 618 309.2 619 309.3 620 309.6 621 309.9 622 310.2 623 310.4 624 310.7 625 311 626 311.1 627 311.5 628 311.8 629 312.1 630 312.3 631 312.7 632 313 633 313.4 634 313.5 635 313.9 636 314.3 637 314.5 638 314.9 639 315.3 640 315.7 641 315.9 642 316.3 643 316.7 644 316.9 645 317.3 645 317.3 644 317 643 316.9 642 316.6 641 316.3 640 316.2 639 315.9 638 315.6 637 315.3 636 315.2 635 314.9 634 314.6 633 314.6 632 314.3 631 314.1 630 313.8 629 313.7 628 313.5 627 313.3 626 313 625 313 624 312.8 623 312.6 622 312.5 621 312.3 620 312.1 619 311.9 618 311.9 617 311.7 616 311.6 615 311.4 614 311.2 613 311 612 310.8 611 310.5 610 310.3 609 310.2 608 310 607 309.7 606 309.5 605 309.4 604 309.2 603 309 602 308.8 601 308.7 600 308.5 599 308.3 598 308.1 597 308 596 307.8 595 307.6 594 307.5 593 307.3 592 307.1 591 306.9 590 306.7 589 306.6 588 306.4 587 306.2 586 306 585 305.9 584 305.7 583 305.5 582 305.3 581 305.1 580 305 579 304.8 578 304.6 577 304.4 576 304.2 575 304 574 303.9 573 303.7 572 303.5 571 303.3 570 303.1 569 302.9 568 302.7 567 302.5 566 302.3 565 302.1 564 301.9 563 301.7 562 301.5 561 301.3 560 301.1 559 300.9 558 300.7 557 300.5 556 300.3 555 300.1 554 299.9 553 299.7 552 299.5 551 299.2 550 299 549 298.8 548 298.6 547 298.4 546 298.1 545 297.9 544 297.7 543 297.5 542 297.4 541 297.1 540 296.9 539 296.7 538 296.4 537 296.2 536 296 535 295.7 534 295.5 533 295.3 532 295.1 531 294.9 530 294.6 529 294.4 528 294.2 527 293.9 526 293.7 525 293.4 524 293.2 523 292.9 522 292.8 521 292.5 520 292.3 519 292 518 291.8 517 291.5 516 291.2 515 291 514 290.7 513 290.6 512 290.3 511 290 510 289.8 509 289.5 508 289.2 507 289 506 288.7 505 288.4 504 288.3 503 288 502 287.7 501 287.4 500 287.1 499 286.9 498 286.6 497 286.3 496 286.1 495 285.8 494 285.5 493 285.2 492 284.9 491 284.7 490 284.4 489 284.2 488 283.9 487 283.6 486 283.3 485 283 484 282.7 483 282.5 482 282.2 481 281.9 480 281.5 479 281.2 478 281 477 280.7 476 280.4 475 280.1 474 279.8 473 279.5 472 279.2 471 278.9 470 278.6 469 278.3 468 277.9 467 277.6 466 277.4 465 277.1 464 276.7 463 276.4 462 276.1 461 275.8 460 275.5 459 275.1 458 274.8 457 274.5 456 274.2 455 273.9 454 273.5 453 273.2 452 272.9 451 272.5 450 272.2 449 271.8 448 271.5 447 271.2 446 270.9 445 270.5 444 270.2 443 269.8 442 269.5 441 269.2 440 268.8 439 268.5 438 268.1 437 267.8 436 267.4 435 267 434 266.7 433 266.3 432 266 431 265.6 430 265.3 429 264.9 428 264.5 427 264.2 426 263.8 425 263.4 424 262.9 423 262.5 422 262 421 261.6 420 261.1 419 260.7 418 260.2 417 259.8 416 259.3 415 258.8 414 258.4 413 257.9 412 257.5 411 257 410 256.5 409 256.1 408 255.6 407 255.1 406 254.7 405 254.2 404 253.7 403 253.2 402 252.7 401 252.3 400 251.8 399 251.3 398 250.8 397 250.3 396 249.8 395 249.4 394 248.9 393 248.4 392 247.9 391 247.4 390 247 389 246.5 388 246.1 387 245.6 386 245.2Z" fill="#140804" fill-opacity="0.85"/>
<path d="M447 294.9L446.4 279.9" stroke="#808080" stroke-width="0.8"/><ellipse cx="447" cy="294.9" rx="2.5" ry="1.9" fill="#f0cfc6" stroke="#b06858" stroke-width="0.5"/><path d="M577.6 286.3L577.1 303.3" stroke="#808080" stroke-width="0.8"/><ellipse cx="577.6" cy="286.3" rx="2.8" ry="2.2" fill="#b81414" stroke="#801010" stroke-width="0.4"/><path d="M585.2 326.9L585.2 327.1" stroke="#808080" stroke-width="0.8"/><ellipse cx="585.2" cy="326.9" rx="2.8" ry="2.2" fill="#b81414" stroke="#801010" stroke-width="0.4"/><path d="M516.7 273.2L516.7 289.7" stroke="#808080" stroke-width="0.8"/><ellipse cx="516.7" cy="273.2" rx="2.8" ry="2.2" fill="#b81414" stroke="#801010" stroke-width="0.4"/><path d="M516.7 283.1L516.7 289.7" stroke="#808080" stroke-width="0.8"/><ellipse cx="516.7" cy="283.1" rx="2.8" ry="2.2" fill="#b81414" stroke="#801010" stroke-width="0.4"/>
<path d="M36.2 457L170.1 435.3" stroke="#7a7a7a" stroke-width="0.9"/>
<path d="M170.1 435.3L303.3 457.2" stroke="#7a7a7a" stroke-width="0.9"/>
<path d="M170.1 435.3L170.1 544.7" stroke="#8a8a8a" stroke-width="0.9"/>
<path d="M303.3 457.2L295.1 578.3" stroke="#7a7a7a" stroke-width="0.9"/>
<path d="M36.2 457L44.6 578.3" stroke="#444" stroke-width="0.9"/>
<circle cx="36.5" cy="457" r="0.9"/>
<text x="33.1" y="462.6" text-anchor="end" class="t">75.8</text>
<circle cx="38.2" cy="480.9" r="0.9"/>
<text x="34.8" y="486.5" text-anchor="end" class="t">73.825</text>
<circle cx="39.8" cy="504.3" r="0.9"/>
<text x="36.4" y="509.9" text-anchor="end" class="t">71.85</text>
<circle cx="41.4" cy="527.1" r="0.9"/>
<text x="38" y="532.7" text-anchor="end" class="t">69.875</text>
<circle cx="42.9" cy="549.4" r="0.9"/>
<text x="39.5" y="555" text-anchor="end" class="t">67.9</text>
<path d="M44.6 578.3L170 621 295.1 578.3 170.1 544.7Z" fill="#ffff00" stroke="#6a6a00" stroke-width="0.5"/>
<g fill="none" stroke-width="0.55" stroke-opacity="0.5"><path d="M275.3 585 275.7 581.5 276.2 578.3 276.9 575 277.3 573.5" stroke="#00b6a2"/><path d="M251 593.3 250.6 590.7 250.3 587 250.2 583.2 250.2 580.7 250.5 578 251 574.7 251.6 572.2 252.9 568.6 253.5 567.1" stroke="#12c65f"/><path d="M224.3 602.4 222.5 598.5 221.2 595.6 220 592.7 218.6 589 217.5 585.2 216.6 581.4 216.2 577.6 216.3 573.7 217 570.4 218.1 567.5 219.7 564.5 221.7 561.7 224 559.2" stroke="#5abe00"/><path d="M102.7 562.8 106.6 564.7 108.8 567.2 106.1 570 103.6 571.3 101 572.3 98.1 573.4 95.2 574.4 92.1 575.4 89 576.4 85.8 577.4 82.6 578.4 79.4 579.4 76.1 580.4 72.7 581.4 69.4 582.4 66 583.4 62.5 584.4M195.2 612.4 192.8 610 190 607.2 186.5 603.8 182.8 600.6 179.1 597.5 175.3 594.5 171.4 591.6 168.3 589.4 165.3 587.4 162.6 585.7 159.1 583.5 156.3 581.8 152.8 579.7 149.2 577.7 146.4 576.1 142.4 573.7 138.6 571.2 136.5 568.3 139.1 565.4 143.7 563.2 146.2 562.2 148.9 561.3 151.5 560.3 154.2 559.4 156.9 558.5 159.7 557.6 162.4 556.7 165.1 555.9 167.8 555 170.5 554.1 173.2 553.3 175.9 552.5 178.6 551.6 181.3 550.8 183.9 550 186.5 549.1" stroke="#c88c00"/></g>
<path d="M44.6 578.3L170 621 295.1 578.3" fill="none" stroke="#3a3a00" stroke-width="0.8"/>
<text x="41.3" y="584.3" text-anchor="end" class="t">100.00</text>
<circle cx="76.1" cy="589.2" r="0.9"/>
<text x="73.6" y="595" text-anchor="end" class="t">90.00</text>
<circle cx="106.3" cy="599.5" r="0.9"/>
<text x="103.8" y="605.3" text-anchor="end" class="t">80.00</text>
<circle cx="138.6" cy="610.5" r="0.9"/>
<text x="136.1" y="616.3" text-anchor="end" class="t">70.00</text>
<text x="166.7" y="627" text-anchor="end" class="t">60.00</text>
<text x="173.5" y="626.8" class="t">20.00</text>
<circle cx="201.3" cy="610.4" r="0.9"/>
<text x="204.4" y="616.2" class="t">25.00</text>
<circle cx="233.5" cy="599.5" r="0.9"/>
<text x="236.6" y="605.3" class="t">30.00</text>
<circle cx="263.7" cy="589.1" r="0.9"/>
<text x="266.8" y="594.9" class="t">35.00</text>
<text x="298.6" y="584.1" class="t">40.00</text>
<text x="58.5" y="620.1" class="a" text-anchor="middle">D: Ethanol concentration</text>
<text x="280.8" y="620.1" class="a" text-anchor="middle">B: Liquid/solid ratio</text>
<text transform="translate(8.9 532.8) rotate(-90)" class="d">DPPH</text>
<g transform="scale(.25)" stroke-width="1.2"><path class=aG d="M680 1794l13-4 -13-7 -13 3z"/><path class=aF d="M693 1801l14-3 -14-8 -13 4zm14 7l13-2 -13-8 -14 3z"/><path class=aE d="M720 1816l13-3 -13-7 -13 2zm13 7l13-2 -13-8 -13 3z"/><path class=aD d="M747 1831l13-2 -14-8 -13 2z"/><path class=aC d="M760 1839l13-2 -13-8 -13 2zm14 7l13-1 -14-8 -13 2z"/><path class=aB d="M788 1855l13-2 -14-8 -13 1z"/><path class=aA d="M801 1863l13-1 -13-9 -13 2zm14 8l13 0 -14-9 -13 1z"/><path class=az d="M829 1880l13-1 -14-8 -13 0z"/><path class=ay d="M843 1889l13-1 -14-9 -13 1zm14 9l13 0 -14-10 -13 1z"/><path class=ax d="M871 1907l13 0 -14-9 -13 0z"/><path class=aw d="M885 1916l13 1 -14-10 -13 0z"/><path class=av d="M899 1926l13 1 -14-10 -13-1zm14 10l13 1 -14-10 -13-1z"/><path class=au d="M928 1947l12 1 -14-11 -13-1z"/><path class=at d="M942 1957l13 2 -15-11 -12-1z"/><path class=as d="M956 1968l13 2 -14-11 -13-2z"/><path class=ar d="M971 1980l12 2 -14-12 -13-2z"/><path class=aq d="M985 1991l13 3 -15-12 -12-2z"/><path class=ap d="M1000 2003l12 3 -14-12 -13-3z"/><path class=ao d="M1014 2016l13 3 -15-13 -12-3z"/><path class=an d="M1029 2029l12 3 -14-13 -13-3z"/><path class=am d="M1044 2042l12 4 -15-14 -12-3z"/><path class=al d="M1058 2056l13 4 -15-14 -12-4z"/><path class=ak d="M1073 2070l12 4 -14-14 -13-4z"/><path class=ai d="M1088 2085l12 4 -15-15 -12-4z"/><path class=ah d="M1103 2100l12 5 -15-16 -12-4z"/><path class=ag d="M1118 2116l12 5 -15-16 -12-5z"/><path class=ae d="M1132 2132l12 5 -14-16 -12-5z"/><path class=ad d="M1147 2148l12 6 -15-17 -12-5z"/><path class=ab d="M1162 2166l12 5 -15-17 -12-6z"/><path class=aa d="M1177 2183l12 6 -15-18 -12-5z"/><path class=aG d="M667 1797l13-3 -13-8 -13 4z"/><path class=aF d="M680 1804l13-3 -13-7 -13 3zm14 7l13-3 -14-7 -13 3z"/><path class=aE d="M707 1818l13-2 -13-8 -13 3zm13 7l13-2 -13-7 -13 2z"/><path class=aD d="M734 1833l13-2 -14-8 -13 2z"/><path class=aC d="M747 1840l13-1 -13-8 -13 2zm14 8l13-2 -14-7 -13 1z"/><path class=aB d="M774 1856l14-1 -14-9 -13 2zm14 8l13-1 -13-8 -14 1z"/><path class=aA d="M802 1872l13-1 -14-8 -13 1z"/><path class=az d="M816 1880l13 0 -14-9 -13 1zm14 9l13 0 -14-9 -13 0z"/><path class=ay d="M844 1897l13 1 -14-9 -13 0z"/><path class=ax d="M858 1906l13 1 -14-9 -13-1zm14 10l13 0 -14-9 -13-1z"/><path class=aw d="M886 1925l13 1 -14-10 -13 0z"/><path class=av d="M900 1935l13 1 -14-10 -13-1z"/><path class=au d="M915 1945l13 2 -15-11 -13-1z"/><path class=at d="M929 1955l13 2 -14-10 -13-2zm15 11l12 2 -14-11 -13-2z"/><path class=as d="M958 1977l13 3 -15-12 -12-2z"/><path class=ar d="M973 1989l12 2 -14-11 -13-3z"/><path class=aq d="M987 2001l13 2 -15-12 -12-2z"/><path class=ap d="M1002 2013l12 3 -14-13 -13-2z"/><path class=ao d="M1016 2025l13 4 -15-13 -12-3z"/><path class=an d="M1031 2038l13 4 -15-13 -13-4z"/><path class=am d="M1046 2052l12 4 -14-14 -13-4z"/><path class=ak d="M1061 2066l12 4 -15-14 -12-4z"/><path class=aj d="M1076 2080l12 5 -15-15 -12-4z"/><path class=ai d="M1090 2095l13 5 -15-15 -12-5z"/><path class=ah d="M1105 2110l13 6 -15-16 -13-5z"/><path class=af d="M1120 2126l12 6 -14-16 -13-6z"/><path class=ae d="M1135 2143l12 5 -15-16 -12-6z"/><path class=ac d="M1150 2160l12 6 -15-18 -12-5z"/><path class=ab d="M1165 2177l12 6 -15-17 -12-6z"/><path class=aG d="M654 1800l13-3 -13-7 -13 3z"/><path class=aF d="M667 1807l13-3 -13-7 -13 3zm13 7l14-3 -14-7 -13 3z"/><path class=aE d="M694 1821l13-3 -13-7 -14 3zm13 7l13-3 -13-7 -13 3z"/><path class=aD d="M720 1835l14-2 -14-8 -13 3z"/><path class=aC d="M734 1842l13-2 -13-7 -14 2zm14 7l13-1 -14-8 -13 2z"/><path class=aB d="M761 1857l13-1 -13-8 -13 1zm14 8l13-1 -14-8 -13 1z"/><path class=aA d="M789 1872l13 0 -14-8 -13 1zm14 9l13-1 -14-8 -13 0z"/><path class=az d="M817 1889l13 0 -14-9 -13 1z"/><path class=ay d="M831 1897l13 0 -14-8 -13 0zm14 9l13 0 -14-9 -13 0z"/><path class=ax d="M859 1915l13 1 -14-10 -13 0z"/><path class=aw d="M873 1924l13 1 -14-9 -13-1z"/><path class=av d="M887 1934l13 1 -14-10 -13-1zm15 10l13 1 -15-10 -13-1z"/><path class=au d="M916 1954l13 1 -14-10 -13-1z"/><path class=at d="M931 1964l13 2 -15-11 -13-1z"/><path class=as d="M945 1975l13 2 -14-11 -13-2z"/><path class=ar d="M960 1986l13 3 -15-12 -13-2z"/><path class=aq d="M974 1998l13 3 -14-12 -13-3z"/><path class=ap d="M989 2010l13 3 -15-12 -13-3z"/><path class=ao d="M1004 2022l12 3 -14-12 -13-3z"/><path class=an d="M1019 2035l12 3 -15-13 -12-3z"/><path class=am d="M1033 2048l13 4 -15-14 -12-3z"/><path class=al d="M1048 2062l13 4 -15-14 -13-4z"/><path class=ak d="M1063 2076l13 4 -15-14 -13-4z"/><path class=aj d="M1078 2090l12 5 -14-15 -13-4z"/><path class=ai d="M1093 2105l12 5 -15-15 -12-5z"/><path class=ag d="M1108 2121l12 5 -15-16 -12-5z"/><path class=af d="M1123 2137l12 6 -15-17 -12-5z"/><path class=ad d="M1138 2154l12 6 -15-17 -12-6z"/><path class=ac d="M1153 2171l12 6 -15-17 -12-6z"/><path class=aG d="M640 1803l14-3 -13-7 -14 4z"/><path class=aF d="M654 1810l13-3 -13-7 -14 3zm13 6l13-2 -13-7 -13 3z"/><path class=aE d="M680 1823l14-2 -14-7 -13 2zm14 7l13-2 -13-7 -14 2z"/><path class=aD d="M707 1837l13-2 -13-7 -13 2zm14 7l13-2 -14-7 -13 2z"/><path class=aC d="M734 1851l14-2 -14-7 -13 2z"/><path class=aB d="M748 1858l13-1 -13-8 -14 2zm14 8l13-1 -14-8 -13 1z"/><path class=aA d="M776 1873l13-1 -14-7 -13 1zm14 8l13 0 -14-9 -13 1z"/><path class=az d="M803 1889l14 0 -14-8 -13 0zm15 8l13 0 -14-8 -14 0z"/><path class=ay d="M832 1906l13 0 -14-9 -13 0z"/><path class=ax d="M846 1914l13 1 -14-9 -13 0zm14 9l13 1 -14-9 -13-1z"/><path class=aw d="M874 1933l13 1 -14-10 -13-1z"/><path class=av d="M889 1942l13 2 -15-10 -13-1z"/><path class=au d="M903 1952l13 2 -14-10 -13-2zm15 10l13 2 -15-10 -13-2z"/><path class=at d="M932 1973l13 2 -14-11 -13-2z"/><path class=as d="M947 1984l13 2 -15-11 -13-2z"/><path class=ar d="M962 1995l12 3 -14-12 -13-2z"/><path class=aq d="M976 2007l13 3 -15-12 -12-3z"/><path class=ap d="M991 2019l13 3 -15-12 -13-3z"/><path class=ao d="M1006 2031l13 4 -15-13 -13-3z"/><path class=an d="M1021 2044l12 4 -14-13 -13-4z"/><path class=am d="M1036 2057l12 5 -15-14 -12-4z"/><path class=al d="M1051 2071l12 5 -15-14 -12-5z"/><path class=ak d="M1066 2085l12 5 -15-14 -12-5z"/><path class=ai d="M1081 2100l12 5 -15-15 -12-5z"/><path class=ah d="M1096 2116l12 5 -15-16 -12-5z"/><path class=ag d="M1111 2131l12 6 -15-16 -12-5z"/><path class=ae d="M1126 2148l12 6 -15-17 -12-6z"/><path class=ad d="M1141 2165l12 6 -15-17 -12-6z"/><path class=aF d="M627 1807l13-4 -13-6 -13 3zm13 6l14-3 -14-7 -13 4z"/><path class=aE d="M653 1819l14-3 -13-6 -14 3zm14 7l13-3 -13-7 -14 3zm13 6l14-2 -14-7 -13 3z"/><path class=aD d="M694 1839l13-2 -13-7 -14 2zm13 7l14-2 -14-7 -13 2z"/><path class=aC d="M721 1852l13-1 -13-7 -14 2zm14 7l13-1 -14-7 -13 1z"/><path class=aB d="M748 1867l14-1 -14-8 -13 1zm14 7l14-1 -14-7 -14 1z"/><path class=aA d="M776 1881l14 0 -14-8 -14 1z"/><path class=az d="M790 1889l13 0 -13-8 -14 0zm14 8l14 0 -15-8 -13 0z"/><path class=ay d="M818 1905l14 1 -14-9 -14 0zm15 9l13 0 -14-8 -14-1z"/><path class=ax d="M847 1922l13 1 -14-9 -13 0z"/><path class=aw d="M861 1931l13 2 -14-10 -13-1zm15 10l13 1 -15-9 -13-2z"/><path class=av d="M890 1950l13 2 -14-10 -13-1z"/><path class=au d="M905 1960l13 2 -15-10 -13-2z"/><path class=at d="M919 1970l13 3 -14-11 -13-2zm15 11l13 3 -15-11 -13-3z"/><path class=as d="M949 1992l13 3 -15-11 -13-3z"/><path class=ar d="M963 2003l13 4 -14-12 -13-3z"/><path class=aq d="M978 2015l13 4 -15-12 -13-4z"/><path class=ap d="M993 2027l13 4 -15-12 -13-4z"/><path class=ao d="M1008 2040l13 4 -15-13 -13-4z"/><path class=an d="M1023 2053l13 4 -15-13 -13-4z"/><path class=am d="M1038 2067l13 4 -15-14 -13-4z"/><path class=al d="M1053 2081l13 4 -15-14 -13-4z"/><path class=aj d="M1068 2095l13 5 -15-15 -13-4z"/><path class=ai d="M1083 2110l13 6 -15-16 -13-5z"/><path class=ah d="M1098 2126l13 5 -15-15 -13-6z"/><path class=ag d="M1114 2142l12 6 -15-17 -13-5z"/><path class=ae d="M1129 2159l12 6 -15-17 -12-6z"/><path class=aF d="M613 1810l14-3 -13-7 -14 4zm14 6l13-3 -13-6 -14 3z"/><path class=aE d="M640 1822l13-3 -13-6 -13 3zm13 6l14-2 -14-7 -13 3zm14 7l13-3 -13-6 -14 2z"/><path class=aD d="M680 1841l14-2 -14-7 -13 3zm14 6l13-1 -13-7 -14 2z"/><path class=aC d="M707 1854l14-2 -14-6 -13 1zm14 7l14-2 -14-7 -14 2z"/><path class=aB d="M735 1868l13-1 -13-8 -14 2zm14 7l13-1 -14-7 -13 1z"/><path class=aA d="M763 1882l13-1 -14-7 -13 1zm14 7l13 0 -14-8 -13 1z"/><path class=az d="M791 1897l13 0 -14-8 -13 0zm14 8l13 0 -14-8 -13 0z"/><path class=ay d="M819 1913l14 1 -15-9 -13 0z"/><path class=ax d="M834 1922l13 0 -14-8 -14-1zm14 8l13 1 -14-9 -13 0z"/><path class=aw d="M862 1939l14 2 -15-10 -13-1z"/><path class=av d="M877 1949l13 1 -14-9 -14-2zm14 9l14 2 -15-10 -13-1z"/><path class=au d="M906 1968l13 2 -14-10 -14-2z"/><path class=at d="M921 1979l13 2 -15-11 -13-2z"/><path class=as d="M936 1989l13 3 -15-11 -13-2z"/><path class=ar d="M950 2000l13 3 -14-11 -13-3zm15 12l13 3 -15-12 -13-3z"/><path class=aq d="M980 2024l13 3 -15-12 -13-3z"/><path class=ap d="M995 2036l13 4 -15-13 -13-3z"/><path class=ao d="M1010 2049l13 4 -15-13 -13-4z"/><path class=an d="M1025 2062l13 5 -15-14 -13-4z"/><path class=al d="M1040 2076l13 5 -15-14 -13-5z"/><path class=ak d="M1055 2090l13 5 -15-14 -13-5z"/><path class=aj d="M1071 2105l12 5 -15-15 -13-5z"/><path class=ai d="M1086 2120l12 6 -15-16 -12-5z"/><path class=ah d="M1101 2136l13 6 -16-16 -12-6z"/><path class=af d="M1116 2152l13 7 -15-17 -13-6z"/><path class=aF d="M600 1813l13-3 -13-6 -13 4zm13 6l14-3 -14-6 -13 3z"/><path class=aE d="M626 1825l14-3 -13-6 -14 3zm14 6l13-3 -13-6 -14 3zm13 6l14-2 -14-7 -13 3z"/><path class=aD d="M667 1843l13-2 -13-6 -14 2zm13 6l14-2 -14-6 -13 2z"/><path class=aC d="M694 1856l13-2 -13-7 -14 2zm14 6l13-1 -14-7 -13 2z"/><path class=aB d="M721 1869l14-1 -14-7 -13 1zm14 7l14-1 -14-7 -14 1z"/><path class=aA d="M749 1883l14-1 -14-7 -14 1zm14 7l14-1 -14-7 -14 1z"/><path class=az d="M777 1897l14 0 -14-8 -14 1zm15 8l13 0 -14-8 -14 0z"/><path class=ay d="M806 1913l13 0 -14-8 -13 0zm14 8l14 1 -15-9 -13 0z"/><path class=ax d="M835 1929l13 1 -14-8 -14-1zm14 9l13 1 -14-9 -13-1z"/><path class=aw d="M864 1947l13 2 -15-10 -13-1z"/><path class=av d="M878 1956l13 2 -14-9 -13-2z"/><path class=au d="M893 1966l13 2 -15-10 -13-2zm15 10l13 3 -15-11 -13-2z"/><path class=at d="M922 1986l14 3 -15-10 -13-3z"/><path class=as d="M937 1997l13 3 -14-11 -14-3z"/><path class=ar d="M952 2008l13 4 -15-12 -13-3z"/><path class=aq d="M967 2020l13 4 -15-12 -13-4z"/><path class=ap d="M982 2032l13 4 -15-12 -13-4z"/><path class=ao d="M997 2045l13 4 -15-13 -13-4z"/><path class=an d="M1012 2058l13 4 -15-13 -13-4z"/><path class=am d="M1027 2071l13 5 -15-14 -13-4z"/><path class=al d="M1043 2085l12 5 -15-14 -13-5z"/><path class=ak d="M1058 2100l13 5 -16-15 -12-5z"/><path class=aj d="M1073 2115l13 5 -15-15 -13-5z"/><path class=ai d="M1089 2130l12 6 -15-16 -13-5z"/><path class=ag d="M1104 2146l12 6 -15-16 -12-6z"/><path class=aF d="M586 1817l14-4 -13-5 -14 3zm13 5l14-3 -13-6 -14 4z"/><path class=aE d="M613 1828l13-3 -13-6 -14 3zm13 6l14-3 -14-6 -13 3zm13 5l14-2 -13-6 -14 3z"/><path class=aD d="M653 1845l14-2 -14-6 -14 2zm13 6l14-2 -13-6 -14 2z"/><path class=aC d="M680 1857l14-1 -14-7 -14 2zm14 7l14-2 -14-6 -14 1zm14 6l13-1 -13-7 -14 2z"/><path class=aB d="M722 1876l13 0 -14-7 -13 1zm14 7l13 0 -14-7 -13 0z"/><path class=aA d="M750 1890l13 0 -14-7 -13 0zm14 7l13 0 -14-7 -13 0z"/><path class=az d="M778 1905l14 0 -15-8 -13 0zm14 7l14 1 -14-8 -14 0z"/><path class=ay d="M807 1920l13 1 -14-8 -14-1zm14 8l14 1 -15-8 -13-1z"/><path class=ax d="M836 1937l13 1 -14-9 -14-1z"/><path class=aw d="M850 1945l14 2 -15-9 -13-1zm15 9l13 2 -14-9 -14-2z"/><path class=av d="M879 1964l14 2 -15-10 -13-2z"/><path class=au d="M894 1974l14 2 -15-10 -14-2zm15 10l13 2 -14-10 -14-2z"/><path class=at d="M924 1994l13 3 -15-11 -13-2z"/><path class=as d="M939 2005l13 3 -15-11 -13-3z"/><path class=ar d="M954 2016l13 4 -15-12 -13-3z"/><path class=aq d="M969 2028l13 4 -15-12 -13-4z"/><path class=ap d="M984 2040l13 5 -15-13 -13-4z"/><path class=ao d="M999 2053l13 5 -15-13 -13-5z"/><path class=an d="M1014 2066l13 5 -15-13 -13-5z"/><path class=am d="M1030 2080l13 5 -16-14 -13-5z"/><path class=al d="M1045 2094l13 6 -15-15 -13-5z"/><path class=ak d="M1060 2109l13 6 -15-15 -13-6z"/><path class=aj d="M1076 2124l13 6 -16-15 -13-6z"/><path class=ah d="M1091 2140l13 6 -15-16 -13-6z"/><path class=aF d="M572 1820l14-3 -13-6 -14 4zm13 6l14-4 -13-5 -14 3z"/><path class=aE d="M599 1831l14-3 -14-6 -14 4zm13 5l14-2 -13-6 -14 3zm14 6l13-3 -13-5 -14 2z"/><path class=aD d="M639 1848l14-3 -14-6 -13 3zm14 5l13-2 -13-6 -14 3z"/><path class=aC d="M666 1859l14-2 -14-6 -13 2zm14 6l14-1 -14-7 -14 2zm14 6l14-1 -14-6 -14 1z"/><path class=aB d="M708 1877l14-1 -14-6 -14 1zm14 7l14-1 -14-7 -14 1z"/><path class=aA d="M736 1890l14 0 -14-7 -14 1zm14 7l14 0 -14-7 -14 0zm14 7l14 1 -14-8 -14 0z"/><path class=az d="M779 1912l13 0 -14-7 -14-1zm14 7l14 1 -15-8 -13 0z"/><path class=ay d="M807 1927l14 1 -14-8 -14-1z"/><path class=ax d="M822 1935l14 2 -15-9 -14-1zm15 9l13 1 -14-8 -14-2z"/><path class=aw d="M851 1953l14 1 -15-9 -13-1zm15 9l13 2 -14-10 -14-1z"/><path class=av d="M881 1971l13 3 -15-10 -13-2z"/><path class=au d="M896 1981l13 3 -15-10 -13-3z"/><path class=at d="M911 1991l13 3 -15-10 -13-3zm15 11l13 3 -15-11 -13-3z"/><path class=as d="M941 2013l13 3 -15-11 -13-3z"/><path class=ar d="M956 2024l13 4 -15-12 -13-3z"/><path class=aq d="M971 2036l13 4 -15-12 -13-4z"/><path class=ap d="M986 2049l13 4 -15-13 -13-4z"/><path class=ao d="M1001 2062l13 4 -15-13 -13-4z"/><path class=an d="M1017 2075l13 5 -16-14 -13-4z"/><path class=am d="M1032 2089l13 5 -15-14 -13-5z"/><path class=al d="M1048 2103l12 6 -15-15 -13-5z"/><path class=ak d="M1063 2118l13 6 -16-15 -12-6z"/><path class=ai d="M1078 2134l13 6 -15-16 -13-6z"/><path class=aF d="M558 1824l14-4 -13-5 -14 4z"/><path class=aE d="M572 1829l13-3 -13-6 -14 4zm13 5l14-3 -14-5 -13 3zm13 5l14-3 -13-5 -14 3zm14 6l14-3 -14-6 -14 3z"/><path class=aD d="M625 1850l14-2 -13-6 -14 3zm14 5l14-2 -14-5 -14 2zm14 6l13-2 -13-6 -14 2z"/><path class=aC d="M666 1867l14-2 -14-6 -13 2zm14 5l14-1 -14-6 -14 2z"/><path class=aB d="M694 1878l14-1 -14-6 -14 1zm14 7l14-1 -14-7 -14 1zm14 6l14-1 -14-6 -14 1z"/><path class=aA d="M736 1897l14 0 -14-7 -14 1zm15 7l13 0 -14-7 -14 0z"/><path class=az d="M765 1911l14 1 -15-8 -13 0zm14 8l14 0 -14-7 -14-1z"/><path class=ay d="M794 1926l13 1 -14-8 -14 0zm14 8l14 1 -15-8 -13-1z"/><path class=ax d="M823 1942l14 2 -15-9 -14-1zm15 9l13 2 -14-9 -14-2z"/><path class=aw d="M852 1959l14 3 -15-9 -13-2z"/><path class=av d="M867 1969l14 2 -15-9 -14-3zm15 9l14 3 -15-10 -14-2z"/><path class=au d="M897 1988l14 3 -15-10 -14-3z"/><path class=at d="M912 1998l14 4 -15-11 -14-3zm15 11l14 4 -15-11 -14-4z"/><path class=as d="M942 2020l14 4 -15-11 -14-4z"/><path class=ar d="M958 2032l13 4 -15-12 -14-4z"/><path class=aq d="M973 2044l13 5 -15-13 -13-4z"/><path class=ap d="M988 2057l13 5 -15-13 -13-5z"/><path class=ao d="M1004 2070l13 5 -16-13 -13-5z"/><path class=an d="M1019 2084l13 5 -15-14 -13-5z"/><path class=am d="M1035 2098l13 5 -16-14 -13-5z"/><path class=al d="M1050 2112l13 6 -15-15 -13-5z"/><path class=aj d="M1066 2128l12 6 -15-16 -13-6z"/><path class=aF d="M544 1828l14-4 -13-5 -14 4z"/><path class=aE d="M558 1832l14-3 -14-5 -14 4zm13 5l14-3 -13-5 -14 3zm13 5l14-3 -13-5 -14 3zm14 5l14-2 -14-6 -14 3z"/><path class=aD d="M611 1852l14-2 -13-5 -14 2zm14 5l14-2 -14-5 -14 2zm14 6l14-2 -14-6 -14 2z"/><path class=aC d="M652 1868l14-1 -13-6 -14 2zm14 6l14-2 -14-5 -14 1zm14 5l14-1 -14-6 -14 2z"/><path class=aB d="M694 1885l14 0 -14-7 -14 1zm14 6l14 0 -14-6 -14 0zm14 7l14-1 -14-6 -14 0z"/><path class=aA d="M737 1904l14 0 -15-7 -14 1zm14 7l14 0 -14-7 -14 0z"/><path class=az d="M765 1918l14 1 -14-8 -14 0zm15 7l14 1 -15-7 -14-1z"/><path class=ay d="M794 1933l14 1 -14-8 -14-1zm15 8l14 1 -15-8 -14-1z"/><path class=ax d="M824 1949l14 2 -15-9 -14-1zm15 8l13 2 -14-8 -14-2z"/><path class=aw d="M853 1966l14 3 -15-10 -13-2z"/><path class=av d="M868 1975l14 3 -15-9 -14-3zm15 10l14 3 -15-10 -14-3z"/><path class=au d="M899 1995l13 3 -15-10 -14-3z"/><path class=at d="M914 2006l13 3 -15-11 -13-3z"/><path class=as d="M929 2017l13 3 -15-11 -13-3zm15 11l14 4 -16-12 -13-3z"/><path class=ar d="M960 2040l13 4 -15-12 -14-4z"/><path class=aq d="M975 2052l13 5 -15-13 -13-4z"/><path class=ap d="M990 2065l14 5 -16-13 -13-5z"/><path class=ao d="M1006 2078l13 6 -15-14 -14-5z"/><path class=an d="M1021 2092l14 6 -16-14 -13-6z"/><path class=am d="M1037 2106l13 6 -15-14 -14-6z"/><path class=ak d="M1053 2121l13 7 -16-16 -13-6z"/><path class=aE d="M530 1831l14-3 -13-5 -14 4zm14 5l14-4 -14-4 -14 3zm13 4l14-3 -13-5 -14 4zm13 5l14-3 -13-5 -14 3z"/><path class=aD d="M584 1850l14-3 -14-5 -14 3zm13 5l14-3 -13-5 -14 3zm14 4l14-2 -14-5 -14 3zm13 5l15-1 -14-6 -14 2z"/><path class=aC d="M638 1870l14-2 -13-5 -15 1zm14 5l14-1 -14-6 -14 2zm14 5l14-1 -14-5 -14 1zm14 6l14-1 -14-6 -14 1z"/><path class=aB d="M694 1892l14-1 -14-6 -14 1zm14 6l14 0 -14-7 -14 1z"/><path class=aA d="M723 1904l14 0 -15-6 -14 0zm14 7l14 0 -14-7 -14 0zm14 6l14 1 -14-7 -14 0z"/><path class=az d="M766 1924l14 1 -15-7 -14-1zm15 8l13 1 -14-8 -14-1z"/><path class=ay d="M795 1939l14 2 -15-8 -13-1zm15 8l14 2 -15-8 -14-2z"/><path class=ax d="M825 1955l14 2 -15-8 -14-2zm15 9l13 2 -14-9 -14-2z"/><path class=aw d="M855 1973l13 2 -15-9 -13-2z"/><path class=av d="M870 1982l13 3 -15-10 -13-2zm15 10l14 3 -16-10 -13-3z"/><path class=au d="M900 2002l14 4 -15-11 -14-3z"/><path class=at d="M915 2013l14 4 -15-11 -14-4z"/><path class=as d="M931 2024l13 4 -15-11 -14-4zm15 11l14 5 -16-12 -13-4z"/><path class=ar d="M961 2047l14 5 -15-12 -14-5z"/><path class=aq d="M977 2060l13 5 -15-13 -14-5z"/><path class=ap d="M992 2073l14 5 -16-13 -13-5z"/><path class=ao d="M1008 2086l13 6 -15-14 -14-5z"/><path class=an d="M1024 2100l13 6 -16-14 -13-6z"/><path class=al d="M1039 2115l14 6 -16-15 -13-6z"/><path class=aE d="M516 1835l14-4 -13-4 -14 4zm13 4l15-3 -14-5 -14 4zm14 5l14-4 -13-4 -15 3zm13 4l14-3 -13-5 -14 4z"/><path class=aD d="M570 1852l14-2 -14-5 -14 3zm13 5l14-2 -13-5 -14 2zm14 5l14-3 -14-4 -14 2zm13 4l14-2 -13-5 -14 3zm14 5l14-1 -14-6 -14 2z"/><path class=aC d="M638 1876l14-1 -14-5 -14 1zm14 5l14-1 -14-5 -14 1zm14 6l14-1 -14-6 -14 1z"/><path class=aB d="M680 1892l14 0 -14-6 -14 1zm14 6l14 0 -14-6 -14 0zm15 6l14 0 -15-6 -14 0z"/><path class=aA d="M723 1910l14 1 -14-7 -14 0zm14 7l14 0 -14-6 -14-1zm15 6l14 1 -15-7 -14 0z"/><path class=az d="M767 1930l14 2 -15-8 -14-1zm14 8l14 1 -14-7 -14-2z"/><path class=ay d="M796 1945l14 2 -15-8 -14-1zm15 8l14 2 -15-8 -14-2z"/><path class=ax d="M826 1961l14 3 -15-9 -14-2zm15 9l14 3 -15-9 -14-3z"/><path class=aw d="M856 1979l14 3 -15-9 -14-3z"/><path class=av d="M871 1989l14 3 -15-10 -14-3zm15 9l14 4 -15-10 -14-3z"/><path class=au d="M902 2009l13 4 -15-11 -14-4z"/><path class=at d="M917 2020l14 4 -16-11 -13-4z"/><path class=as d="M932 2031l14 4 -15-11 -14-4zm16 11l13 5 -15-12 -14-4z"/><path class=ar d="M963 2055l14 5 -16-13 -13-5z"/><path class=aq d="M979 2067l13 6 -15-13 -14-5z"/><path class=ap d="M995 2081l13 5 -16-13 -13-6z"/><path class=ao d="M1010 2095l14 5 -16-14 -13-5z"/><path class=an d="M1026 2109l13 6 -15-15 -14-5z"/><path class=aE d="M502 1839l14-4 -13-4 -14 4zm13 4l14-4 -13-4 -14 4zm13 4l15-3 -14-5 -14 4zm14 4l14-3 -13-4 -15 3z"/><path class=aD d="M555 1855l15-3 -14-4 -14 3zm14 4l14-2 -13-5 -15 3zm13 5l15-2 -14-5 -14 2zm14 4l14-2 -13-4 -15 2zm14 5l14-2 -14-5 -14 2z"/><path class=aC d="M624 1878l14-2 -14-5 -14 2zm14 5l14-2 -14-5 -14 2zm14 5l14-1 -14-6 -14 2zm14 5l14-1 -14-5 -14 1z"/><path class=aB d="M680 1898l14 0 -14-6 -14 1zm14 6l15 0 -15-6 -14 0zm15 6l14 0 -14-6 -15 0z"/><path class=aA d="M723 1916l14 1 -14-7 -14 0zm15 6l14 1 -15-6 -14-1zm14 7l15 1 -15-7 -14-1z"/><path class=az d="M767 1936l14 2 -14-8 -15-1zm15 7l14 2 -15-7 -14-2z"/><path class=ay d="M797 1951l14 2 -15-8 -14-2zm15 8l14 2 -15-8 -14-2z"/><path class=ax d="M827 1967l14 3 -15-9 -14-2zm15 9l14 3 -15-9 -14-3z"/><path class=aw d="M857 1985l14 4 -15-10 -14-3z"/><path class=av d="M872 1995l14 3 -15-9 -14-4zm16 10l14 4 -16-11 -14-3z"/><path class=au d="M903 2015l14 5 -15-11 -14-4z"/><path class=at d="M919 2026l13 5 -15-11 -14-5z"/><path class=as d="M934 2038l14 4 -16-11 -13-5z"/><path class=ar d="M950 2050l13 5 -15-13 -14-4zm15 12l14 5 -16-12 -13-5z"/><path class=aq d="M981 2075l14 6 -16-14 -14-5z"/><path class=ap d="M997 2089l13 6 -15-14 -14-6z"/><path class=ao d="M1013 2103l13 6 -16-14 -13-6z"/><path class=aE d="M488 1842l14-3 -13-4 -14 4zm13 4l14-3 -13-4 -14 3zm13 4l14-3 -13-4 -14 3zm13 4l15-3 -14-4 -14 3z"/><path class=aD d="M541 1858l14-3 -13-4 -15 3zm13 4l15-3 -14-4 -14 3zm14 4l14-2 -13-5 -15 3zm14 4l14-2 -14-4 -14 2zm14 5l14-2 -14-5 -14 2zm13 4l15-1 -14-5 -14 2z"/><path class=aC d="M623 1884l15-1 -14-5 -15 1zm14 4l15 0 -14-5 -15 1zm15 5l14 0 -14-5 -15 0zm14 6l14-1 -14-5 -14 0z"/><path class=aB d="M680 1904l14 0 -14-6 -14 1zm14 6l15 0 -15-6 -14 0zm15 5l14 1 -14-6 -15 0z"/><path class=aA d="M723 1922l15 0 -15-6 -14-1zm15 6l14 1 -14-7 -15 0zm15 7l14 1 -15-7 -14-1z"/><path class=az d="M768 1942l14 1 -15-7 -14-1zm15 7l14 2 -15-8 -14-1z"/><path class=ay d="M798 1957l14 2 -15-8 -14-2zm15 8l14 2 -15-8 -14-2z"/><path class=ax d="M828 1973l14 3 -15-9 -14-2zm15 9l14 3 -15-9 -14-3z"/><path class=aw d="M858 1991l14 4 -15-10 -14-3z"/><path class=av d="M874 2001l14 4 -16-10 -14-4zm15 10l14 4 -15-10 -14-4z"/><path class=au d="M905 2022l14 4 -16-11 -14-4z"/><path class=at d="M920 2033l14 5 -15-12 -14-4z"/><path class=as d="M936 2045l14 5 -16-12 -14-5zm16 12l13 5 -15-12 -14-5z"/><path class=ar d="M967 2069l14 6 -16-13 -13-5z"/><path class=aq d="M983 2083l14 6 -16-14 -14-6z"/><path class=ap d="M999 2096l14 7 -16-14 -14-6z"/><path class=aE d="M473 1846l15-4 -13-3 -15 4zm13 4l15-4 -13-4 -15 4zm14 3l14-3 -13-4 -15 4zm13 4l14-3 -13-4 -14 3z"/><path class=aD d="M526 1861l15-3 -14-4 -14 3zm14 3l14-2 -13-4 -15 3zm14 4l14-2 -14-4 -14 2zm13 4l15-2 -14-4 -14 2zm14 4l15-1 -14-5 -15 2zm14 4l14-1 -13-4 -15 1z"/><path class=aC d="M609 1885l14-1 -14-5 -14 1zm14 4l14-1 -14-4 -14 1zm14 5l15-1 -15-5 -14 1zm14 5l15 0 -14-6 -15 1zm15 5l14 0 -14-5 -15 0z"/><path class=aB d="M680 1909l14 1 -14-6 -14 0zm15 6l14 0 -15-5 -14-1zm14 6l14 1 -14-7 -14 0z"/><path class=aA d="M724 1927l14 1 -15-6 -14-1zm15 6l14 2 -15-7 -14-1zm14 7l15 2 -15-7 -14-2z"/><path class=az d="M768 1947l15 2 -15-7 -15-2zm15 7l15 3 -15-8 -15-2z"/><path class=ay d="M798 1962l15 3 -15-8 -15-3zm16 8l14 3 -15-8 -15-3z"/><path class=ax d="M829 1979l14 3 -15-9 -14-3zm15 9l14 3 -15-9 -14-3z"/><path class=aw d="M860 1997l14 4 -16-10 -14-3z"/><path class=av d="M875 2007l14 4 -15-10 -14-4zm16 10l14 5 -16-11 -14-4z"/><path class=au d="M906 2028l14 5 -15-11 -14-5z"/><path class=at d="M922 2039l14 6 -16-12 -14-5z"/><path class=as d="M938 2051l14 6 -16-12 -14-6zm16 13l13 5 -15-12 -14-6z"/><path class=ar d="M970 2077l13 6 -16-14 -13-5z"/><path class=aq d="M986 2090l13 6 -16-13 -13-6z"/><path class=aE d="M459 1850l14-4 -13-3 -14 4zm13 3l14-3 -13-4 -14 4zm13 4l15-4 -14-3 -14 3z"/><path class=aD d="M499 1860l14-3 -13-4 -15 4zm13 3l14-2 -13-4 -14 3zm13 4l15-3 -14-3 -14 2zm14 4l15-3 -14-4 -15 3zm14 3l14-2 -13-4 -15 3zm13 4l15-2 -14-4 -14 2zm14 4l15-2 -14-4 -15 2zm14 4l15-1 -14-5 -15 2zm14 4l15-1 -14-4 -15 1z"/><path class=aC d="M623 1895l14-1 -14-5 -15 1zm14 4l14 0 -14-5 -14 1zm14 5l15 0 -15-5 -14 0zm14 5l15 0 -14-5 -15 0z"/><path class=aB d="M680 1914l15 1 -15-6 -15 0zm15 6l14 1 -14-6 -15-1zm14 6l15 1 -15-6 -14-1zm15 6l15 1 -15-6 -15-1z"/><path class=aA d="M739 1938l14 2 -14-7 -15-1zm15 7l14 2 -15-7 -14-2z"/><path class=az d="M769 1952l14 2 -15-7 -14-2zm15 7l14 3 -15-8 -14-2zm15 8l15 3 -16-8 -14-3z"/><path class=ay d="M815 1976l14 3 -15-9 -15-3z"/><path class=ax d="M830 1984l14 4 -15-9 -14-3zm15 9l15 4 -16-9 -14-4z"/><path class=aw d="M861 2003l14 4 -15-10 -15-4zm16 10l14 4 -16-10 -14-4z"/><path class=av d="M892 2023l14 5 -15-11 -14-4z"/><path class=au d="M908 2034l14 5 -16-11 -14-5z"/><path class=at d="M924 2046l14 5 -16-12 -14-5z"/><path class=as d="M940 2058l14 6 -16-13 -14-5zm16 13l14 6 -16-13 -14-6z"/><path class=ar d="M972 2084l14 6 -16-13 -14-6z"/><path class=aE d="M444 1854l15-4 -13-3 -15 4zm13 3l15-4 -13-3 -15 4z"/><path class=aD d="M471 1860l14-3 -13-4 -15 4zm13 3l15-3 -14-3 -14 3zm13 3l15-3 -13-3 -15 3zm14 4l14-3 -13-4 -15 3zm13 3l15-2 -14-4 -14 3zm14 3l15-2 -14-3 -15 2zm14 4l14-2 -13-4 -15 2zm14 3l14-1 -14-4 -14 2zm14 4l14-1 -14-4 -14 1zm14 4l14-1 -14-4 -14 1zm14 4l15 0 -15-5 -14 1z"/><path class=aC d="M622 1900l15-1 -14-4 -15 0zm14 4l15 0 -14-5 -15 1z"/><path class=a0 d="M651 1909l14 0 -14-5 -15 0zm14 5l15 0 -15-5 -14 0zm15 5l15 1 -15-6 -15 0z"/><path class=aZ d="M695 1925l14 1 -14-6 -15-1zm14 5l15 2 -15-6 -14-1zm15 6l15 2 -15-6 -15-2z"/><path class=aY d="M739 1943l15 2 -15-7 -15-2zm15 7l15 2 -15-7 -15-2zm16 7l14 2 -15-7 -15-2z"/><path class=aX d="M785 1964l14 3 -15-8 -14-2zm15 8l15 4 -16-9 -14-3z"/><path class=aW d="M816 1981l14 3 -15-8 -15-4z"/><path class=ay d="M831 1989l14 4 -15-9 -14-3z"/><path class=ax d="M847 1999l14 4 -16-10 -14-4z"/><path class=aw d="M862 2008l15 5 -16-10 -14-4zm16 11l14 4 -15-10 -15-5z"/><path class=av d="M894 2029l14 5 -16-11 -14-4z"/><path class=au d="M910 2040l14 6 -16-12 -14-5z"/><path class=at d="M926 2052l14 6 -16-12 -14-6zm16 13l14 6 -16-13 -14-6z"/><path class=as d="M958 2077l14 7 -16-13 -14-6z"/><path class=aD d="M429 1858l15-4 -13-3 -15 4zm14 3l14-4 -13-3 -15 4zm13 2l15-3 -14-3 -14 4zm13 3l15-3 -13-3 -15 3zm14 3l14-3 -13-3 -15 3zm13 3l15-2 -14-4 -14 3zm14 3l14-2 -13-3 -15 2zm13 3l15-2 -14-3 -14 2zm14 4l15-2 -14-4 -15 2zm14 3l15-2 -14-3 -15 2zm14 3l15-1 -14-4 -15 2zm14 4l15-1 -14-4 -15 1z"/><path class=a1 d="M593 1896l15-1 -14-4 -15 1zm14 4l15 0 -14-5 -15 1zm15 4l14 0 -14-4 -15 0z"/><path class=a0 d="M636 1909l15 0 -15-5 -14 0zm15 4l14 1 -14-5 -15 0zm14 5l15 1 -15-5 -14-1zm15 5l15 2 -15-6 -15-1z"/><path class=aZ d="M695 1929l14 1 -14-5 -15-2zm15 6l14 1 -15-6 -14-1zm15 6l14 2 -15-7 -14-1zm15 6l14 3 -15-7 -14-2z"/><path class=aY d="M755 1954l15 3 -16-7 -14-3zm15 7l15 3 -15-7 -15-3z"/><path class=aX d="M786 1969l14 3 -15-8 -15-3zm15 8l15 4 -16-9 -14-3z"/><path class=aW d="M817 1986l14 3 -15-8 -15-4zm15 9l15 4 -16-10 -14-3z"/><path class=aV d="M848 2004l14 4 -15-9 -15-4z"/><path class=ax d="M864 2014l14 5 -16-11 -14-4z"/><path class=aw d="M879 2024l15 5 -16-10 -14-5z"/><path class=av d="M895 2035l15 5 -16-11 -15-5z"/><path class=au d="M911 2046l15 6 -16-12 -15-5z"/><path class=at d="M927 2058l15 7 -16-13 -15-6zm17 13l14 6 -16-12 -15-7z"/><path class=aD d="M415 1862l14-4 -13-3 -14 4zm13 2l15-3 -14-3 -14 4zm13 3l15-4 -13-2 -15 3zm13 3l15-4 -13-3 -15 4zm14 2l15-3 -14-3 -15 4zm13 3l15-3 -13-3 -15 3zm14 3l15-3 -14-3 -15 3zm13 2l15-2 -13-3 -15 3zm14 3l15-1 -14-4 -15 2zm14 4l15-2 -14-3 -15 1z"/><path class=a1 d="M550 1890l15-2 -14-3 -15 2zm14 3l15-1 -14-4 -15 2zm14 4l15-1 -14-4 -15 1zm14 3l15 0 -14-4 -15 1zm15 4l15 0 -15-4 -15 0zm14 4l15 1 -14-5 -15 0zm15 5l15 0 -15-4 -15-1z"/><path class=a0 d="M650 1918l15 0 -14-5 -15 0zm15 4l15 1 -15-5 -15 0zm15 6l15 1 -15-6 -15-1zm15 5l15 2 -15-6 -15-1z"/><path class=aZ d="M710 1939l15 2 -15-6 -15-2zm15 6l15 2 -15-6 -15-2zm15 7l15 2 -15-7 -15-2z"/><path class=aY d="M755 1959l15 2 -15-7 -15-2zm16 7l15 3 -16-8 -15-2zm15 8l15 3 -15-8 -15-3z"/><path class=aX d="M802 1982l15 4 -16-9 -15-3zm16 8l14 5 -15-9 -15-4z"/><path class=aW d="M833 1999l15 5 -16-9 -14-5z"/><path class=aV d="M849 2009l15 5 -16-10 -15-5zm16 10l14 5 -15-10 -15-5z"/><path class=aU d="M881 2030l14 5 -16-11 -14-5z"/><path class=av d="M897 2041l14 5 -16-11 -14-5z"/><path class=au d="M913 2052l14 6 -16-12 -14-5zm16 13l15 6 -17-13 -14-6z"/><path class=aD d="M400 1866l15-4 -13-3 -15 5zm13 2l15-4 -13-2 -15 4zm13 2l15-3 -13-3 -15 4zm13 3l15-3 -13-3 -15 3zm14 2l15-3 -14-2 -15 3zm13 3l15-3 -13-3 -15 3zm14 2l15-2 -14-3 -15 3zm13 3l15-3 -13-2 -15 2z"/><path class=a1 d="M507 1885l15-2 -14-3 -15 3zm14 3l15-1 -14-4 -15 2zm14 3l15-1 -14-3 -15 1zm14 3l15-1 -14-3 -15 1zm14 3l15 0 -14-4 -15 1zm14 4l15-1 -14-3 -15 0zm15 3l15 0 -15-4 -15 1zm14 4l15 0 -14-4 -15 0zm15 4l15 1 -15-5 -15 0zm14 5l15 1 -14-5 -15-1zm15 4l15 1 -15-4 -15-1z"/><path class=a0 d="M665 1926l15 2 -15-6 -15-1zm15 5l15 2 -15-5 -15-2zm15 6l15 2 -15-6 -15-2zm15 6l15 2 -15-6 -15-2z"/><path class=aZ d="M725 1949l15 3 -15-7 -15-2zm16 7l14 3 -15-7 -15-3zm15 7l15 3 -16-7 -14-3z"/><path class=aY d="M772 1970l14 4 -15-8 -15-3zm15 8l15 4 -16-8 -14-4z"/><path class=aX d="M803 1986l15 4 -16-8 -15-4zm16 9l14 4 -15-9 -15-4z"/><path class=aW d="M834 2004l15 5 -16-10 -14-4zm16 10l15 5 -16-10 -15-5z"/><path class=aV d="M866 2024l15 6 -16-11 -15-5z"/><path class=aU d="M882 2035l15 6 -16-11 -15-6z"/><path class=av d="M899 2046l14 6 -16-11 -15-6zm16 12l14 7 -16-13 -14-6z"/><path class=aD d="M385 1870l15-4 -13-2 -15 4zm13 2l15-4 -13-2 -15 4zm13 2l15-4 -13-2 -15 4zm13 2l15-3 -13-3 -15 4zm14 2l15-3 -14-2 -15 3zm13 2l15-2 -13-3 -15 3z"/><path class=a1 d="M465 1883l15-3 -14-2 -15 2zm13 2l15-2 -13-3 -15 3zm14 2l15-2 -14-2 -15 2zm14 3l15-2 -14-3 -15 2zm14 2l15-1 -14-3 -15 2zm14 3l15-1 -14-3 -15 1zm14 3l15-1 -14-3 -15 1zm14 3l15 0 -14-4 -15 1zm15 4l15-1 -15-3 -15 0zm14 3l15 0 -14-4 -15 1zm15 4l15 0 -15-4 -15 0zm14 4l15 1 -14-5 -15 0zm15 4l15 1 -15-4 -15-1zm15 5l15 1 -15-5 -15-1zm15 5l15 1 -15-5 -15-1z"/><path class=a0 d="M680 1935l15 2 -15-6 -15-1zm15 6l15 2 -15-6 -15-2zm15 5l15 3 -15-6 -15-2zm16 7l15 3 -16-7 -15-3z"/><path class=aZ d="M741 1959l15 4 -15-7 -15-3zm16 8l15 3 -16-7 -15-4z"/><path class=aY d="M772 1974l15 4 -15-8 -15-3zm16 8l15 4 -16-8 -15-4zm16 8l15 5 -16-9 -15-4z"/><path class=aX d="M820 1999l14 5 -15-9 -15-5z"/><path class=aW d="M836 2009l14 5 -16-10 -14-5zm16 10l14 5 -16-10 -14-5z"/><path class=aV d="M868 2029l14 6 -16-11 -14-5z"/><path class=aU d="M884 2040l15 6 -17-11 -14-6zm16 12l15 6 -16-12 -15-6z"/><path class=aD d="M370 1874l15-4 -13-2 -15 4zm13 2l15-4 -13-2 -15 4zm13 2l15-4 -13-2 -15 4zm13 1l15-3 -13-2 -15 4zm14 2l15-3 -14-2 -15 3z"/><path class=a1 d="M436 1883l15-3 -13-2 -15 3zm14 2l15-2 -14-3 -15 3zm13 2l15-2 -13-2 -15 2zm14 2l15-2 -14-2 -15 2z"/><path class=a2 d="M491 1891l15-1 -14-3 -15 2zm14 3l15-2 -14-2 -15 1zm14 2l15-1 -14-3 -15 2zm14 3l15-1 -14-3 -15 1zm14 3l15-1 -14-3 -15 1zm14 3l16 0 -15-4 -15 1z"/><path class=bh d="M576 1908l15 0 -14-3 -16 0zm14 4l16 0 -15-4 -15 0z"/><path class=bg d="M605 1915l15 1 -14-4 -16 0zm15 4l15 1 -15-4 -15-1zm15 5l15 1 -15-5 -15-1zm15 4l15 2 -15-5 -15-1zm15 5l15 2 -15-5 -15-2zm15 5l15 3 -15-6 -15-2z"/><path class=bf d="M695 1944l15 2 -15-5 -15-3zm15 6l16 3 -16-7 -15-2zm16 6l15 3 -15-6 -16-3zm15 7l16 4 -16-8 -15-3z"/><path class=be d="M757 1970l15 4 -15-7 -16-4z"/><path class=aZ d="M773 1978l15 4 -16-8 -15-4z"/><path class=aY d="M789 1986l15 4 -16-8 -15-4zm16 9l15 4 -16-9 -15-4z"/><path class=aX d="M821 2004l15 5 -16-10 -15-4zm16 9l15 6 -16-10 -15-5z"/><path class=aW d="M853 2023l15 6 -16-10 -15-6z"/><path class=aV d="M869 2034l15 6 -16-11 -15-6zm17 11l14 7 -16-12 -15-6z"/><path class=aD d="M355 1878l15-4 -13-2 -15 5zm13 2l15-4 -13-2 -15 4zm13 1l15-3 -13-2 -15 4zm13 2l15-4 -13-1 -15 3z"/><path class=a1 d="M407 1884l16-3 -14-2 -15 4zm14 2l15-3 -13-2 -16 3zm13 2l16-3 -14-2 -15 3zm14 1l15-2 -13-2 -16 3z"/><path class=a2 d="M462 1891l15-2 -14-2 -15 2zm13 2l16-2 -14-2 -15 2zm14 2l16-1 -14-3 -16 2zm14 2l16-1 -14-2 -16 1z"/><path class=bh d="M517 1900l16-1 -14-3 -16 1zm15 2l15 0 -14-3 -16 1zm14 3l15 0 -14-3 -15 0zm15 3l15 0 -15-3 -15 0zm14 3l15 1 -14-4 -15 0zm15 4l15 0 -15-3 -15-1zm14 3l16 1 -15-4 -15 0zm15 4l16 2 -15-5 -16-1zm15 5l16 1 -15-4 -16-2z"/><path class=bg d="M649 1931l16 2 -15-5 -16-1zm16 5l15 2 -15-5 -16-2zm15 5l15 3 -15-6 -15-2zm15 6l15 3 -15-6 -15-3zm16 6l15 3 -16-6 -15-3z"/><path class=bf d="M726 1959l15 4 -15-7 -15-3zm16 7l15 4 -16-7 -15-4z"/><path class=be d="M758 1974l15 4 -16-8 -15-4zm16 7l15 5 -16-8 -15-4zm16 9l15 5 -16-9 -15-5z"/><path class=aY d="M806 1998l15 6 -16-9 -15-5zm16 10l15 5 -16-9 -15-6z"/><path class=aX d="M838 2018l15 5 -16-10 -15-5z"/><path class=aW d="M854 2028l15 6 -16-11 -15-5zm17 11l15 6 -17-11 -15-6z"/><path class=aC d="M339 1882l16-4 -13-1 -16 4z"/><path class=aD d="M352 1883l16-3 -13-2 -16 4z"/><path class=a1 d="M365 1885l16-4 -13-1 -16 3zm14 1l15-3 -13-2 -16 4zm13 1l15-3 -13-1 -15 3zm13 2l16-3 -14-2 -15 3zm14 1l15-2 -13-2 -16 3zm13 2l16-3 -14-1 -15 2z"/><path class=a2 d="M446 1893l16-2 -14-2 -16 3zm14 2l15-2 -13-2 -16 2z"/><path class=bh d="M474 1897l15-2 -14-2 -15 2zm14 2l15-2 -14-2 -15 2zm14 2l15-1 -14-3 -15 2zm14 2l16-1 -15-2 -15 1zm15 2l15 0 -14-3 -16 1zm14 3l16 0 -15-3 -15 0zm15 3l15 0 -14-3 -16 0zm14 3l16 1 -15-4 -15 0zm15 3l15 1 -14-3 -16-1zm15 4l15 1 -15-4 -15-1zm15 4l15 2 -15-5 -15-1zm15 4l15 2 -15-4 -15-2zm15 5l16 2 -16-5 -15-2zm15 5l16 2 -15-5 -16-2z"/><path class=bg d="M680 1944l15 3 -15-6 -16-2zm15 6l16 3 -16-6 -15-3zm16 6l15 3 -15-6 -16-3zm16 6l15 4 -16-7 -15-3z"/><path class=bf d="M742 1969l16 5 -16-8 -15-4zm16 8l16 4 -16-7 -16-5z"/><path class=be d="M774 1985l16 5 -16-9 -16-4zm16 8l16 5 -16-8 -16-5z"/><path class=bd d="M807 2002l15 6 -16-10 -16-5z"/><path class=aY d="M823 2012l15 6 -16-10 -15-6z"/><path class=aX d="M839 2022l15 6 -16-10 -15-6zm17 10l15 7 -17-11 -15-6z"/><path class=aC d="M324 1886l15-4 -13-1 -15 4z"/><path class=a0 d="M337 1887l15-4 -13-1 -15 4z"/><path class=a1 d="M350 1888l15-3 -13-2 -15 4zm13 1l16-3 -14-1 -15 3zm14 1l15-3 -13-1 -16 3zm13 2l15-3 -13-2 -15 3zm13 1l16-3 -14-1 -15 3z"/><path class=a2 d="M417 1894l15-2 -13-2 -16 3z"/><path class=bh d="M431 1895l15-2 -14-1 -15 2zm13 2l16-2 -14-2 -15 2zm14 1l16-1 -14-2 -16 2zm14 2l16-1 -14-2 -16 1zm14 2l16-1 -14-2 -16 1zm15 1l15 0 -14-2 -16 1zm14 3l16-1 -15-2 -15 0zm14 2l16 0 -14-3 -16 1z"/><path class=bi d="M544 1911l16 0 -15-3 -16 0zm15 2l15 1 -14-3 -16 0zm14 3l16 1 -15-3 -15-1zm15 4l16 1 -15-4 -16-1z"/><path class=bh d="M603 1923l16 2 -15-4 -16-1zm15 4l16 2 -15-4 -16-2zm16 5l15 2 -15-5 -16-2zm15 4l15 3 -15-5 -15-2zm15 5l16 3 -16-5 -15-3zm16 6l15 3 -15-6 -16-3zm15 5l16 4 -16-6 -15-3z"/><path class=bg d="M711 1959l16 3 -16-6 -16-4zm16 6l15 4 -15-7 -16-3zm16 7l15 5 -16-8 -15-4z"/><path class=bf d="M759 1980l15 5 -16-8 -15-5zm16 8l15 5 -16-8 -15-5z"/><path class=be d="M791 1997l16 5 -17-9 -15-5zm17 9l15 6 -16-10 -16-5z"/><path class=bd d="M824 2016l15 6 -16-10 -15-6z"/><path class=aY d="M841 2026l15 6 -17-10 -15-6z"/><path class=a0 d="M309 1891l15-5 -13-1 -15 5zm12 0l16-4 -13-1 -15 5z"/><path class=a1 d="M335 1892l15-4 -13-1 -16 4zm13 1l15-4 -13-1 -15 4zm13 1l16-4 -14-1 -15 4zm13 0l16-2 -13-2 -16 4z"/><path class=bg d="M388 1895l15-2 -13-1 -16 2z"/><path class=bh d="M401 1896l16-2 -14-1 -15 2zm14 1l16-2 -14-1 -16 2zm14 1l15-1 -13-2 -16 2zm14 2l15-2 -14-1 -15 1zm14 1l15-1 -14-2 -15 2zm14 1l15 0 -14-2 -15 1z"/><path class=bi d="M485 1904l16-1 -15-1 -15 0zm14 2l16 0 -14-3 -16 1zm15 2l15 0 -14-2 -16 0z"/><path class=bA d="M528 1910l16 1 -15-3 -15 0zm15 3l16 0 -15-2 -16-1zm15 2l15 1 -14-3 -16 0zm15 3l15 2 -15-4 -15-1zm14 4l16 1 -15-3 -15-2zm16 3l15 2 -15-4 -16-1zm15 4l16 3 -16-5 -15-2zm15 5l16 2 -15-4 -16-3zm16 4l15 3 -15-5 -16-2z"/><path class=bz d="M664 1943l16 4 -16-6 -15-3zm16 6l15 3 -15-5 -16-4z"/><path class=bh d="M695 1955l16 4 -16-7 -15-3zm16 6l16 4 -16-6 -16-4z"/><path class=bg d="M727 1968l16 4 -16-7 -16-4zm16 7l16 5 -16-8 -16-4zm17 8l15 5 -16-8 -16-5z"/><path class=bf d="M776 1991l15 6 -16-9 -15-5zm16 9l16 6 -17-9 -15-6z"/><path class=be d="M809 2009l15 7 -16-10 -16-6z"/><path class=bd d="M825 2019l16 7 -17-10 -15-7z"/><path class=a0 d="M293 1895l16-4 -13-1 -16 4zm13 0l15-4 -12 0 -16 4zm13 1l16-4 -14-1 -15 4z"/><path class=a1 d="M332 1896l16-3 -13-1 -16 4zm13 1l16-3 -13-1 -16 3z"/><path class=bg d="M359 1897l15-3 -13 0 -16 3zm13 1l16-3 -14-1 -15 3z"/><path class=bh d="M386 1899l15-3 -13-1 -16 3zm13 0l16-2 -14-1 -15 3zm14 1l16-2 -14-1 -16 2zm14 1l16-1 -14-2 -16 2zm14 1l16-1 -14-1 -16 1z"/><path class=bi d="M455 1903l16-1 -14-1 -16 1z"/><path class=bA d="M469 1905l16-1 -14-2 -16 1zm14 1l16 0 -14-2 -16 1zm15 2l16 0 -15-2 -16 0zm14 2l16 0 -14-2 -16 0zm15 2l16 1 -15-3 -16 0zm15 3l16 0 -15-2 -16-1zm15 2l16 1 -15-3 -16 0zm15 3l15 2 -14-4 -16-1zm15 4l16 1 -16-3 -15-2zm15 3l16 2 -15-4 -16-1zm15 4l16 3 -15-5 -16-2zm16 4l16 3 -16-4 -16-3zm15 5l16 3 -15-5 -16-3zm16 5l16 4 -16-6 -16-3zm16 6l15 4 -15-6 -16-4z"/><path class=bz d="M696 1957l15 4 -16-6 -15-4zm16 6l15 5 -16-7 -15-4zm16 7l15 5 -16-7 -15-5z"/><path class=bg d="M744 1978l16 5 -17-8 -15-5zm16 8l16 5 -16-8 -16-5zm17 8l15 6 -16-9 -16-5z"/><path class=bf d="M793 2003l16 6 -17-9 -15-6z"/><path class=be d="M810 2013l15 6 -16-10 -16-6z"/><path class=a0 d="M277 1899l16-4 -13-1 -16 5zm13 0l16-4 -13 0 -16 4zm13 1l16-4 -13-1 -16 4z"/><path class=bg d="M316 1900l16-4 -13 0 -16 4zm14 0l15-3 -13-1 -16 4zm13 0l16-3 -14 0 -15 3zm13 1l16-3 -13-1 -16 3z"/><path class=bh d="M370 1901l16-2 -14-1 -16 3zm13 0l16-2 -13 0 -16 2zm14 1l16-2 -14-1 -16 2z"/><path class=bz d="M411 1903l16-2 -14-1 -16 2z"/><path class=bA d="M425 1903l16-1 -14-1 -16 2zm14 1l16-1 -14-1 -16 1zm14 1l16 0 -14-2 -16 1zm14 2l16-1 -14-1 -16 0zm15 1l16 0 -15-2 -16 1zm14 2l16 0 -14-2 -16 0z"/><path class=bB d="M511 1912l16 0 -15-2 -16 0zm15 2l16 1 -15-3 -16 0zm15 2l16 1 -15-2 -16-1zm15 3l16 1 -15-3 -16-1zm15 3l16 2 -15-4 -16-1zm15 3l16 2 -15-3 -16-2zm15 4l16 2 -15-4 -16-2zm16 4l16 2 -16-4 -16-2zm15 4l16 3 -15-5 -16-2zm16 5l16 3 -16-5 -16-3z"/><path class=bA d="M664 1947l16 4 -16-6 -16-3zm16 6l16 4 -16-6 -16-4zm16 6l16 4 -16-6 -16-4zm16 6l16 5 -16-7 -16-4z"/><path class=bz d="M728 1972l16 6 -16-8 -16-5zm16 8l16 6 -16-8 -16-6z"/><path class=bg d="M761 1988l16 6 -17-8 -16-6zm16 9l16 6 -16-9 -16-6z"/><path class=bf d="M794 2006l16 7 -17-10 -16-6z"/><path class=a0 d="M261 1903l16-4 -13 0 -15 4zm13 0l16-4 -13 0 -16 4z"/><path class=bf d="M287 1903l16-3 -13-1 -16 4z"/><path class=bg d="M300 1903l16-3 -13 0 -16 3zm14 0l16-3 -14 0 -16 3zm13 0l16-3 -13 0 -16 3zm13 0l16-2 -13-1 -16 3z"/><path class=bh d="M354 1903l16-2 -14 0 -16 2z"/><path class=bz d="M367 1904l16-3 -13 0 -16 2zm14 0l16-2 -14-1 -16 3z"/><path class=bA d="M395 1904l16-1 -14-1 -16 2zm14 1l16-2 -14 0 -16 1zm14 0l16-1 -14-1 -16 2zm14 1l16-1 -14-1 -16 1zm14 1l16 0 -14-2 -16 1z"/><path class=bB d="M466 1908l16 0 -15-1 -16 0zm14 1l16 1 -14-2 -16 0zm15 2l16 1 -15-2 -16-1zm15 2l16 1 -15-2 -16-1zm14 2l17 1 -15-2 -16-1zm15 2l17 2 -15-3 -17-1zm16 3l16 2 -15-3 -17-2zm15 3l16 2 -15-3 -16-2zm15 3l16 3 -15-4 -16-2zm16 4l16 3 -16-4 -16-3zm15 4l16 3 -15-4 -16-3zm16 4l16 4 -16-5 -16-3zm16 5l16 4 -16-5 -16-4zm16 5l16 5 -16-6 -16-4zm16 6l16 5 -16-6 -16-5z"/><path class=bA d="M696 1960l16 5 -16-6 -16-5zm16 7l16 5 -16-7 -16-5zm16 7l16 6 -16-8 -16-5z"/><path class=bz d="M745 1982l16 6 -17-8 -16-6zm17 9l15 6 -16-9 -16-6z"/><path class=bg d="M778 1999l16 7 -17-9 -15-6z"/><path class=aZ d="M246 1908l15-5 -12 0 -16 5z"/><path class=bf d="M258 1908l16-5 -13 0 -15 5zm13-1l16-4 -13 0 -16 5zm13 0l16-4 -13 0 -16 4z"/><path class=bg d="M298 1907l16-4 -14 0 -16 4zm13-1l16-3 -13 0 -16 4zm13 0l16-3 -13 0 -16 3z"/><path class=bz d="M338 1906l16-3 -14 0 -16 3zm13 0l16-2 -13-1 -16 3zm14 0l16-2 -14 0 -16 2z"/><path class=bA d="M379 1906l16-2 -14 0 -16 2zm14 0l16-1 -14-1 -16 2zm14 0l16-1 -14 0 -16 1zm14 1l16-1 -14-1 -16 1z"/><path class=bB d="M435 1907l16 0 -14-1 -16 1zm14 1l17 0 -15-1 -16 0z"/><path class=bT d="M464 1909l16 0 -14-1 -17 0zm15 1l16 1 -15-2 -16 0zm14 2l17 1 -15-2 -16-1z"/><path class=bU d="M508 1914l16 1 -14-2 -17-1zm15 2l16 1 -15-2 -16-1zm15 2l17 2 -16-3 -16-1zm16 3l16 2 -15-3 -17-2zm15 2l16 3 -15-3 -16-2zm15 4l17 3 -16-4 -16-3zm16 4l16 3 -15-4 -17-3zm16 4l16 3 -16-4 -16-3zm15 4l17 4 -16-5 -16-3zm16 5l17 4 -16-5 -17-4z"/><path class=bB d="M663 1950l17 4 -16-6 -17-4zm17 5l16 5 -16-6 -17-4zm16 7l16 5 -16-7 -16-5zm16 7l16 5 -16-7 -16-5z"/><path class=bA d="M729 1976l16 6 -17-8 -16-5zm16 8l17 7 -17-9 -16-6z"/><path class=bz d="M762 1993l16 6 -16-8 -17-7z"/><path class=be d="M230 1912l16-4 -13 0 -16 5z"/><path class=bf d="M242 1912l16-4 -12 0 -16 4zm13-1l16-4 -13 1 -16 4zm13-1l16-3 -13 0 -16 4z"/><path class=bg d="M281 1910l17-3 -14 0 -16 3z"/><path class=by d="M295 1909l16-3 -13 1 -17 3zm13 0l16-3 -13 0 -16 3z"/><path class=bz d="M321 1908l17-2 -14 0 -16 3zm14 0l16-2 -13 0 -17 2zm14 0l16-2 -14 0 -16 2z"/><path class=bA d="M362 1907l17-1 -14 0 -16 2zm14 0l17-1 -14 0 -17 1zm14 0l17-1 -14 0 -17 1z"/><path class=bT d="M404 1907l17 0 -14-1 -17 1zm15 1l16-1 -14 0 -17 0zm14 0l16 0 -14-1 -16 1zm15 1l16 0 -15-1 -16 0z"/><path class=bU d="M462 1910l17 0 -15-1 -16 0zm15 1l16 1 -14-2 -17 0zm15 1l16 2 -15-2 -16-1zm15 2l16 2 -15-2 -16-2zm15 2l16 2 -15-2 -16-2zm15 2l17 3 -16-3 -16-2zm15 3l17 2 -15-2 -17-3zm16 3l16 3 -15-4 -17-2zm15 3l17 4 -16-4 -16-3zm16 4l17 4 -16-4 -17-4zm16 4l16 4 -15-4 -17-4zm16 5l16 4 -16-5 -16-4zm16 5l16 5 -16-6 -16-4zm16 5l17 5 -17-5 -16-5zm17 6l16 6 -16-7 -17-5z"/><path class=bB d="M696 1963l16 6 -16-7 -16-6zm17 7l16 6 -17-7 -16-6zm16 8l16 6 -16-8 -16-6z"/><path class=bA d="M746 1986l16 7 -17-9 -16-6z"/><path class=be d="M214 1917l16-5 -13 1 -16 4z"/><path class=bf d="M226 1916l16-4 -12 0 -16 5zm13-1l16-4 -13 1 -16 4zm13-1l16-4 -13 1 -16 4z"/><path class=by d="M265 1913l16-3 -13 0 -16 4zm13-1l17-3 -14 1 -16 3zm14 0l16-3 -13 0 -17 3z"/><path class=bz d="M305 1911l16-3 -13 1 -16 3zm14-1l16-2 -14 0 -16 3z"/><path class=bA d="M332 1909l17-1 -14 0 -16 2z"/><path class=bS d="M346 1909l16-2 -13 1 -17 1zm14 0l16-2 -14 0 -16 2z"/><path class=bT d="M374 1908l16-1 -14 0 -16 2zm14 0l16-1 -14 0 -16 1zm14 0l17 0 -15-1 -16 1z"/><path class=bU d="M417 1908l16 0 -14 0 -17 0zm14 1l17 0 -15-1 -16 0zm15 0l16 1 -14-1 -17 0zm14 1l17 1 -15-1 -16-1zm15 1l17 1 -15-1 -17-1z"/><path class=bV d="M490 1912l17 2 -15-2 -17-1zm15 2l17 2 -15-2 -17-2zm15 2l17 2 -15-2 -17-2zm16 2l16 3 -15-3 -17-2zm15 3l17 3 -16-3 -16-3zm16 3l16 3 -15-3 -17-3zm16 3l16 4 -16-4 -16-3zm15 4l17 4 -16-4 -16-4zm16 5l17 4 -16-5 -17-4zm17 4l16 5 -16-5 -17-4zm16 5l16 5 -16-5 -16-5z"/><path class=bU d="M663 1951l17 5 -17-6 -16-5zm17 6l16 6 -16-7 -17-5zm16 7l17 6 -17-7 -16-6z"/><path class=bC d="M713 1971l16 7 -16-8 -17-6z"/><path class=bB d="M730 1979l16 7 -17-8 -16-7z"/><path class=be d="M197 1921l17-4 -13 0 -16 5zm13-1l16-4 -12 1 -17 4z"/><path class=bf d="M223 1919l16-4 -13 1 -16 4z"/><path class=bx d="M236 1918l16-4 -13 1 -16 4z"/><path class=by d="M249 1917l16-4 -13 1 -16 4zm13-1l16-4 -13 1 -16 4zm13-2l17-2 -14 0 -16 4z"/><path class=bz d="M289 1913l16-2 -13 1 -17 2z"/><path class=bR d="M302 1912l17-2 -14 1 -16 2z"/><path class=bS d="M316 1911l16-2 -13 1 -17 2zm14 0l16-2 -14 0 -16 2zm13-1l17-1 -14 0 -16 2z"/><path class=bT d="M357 1909l17-1 -14 1 -17 1zm14 0l17-1 -14 0 -17 1zm15-1l16 0 -14 0 -17 1z"/><path class=bU d="M400 1908l17 0 -15 0 -16 0zm14 0l17 1 -14-1 -17 0zm15 1l17 0 -15 0 -17-1z"/><path class=bV d="M444 1909l16 1 -14-1 -17 0zm14 1l17 1 -15-1 -16-1zm15 1l17 1 -15-1 -17-1zm16 1l16 2 -15-2 -17-1zm15 2l16 2 -15-2 -16-2z"/><path class=bE d="M519 1916l17 2 -16-2 -16-2zm16 2l16 3 -15-3 -17-2zm15 3l17 3 -16-3 -16-3zm16 3l17 3 -16-3 -17-3zm16 3l16 4 -15-4 -17-3zm16 4l16 5 -16-5 -16-4zm16 5l17 4 -17-4 -16-5z"/><path class=bV d="M630 1940l17 5 -16-5 -17-4zm16 6l17 5 -16-6 -17-5zm17 6l17 5 -17-6 -17-5zm17 6l16 6 -16-7 -17-5zm16 7l17 6 -17-7 -16-6z"/><path class=bU d="M713 1972l17 7 -17-8 -17-6z"/><path class=be d="M181 1926l16-5 -12 1 -17 5z"/><path class=bw d="M194 1924l16-4 -13 1 -16 5z"/><path class=bx d="M207 1923l16-4 -13 1 -16 4zm12-2l17-3 -13 1 -16 4z"/><path class=by d="M232 1920l17-3 -13 1 -17 3zm14-1l16-3 -13 1 -17 3zm13-2l16-3 -13 2 -16 3z"/><path class=bR d="M272 1916l17-3 -14 1 -16 3zm14-1l16-3 -13 1 -17 3z"/><path class=bS d="M299 1913l17-2 -14 1 -16 3zm14-1l17-1 -14 0 -17 2z"/><path class=bT d="M327 1911l16-1 -13 1 -17 1zm14-1l16-1 -14 1 -16 1zm14 0l16-1 -14 0 -16 1z"/><path class=bU d="M369 1909l17-1 -15 1 -16 1zm14-1l17 0 -14 0 -17 1zm15 0l16 0 -14 0 -17 0z"/><path class=bV d="M412 1908l17 1 -15-1 -16 0zm15 0l17 1 -15 0 -17-1zm15 1l16 1 -14-1 -17-1z"/><path class=bE d="M457 1909l16 2 -15-1 -16-1zm15 1l17 2 -16-1 -16-2zm15 2l17 2 -15-2 -17-2zm15 1l17 3 -15-2 -17-2zm16 2l17 3 -16-2 -17-3zm15 3l17 3 -15-3 -17-3zm16 2l17 4 -16-3 -17-3zm16 3l17 4 -16-3 -17-4zm16 4l17 4 -16-4 -17-4zm16 4l17 5 -16-5 -17-4zm16 4l17 5 -16-4 -17-5zm17 5l16 6 -16-6 -17-5zm16 6l17 6 -17-6 -16-6zm17 6l17 6 -17-6 -17-6z"/><path class=bV d="M680 1958l16 7 -16-7 -17-6zm16 8l17 6 -17-7 -16-7z"/><path class=bw d="M165 1930l16-4 -13 1 -16 5zm12-2l17-4 -13 2 -16 4z"/><path class=bx d="M190 1927l17-4 -13 1 -17 4zm13-2l16-4 -12 2 -17 4z"/><path class=by d="M216 1923l16-3 -13 1 -16 4z"/><path class=bQ d="M229 1922l17-3 -14 1 -16 3zm13-2l17-3 -13 2 -17 3z"/><path class=bR d="M255 1918l17-2 -13 1 -17 3zm14-1l17-2 -14 1 -17 2z"/><path class=bS d="M282 1915l17-2 -13 2 -17 2zm14-1l17-2 -14 1 -17 2z"/><path class=bT d="M310 1913l17-2 -14 1 -17 2zm14-2l17-1 -14 1 -17 2z"/><path class=bU d="M338 1910l17 0 -14 0 -17 1zm14-1l17 0 -14 1 -17 0zm14 0l17-1 -14 1 -17 0z"/><path class=bV d="M381 1908l17 0 -15 0 -17 1zm14 0l17 0 -14 0 -17 0zm15-1l17 1 -15 0 -17 0z"/><path class=bE d="M425 1908l17 1 -15-1 -17-1zm15 0l17 1 -15 0 -17-1zm15 1l17 1 -15-1 -17-1zm15 0l17 3 -15-2 -17-1z"/><path class=da d="M485 1911l17 2 -15-1 -17-3zm16 1l17 3 -16-2 -17-2zm15 2l17 4 -15-3 -17-3zm16 3l17 3 -16-2 -17-4zm16 2l17 4 -16-3 -17-3zm16 4l17 4 -16-4 -17-4zm16 3l17 5 -16-4 -17-4zm16 4l17 5 -16-4 -17-5zm17 5l17 5 -17-5 -17-5zm16 5l17 6 -16-6 -17-5zm17 6l17 6 -17-6 -17-6z"/><path class=bE d="M663 1952l17 6 -17-6 -17-6zm16 7l17 7 -16-8 -17-6z"/></g>
<path d="M42 482.4 43 482.3 44 482.2 45 482.1 46 481.9 47 481.8 48 481.7 49 481.5 50 481.4 51 481.3 52 481.1 53 481 54 480.9 55 480.8 56 480.6 57 480.5 58 480.4 59 480.3 60 480.1 61 480 62 479.9 63 479.8 64 479.6 65 479.5 66 479.4 67 479.3 68 479.2 69 479.1 70 478.9 71 478.8 72 478.7 73 478.6 74 478.5 75 478.4 76 478.3 77 478.2 78 478.1 79 478.1 80 478 81 477.9 82 477.8 83 477.7 84 477.7 85 477.6 86 477.6 87 477.5 88 477.4 89 477.4 90 477.3 91 477.3 92 477.3 93 477.2 94 477.2 95 477.2 96 477.1 97 477.1 98 477.1 99 477.1 100 477.1 101 477.1 102 477.1 103 477.1 104 477.1 105 477.1 106 477.1 107 477.2 108 477.2 109 477.2 110 477.3 111 477.3 112 477.4 113 477.4 114 477.5 115 477.5 116 477.6 117 477.7 118 477.8 119 477.8 120 477.9 121 478 122 478.1 123 478.2 124 478.3 125 478.4 126 478.6 127 478.7 128 478.8 129 478.9 130 479.1 131 479.2 132 479.3 133 479.5 134 479.7 135 479.8 136 480 137 480.2 138 480.4 139 480.6 140 480.7 141 481 142 481.2 143 481.4 144 481.6 145 481.9 146 482.1 147 482.3 148 482.6 149 482.8 150 483 151 483.3 152 483.6 153 483.8 154 484.2 155 484.5 156 484.7 157 485.1 158 485.3 159 485.7 160 486.1 161 486.3 162 486.8 163 487 164 487.4 165 487.9 166 488.1 167 488.6 168 488.9 169 489.4 170 489.7 171 490.2 172 490.7 173 491 174 491.5 175 491.7 176 492.3 177 492.8 178 493 179 493.5 180 493.8 181 494.3 182 494.8 183 495.1 184 495.6 185 496.1 186 496.3 187 496.8 188 497.2 189 497.6 190 498.1 191 498.4 192 498.9 193 499.4 194 499.7 195 500.1 196 500.6 197 501 198 501.4 199 501.9 200 502.4 201 502.6 202 503.1 203 503.6 204 503.8 205 504.3 206 504.8 207 505.3 208 505.6 209 506.1 210 506.6 211 507 212 507.3 213 507.8 214 508.3 215 508.8 216 509 217 509.5 218 510 219 510.5 220 510.9 221 511.2 222 511.7 223 512.2 224 512.6 225 513.1 226 513.4 227 513.8 228 514.3 229 514.8 230 515.3 231 515.8 232 516 233 516.5 234 517 235 517.4 236 517.9 237 518.4 238 518.9 239 519.4 240 519.8 241 520.1 242 520.5 243 521 244 521.5 245 522 246 522.4 247 522.9 248 523.4 249 523.9 250 524.3 250 524.3 249 523.8 248 523.2 247 522.7 246 522.1 245 521.5 244 521 243 520.4 242 519.9 241 519.3 240 519 239 518.4 238 517.9 237 517.3 236 516.8 235 516.2 234 515.6 233 515.1 232 514.5 231 514.2 230 513.6 229 513.1 228 512.5 227 511.9 226 511.4 225 511 224 510.5 223 509.9 222 509.3 221 508.8 220 508.4 219 507.9 218 507.3 217 506.7 216 506.2 215 505.8 214 505.3 213 504.7 212 504.1 211 503.8 210 503.2 209 502.6 208 502.1 207 501.7 206 501.2 205 500.6 204 500 203 499.7 202 499.1 201 498.5 200 498.2 199 497.6 198 497 197 496.6 196 496.1 195 495.5 194 495 193 494.6 192 494 191 493.5 190 493.1 189 492.6 188 492.2 187 491.8 186 491.3 185 491.1 184 490.6 183 490.1 182 489.8 181 489.3 180 488.8 179 488.5 178 488 177 487.8 176 487.3 175 486.7 174 486.5 173 486 172 485.7 171 485.2 170 484.7 169 484.4 168 483.9 167 483.6 166 483.1 165 482.9 164 482.4 163 482 162 481.8 161 481.3 160 481.1 159 480.7 158 480.3 157 480.1 156 479.7 155 479.5 154 479.2 153 478.8 152 478.6 151 478.3 150 478 149 477.8 148 477.6 147 477.3 146 477.1 145 476.9 144 476.6 143 476.4 142 476.2 141 476 140 475.7 139 475.6 138 475.4 137 475.2 136 475 135 474.8 134 474.7 133 474.5 132 474.3 131 474.2 130 474.1 129 473.9 128 473.8 127 473.7 126 473.6 125 473.4 124 473.3 123 473.2 122 473.1 121 473 120 472.9 119 472.8 118 472.8 117 472.7 116 472.6 115 472.5 114 472.5 113 472.4 112 472.4 111 472.3 110 472.3 109 472.2 108 472.2 107 472.2 106 472.1 105 472.1 104 472.1 103 472.1 102 472.1 101 472.1 100 472.1 99 472.1 98 472.1 97 472.1 96 472.1 95 472.2 94 472.2 93 472.2 92 472.3 91 472.3 90 472.3 89 472.4 88 472.4 87 472.5 86 472.6 85 472.6 84 472.7 83 472.7 82 472.8 81 472.9 80 473 79 473.1 78 473.1 77 473.2 76 473.3 75 473.4 74 473.5 73 473.6 72 473.7 71 474 70 474.3 69 474.6 68 474.8 67 475.1 66 475.4 65 475.7 64 476 63 476.3 62 476.5 61 476.8 60 477.1 59 477.4 58 477.7 57 478 56 478.3 55 478.6 54 478.9 53 479.2 52 479.5 51 479.8 50 480.1 49 480.3 48 480.7 47 481 46 481.3 45 481.6 44 481.8 43 482.1 42 482.4Z" fill="#140804" fill-opacity="0.3"/><path d="M42 482.4 43 482.3 44 482.2 45 482.1 46 481.9 47 481.8 48 481.7 49 481.5 50 481.4 51 481.3 52 481.1 53 481 54 480.9 55 480.8 56 480.6 57 480.5 58 480.4 59 480.3 60 480.1 61 480 62 479.9 63 479.8 64 479.6 65 479.5 66 479.4 67 479.3 68 479.2 69 479.1 70 478.9 71 478.8 72 478.7 73 478.6 74 478.5 75 478.4 76 478.3 77 478.2 78 478.1 79 478.1 80 478 81 477.9 82 477.8 83 477.7 84 477.7 85 477.6 86 477.6 87 477.5 88 477.4 89 477.4 90 477.3 91 477.3 92 477.3 93 477.2 94 477.2 95 477.2 96 477.1 97 477.1 98 477.1 99 477.1 100 477.1 101 477.1 102 477.1 103 477.1 104 477.1 105 477.1 106 477.1 107 477.2 108 477.2 109 477.2 110 477.3 111 477.3 112 477.4 113 477.4 114 477.5 115 477.5 116 477.6 117 477.7 118 477.8 119 477.8 120 477.9 121 478 122 478.1 123 478.2 124 478.3 125 478.4 126 478.6 127 478.7 128 478.8 129 478.9 130 479.1 131 479.2 132 479.3 133 479.5 134 479.7 135 479.8 136 480 137 480.2 138 480.4 139 480.6 140 480.7 141 481 142 481.2 143 481.4 144 481.6 145 481.9 146 482.1 147 482.3 148 482.6 149 482.8 150 483 151 483.3 152 483.6 153 483.8 154 484.2 155 484.5 156 484.7 157 485.1 158 485.3 159 485.7 160 486.1 161 486.3 162 486.8 163 487 164 487.4 165 487.9 166 488.1 167 488.6 168 488.9 169 489.4 170 489.7 171 490.2 172 490.7 173 491 174 491.5 175 491.7 176 492.3 177 492.8 178 493 179 493.5 180 493.8 181 494.3 182 494.8 183 495.1 184 495.6 185 496.1 186 496.3 187 496.8 188 497.2 189 497.6 190 498.1 191 498.4 192 498.9 193 499.4 194 499.7 195 500.1 196 500.6 197 501 198 501.4 199 501.9 200 502.4 201 502.6 202 503.1 203 503.6 204 503.8 205 504.3 206 504.8 207 505.3 208 505.6 209 506.1 210 506.6 211 507 212 507.3 213 507.8 214 508.3 215 508.8 216 509 217 509.5 218 510 219 510.5 220 510.9 221 511.2 222 511.7 223 512.2 224 512.6 225 513.1 226 513.4 227 513.8 228 514.3 229 514.8 230 515.3 231 515.8 232 516 233 516.5 234 517 235 517.4 236 517.9 237 518.4 238 518.9 239 519.4 240 519.8 241 520.1 242 520.5 243 521 244 521.5 245 522 246 522.4 247 522.9 248 523.4 249 523.9 250 524.3 250 524.3 249 523.8 248 523.3 247 522.7 246 522.2 245 521.7 244 521.1 243 520.6 242 520.1 241 519.5 240 519.2 239 518.7 238 518.2 237 517.6 236 517.1 235 516.5 234 516 233 515.5 232 514.9 231 514.6 230 514.1 229 513.5 228 513 227 512.5 226 512 225 511.6 224 511.1 223 510.5 222 510 221 509.4 220 509.1 219 508.6 218 508.1 217 507.5 216 507 215 506.7 214 506.1 213 505.6 212 505 211 504.7 210 504.2 209 503.6 208 503.1 207 502.7 206 502.2 205 501.6 204 501.1 203 500.8 202 500.2 201 499.7 200 499.4 199 498.9 198 498.4 197 498 196 497.6 195 497.1 194 496.7 193 496.4 192 495.9 191 495.4 190 495.1 189 494.6 188 494.2 187 493.8 186 493.3 185 493.1 184 492.6 183 492.1 182 491.8 181 491.3 180 490.8 179 490.5 178 490 177 489.8 176 489.3 175 488.7 174 488.5 173 488 172 487.7 171 487.2 170 486.7 169 486.4 168 485.9 167 485.6 166 485.1 165 484.9 164 484.4 163 484 162 483.8 161 483.3 160 483.1 159 482.7 158 482.3 157 482.1 156 481.7 155 481.5 154 481.2 153 480.8 152 480.6 151 480.3 150 480 149 479.8 148 479.6 147 479.3 146 479.1 145 478.9 144 478.6 143 478.4 142 478.2 141 478 140 477.7 139 477.6 138 477.4 137 477.2 136 477 135 476.8 134 476.7 133 476.5 132 476.3 131 476.2 130 476.1 129 475.9 128 475.8 127 475.7 126 475.6 125 475.4 124 475.3 123 475.2 122 475.1 121 475 120 474.9 119 474.8 118 474.8 117 474.7 116 474.6 115 474.5 114 474.5 113 474.4 112 474.4 111 474.3 110 474.3 109 474.2 108 474.2 107 474.2 106 474.1 105 474.1 104 474.1 103 474.1 102 474.1 101 474.1 100 474.1 99 474.1 98 474.1 97 474.1 96 474.1 95 474.2 94 474.2 93 474.2 92 474.3 91 474.3 90 474.3 89 474.4 88 474.4 87 474.5 86 474.6 85 474.6 84 474.7 83 474.7 82 474.8 81 474.9 80 475 79 475.1 78 475.1 77 475.2 76 475.3 75 475.4 74 475.5 73 475.6 72 475.7 71 475.8 70 475.9 69 476.1 68 476.2 67 476.3 66 476.4 65 476.5 64 476.6 63 476.8 62 476.9 61 477.2 60 477.4 59 477.7 58 478 57 478.3 56 478.5 55 478.8 54 479.1 53 479.4 52 479.6 51 479.9 50 480.2 49 480.5 48 480.8 47 481.1 46 481.3 45 481.6 44 481.9 43 482.2 42 482.4Z" fill="#140804" fill-opacity="0.85"/>
<path d="M99.2 487.6L98.8 476.9" stroke="#808080" stroke-width="0.8"/><ellipse cx="99.2" cy="487.6" rx="2.5" ry="1.9" fill="#f0cfc6" stroke="#b06858" stroke-width="0.5"/><path d="M231.8 476.8L231.5 484.4" stroke="#808080" stroke-width="0.8"/><ellipse cx="231.8" cy="476.8" rx="2.8" ry="2.2" fill="#b81414" stroke="#801010" stroke-width="0.4"/><path d="M239.3 521.8L239.4 519.4" stroke="#808080" stroke-width="0.8"/><ellipse cx="239.3" cy="521.8" rx="2.5" ry="1.9" fill="#f0cfc6" stroke="#b06858" stroke-width="0.5"/><path d="M107.7 461.9L107.8 462.7" stroke="#808080" stroke-width="0.8"/><ellipse cx="107.7" cy="461.9" rx="2.8" ry="2.2" fill="#b81414" stroke="#801010" stroke-width="0.4"/><path d="M170 468.6L170 479.8" stroke="#808080" stroke-width="0.8"/><ellipse cx="170" cy="468.6" rx="2.8" ry="2.2" fill="#b81414" stroke="#801010" stroke-width="0.4"/><path d="M170 476.2L170 479.8" stroke="#808080" stroke-width="0.8"/><ellipse cx="170" cy="476.2" rx="2.8" ry="2.2" fill="#b81414" stroke="#801010" stroke-width="0.4"/><path d="M170 492.8L170 479.8" stroke="#808080" stroke-width="0.8"/><ellipse cx="170" cy="492.8" rx="2.5" ry="1.9" fill="#f0cfc6" stroke="#b06858" stroke-width="0.5"/>
<path d="M387.5 462.2L521.2 440.5" stroke="#7a7a7a" stroke-width="0.9"/>
<path d="M521.2 440.5L654.3 462.4" stroke="#7a7a7a" stroke-width="0.9"/>
<path d="M521.2 440.5L521.3 550.2" stroke="#8a8a8a" stroke-width="0.9"/>
<path d="M654.3 462.4L646 583.5" stroke="#7a7a7a" stroke-width="0.9"/>
<path d="M387.5 462.2L396 583.7" stroke="#444" stroke-width="0.9"/>
<circle cx="387.8" cy="462.2" r="0.9"/>
<text x="384.4" y="467.8" text-anchor="end" class="t">74.8</text>
<circle cx="389.5" cy="486.2" r="0.9"/>
<text x="386.1" y="491.8" text-anchor="end" class="t">73.65</text>
<circle cx="391.1" cy="509.6" r="0.9"/>
<text x="387.7" y="515.2" text-anchor="end" class="t">72.5</text>
<circle cx="392.7" cy="532.5" r="0.9"/>
<text x="389.3" y="538.1" text-anchor="end" class="t">71.35</text>
<circle cx="394.3" cy="554.8" r="0.9"/>
<text x="390.9" y="560.4" text-anchor="end" class="t">70.2</text>
<path d="M396 583.7L521 626 646 583.5 521.3 550.2Z" fill="#ffff00" stroke="#6a6a00" stroke-width="0.5"/>
<g fill="none" stroke-width="0.55" stroke-opacity="0.5"><path d="M552.3 615.4 545.6 615.6 539.5 615.9 536.8 616 533.4 616.1 528.9 616.3 521.2 616.7 515.1 617 509.1 617.3 504.7 617.5 496.9 617.8" stroke="#00b6a2"/><path d="M605.8 597.2 601.5 597.8 597.1 598.4 592.5 599 587.9 599.6 584.3 600 578.4 600.7 574.6 601.1 568.6 601.7 565.1 602 558.5 602.7 555.9 602.9 553.3 603.1 548.1 603.6 542.9 604 538 604.4 532.2 604.9 529.3 605.1 526.8 605.3 521.3 605.7 515.8 606 512.2 606.3 504.6 606.8 498.9 607.1 495.6 607.3 487.4 607.8 481.6 608.1 475.7 608.4 471.4 608.6 469.7 608.6M645.7 583.6 645.8 583.5" stroke="#12c55f"/><path d="M609.1 573.6 605.8 576 601.8 578.3 599.5 579.3 597.1 580.4 594.4 581.4 591.6 582.3 588.7 583.2 585.6 584.1 582.4 585 579 585.8 575.4 586.6 571.8 587.4 568 588.1 564 588.8 560 589.5 557.3 589.9 551.6 590.8 547.2 591.4 542.7 591.9 538.1 592.5 535.3 592.8 528.6 593.5 525.6 593.8 518.7 594.5 513.6 594.9 508.5 595.3 503.2 595.7 499.3 596 492.3 596.4 486.6 596.7 483.5 596.8 480.9 596.9 476.1 597.1 468.9 597.3 462.7 597.4 456.2 597.4 449.5 597.3 443.2 597.2 437.6 596.9 434.6 596.7M400.4 582.5 400.1 585.1" stroke="#59be00"/><path d="M575.4 564.6 572.6 567.1 569.2 569.2 566.9 570.4 564.6 571.4 562.1 572.4 559.4 573.3 556.6 574.2 553.6 575.1 550.4 575.9 547.1 576.7 543.6 577.5 540 578.2 536.2 578.9 532.2 579.5 528.1 580.1 525.4 580.5 519.4 581.2 515.3 581.6 510 582.1 506.5 582.4 499.8 582.8 494.3 583.1 491.5 583.2 488.6 583.2 484.9 583.3 482.4 583.2 478.9 583.2 475.6 583.1 468.3 582.7 463.7 582.2 459.6 581.6 456.3 580.9 452.9 580 450.3 579 446.7 576.7 445.3 573.7 446.6 570.3 446.7 570.1" stroke="#c78c00"/></g>
<path d="M396 583.7L521 626 646 583.5" fill="none" stroke="#3a3a00" stroke-width="0.8"/>
<text x="392.7" y="589.7" text-anchor="end" class="t">100.00</text>
<circle cx="427.4" cy="594.5" r="0.9"/>
<text x="424.9" y="600.3" text-anchor="end" class="t">90.00</text>
<circle cx="457.6" cy="604.7" r="0.9"/>
<text x="455.1" y="610.5" text-anchor="end" class="t">80.00</text>
<circle cx="489.7" cy="615.6" r="0.9"/>
<text x="487.2" y="621.4" text-anchor="end" class="t">70.00</text>
<text x="517.7" y="632" text-anchor="end" class="t">60.00</text>
<text x="524.5" y="631.8" class="t">20.00</text>
<circle cx="552.2" cy="615.5" r="0.9"/>
<text x="555.3" y="621.3" class="t">25.00</text>
<circle cx="584.4" cy="604.6" r="0.9"/>
<text x="587.5" y="610.4" class="t">30.00</text>
<circle cx="614.5" cy="594.4" r="0.9"/>
<text x="617.6" y="600.2" class="t">35.00</text>
<text x="649.5" y="589.3" class="t">40.00</text>
<text x="409.5" y="625.1" class="a" text-anchor="middle">D: Ethanol concentration</text>
<text x="631.8" y="625.1" class="a" text-anchor="middle">C: Extraction time</text>
<text transform="translate(358.3 538) rotate(-90)" class="d">DPPH</text>
<g transform="scale(.25)" stroke-width="1.2"><path class=by d="M2085 1802l14 1 -14 2 -14 0z"/><path class=bz d="M2071 1802l14 0 -14 3 -14 0zm-14 1l14-1 -14 3 -14 0zm-15 1l15-1 -14 2 -14 1z"/><path class=bR d="M2028 1805l14-1 -13 2 -15 2zm-14 2l14-2 -14 3 -14 2zm-15 2l15-2 -14 3 -15 2zm-14 3l14-3 -14 3 -14 3zm-15 3l15-3 -14 3 -15 3zm-15 4l15-4 -14 3 -15 3zm-15 4l15-4 -14 2 -15 4z"/><path class=bz d="M1925 1827l15-4 -14 2 -15 5zm-15 5l15-5 -14 3 -15 5z"/><path class=by d="M1895 1837l15-5 -14 3 -15 5zm-15 6l15-6 -14 3 -15 5z"/><path class=bg d="M1864 1848l16-5 -14 2 -15 6zm-15 7l15-7 -13 3 -16 7zm-16 6l16-6 -14 3 -15 6z"/><path class=bf d="M1818 1868l15-7 -13 3 -16 7zm-16 7l16-7 -14 3 -15 8z"/><path class=a0 d="M1786 1883l16-8 -13 4 -16 7z"/><path class=aZ d="M1771 1891l15-8 -13 3 -16 8zm-16 8l16-8 -14 3 -16 8zm-16 9l16-9 -14 3 -16 9z"/><path class=aY d="M1723 1916l16-8 -14 3 -16 9zm-17 9l17-9 -14 4 -16 9z"/><path class=aA d="M1690 1935l16-10 -13 4 -16 9z"/><path class=az d="M1674 1944l16-9 -13 3 -16 9zm-16 10l16-10 -13 3 -17 10zm-17 10l17-10 -14 3 -16 10z"/><path class=ay d="M1624 1974l17-10 -13 3 -17 10zm-16 11l16-11 -13 3 -16 11z"/><path class=ax d="M1591 1995l17-10 -13 3 -17 10zm-17 11l17-11 -13 3 -17 11z"/><path class=bz d="M2099 1801l14 1 -14 1 -14-1z"/><path class=bR d="M2085 1801l14 0 -14 1 -14 0zm-14 1l14-1 -14 1 -14 1zm-15 1l15-1 -14 1 -15 1zm-14 1l14-1 -14 1 -14 1zm-14 2l14-2 -14 1 -14 2zm-15 2l15-2 -14 1 -15 2zm-14 3l14-3 -14 1 -14 3z"/><path class=bz d="M1984 1814l15-3 -14 1 -15 3zm-15 3l15-3 -14 1 -15 4zm-15 4l15-4 -14 2 -15 4z"/><path class=bh d="M1939 1825l15-4 -14 2 -15 4zm-15 5l15-5 -14 2 -15 5zm-15 5l15-5 -14 2 -15 5zm-15 6l15-6 -14 2 -15 6z"/><path class=a1 d="M1878 1847l16-6 -14 2 -16 5zm-15 6l15-6 -14 1 -15 7zm-16 6l16-6 -14 2 -16 6zm-15 7l15-7 -14 2 -15 7z"/><path class=a0 d="M1816 1874l16-8 -14 2 -16 7z"/><path class=aC d="M1800 1881l16-7 -14 1 -16 8zm-16 8l16-8 -14 2 -15 8z"/><path class=aB d="M1768 1897l16-8 -13 2 -16 8zm-16 9l16-9 -13 2 -16 9zm-16 9l16-9 -13 2 -16 8z"/><path class=aA d="M1720 1924l16-9 -13 1 -17 9zm-16 9l16-9 -14 1 -16 10zm-17 9l17-9 -14 2 -16 9z"/><path class=az d="M1671 1952l16-10 -13 2 -16 10zm-17 10l17-10 -13 2 -17 10z"/><path class=ay d="M1638 1972l16-10 -13 2 -17 10zm-17 11l17-11 -14 2 -16 11zm-17 10l17-10 -13 2 -17 10z"/><path class=ax d="M1588 2004l16-11 -13 2 -17 11z"/><path class=bR d="M2113 1801l14 1 -14 0 -14-1zm-14 0l14 0 -14 0 -14 0zm-14 0l14 0 -14 0 -14 1zm-14 1l14-1 -14 1 -15 1zm-15 2l15-2 -15 1 -14 1z"/><path class=bz d="M2042 1805l14-1 -14 0 -14 2zm-15 3l15-3 -14 1 -15 2zm-14 2l14-2 -14 0 -14 3z"/><path class=bh d="M1998 1813l15-3 -14 1 -15 3zm-15 4l15-4 -14 1 -15 3zm-15 4l15-4 -14 0 -15 4zm-15 4l15-4 -14 0 -15 4z"/><path class=a2 d="M1938 1830l15-5 -14 0 -15 5zm-15 5l15-5 -14 0 -15 5zm-15 5l15-5 -14 0 -15 6z"/><path class=aE d="M1892 1846l16-6 -14 1 -16 6z"/><path class=aD d="M1877 1852l15-6 -14 1 -15 6zm-16 7l16-7 -14 1 -16 6zm-15 7l15-7 -14 0 -15 7zm-16 7l16-7 -14 0 -16 8z"/><path class=aC d="M1814 1880l16-7 -14 1 -16 7zm-16 8l16-8 -14 1 -16 8zm-16 9l16-9 -14 1 -16 8z"/><path class=aB d="M1766 1905l16-8 -14 0 -16 9zm-16 9l16-9 -14 1 -16 9zm-16 9l16-9 -14 1 -16 9z"/><path class=aA d="M1718 1932l16-9 -14 1 -16 9zm-17 10l17-10 -14 1 -17 9zm-16 9l16-9 -14 0 -16 10z"/><path class=az d="M1668 1961l17-10 -14 1 -17 10zm-17 11l17-11 -14 1 -16 10z"/><path class=ay d="M1635 1982l16-10 -13 0 -17 11zm-17 11l17-11 -14 1 -17 10z"/><path class=ax d="M1601 2004l17-11 -14 0 -16 11z"/><path class=bR d="M2127 1802l14 1 -14-1 -14-1zm-14 0l14 0 -14-1 -14 0zm-14 0l14 0 -14-1 -14 0z"/><path class=bz d="M2085 1803l14-1 -14-1 -14 1z"/><path class=bA d="M2070 1804l15-1 -14-1 -15 2zm-14 2l14-2 -14 0 -14 1z"/><path class=bi d="M2041 1808l15-2 -14-1 -15 3zm-14 3l14-3 -14 0 -14 2zm-15 3l15-3 -14-1 -15 3z"/><path class=a3 d="M1997 1817l15-3 -14-1 -15 4zm-15 4l15-4 -14 0 -15 4z"/><path class=a2 d="M1967 1825l15-4 -14 0 -15 4z"/><path class=aE d="M1952 1830l15-5 -14 0 -15 5zm-15 5l15-5 -14 0 -15 5zm-15 6l15-6 -14 0 -15 5zm-16 5l16-5 -14-1 -16 6zm-15 7l15-7 -14 0 -15 6z"/><path class=aD d="M1875 1859l16-6 -14-1 -16 7zm-15 7l15-7 -14 0 -15 7zm-16 7l16-7 -14 0 -16 7zm-16 8l16-8 -14 0 -16 7z"/><path class=aC d="M1812 1889l16-8 -14-1 -16 8zm-16 8l16-8 -14-1 -16 9zm-16 8l16-8 -14 0 -16 8z"/><path class=aB d="M1764 1914l16-9 -14 0 -16 9zm-16 9l16-9 -14 0 -16 9zm-17 10l17-10 -14 0 -16 9z"/><path class=aA d="M1715 1942l16-9 -13-1 -17 10zm-17 10l17-10 -14 0 -16 9z"/><path class=az d="M1682 1962l16-10 -13-1 -17 10zm-17 10l17-10 -14-1 -17 11z"/><path class=ay d="M1648 1983l17-11 -14 0 -16 10zm-16 10l16-10 -13-1 -17 11zm-17 11l17-11 -14 0 -17 11z"/><path class=bR d="M2141 1804l14 1 -14-2 -14-1z"/><path class=bz d="M2127 1804l14 0 -14-2 -14 0zm-14 0l14 0 -14-2 -14 0z"/><path class=bA d="M2099 1805l14-1 -14-2 -14 1z"/><path class=bi d="M2085 1806l14-1 -14-2 -15 1zm-15 2l15-2 -15-2 -14 2z"/><path class=a3 d="M2056 1810l14-2 -14-2 -15 2zm-15 2l15-2 -15-2 -14 3zm-15 3l15-3 -14-1 -15 3z"/><path class=aF d="M2012 1819l14-4 -14-1 -15 3zm-15 4l15-4 -15-2 -15 4zm-15 4l15-4 -15-2 -15 4z"/><path class=aE d="M1966 1832l16-5 -15-2 -15 5zm-15 5l15-5 -14-2 -15 5zm-15 5l15-5 -14-2 -15 6zm-15 6l15-6 -14-1 -16 5zm-16 6l16-6 -15-2 -15 7z"/><path class=aD d="M1890 1861l15-7 -14-1 -16 6zm-16 7l16-7 -15-2 -15 7zm-16 7l16-7 -14-2 -16 7zm-16 7l16-7 -14-2 -16 8z"/><path class=aC d="M1826 1890l16-8 -14-1 -16 8zm-16 8l16-8 -14-1 -16 8zm-16 9l16-9 -14-1 -16 8z"/><path class=aB d="M1778 1916l16-9 -14-2 -16 9zm-16 9l16-9 -14-2 -16 9zm-17 9l17-9 -14-2 -17 10z"/><path class=aA d="M1729 1944l16-10 -14-1 -16 9zm-17 9l17-9 -14-2 -17 10z"/><path class=az d="M1696 1963l16-10 -14-1 -16 10zm-17 11l17-11 -14-1 -17 10zm-17 10l17-10 -14-2 -17 11z"/><path class=ay d="M1646 1995l16-11 -14-1 -16 10zm-17 11l17-11 -14-2 -17 11z"/><path class=bz d="M2156 1807l14 0 -15-2 -14-1zm-14-1l14 1 -15-3 -14 0z"/><path class=bh d="M2128 1807l14-1 -15-2 -14 0z"/><path class=bi d="M2113 1807l15 0 -15-3 -14 1z"/><path class=a3 d="M2099 1809l14-2 -14-2 -14 1zm-14 1l14-1 -14-3 -15 2zm-15 2l15-2 -15-2 -14 2z"/><path class=aF d="M2056 1815l14-3 -14-2 -15 2zm-15 3l15-3 -15-3 -15 3zm-15 3l15-3 -15-3 -14 4zm-15 4l15-4 -14-2 -15 4zm-15 4l15-4 -14-2 -15 4z"/><path class=aE d="M1981 1834l15-5 -14-2 -16 5zm-15 5l15-5 -15-2 -15 5zm-16 6l16-6 -15-2 -15 5zm-15 5l15-5 -14-3 -15 6zm-16 7l16-7 -14-2 -16 6zm-15 6l15-6 -14-3 -15 7z"/><path class=aD d="M1888 1870l16-7 -14-2 -16 7zm-16 7l16-7 -14-2 -16 7zm-15 8l15-8 -14-2 -16 7z"/><path class=aC d="M1841 1893l16-8 -15-3 -16 8zm-16 8l16-8 -15-3 -16 8zm-17 8l17-8 -15-3 -16 9z"/><path class=aB d="M1792 1918l16-9 -14-2 -16 9zm-16 9l16-9 -14-2 -16 9zm-16 10l16-10 -14-2 -17 9z"/><path class=aA d="M1743 1946l17-9 -15-3 -16 10zm-16 10l16-10 -14-2 -17 9zm-17 10l17-10 -15-3 -16 10z"/><path class=az d="M1693 1976l17-10 -14-3 -17 11zm-17 11l17-11 -14-2 -17 10z"/><path class=ay d="M1660 1998l16-11 -14-3 -16 11zm-17 11l17-11 -14-3 -17 11z"/><path class=bh d="M2170 1810l14 1 -14-4 -14 0zm-14 0l14 0 -14-3 -14-1z"/><path class=a2 d="M2142 1810l14 0 -14-4 -14 1z"/><path class=a3 d="M2128 1811l14-1 -14-3 -15 0zm-14 1l14-1 -15-4 -14 2z"/><path class=aF d="M2099 1814l15-2 -15-3 -14 1zm-14 2l14-2 -14-4 -15 2zm-15 2l15-2 -15-4 -14 3zm-15 3l15-3 -14-3 -15 3zm-15 4l15-4 -14-3 -15 3zm-14 4l14-4 -14-4 -15 4zm-16 4l16-4 -15-4 -15 4z"/><path class=aE d="M1995 1838l15-5 -14-4 -15 5zm-15 5l15-5 -14-4 -15 5zm-15 5l15-5 -14-4 -16 6zm-16 6l16-6 -15-3 -15 5zm-15 6l15-6 -14-4 -16 7zm-16 7l16-7 -15-3 -15 6z"/><path class=aD d="M1903 1874l15-7 -14-4 -16 7zm-16 7l16-7 -15-4 -16 7zm-16 7l16-7 -15-4 -15 8z"/><path class=aC d="M1855 1896l16-8 -14-3 -16 8zm-16 9l16-9 -14-3 -16 8zm-16 8l16-8 -14-4 -17 8z"/><path class=aB d="M1807 1922l16-9 -15-4 -16 9zm-17 9l17-9 -15-4 -16 9zm-16 9l16-9 -14-4 -16 10z"/><path class=aA d="M1757 1950l17-10 -14-3 -17 9zm-16 10l16-10 -14-4 -16 10zm-17 10l17-10 -14-4 -17 10z"/><path class=az d="M1708 1980l16-10 -14-4 -17 10zm-17 11l17-11 -15-4 -17 11z"/><path class=ay d="M1674 2002l17-11 -15-4 -16 11zm-17 10l17-10 -14-4 -17 11z"/><path class=bh d="M2185 1815l14 0 -15-4 -14-1z"/><path class=a2 d="M2171 1814l14 1 -15-5 -14 0zm-14 1l14-1 -15-4 -14 0z"/><path class=aE d="M2143 1815l14 0 -15-5 -14 1z"/><path class=aF d="M2128 1816l15-1 -15-4 -14 1zm-14 2l14-2 -14-4 -15 2zm-15 2l15-2 -15-4 -14 2zm-14 3l14-3 -14-4 -15 2zm-15 3l15-3 -15-5 -15 3zm-15 3l15-3 -15-5 -15 4zm-15 4l15-4 -15-4 -14 4z"/><path class=aE d="M2025 1837l15-4 -14-4 -16 4zm-15 5l15-5 -15-4 -15 5zm-15 5l15-5 -15-4 -15 5zm-16 5l16-5 -15-4 -15 5zm-15 6l15-6 -14-4 -16 6zm-15 7l15-7 -15-4 -15 6z"/><path class=aD d="M1933 1871l16-6 -15-5 -16 7zm-16 7l16-7 -15-4 -15 7zm-16 7l16-7 -14-4 -16 7zm-15 8l15-8 -14-4 -16 7z"/><path class=aC d="M1870 1901l16-8 -15-5 -16 8zm-16 8l16-8 -15-5 -16 9zm-17 9l17-9 -15-4 -16 8z"/><path class=aB d="M1821 1926l16-8 -14-5 -16 9zm-16 10l16-10 -14-4 -17 9zm-17 9l17-9 -15-5 -16 9z"/><path class=aA d="M1772 1955l16-10 -14-5 -17 10zm-17 10l17-10 -15-5 -16 10z"/><path class=az d="M1739 1975l16-10 -14-5 -17 10zm-17 10l17-10 -15-5 -16 10zm-17 11l17-11 -14-5 -17 11z"/><path class=ay d="M1688 2006l17-10 -14-5 -17 11zm-17 11l17-11 -14-4 -17 10z"/><path class=a2 d="M2199 1820l14 1 -14-6 -14 0zm-14 0l14 0 -14-5 -14-1z"/><path class=aE d="M2171 1820l14 0 -14-6 -14 1zm-14 0l14 0 -14-5 -14 0zm-14 2l14-2 -14-5 -15 1zm-15 1l15-1 -15-6 -14 2zm-14 2l14-2 -14-5 -15 2z"/><path class=aF d="M2099 1828l15-3 -15-5 -14 3zm-14 3l14-3 -14-5 -15 3z"/><path class=aE d="M2070 1834l15-3 -15-5 -15 3zm-15 4l15-4 -15-5 -15 4zm-15 4l15-4 -15-5 -15 4zm-15 5l15-5 -15-5 -15 5zm-16 5l16-5 -15-5 -15 5zm-15 6l15-6 -14-5 -16 5zm-15 6l15-6 -15-6 -15 6zm-16 6l16-6 -15-6 -15 7z"/><path class=aD d="M1948 1876l15-6 -14-5 -16 6zm-16 7l16-7 -15-5 -16 7zm-16 8l16-8 -15-5 -16 7zm-16 7l16-7 -15-6 -15 8z"/><path class=aC d="M1884 1906l16-8 -14-5 -16 8zm-16 9l16-9 -14-5 -16 8zm-16 8l16-8 -14-6 -17 9z"/><path class=aB d="M1836 1932l16-9 -15-5 -16 8zm-17 9l17-9 -15-6 -16 10zm-16 10l16-10 -14-5 -17 9z"/><path class=aA d="M1787 1960l16-9 -15-6 -16 10zm-17 10l17-10 -15-5 -17 10z"/><path class=az d="M1753 1980l17-10 -15-5 -16 10zm-16 11l16-11 -14-5 -17 10zm-17 11l17-11 -15-6 -17 11z"/><path class=ay d="M1703 2012l17-10 -15-6 -17 10zm-17 11l17-11 -15-6 -17 11z"/><path class=aE d="M2214 1826l14 1 -15-6 -14-1zm-14 0l14 0 -15-6 -14 0zm-14 0l14 0 -15-6 -14 0zm-14 0l14 0 -15-6 -14 0zm-14 2l14-2 -15-6 -14 2zm-15 1l15-1 -15-6 -15 1zm-14 2l14-2 -15-6 -14 2zm-15 3l15-3 -15-6 -15 3zm-15 3l15-3 -15-6 -14 3zm-14 3l14-3 -14-6 -15 3zm-15 4l15-4 -15-6 -15 4zm-15 5l15-5 -15-6 -15 4zm-15 4l15-4 -15-7 -15 5zm-16 5l16-5 -15-6 -16 5zm-15 6l15-6 -15-6 -15 6zm-15 6l15-6 -15-6 -15 6z"/><path class=aD d="M1978 1876l16-6 -15-6 -16 6zm-16 7l16-7 -15-6 -15 6zm-15 7l15-7 -14-7 -16 7zm-16 7l16-7 -15-7 -16 8z"/><path class=aC d="M1915 1905l16-8 -15-6 -16 7zm-16 8l16-8 -15-7 -16 8zm-16 8l16-8 -15-7 -16 9z"/><path class=aB d="M1867 1930l16-9 -15-6 -16 8zm-16 8l16-8 -15-7 -16 9zm-17 10l17-10 -15-6 -17 9z"/><path class=aA d="M1818 1957l16-9 -15-7 -16 10zm-17 10l17-10 -15-6 -16 9zm-16 10l16-10 -14-7 -17 10z"/><path class=az d="M1768 1987l17-10 -15-7 -17 10zm-17 11l17-11 -15-7 -16 11z"/><path class=ay d="M1734 2008l17-10 -14-7 -17 11zm-17 11l17-11 -14-6 -17 10z"/><path class=ax d="M1700 2030l17-11 -14-7 -17 11z"/><path class=aD d="M2229 1832l14 1 -15-6 -14-1z"/><path class=aE d="M2215 1832l14 0 -15-6 -14 0zm-14 0l14 0 -15-6 -14 0zm-14 1l14-1 -15-6 -14 0zm-15 1l15-1 -15-7 -14 2zm-14 2l14-2 -14-6 -15 1zm-14 2l14-2 -15-7 -14 2zm-15 3l15-3 -15-7 -15 3zm-15 3l15-3 -15-7 -15 3zm-15 3l15-3 -15-7 -14 3zm-14 4l14-4 -14-7 -15 4zm-15 4l15-4 -15-7 -15 5zm-16 5l16-5 -15-6 -15 4zm-15 5l15-5 -14-7 -16 5zm-15 6l15-6 -15-7 -15 6z"/><path class=aD d="M2008 1877l16-6 -15-7 -15 6zm-15 6l15-6 -14-7 -16 6zm-16 7l16-7 -15-7 -16 7zm-15 7l15-7 -15-7 -15 7z"/><path class=aC d="M1946 1904l16-7 -15-7 -16 7zm-16 8l16-8 -15-7 -16 8zm-16 8l16-8 -15-7 -16 8zm-16 8l16-8 -15-7 -16 8z"/><path class=aB d="M1882 1937l16-9 -15-7 -16 9zm-17 9l17-9 -15-7 -16 8zm-16 9l16-9 -14-8 -17 10z"/><path class=aA d="M1833 1965l16-10 -15-7 -16 9zm-17 9l17-9 -15-8 -17 10z"/><path class=az d="M1800 1984l16-10 -15-7 -16 10zm-17 11l17-11 -15-7 -17 10zm-17 10l17-10 -15-8 -17 11z"/><path class=ay d="M1749 2016l17-11 -15-7 -17 10zm-17 11l17-11 -15-8 -17 11z"/><path class=ax d="M1715 2038l17-11 -15-8 -17 11z"/><path class=aD d="M2244 1840l14 0 -15-7 -14-1zm-14-1l14 1 -15-8 -14 0zm-14 1l14-1 -15-7 -14 0z"/><path class=aE d="M2202 1840l14 0 -15-8 -14 1zm-15 2l15-2 -15-7 -15 1zm-14 1l14-1 -15-8 -14 2zm-14 2l14-2 -15-7 -14 2zm-15 3l15-3 -15-7 -15 3zm-15 3l15-3 -15-7 -15 3zm-15 4l15-4 -15-7 -15 3zm-14 4l14-4 -15-8 -14 4zm-15 4l15-4 -15-8 -15 4zm-16 5l16-5 -15-8 -16 5z"/><path class=aD d="M2054 1873l15-5 -15-8 -15 5zm-15 5l15-5 -15-8 -15 6zm-16 6l16-6 -15-7 -16 6zm-15 7l15-7 -15-7 -15 6zm-16 6l16-6 -15-8 -16 7z"/><path class=aC d="M1977 1904l15-7 -15-7 -15 7zm-16 8l16-8 -15-7 -16 7zm-16 8l16-8 -15-8 -16 8zm-16 8l16-8 -15-8 -16 8z"/><path class=aB d="M1913 1936l16-8 -15-8 -16 8zm-16 9l16-9 -15-8 -16 9zm-17 9l17-9 -15-8 -17 9z"/><path class=aA d="M1864 1963l16-9 -15-8 -16 9zm-16 10l16-10 -15-8 -16 10zm-17 10l17-10 -15-8 -17 9z"/><path class=az d="M1815 1993l16-10 -15-9 -16 10zm-17 10l17-10 -15-9 -17 11z"/><path class=ay d="M1781 2014l17-11 -15-8 -17 10zm-17 11l17-11 -15-9 -17 11z"/><path class=ax d="M1747 2036l17-11 -15-9 -17 11zm-17 11l17-11 -15-9 -17 11z"/><path class=aD d="M2259 1848l14 0 -15-8 -14 0zm-14-1l14 1 -15-8 -14-1zm-14 1l14-1 -15-8 -14 1zm-14 0l14 0 -15-8 -14 0zm-15 2l15-2 -15-8 -15 2zm-14 1l14-1 -15-8 -14 1zm-14 3l14-3 -15-8 -14 2z"/><path class=aE d="M2159 1856l15-2 -15-9 -15 3z"/><path class=aD d="M2144 1859l15-3 -15-8 -15 3zm-14 4l14-4 -15-8 -15 4zm-15 4l15-4 -16-8 -14 4zm-15 4l15-4 -15-8 -15 4zm-16 5l16-5 -15-8 -16 5zm-15 5l15-5 -15-8 -15 5zm-15 6l15-6 -15-8 -15 5zm-15 6l15-6 -15-9 -16 6zm-16 6l16-6 -16-9 -15 7z"/><path class=aC d="M2007 1906l16-7 -15-8 -16 6zm-15 7l15-7 -15-9 -15 7zm-16 7l16-7 -15-9 -16 8zm-16 8l16-8 -15-8 -16 8z"/><path class=aB d="M1944 1936l16-8 -15-8 -16 8zm-16 9l16-9 -15-8 -16 8zm-16 9l16-9 -15-9 -16 9z"/><path class=aA d="M1896 1963l16-9 -15-9 -17 9zm-17 9l17-9 -16-9 -16 9zm-16 10l16-10 -15-9 -16 10z"/><path class=az d="M1846 1992l17-10 -15-9 -17 10zm-16 10l16-10 -15-9 -16 10z"/><path class=ay d="M1813 2012l17-10 -15-9 -17 10zm-17 11l17-11 -15-9 -17 11zm-17 11l17-11 -15-9 -17 11z"/><path class=ax d="M1762 2045l17-11 -15-9 -17 11zm-17 11l17-11 -15-9 -17 11z"/><path class=aC d="M2274 1856l13 1 -14-9 -14 0z"/><path class=aD d="M2260 1856l14 0 -15-8 -14-1zm-14 0l14 0 -15-9 -14 1zm-14 1l14-1 -15-8 -14 0zm-15 1l15-1 -15-9 -15 2zm-14 2l14-2 -15-8 -14 1zm-14 2l14-2 -15-9 -14 3zm-15 3l15-3 -15-8 -15 2zm-15 3l15-3 -15-9 -15 3zm-14 4l14-4 -15-9 -14 4zm-15 4l15-4 -15-9 -15 4zm-15 4l15-4 -15-9 -15 4zm-15 5l15-5 -15-9 -16 5zm-16 5l16-5 -16-9 -15 5zm-15 6l15-6 -15-9 -15 6z"/><path class=aC d="M2054 1902l15-6 -15-9 -15 6zm-16 6l16-6 -15-9 -16 6zm-15 7l15-7 -15-9 -16 7zm-16 7l16-7 -16-9 -15 7z"/><path class=aB d="M1991 1930l16-8 -15-9 -16 7zm-16 8l16-8 -15-10 -16 8zm-16 8l16-8 -15-10 -16 8zm-16 8l16-8 -15-10 -16 9z"/><path class=aA d="M1927 1963l16-9 -15-9 -16 9zm-16 9l16-9 -15-9 -16 9zm-17 10l17-10 -15-9 -17 9z"/><path class=az d="M1878 1992l16-10 -15-10 -16 10zm-17 10l17-10 -15-10 -17 10z"/><path class=ay d="M1845 2012l16-10 -15-10 -16 10zm-17 10l17-10 -15-10 -17 10zm-17 11l17-11 -15-10 -17 11z"/><path class=ax d="M1794 2044l17-11 -15-10 -17 11zm-17 11l17-11 -15-10 -17 11z"/><path class=aw d="M1760 2067l17-12 -15-10 -17 11z"/><path class=aC d="M2289 1865l14 1 -16-9 -13-1zm-14 0l14 0 -15-9 -14 0zm-14 0l14 0 -15-9 -14 0z"/><path class=aD d="M2247 1866l14-1 -15-9 -14 1zm-14 1l14-1 -15-9 -15 1zm-15 2l15-2 -16-9 -14 2zm-14 2l14-2 -15-9 -14 2zm-15 3l15-3 -15-9 -15 3zm-14 3l14-3 -15-9 -15 3zm-15 4l15-4 -16-9 -14 4zm-15 4l15-4 -15-9 -15 4zm-15 5l15-5 -15-9 -15 4z"/><path class=aC d="M2115 1894l15-4 -15-10 -15 5zm-15 6l15-6 -15-9 -16 5zm-16 5l16-5 -16-10 -15 6zm-15 7l15-7 -15-9 -15 6zm-15 6l15-6 -15-10 -16 6zm-16 7l16-7 -16-10 -15 7z"/><path class=aB d="M2022 1932l16-7 -15-10 -16 7zm-16 8l16-8 -15-10 -16 8zm-15 8l15-8 -15-10 -16 8zm-16 8l16-8 -16-10 -16 8z"/><path class=aA d="M1959 1965l16-9 -16-10 -16 8zm-17 9l17-9 -16-11 -16 9zm-16 9l16-9 -15-11 -16 9z"/><path class=az d="M1910 1992l16-9 -15-11 -17 10zm-17 10l17-10 -16-10 -16 10z"/><path class=ay d="M1877 2012l16-10 -15-10 -17 10zm-17 11l17-11 -16-10 -16 10zm-17 10l17-10 -15-11 -17 10z"/><path class=ax d="M1827 2044l16-11 -15-11 -17 11zm-17 11l17-11 -16-11 -17 11z"/><path class=aw d="M1793 2066l17-11 -16-11 -17 11zm-17 12l17-12 -16-11 -17 12z"/><path class=aC d="M2304 1875l14 0 -15-9 -14-1zm-14 0l14 0 -15-10 -14 0zm-14 0l14 0 -15-10 -14 0zm-14 1l14-1 -15-10 -14 1zm-14 1l14-1 -15-10 -14 1zm-14 2l14-2 -15-10 -15 2zm-15 2l15-2 -16-10 -14 2zm-14 3l14-3 -15-10 -15 3zm-15 3l15-3 -16-10 -14 3zm-15 4l15-4 -15-10 -15 4zm-15 4l15-4 -15-10 -15 4zm-15 5l15-5 -15-10 -15 5zm-15 5l15-5 -15-10 -15 4zm-15 5l15-5 -15-11 -15 6zm-15 6l15-6 -15-10 -16 5zm-16 6l16-6 -16-11 -15 7z"/><path class=aB d="M2069 1928l15-6 -15-10 -15 6zm-16 7l16-7 -15-10 -16 7zm-15 8l15-8 -15-10 -16 7zm-16 7l16-7 -16-11 -16 8z"/><path class=aA d="M2006 1958l16-8 -16-10 -15 8zm-16 9l16-9 -15-10 -16 8zm-16 8l16-8 -15-11 -16 9z"/><path class=az d="M1958 1984l16-9 -15-10 -17 9zm-16 10l16-10 -16-10 -16 9zm-17 9l17-9 -16-11 -16 9z"/><path class=ay d="M1909 2013l16-10 -15-11 -17 10zm-17 10l17-10 -16-11 -16 10zm-16 11l16-11 -15-11 -17 11z"/><path class=ax d="M1859 2045l17-11 -16-11 -17 10zm-17 10l17-10 -16-12 -16 11z"/><path class=aw d="M1825 2067l17-12 -15-11 -17 11zm-17 11l17-11 -15-12 -17 11z"/><path class=av d="M1791 2090l17-12 -15-12 -17 12z"/><path class=aB d="M2319 1885l14 0 -15-10 -14 0zm-14 0l14 0 -15-10 -14 0z"/><path class=aC d="M2291 1885l14 0 -15-10 -14 0zm-14 1l14-1 -15-10 -14 1zm-14 1l14-1 -15-10 -14 1zm-14 2l14-2 -15-10 -14 2zm-15 3l15-3 -15-10 -15 2zm-14 2l14-2 -15-11 -14 3zm-15 4l15-4 -15-10 -15 3zm-14 3l14-3 -15-11 -15 4zm-15 4l15-4 -16-10 -15 4zm-15 5l15-5 -16-10 -15 5zm-15 5l15-5 -16-10 -15 5z"/><path class=aB d="M2131 1921l15-6 -16-10 -15 5zm-16 5l16-5 -16-11 -15 6zm-15 7l15-7 -15-10 -16 6zm-16 6l16-6 -16-11 -15 6zm-15 7l15-7 -15-11 -16 7z"/><path class=aA d="M2053 1954l16-8 -16-11 -15 8zm-16 7l16-7 -15-11 -16 7zm-15 9l15-9 -15-11 -16 8zm-16 8l16-8 -16-12 -16 9z"/><path class=az d="M1989 1987l17-9 -16-11 -16 8zm-16 9l16-9 -15-12 -16 9zm-16 9l16-9 -15-12 -16 10z"/><path class=ay d="M1941 2015l16-10 -15-11 -17 9zm-17 10l17-10 -16-12 -16 10zm-16 10l16-10 -15-12 -17 10z"/><path class=ax d="M1891 2046l17-11 -16-12 -16 11zm-17 11l17-11 -15-12 -17 11z"/><path class=aw d="M1858 2068l16-11 -15-12 -17 10zm-17 11l17-11 -16-13 -17 12z"/><path class=av d="M1824 2090l17-11 -16-12 -17 11zm-17 12l17-12 -16-12 -17 12z"/><path class=aB d="M2334 1895l14 1 -15-11 -14 0zm-13 0l13 0 -15-10 -14 0zm-14 0l14 0 -16-10 -14 0zm-14 1l14-1 -16-10 -14 1zm-15 2l15-2 -16-10 -14 1zm-14 2l14-2 -15-11 -14 2zm-14 2l14-2 -15-11 -15 3zm-15 3l15-3 -16-10 -14 2zm-14 3l14-3 -15-11 -15 4zm-15 4l15-4 -16-10 -14 3zm-15 4l15-4 -15-11 -15 4zm-15 5l15-5 -15-11 -15 5zm-15 5l15-5 -15-11 -15 5zm-15 6l15-6 -15-11 -15 6zm-15 6l15-6 -15-11 -16 5zm-16 6l16-6 -16-12 -15 7z"/><path class=aA d="M2100 1951l15-7 -15-11 -16 6zm-16 7l16-7 -16-12 -15 7zm-15 7l15-7 -15-12 -16 8zm-16 8l16-8 -16-11 -16 7z"/><path class=az d="M2037 1981l16-8 -16-12 -15 9zm-16 9l16-9 -15-11 -16 8zm-16 9l16-9 -15-12 -17 9zm-16 9l16-9 -16-12 -16 9z"/><path class=ay d="M1973 2017l16-9 -16-12 -16 9zm-17 10l17-10 -16-12 -16 10z"/><path class=ax d="M1940 2037l16-10 -15-12 -17 10zm-17 11l17-11 -16-12 -16 10zm-16 10l16-10 -15-13 -17 11z"/><path class=aw d="M1890 2069l17-11 -16-12 -17 11zm-17 11l17-11 -16-12 -16 11z"/><path class=av d="M1856 2092l17-12 -15-12 -17 11zm-17 11l17-11 -15-13 -17 11z"/><path class=au d="M1822 2115l17-12 -15-13 -17 12z"/><path class=aA d="M2350 1906l13 0 -15-10 -14-1zm-14 0l14 0 -16-11 -13 0z"/><path class=aB d="M2322 1906l14 0 -15-11 -14 0zm-14 1l14-1 -15-11 -14 1zm-14 2l14-2 -15-11 -15 2zm-14 2l14-2 -16-11 -14 2zm-15 2l15-2 -16-11 -14 2zm-14 3l14-3 -15-11 -15 3zm-15 4l15-4 -16-11 -14 3zm-14 3l14-3 -15-12 -15 4zm-15 5l15-5 -16-11 -15 4zm-15 5l15-5 -16-12 -15 5zm-15 5l15-5 -16-12 -15 5z"/><path class=aA d="M2162 1943l15-5 -16-12 -15 6zm-16 6l16-6 -16-11 -15 6zm-15 7l15-7 -15-11 -16 6zm-15 7l15-7 -16-12 -15 7zm-16 7l16-7 -16-12 -16 7z"/><path class=az d="M2084 1977l16-7 -16-12 -15 7zm-15 8l15-8 -15-12 -16 8zm-16 8l16-8 -16-12 -16 8zm-16 9l16-9 -16-12 -16 9z"/><path class=ay d="M2021 2011l16-9 -16-12 -16 9zm-16 9l16-9 -16-12 -16 9zm-17 10l17-10 -16-12 -16 9z"/><path class=ax d="M1972 2040l16-10 -15-13 -17 10zm-16 10l16-10 -16-13 -16 10zm-17 10l17-10 -16-13 -17 11z"/><path class=aw d="M1922 2071l17-11 -16-12 -16 10zm-16 11l16-11 -15-13 -17 11z"/><path class=av d="M1889 2093l17-11 -16-13 -17 11zm-17 12l17-12 -16-13 -17 12z"/><path class=au d="M1855 2117l17-12 -16-13 -17 11zm-17 11l17-11 -16-14 -17 12z"/><path class=aA d="M2365 1917l14 0 -16-11 -13 0zm-14 0l14 0 -15-11 -14 0zm-14 0l14 0 -15-11 -14 0zm-14 1l14-1 -15-11 -14 1zm-14 2l14-2 -15-11 -14 2zm-14 2l14-2 -15-11 -14 2zm-14 3l14-3 -15-11 -15 2zm-15 3l15-3 -16-12 -14 3zm-14 3l14-3 -15-12 -15 4zm-15 4l15-4 -16-11 -14 3zm-15 5l15-5 -15-12 -15 5zm-15 4l15-4 -15-12 -15 5zm-15 6l15-6 -15-11 -15 5zm-15 5l15-5 -15-12 -15 5zm-15 6l15-6 -15-12 -16 6zm-15 7l15-7 -16-12 -15 7z"/><path class=az d="M2131 1975l16-7 -16-12 -15 7zm-15 7l15-7 -15-12 -16 7zm-16 8l16-8 -16-12 -16 7zm-16 8l16-8 -16-13 -15 8z"/><path class=ay d="M2068 2006l16-8 -15-13 -16 8zm-15 9l15-9 -15-13 -16 9zm-17 9l17-9 -16-13 -16 9z"/><path class=ax d="M2020 2033l16-9 -15-13 -16 9zm-16 10l16-10 -15-13 -17 10zm-16 10l16-10 -16-13 -16 10z"/><path class=aw d="M1971 2063l17-10 -16-13 -16 10zm-16 11l16-11 -15-13 -17 10zm-17 11l17-11 -16-14 -17 11z"/><path class=av d="M1922 2096l16-11 -16-14 -16 11zm-17 11l17-11 -16-14 -17 11z"/><path class=au d="M1888 2119l17-12 -16-14 -17 12zm-17 11l17-11 -16-14 -17 12z"/><path class=at d="M1854 2143l17-13 -16-13 -17 11z"/><path class=az d="M2380 1928l14 0 -15-11 -14 0zm-13 0l13 0 -15-11 -14 0z"/><path class=aA d="M2353 1929l14-1 -16-11 -14 0zm-14 1l14-1 -16-12 -14 1zm-14 2l14-2 -16-12 -14 2zm-14 2l14-2 -16-12 -14 2zm-15 2l15-2 -16-12 -14 3zm-14 3l14-3 -15-11 -15 3zm-15 4l15-4 -16-11 -14 3zm-14 4l14-4 -15-12 -15 4zm-15 5l15-5 -16-12 -15 5zm-15 4l15-4 -16-12 -15 4zm-15 6l15-6 -16-12 -15 6z"/><path class=az d="M2193 1968l15-6 -16-12 -15 5zm-15 6l15-6 -16-13 -15 6zm-16 6l16-6 -16-13 -15 7zm-15 7l15-7 -15-12 -16 7zm-16 8l16-8 -16-12 -15 7z"/><path class=ay d="M2116 2002l15-7 -15-13 -16 8zm-16 9l16-9 -16-12 -16 8zm-16 8l16-8 -16-13 -16 8zm-16 9l16-9 -16-13 -15 9z"/><path class=ax d="M2052 2037l16-9 -15-13 -17 9zm-16 10l16-10 -16-13 -16 9zm-16 9l16-9 -16-14 -16 10z"/><path class=aw d="M2004 2066l16-10 -16-13 -16 10zm-17 11l17-11 -16-13 -17 10z"/><path class=av d="M1971 2088l16-11 -16-14 -16 11zm-17 10l17-10 -16-14 -17 11zm-17 12l17-12 -16-13 -16 11z"/><path class=au d="M1921 2121l16-11 -15-14 -17 11zm-17 12l17-12 -16-14 -17 12z"/><path class=at d="M1887 2145l17-12 -16-14 -17 11zm-17 12l17-12 -16-15 -17 13z"/><path class=az d="M2396 1939l14 1 -16-12 -14 0zm-14 1l14-1 -16-11 -13 0zm-13 0l13 0 -15-12 -14 1zm-14 2l14-2 -16-11 -14 1zm-14 1l14-1 -16-12 -14 2zm-15 3l15-3 -16-11 -14 2zm-14 2l14-2 -15-12 -15 2zm-14 4l14-4 -16-12 -14 3zm-15 3l15-3 -16-13 -15 4zm-15 4l15-4 -16-12 -14 4zm-14 5l14-5 -15-12 -15 5zm-15 5l15-5 -16-12 -15 4zm-15 5l15-5 -16-13 -15 6zm-15 6l15-6 -16-12 -15 6zm-15 6l15-6 -16-12 -15 6zm-16 7l16-7 -16-12 -16 6z"/><path class=ay d="M2163 2000l15-7 -16-13 -15 7zm-16 8l16-8 -16-13 -16 8zm-15 8l15-8 -16-13 -15 7zm-16 8l16-8 -16-14 -16 9z"/><path class=ax d="M2100 2032l16-8 -16-13 -16 8zm-16 9l16-9 -16-13 -16 9zm-16 10l16-10 -16-13 -16 9z"/><path class=aw d="M2052 2060l16-9 -16-14 -16 10zm-16 10l16-10 -16-13 -16 9zm-16 10l16-10 -16-14 -16 10z"/><path class=av d="M2003 2091l17-11 -16-14 -17 11zm-16 11l16-11 -16-14 -16 11z"/><path class=au d="M1970 2113l17-11 -16-14 -17 10zm-17 11l17-11 -16-15 -17 12zm-16 12l16-12 -16-14 -16 11z"/><path class=at d="M1920 2147l17-11 -16-15 -17 12zm-17 13l17-13 -16-14 -17 12z"/><path class=as d="M1886 2172l17-12 -16-15 -17 12z"/><path class=ay d="M2412 1951l13 0 -15-11 -14-1zm-14 0l14 0 -16-12 -14 1zm-14 1l14-1 -16-11 -13 0z"/><path class=az d="M2370 1954l14-2 -15-12 -14 2zm-14 1l14-1 -15-12 -14 1zm-14 3l14-3 -15-12 -15 3zm-14 2l14-2 -16-12 -14 2zm-15 4l15-4 -16-12 -14 4zm-14 3l14-3 -15-12 -15 3zm-15 5l15-5 -16-12 -15 4zm-14 4l14-4 -16-13 -14 5zm-15 5l15-5 -16-12 -15 5z"/><path class=ay d="M2240 1987l15-6 -16-12 -15 5zm-15 6l15-6 -16-13 -15 6zm-16 6l16-6 -16-13 -15 6zm-15 7l15-7 -15-13 -16 7zm-15 7l15-7 -16-13 -15 7zm-16 8l16-8 -16-13 -16 8z"/><path class=ax d="M2148 2029l15-8 -16-13 -15 8zm-16 8l16-8 -16-13 -16 8zm-16 9l16-9 -16-13 -16 8z"/><path class=aw d="M2100 2055l16-9 -16-14 -16 9zm-16 9l16-9 -16-14 -16 10zm-16 10l16-10 -16-13 -16 9z"/><path class=av d="M2052 2084l16-10 -16-14 -16 10zm-16 10l16-10 -16-14 -16 10zm-17 11l17-11 -16-14 -17 11z"/><path class=au d="M2003 2116l16-11 -16-14 -16 11zm-17 11l17-11 -16-14 -17 11z"/><path class=at d="M1969 2139l17-12 -16-14 -17 11zm-16 11l16-11 -16-15 -16 12z"/><path class=as d="M1936 2162l17-12 -16-14 -17 11zm-17 13l17-13 -16-15 -17 13zm-17 12l17-12 -16-15 -17 12z"/><path class=ay d="M2427 1963l14 0 -16-12 -13 0zm-13 0l13 0 -15-12 -14 0zm-14 1l14-1 -16-12 -14 1zm-14 2l14-2 -16-12 -14 2zm-14 1l14-1 -16-12 -14 1zm-14 3l14-3 -16-12 -14 3zm-14 3l14-3 -16-12 -14 2zm-15 3l15-3 -16-13 -15 4zm-14 4l14-4 -16-12 -14 3zm-15 4l15-4 -16-13 -15 5zm-15 5l15-5 -16-12 -14 4zm-14 5l14-5 -15-13 -15 5zm-15 6l15-6 -16-13 -15 6zm-15 6l15-6 -16-13 -15 6zm-16 6l16-6 -16-13 -16 6z"/><path class=ax d="M2210 2019l15-7 -16-13 -15 7zm-15 8l15-8 -16-13 -15 7zm-16 7l16-7 -16-14 -16 8zm-15 8l15-8 -16-13 -15 8z"/><path class=aw d="M2148 2051l16-9 -16-13 -16 8zm-16 9l16-9 -16-14 -16 9zm-16 9l16-9 -16-14 -16 9z"/><path class=av d="M2100 2078l16-9 -16-14 -16 9zm-16 10l16-10 -16-14 -16 10zm-16 10l16-10 -16-14 -16 10z"/><path class=au d="M2052 2109l16-11 -16-14 -16 10zm-17 11l17-11 -16-15 -17 11zm-16 11l16-11 -16-15 -16 11z"/><path class=at d="M2002 2142l17-11 -16-15 -17 11zm-16 12l16-12 -16-15 -17 12z"/><path class=as d="M1969 2166l17-12 -17-15 -16 11zm-17 12l17-12 -16-16 -17 12z"/><path class=ar d="M1935 2190l17-12 -16-16 -17 13zm-17 13l17-13 -16-15 -17 12z"/><path class=ax d="M2443 1975l13 0 -15-12 -14 0zm-14 0l14 0 -16-12 -13 0zm-13 1l13-1 -15-12 -14 1zm-14 2l14-2 -16-12 -14 2z"/><path class=ay d="M2388 1980l14-2 -16-12 -14 1zm-14 2l14-2 -16-13 -14 3zm-14 3l14-3 -16-12 -14 3zm-15 4l15-4 -16-12 -15 3zm-14 4l14-4 -16-13 -14 4zm-15 4l15-4 -16-13 -15 4zm-15 5l15-5 -16-13 -15 5z"/><path class=ax d="M2287 2007l14-5 -16-13 -14 5zm-15 6l15-6 -16-13 -15 6zm-15 6l15-6 -16-13 -15 6zm-16 7l16-7 -16-13 -16 6zm-15 7l15-7 -16-14 -15 7zm-15 7l15-7 -16-14 -15 8z"/><path class=aw d="M2195 2048l16-8 -16-13 -16 7zm-15 8l15-8 -16-14 -15 8zm-16 9l16-9 -16-14 -16 9z"/><path class=av d="M2148 2074l16-9 -16-14 -16 9zm-16 9l16-9 -16-14 -16 9zm-16 10l16-10 -16-14 -16 9z"/><path class=au d="M2100 2103l16-10 -16-15 -16 10zm-16 10l16-10 -16-15 -16 10zm-16 10l16-10 -16-15 -16 11z"/><path class=at d="M2052 2134l16-11 -16-14 -17 11zm-17 12l17-12 -17-14 -16 11zm-17 11l17-11 -16-15 -17 11z"/><path class=as d="M2002 2169l16-12 -16-15 -16 12zm-17 12l17-12 -16-15 -17 12z"/><path class=ar d="M1968 2193l17-12 -16-15 -17 12zm-17 13l17-13 -16-15 -17 12z"/><path class=aq d="M1934 2218l17-12 -16-16 -17 13z"/><path class=aw d="M2459 1986l13 0 -16-11 -13 0z"/><path class=ax d="M2445 1987l14-1 -16-11 -14 0zm-13 1l13-1 -16-12 -13 1zm-14 2l14-2 -16-12 -14 2zm-14 2l14-2 -16-12 -14 2zm-14 2l14-2 -16-12 -14 2zm-15 4l15-4 -16-12 -14 3zm-14 3l14-3 -15-13 -15 4zm-14 4l14-4 -16-12 -14 4zm-15 5l15-5 -16-12 -15 4zm-15 5l15-5 -16-13 -15 5zm-14 5l14-5 -16-13 -14 5zm-15 6l15-6 -16-13 -15 6zm-15 6l15-6 -16-13 -15 6z"/><path class=aw d="M2258 2039l15-7 -16-13 -16 7zm-16 7l16-7 -17-13 -15 7zm-15 8l15-8 -16-13 -15 7zm-15 8l15-8 -16-14 -16 8z"/><path class=av d="M2196 2070l16-8 -17-14 -15 8zm-16 9l16-9 -16-14 -16 9zm-15 9l15-9 -16-14 -16 9zm-16 9l16-9 -17-14 -16 9z"/><path class=au d="M2133 2107l16-10 -17-14 -16 10zm-16 10l16-10 -17-14 -16 10zm-17 11l17-11 -17-14 -16 10z"/><path class=at d="M2084 2138l16-10 -16-15 -16 10zm-16 11l16-11 -16-15 -16 11z"/><path class=as d="M2051 2161l17-12 -16-15 -17 12zm-16 11l16-11 -16-15 -17 11z"/><path class=ar d="M2018 2184l17-12 -17-15 -16 12zm-17 12l17-12 -16-15 -17 12zm-16 13l16-13 -16-15 -17 12z"/><path class=aq d="M1968 2221l17-12 -17-16 -17 13zm-17 13l17-13 -17-15 -17 12z"/><path class=aw d="M2475 1998l13 0 -16-12 -13 0zm-14 1l14-1 -16-12 -14 1zm-14 1l14-1 -16-12 -13 1zm-13 2l13-2 -15-12 -14 2zm-14 2l14-2 -16-12 -14 2z"/><path class=ax d="M2406 2007l14-3 -16-12 -14 2zm-14 3l14-3 -16-13 -15 4zm-15 4l15-4 -17-12 -14 3zm-14 4l14-4 -16-13 -14 4z"/><path class=aw d="M2348 2023l15-5 -16-13 -15 5zm-14 5l14-5 -16-13 -15 5zm-15 5l15-5 -17-13 -14 5zm-15 6l15-6 -16-13 -15 6zm-15 7l15-7 -16-13 -15 6zm-15 6l15-6 -16-14 -15 7zm-15 8l15-8 -16-13 -16 7z"/><path class=av d="M2243 2067l16-7 -17-14 -15 8zm-15 8l15-8 -16-13 -15 8zm-16 9l16-9 -16-13 -16 8zm-15 9l15-9 -16-14 -16 9z"/><path class=au d="M2181 2102l16-9 -17-14 -15 9zm-16 9l16-9 -16-14 -16 9zm-16 10l16-10 -16-14 -16 10z"/><path class=at d="M2133 2132l16-11 -16-14 -16 10zm-16 10l16-10 -16-15 -17 11z"/><path class=as d="M2100 2153l17-11 -17-14 -16 10zm-16 11l16-11 -16-15 -16 11zm-16 12l16-12 -16-15 -17 12z"/><path class=ar d="M2051 2188l17-12 -17-15 -16 11zm-17 12l17-12 -16-16 -17 12z"/><path class=aq d="M2018 2212l16-12 -16-16 -17 12zm-17 13l17-13 -17-16 -16 13z"/><path class=ap d="M1984 2237l17-12 -16-16 -17 12zm-17 13l17-13 -16-16 -17 13z"/><path class=av d="M2491 2010l13 0 -16-12 -13 0z"/><path class=aw d="M2477 2011l14-1 -16-12 -14 1zm-13 1l13-1 -16-12 -14 1zm-14 2l14-2 -17-12 -13 2zm-14 2l14-2 -16-12 -14 2zm-14 3l14-3 -16-12 -14 3zm-14 3l14-3 -16-12 -14 3zm-15 4l15-4 -16-12 -15 4zm-14 5l14-5 -16-12 -14 4zm-15 4l15-4 -16-13 -15 5zm-14 5l14-5 -16-12 -14 5zm-15 6l15-6 -16-12 -15 5zm-15 6l15-6 -16-13 -15 6z"/><path class=av d="M2305 2059l15-7 -16-13 -15 7zm-15 7l15-7 -16-13 -15 6zm-15 7l15-7 -16-14 -15 8zm-15 8l15-8 -16-13 -16 7zm-16 8l16-8 -17-14 -15 8z"/><path class=au d="M2229 2098l15-9 -16-14 -16 9zm-16 9l16-9 -17-14 -15 9zm-16 9l16-9 -16-14 -16 9z"/><path class=at d="M2181 2126l16-10 -16-14 -16 9zm-16 10l16-10 -16-15 -16 10zm-16 10l16-10 -16-15 -16 11z"/><path class=as d="M2133 2157l16-11 -16-14 -16 10zm-16 11l16-11 -16-15 -17 11z"/><path class=ar d="M2101 2179l16-11 -17-15 -16 11zm-17 12l17-12 -17-15 -16 12zm-16 12l16-12 -16-15 -17 12z"/><path class=aq d="M2051 2215l17-12 -17-15 -17 12zm-17 13l17-13 -17-15 -16 12z"/><path class=ap d="M2017 2240l17-12 -16-16 -17 13zm-17 13l17-13 -16-15 -17 12z"/><path class=ao d="M1983 2267l17-14 -16-16 -17 13z"/><path class=av d="M2507 2022l13-1 -16-11 -13 0zm-14 1l14-1 -16-12 -14 1zm-13 1l13-1 -16-12 -13 1zm-14 2l14-2 -16-12 -14 2zm-14 2l14-2 -16-12 -14 2zm-14 3l14-3 -16-12 -14 3zm-14 4l14-4 -16-12 -14 3zm-14 4l14-4 -16-13 -15 4zm-15 4l15-4 -17-13 -14 5zm-14 5l14-5 -16-12 -15 4zm-15 5l15-5 -17-13 -14 5zm-15 6l15-6 -16-13 -15 6zm-15 6l15-6 -16-13 -15 6zm-14 7l14-7 -16-13 -15 7zm-16 7l16-7 -17-13 -15 7z"/><path class=au d="M2291 2087l15-8 -16-13 -15 7zm-15 8l15-8 -16-14 -15 8zm-16 8l16-8 -16-14 -16 8zm-15 9l15-9 -16-14 -15 9z"/><path class=at d="M2229 2121l16-9 -16-14 -16 9zm-15 9l15-9 -16-14 -16 9zm-16 10l16-10 -17-14 -16 10z"/><path class=as d="M2182 2150l16-10 -17-14 -16 10zm-16 11l16-11 -17-14 -16 10zm-16 11l16-11 -17-15 -16 11z"/><path class=ar d="M2133 2183l17-11 -17-15 -16 11zm-16 12l16-12 -16-15 -16 11z"/><path class=aq d="M2101 2206l16-11 -16-16 -17 12zm-17 12l17-12 -17-15 -16 12z"/><path class=ap d="M2067 2231l17-13 -16-15 -17 12zm-16 12l16-12 -16-16 -17 13zm-17 13l17-13 -17-15 -17 12z"/><path class=ao d="M2017 2269l17-13 -17-16 -17 13zm-17 14l17-14 -17-16 -17 14z"/><path class=au d="M2523 2033l13 0 -16-12 -13 1z"/><path class=av d="M2509 2034l14-1 -16-11 -14 1zm-13 2l13-2 -16-11 -13 1zm-14 2l14-2 -16-12 -14 2zm-14 2l14-2 -16-12 -14 2zm-14 3l14-3 -16-12 -14 3zm-14 4l14-4 -16-12 -14 4zm-14 4l14-4 -16-12 -14 4zm-14 5l14-5 -16-12 -15 4zm-15 5l15-5 -17-13 -14 5zm-15 5l15-5 -16-13 -15 5zm-14 6l14-6 -16-13 -15 6z"/><path class=au d="M2353 2078l15-6 -17-13 -15 6zm-15 7l15-7 -17-13 -14 7zm-15 7l15-7 -16-13 -16 7zm-15 8l15-8 -17-13 -15 8zm-16 8l16-8 -17-13 -15 8z"/><path class=at d="M2277 2117l15-9 -16-13 -16 8zm-16 8l16-8 -17-14 -15 9zm-15 10l15-10 -16-13 -16 9z"/><path class=as d="M2230 2144l16-9 -17-14 -15 9zm-16 10l16-10 -16-14 -16 10zm-16 11l16-11 -16-14 -16 10z"/><path class=ar d="M2182 2175l16-10 -16-15 -16 11zm-16 12l16-12 -16-14 -16 11zm-16 11l16-11 -16-15 -17 11z"/><path class=aq d="M2134 2210l16-12 -17-15 -16 12zm-17 12l17-12 -17-15 -16 11z"/><path class=ap d="M2101 2234l16-12 -16-16 -17 12zm-17 12l17-12 -17-16 -17 13z"/><path class=ao d="M2067 2259l17-13 -17-15 -16 12zm-16 13l16-13 -16-16 -17 13z"/><path class=an d="M2034 2285l17-13 -17-16 -17 13zm-17 14l17-14 -17-16 -17 14z"/><path class=au d="M2539 2045l13-1 -16-11 -13 0zm-13 1l13-1 -16-12 -14 1zm-14 1l14-1 -17-12 -13 2zm-14 2l14-2 -16-11 -14 2zm-13 3l13-3 -16-11 -14 2zm-14 3l14-3 -17-12 -14 3zm-14 4l14-4 -17-12 -14 4zm-15 4l15-4 -17-12 -14 4zm-14 5l14-5 -16-12 -14 5zm-15 5l15-5 -16-12 -15 5zm-14 6l14-6 -16-12 -15 5zm-15 6l15-6 -17-13 -14 6zm-15 6l15-6 -16-13 -15 6zm-15 7l15-7 -16-13 -15 7zm-15 7l15-7 -16-13 -15 7z"/><path class=at d="M2324 2113l15-8 -16-13 -15 8zm-15 8l15-8 -16-13 -16 8zm-15 9l15-9 -17-13 -15 9z"/><path class=as d="M2278 2139l16-9 -17-13 -16 8zm-16 10l16-10 -17-14 -15 10zm-15 9l15-9 -16-14 -16 9zm-16 11l16-11 -17-14 -16 10z"/><path class=ar d="M2215 2179l16-10 -17-15 -16 11zm-16 11l16-11 -17-14 -16 10z"/><path class=aq d="M2183 2201l16-11 -17-15 -16 12zm-16 12l16-12 -17-14 -16 11zm-17 11l17-11 -17-15 -16 12z"/><path class=ap d="M2134 2237l16-13 -16-14 -17 12zm-17 12l17-12 -17-15 -16 12z"/><path class=ao d="M2101 2262l16-13 -16-15 -17 12zm-17 13l17-13 -17-16 -17 13z"/><path class=an d="M2067 2288l17-13 -17-16 -16 13zm-17 13l17-13 -16-16 -17 13z"/><path class=am d="M2033 2315l17-14 -16-16 -17 14z"/><path class=at d="M2555 2056l14-1 -17-11 -13 1z"/><path class=au d="M2542 2057l13-1 -16-11 -13 1zm-13 2l13-2 -16-11 -14 1zm-14 2l14-2 -17-12 -14 2zm-14 3l14-3 -17-12 -13 3zm-14 3l14-3 -16-12 -14 3zm-14 4l14-4 -16-12 -14 4zm-14 4l14-4 -16-12 -15 4zm-15 5l15-5 -17-12 -14 5zm-14 5l14-5 -16-12 -15 5zm-15 6l15-6 -17-12 -14 6z"/><path class=at d="M2401 2097l14-6 -16-12 -15 6zm-15 7l15-7 -17-12 -15 6zm-15 7l15-7 -17-13 -15 7zm-15 7l15-7 -17-13 -15 7zm-15 8l15-8 -17-13 -15 8z"/><path class=as d="M2326 2135l15-9 -17-13 -15 8zm-16 8l16-8 -17-14 -15 9zm-15 10l15-10 -16-13 -16 9zm-16 9l16-9 -17-14 -16 10z"/><path class=ar d="M2263 2172l16-10 -17-13 -15 9zm-15 11l15-11 -16-14 -16 11zm-16 10l16-10 -17-14 -16 10z"/><path class=aq d="M2216 2204l16-11 -17-14 -16 11zm-16 12l16-12 -17-14 -16 11z"/><path class=ap d="M2183 2227l17-11 -17-15 -16 12zm-16 12l16-12 -16-14 -17 11zm-16 13l16-13 -17-15 -16 13z"/><path class=ao d="M2134 2264l17-12 -17-15 -17 12zm-16 13l16-13 -17-15 -16 13z"/><path class=an d="M2101 2290l17-13 -17-15 -17 13zm-17 14l17-14 -17-15 -17 13z"/><path class=am d="M2067 2317l17-13 -17-16 -17 13zm-17 14l17-14 -17-16 -17 14z"/><path class=at d="M2572 2066l13-1 -16-10 -14 1zm-13 2l13-2 -17-10 -13 1zm-14 1l14-1 -17-11 -13 2zm-14 3l14-3 -16-10 -14 2zm-13 3l13-3 -16-11 -14 3zm-14 3l14-3 -17-11 -14 3zm-14 4l14-4 -17-11 -14 4zm-15 5l15-5 -17-11 -14 4zm-14 5l14-5 -16-12 -15 5zm-14 5l14-5 -17-12 -14 5zm-15 6l15-6 -17-12 -15 6zm-15 6l15-6 -17-12 -14 6zm-14 7l14-7 -16-12 -15 7zm-15 7l15-7 -17-12 -15 7z"/><path class=as d="M2373 2131l15-8 -17-12 -15 7zm-15 8l15-8 -17-13 -15 8zm-16 9l16-9 -17-13 -15 9zm-15 9l15-9 -16-13 -16 8z"/><path class=ar d="M2311 2166l16-9 -17-14 -15 10zm-15 10l15-10 -16-13 -16 9zm-16 10l16-10 -17-14 -16 10z"/><path class=aq d="M2264 2196l16-10 -17-14 -15 11zm-15 11l15-11 -16-13 -16 10zm-16 11l16-11 -17-14 -16 11z"/><path class=ap d="M2216 2230l17-12 -17-14 -16 12zm-16 12l16-12 -16-14 -17 11z"/><path class=ao d="M2184 2254l16-12 -17-15 -16 12zm-17 12l17-12 -17-15 -16 13z"/><path class=an d="M2151 2279l16-13 -16-14 -17 12zm-17 13l17-13 -17-15 -16 13z"/><path class=am d="M2118 2306l16-14 -16-15 -17 13zm-17 13l17-13 -17-16 -17 14z"/><path class=al d="M2084 2333l17-14 -17-15 -17 13zm-17 14l17-14 -17-16 -17 14z"/><path class=as d="M2588 2077l14-1 -17-11 -13 1z"/><path class=at d="M2575 2078l13-1 -16-11 -13 2zm-13 2l13-2 -16-10 -14 1zm-14 3l14-3 -17-11 -14 3zm-14 3l14-3 -17-11 -13 3zm-14 3l14-3 -16-11 -14 3zm-14 4l14-4 -16-11 -14 4zm-14 5l14-5 -16-11 -15 5zm-14 5l14-5 -17-11 -14 5zm-15 6l15-6 -17-11 -14 5zm-14 6l14-6 -16-12 -15 6z"/><path class=as d="M2434 2121l15-6 -17-12 -15 6zm-15 7l15-7 -17-12 -14 7zm-14 7l14-7 -16-12 -15 7zm-15 8l15-8 -17-12 -15 8zm-16 9l16-9 -17-12 -15 8z"/><path class=ar d="M2359 2160l15-8 -16-13 -16 9zm-15 9l15-9 -17-12 -15 9zm-16 10l16-10 -17-12 -16 9zm-15 10l15-10 -17-13 -15 10z"/><path class=aq d="M2297 2199l16-10 -17-13 -16 10zm-16 11l16-11 -17-13 -16 10z"/><path class=ap d="M2265 2221l16-11 -17-14 -15 11zm-16 11l16-11 -16-14 -16 11zm-16 12l16-12 -16-14 -17 12z"/><path class=ao d="M2217 2256l16-12 -17-14 -16 12zm-16 12l16-12 -17-14 -16 12z"/><path class=an d="M2184 2281l17-13 -17-14 -17 12zm-16 13l16-13 -17-15 -16 13z"/><path class=am d="M2151 2307l17-13 -17-15 -17 13zm-16 14l16-14 -17-15 -16 14z"/><path class=al d="M2118 2334l17-13 -17-15 -17 13zm-17 15l17-15 -17-15 -17 14z"/><path class=ak d="M2084 2363l17-14 -17-16 -17 14z"/></g>
<path d="M440 473 441 472.6 442 472 443 471.5 444 470.9 445 470.6 446 470.1 447 469.6 448 469.1 449 468.5 450 468.3 451 467.8 452 467.3 453 466.8 454 466.3 455 465.9 456 465.6 457 465.1 458 464.6 459 464.2 460 463.7 461 463.4 462 463.1 463 462.6 464 462.2 465 461.8 466 461.4 467 461.1 468 460.7 469 460.4 470 460 471 459.6 472 459.2 473 458.9 474 458.6 475 458.3 476 458 477 457.7 478 457.3 479 457 480 456.7 481 456.4 482 456.1 483 455.9 484 455.6 485 455.4 486 455.1 487 454.9 488 454.6 489 454.4 490 454.2 491 453.9 492 453.7 493 453.5 494 453.3 495 453.1 496 452.9 497 452.7 498 452.5 499 452.4 500 452.2 501 452.1 502 451.9 503 451.8 504 451.7 505 451.5 506 451.4 507 451.3 508 451.2 509 451.1 510 451 511 450.9 512 450.8 513 450.7 514 450.6 515 450.6 516 450.5 517 450.4 518 450.4 519 450.4 520 450.3 521 450.3 522 450.3 523 450.3 524 450.3 525 450.3 526 450.3 527 450.3 528 450.3 529 450.3 530 450.3 531 450.4 532 450.4 533 450.5 534 450.5 535 450.6 536 450.7 537 450.8 538 451 539 451.1 540 451.3 541 451.5 542 451.7 543 451.9 544 452.1 545 452.4 546 452.7 547 453 548 453.3 549 453.6 550 453.9 551 454.3 552 454.5 553 454.8 554 455.2 555 455.6 556 456.1 557 456.5 558 456.9 559 457.4 560 457.9 561 458.4 562 458.9 563 459.4 564 459.7 565 460.2 566 460.7 567 461.3 568 461.9 569 462.4 570 463 571 463.6 572 464.3 573 464.9 574 465.2 575 465.8 576 466.5 577 467.2 578 467.8 579 468.5 580 469.2 581 469.5 582 470.2 583 470.9 584 471.7 585 472.4 586 473.1 587 473.9 588 474.2 589 475 590 475.7 591 476.5 592 477.3 593 478 594 478.8 595 479.2 596 480 597 480.8 598 481.6 599 482.4 600 483.2 601 483.6 602 484.4 603 485.2 604 486 605 486.8 606 487.3 607 488.1 608 488.9 609 489.7 610 490.6 611 491 612 491.8 613 492.6 614 493.5 615 494.3 616 494.7 617 495.6 618 496.4 619 497.2 620 498 620 498 619 497.2 618 496.4 617 495.6 616 494.8 615 494.4 614 493.6 613 492.8 612 492 611 491.2 610 490.8 609 490 608 489.2 607 488.4 606 487.6 605 487.2 604 486.4 603 485.6 602 484.8 601 484.1 600 483.7 599 482.9 598 482.1 597 481.4 596 480.6 595 479.8 594 479.4 593 478.7 592 478 591 477.2 590 476.5 589 475.8 588 475 587 474.7 586 474 585 473.3 584 472.6 583 471.9 582 471.2 581 470.5 580 470.2 579 469.5 578 468.8 577 468.2 576 467.5 575 466.8 574 466.2 573 465.9 572 465.3 571 464.6 570 464 569 463.4 568 462.9 567 462.3 566 461.7 565 461.2 564 460.7 563 460.4 562 459.9 561 459.4 560 458.9 559 458.4 558 457.9 557 457.5 556 457.1 555 456.6 554 456.2 553 455.8 552 455.5 551 455.3 550 454.9 549 454.6 548 454.3 547 454 546 453.7 545 453.4 544 453.1 543 452.9 542 452.7 541 452.5 540 452.3 539 452.1 538 452 537 451.8 536 451.7 535 451.6 534 451.5 533 451.5 532 451.4 531 451.4 530 451.3 529 451.3 528 451.3 527 451.3 526 451.3 525 451.3 524 451.3 523 451.3 522 451.3 521 451.3 520 451.3 519 451.4 518 451.4 517 451.4 516 451.5 515 451.6 514 451.6 513 451.7 512 451.8 511 451.9 510 452 509 452.1 508 452.2 507 452.3 506 452.4 505 452.5 504 452.7 503 452.8 502 452.9 501 453.1 500 453.2 499 453.4 498 453.5 497 453.7 496 453.9 495 454.1 494 454.3 493 454.5 492 454.7 491 454.9 490 455.2 489 455.4 488 455.6 487 455.9 486 456.1 485 456.4 484 456.6 483 456.9 482 457.1 481 457.4 480 457.7 479 458 478 458.3 477 458.6 476 458.9 475 459.2 474 459.4 473 459.7 472 460 471 460.4 470 460.7 469 461.1 468 461.4 467 461.7 466 462 465 462.4 464 462.8 463 463.2 462 463.6 461 463.9 460 464.2 459 464.7 458 465.1 457 465.5 456 466 455 466.3 454 466.6 453 467.1 452 467.6 451 468 450 468.5 449 468.8 448 469.3 447 469.8 446 470.3 445 470.8 444 471 443 471.5 442 472.1 441 472.6 440 473Z" fill="#140804" fill-opacity="0.5"/>
<path d="M451.7 526L451.7 526" stroke="#808080" stroke-width="0.8"/><ellipse cx="451.7" cy="526" rx="2.8" ry="2.2" fill="#b81414" stroke="#801010" stroke-width="0.4"/><path d="M589.7 541.7L589.8 540.1" stroke="#808080" stroke-width="0.8"/><ellipse cx="589.7" cy="541.7" rx="2.5" ry="1.9" fill="#f0cfc6" stroke="#b06858" stroke-width="0.5"/><path d="M458.7 459.3L458.8 464.4" stroke="#808080" stroke-width="0.8"/><ellipse cx="458.7" cy="459.3" rx="2.8" ry="2.2" fill="#b81414" stroke="#801010" stroke-width="0.4"/><path d="M521.1 461L521.1 484.8" stroke="#808080" stroke-width="0.8"/><ellipse cx="521.1" cy="461" rx="2.8" ry="2.2" fill="#b81414" stroke="#801010" stroke-width="0.4"/><path d="M521.1 474.3L521.1 484.8" stroke="#808080" stroke-width="0.8"/><ellipse cx="521.1" cy="474.3" rx="2.8" ry="2.2" fill="#b81414" stroke="#801010" stroke-width="0.4"/><path d="M521.1 487.7L521.1 484.8" stroke="#808080" stroke-width="0.8"/><ellipse cx="521.1" cy="487.7" rx="2.5" ry="1.9" fill="#f0cfc6" stroke="#b06858" stroke-width="0.5"/>
</svg></body></html>
